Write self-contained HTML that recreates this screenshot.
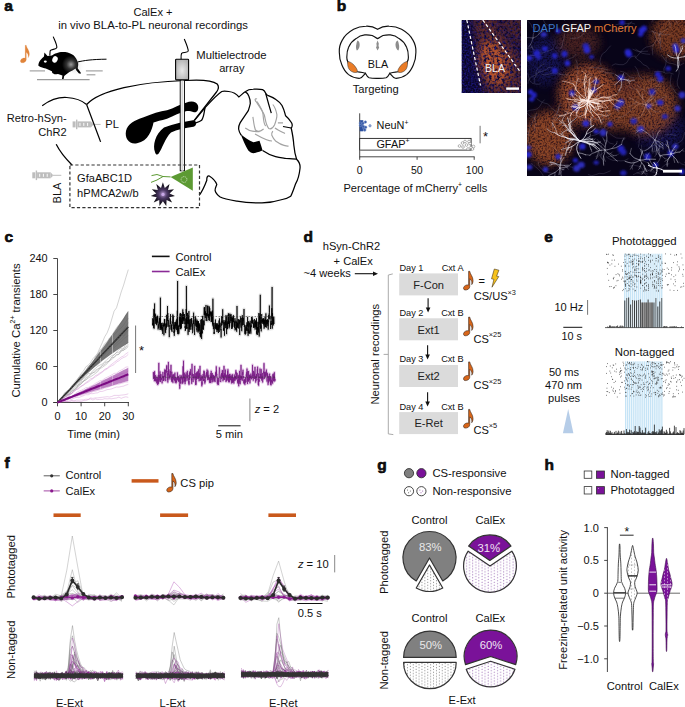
<!DOCTYPE html>
<html><head><meta charset="utf-8"><title>Figure</title><style>html,body{margin:0;padding:0;background:#fff;width:685px;height:707px;overflow:hidden}svg{display:block}text{font-family:"Liberation Sans",sans-serif}</style></head><body>
<svg width="685" height="707" viewBox="0 0 685 707" font-family="'Liberation Sans', sans-serif">
<rect width="685" height="707" fill="#fff"/>
<text x="4.3" y="10.8" font-size="15.5" font-weight="bold" fill="#111" stroke="#000" stroke-width="0.6">a</text>
<text x="153" y="16.3" font-size="11.1" text-anchor="middle" fill="#111">CalEx +</text>
<text x="153.1" y="28.9" font-size="11.3" text-anchor="middle" fill="#111">in vivo BLA-to-PL neuronal recordings</text>
<path transform="translate(25.2,45.3) scale(0.972)" d="M0,0 L1.1,0 C1.4,2.8 4.3,4.8 4.3,9 C4.3,10.8 3.5,12.2 3,12.8 C3.4,10.8 3.2,8.8 1.1,7.2 L1.1,14.8 C1.1,16.8 -1.2,18.1 -3.3,18 C-5,17.9 -5.4,16 -4.3,14.6 C-3.2,13.3 -1.4,12.8 0,13.2 Z" fill="#e0843a" stroke="#e0843a" stroke-width="0.21"/>
<line x1="29.7" y1="70.9" x2="45" y2="70.9" stroke="#9a9a9a" stroke-width="1.1"/>
<line x1="85.9" y1="70.9" x2="102.7" y2="70.9" stroke="#9a9a9a" stroke-width="1.1"/>
<line x1="86.6" y1="74.8" x2="95.4" y2="74.8" stroke="#9a9a9a" stroke-width="1.1"/>
<line x1="37" y1="79.6" x2="89.6" y2="79.6" stroke="#9a9a9a" stroke-width="1.1"/>
<defs><radialGradient id="mg" cx="71" cy="64.5" r="9" gradientUnits="userSpaceOnUse"><stop offset="0" stop-color="#9a9a9a"/><stop offset="0.5" stop-color="#333"/><stop offset="1" stop-color="#000"/></radialGradient><radialGradient id="mh" cx="74" cy="66" r="11" gradientUnits="userSpaceOnUse"><stop offset="0" stop-color="#ccc" stop-opacity="0.9"/><stop offset="1" stop-color="#fff" stop-opacity="0"/></radialGradient></defs>
<ellipse cx="79" cy="66" rx="9" ry="10" fill="url(#mh)"/>
<path d="M77.5,62 C84,60.5 92,59.3 106.5,59.2" fill="none" stroke="#000" stroke-width="1.0"/>
<path d="M38.3,65.6 C38.5,63 39.5,61 40.5,59.9 C41.8,58.3 43,57.2 44,56.4 L44.4,52.4 L47.5,55.9 C49,55.8 50.5,55.7 51.9,55.5 C53.5,54.5 55,53.6 56.3,53.3 C58.5,52.5 60.5,52 62.4,52 C64.5,52 66.2,52.1 67.7,52.4 C70.5,53.2 72.5,54.3 73.8,55.5 C75.5,57.2 77,59.5 77.7,62.1 C78.2,63.2 78.4,64.2 78.2,65.1 C78,66.3 77.8,67.4 77.7,68.2 L80.3,72.1 L81.2,73.5 L79,73.5 L76.4,70.4 C76,69.8 75.8,69.2 75.5,68.6 C73.5,70 71.5,71.2 69.4,72.1 C67.5,73.5 65.8,74.8 64.2,76.1 L63.6,78.9 L62,78.9 L62.4,75.6 C61,74.8 59.5,74.2 58,73.9 C56.8,74.1 55.6,74.3 54.5,74.3 L52.3,73 L51.9,71.3 C49.5,70.3 47.5,69.5 45.8,68.6 C44.2,68.2 42.8,67.8 41.4,67.3 C40.2,66.9 38.9,66.4 38.3,65.6 Z" fill="url(#mg)" stroke="none" stroke-width="1"/>
<ellipse cx="45.3" cy="61.6" rx="1.5" ry="1.1" fill="#fff"/>
<ellipse cx="55" cy="59.4" rx="2.6" ry="3.3" fill="#fff" transform="rotate(25 55 59.4)"/>
<path d="M53.2,36.6 C55,41 57.2,45 56.8,47.6 C56.2,50 50.3,48.8 50.1,51.2 L49.8,55.6" fill="none" stroke="#000" stroke-width="1.1"/>
<rect x="72.6" y="121.4" width="3" height="6" fill="#bdbdbd"/><rect x="76.0" y="119.60000000000001" width="1.4" height="9.6" fill="#bdbdbd"/><rect x="77.39999999999999" y="121.4" width="13.5" height="6" fill="#bdbdbd"/><rect x="79.39999999999999" y="122.9" width="1.1" height="3" fill="#f4f4f4"/><rect x="83.19999999999999" y="122.9" width="1.1" height="3" fill="#f4f4f4"/><rect x="87.0" y="122.9" width="1.1" height="3" fill="#f4f4f4"/><path d="M90.89999999999999,121.4 L93.1,123.80000000000001 L93.1,125.0 L90.89999999999999,127.4 Z" fill="#bdbdbd"/><rect x="93.1" y="123.9" width="7.5" height="1" fill="#bdbdbd"/>
<rect x="32.3" y="172.3" width="3" height="6" fill="#bdbdbd"/><rect x="35.699999999999996" y="170.5" width="1.4" height="9.6" fill="#bdbdbd"/><rect x="37.099999999999994" y="172.3" width="13.5" height="6" fill="#bdbdbd"/><rect x="39.099999999999994" y="173.8" width="1.1" height="3" fill="#f4f4f4"/><rect x="42.9" y="173.8" width="1.1" height="3" fill="#f4f4f4"/><rect x="46.699999999999996" y="173.8" width="1.1" height="3" fill="#f4f4f4"/><path d="M50.599999999999994,172.3 L52.8,174.70000000000002 L52.8,175.9 L50.599999999999994,178.3 Z" fill="#bdbdbd"/><rect x="52.8" y="174.8" width="8.5" height="1" fill="#bdbdbd"/>
<text x="66.6" y="121.9" font-size="11.1" text-anchor="end" fill="#111">Retro-hSyn-</text>
<text x="66.6" y="135.6" font-size="11.1" text-anchor="end" fill="#111">ChR2</text>
<text x="105.3" y="128.4" font-size="11.1" fill="#111">PL</text>
<text transform="translate(61.2,193) rotate(-90)" font-size="11.1" text-anchor="middle" fill="#111">BLA</text>
<text x="196.3" y="59.4" font-size="11.3" fill="#111">Multielectrode</text>
<text x="231.8" y="72.4" font-size="11.1" text-anchor="middle" fill="#111">array</text>
<text x="77.1" y="182.4" font-size="11.1" fill="#111">GfaABC1D</text>
<text x="77.1" y="197" font-size="11.1" fill="#111">hPMCA2w/b</text>
<path d="M42.2,105.7 C50,100 58,97 66.7,97.5 C75,98 82,100.5 86.6,104.5" fill="none" stroke="#000" stroke-width="1.25"/>
<path d="M86.6,104.5 L100.6,141.9" fill="none" stroke="#000" stroke-width="1.25"/>
<path d="M56.2,144.3 C60,152 66,159 72,165" fill="none" stroke="#000" stroke-width="1.25"/>
<path d="M86.6,104.5 C100,90 140,82 185,80.5 C200,79.5 212,80 217.2,84 C219.6,87 218,90 216.5,92 L193.8,120.8" fill="none" stroke="#000" stroke-width="1.25"/>
<path d="M245.2,91.8 C243,93 241.5,95 238.8,96.9 C237,94.5 233,92 228.8,91.5 C225,91 223,91 221.8,91.5 C218,94 212,100 205.1,107.7 L194.6,120.3" fill="none" stroke="#000" stroke-width="1.25"/>
<path d="M205.1,107.7 C204,112 204,117 201.6,120.3 C199.5,122 197,122.5 195.5,123" fill="none" stroke="#000" stroke-width="1.25"/>
<path d="M245.2,91.8 C248,89.5 251,89.2 253.4,89.2 C257,89 261,89.2 262.6,89.7 C264.5,90.5 265.2,92 265.7,93.3 C266.5,94.5 267,95 267.7,95.3 C271,96.5 274,98 275.9,99.4 C279,101.5 281,103.5 282,105.5 C283.5,108.5 284.5,111.5 285,113.7 C285.3,115 285.6,115.8 285.6,115.8 C287.5,117.5 289,119 290.2,120.9 C291.6,122.5 292.4,124.5 292.2,125.5 C292,127 291.5,127.8 291.2,128 C292.5,134 293.5,140 293.8,145 C294.3,150 295.5,156 296.6,159.2" fill="none" stroke="#000" stroke-width="1.25"/>
<path d="M265.7,93.3 C267.5,100 269.5,107 271.3,113.2" fill="none" stroke="#000" stroke-width="1.25"/>
<path d="M283,126.5 L291.2,128" fill="none" stroke="#000" stroke-width="1.25"/>
<path d="M245.2,91.8 C247,92.5 248.2,94 248.8,96 C250,99 250.5,102 250.3,103.5 C249.8,106 249,108.5 248.3,110.7 C245.5,115 242.5,119 240.1,122.9 C239,125 238.4,127 238.6,129 C239,131.5 240,133.5 241.1,135.2" fill="none" stroke="#000" stroke-width="1.25"/>
<path d="M240.6,134 C242.5,139 245.5,146 248.3,150.5 C250,152.5 252.5,153.5 255,153 C258,152.2 261,151.2 262.6,150.5 C261.5,147 260.5,143.5 259.5,140.8 C257,141.5 255,142 253.4,142.3 C249,140.5 244.5,137.5 240.6,134 Z" fill="#000" stroke="none" stroke-width="1"/>
<path d="M262.6,150.5 C267,153.5 272,155.8 275.6,156.7 C279,157.5 283,158 285.6,158.4 C290,158.6 294,158.8 296.6,159.2 C299.5,162 300.3,166 300,168.5 C299.3,175 297.8,180 295.7,183.6 C294,188 292.5,193 290.7,196.2 C288,198 285,199 282.3,199.5 C276,201.5 269,202.8 262,202.9 C253,203 245,202.5 237,201.2 C230,200 224,199 220.2,197 C217.5,195 215.5,193 215.1,190.3 C215,188 216.5,186 216.8,184.4 C215.5,181 212.5,178 209.3,176 C207.5,175.5 206.6,177.5 206.8,180.2 C205,185 202.5,191 199.2,195.3" fill="none" stroke="#000" stroke-width="1.25"/>
<path d="M257,99 C255,98 254.5,100 256,101.5 C259,106 262,110 264.3,115 C265.5,119 265.5,124 268.7,128.5 C271,129.5 273,128 274.5,125 C276,121 277,117 276.9,114.7 C276,110 274.5,106.5 272.8,104.5" fill="none" stroke="#a2a2a2" stroke-width="1.15"/>
<path d="M257,101.5 C260,106 262.5,110 263,114 C263.5,119 263.5,124 265.7,126" fill="none" stroke="#a2a2a2" stroke-width="1.15"/>
<path d="M252.9,116.8 C253.5,121 254,126 255.4,130 C257,131.8 260,131.8 263.6,129" fill="none" stroke="#a2a2a2" stroke-width="1.15"/>
<path d="M245.2,128 C248,130 250,131 252.4,131.1 C255,131.5 257,131.6 259.5,131.6" fill="none" stroke="#a2a2a2" stroke-width="1.15"/>
<path d="M272.8,131.1 C271.5,133 271.5,134.5 271.8,135.2 C273,138 274.5,140 275.9,141.3 C279,143.5 282,145 284,145.4 C286,146 287.5,146.3 288.6,146" fill="none" stroke="#a2a2a2" stroke-width="1.15"/>
<path d="M277.9,122.9 L283,122.9 M274.9,128 C278,130 282,132 285,133.6 M255,134 C262,138 268,141 272,141" fill="none" stroke="#a2a2a2" stroke-width="1.15"/>
<path d="M126,131 C127.5,124 135,120 143,117.5 C152,114 160,111 167,110.3 C174,108 180,104.5 186,102.7 C191,100.8 196.5,101 198,105.5 C199,110 196.8,112.8 194,112.2 C191,111.5 189,110.8 186,111.2 C180,112.5 174,115.5 167,118.8 C161,120.5 156.5,121.5 153.5,122.5 C152,130 148.5,141 137,143.3 C129.5,145 124.5,138.5 126,131 Z" fill="#000" stroke="none" stroke-width="1"/>
<path d="M155,152 C152.5,146 155,134 164,127.5 C174,124 184,121.5 193,120.3 C197,120 197.2,126.2 193.5,126.8 C185,128 177,129.8 171,132.4 C165,138 162.5,148 158.5,153.8 C157,155.5 155.3,154.2 155,152 Z" fill="#000" stroke="none" stroke-width="1"/>
<rect x="180.2" y="80" width="4.3" height="90.8" fill="#fff" stroke="#000" stroke-width="0.9"/>
<rect x="181.4" y="80" width="1.9" height="90.8" fill="#d8d8d8"/>
<defs><radialGradient id="eg" cx="0.5" cy="0.55" r="0.6"><stop offset="0" stop-color="#e8e8e8"/><stop offset="1" stop-color="#b0b0b0"/></radialGradient></defs>
<rect x="175.6" y="59.3" width="13" height="20.6" rx="0.8" fill="url(#eg)" stroke="#000" stroke-width="1.1"/>
<path d="M184.3,39 C186,43 188.6,49 188.2,51.2 C187.6,53 183,52 181.6,53.3 C181,54.5 181,57 181.1,59.3" fill="none" stroke="#000" stroke-width="1.1"/>
<rect x="69.9" y="165" width="129.6" height="42.6" fill="none" stroke="#333" stroke-width="1.2" stroke-dasharray="3.2,2.2"/>
<path d="M170.6,176.9 L192.8,167.4 L192.8,190.8 Z" fill="#5c9a33" stroke="none" stroke-width="1"/>
<path d="M170.6,176.9 L163,176.5 L157,174.5 L151.5,175.6 M163,176.5 L157,180 L151,182.4" fill="none" stroke="#5c9a33" stroke-width="1.0"/>
<circle cx="184" cy="179.5" r="2.9" fill="none" stroke="#e8f0e0" stroke-width="0.7" stroke-dasharray="1.2,0.8"/>
<defs><radialGradient id="sg" cx="0.5" cy="0.5" r="0.5"><stop offset="0" stop-color="#b89ad0"/><stop offset="0.35" stop-color="#4d3a66"/><stop offset="0.75" stop-color="#1a1422"/><stop offset="1" stop-color="#0a0a0a"/></radialGradient></defs>
<polygon points="162.9,182.2 164.8,187.9 169.5,184.1 168.0,189.9 174.0,189.3 169.6,193.4 175.0,196.1 169.1,197.2 172.1,202.4 166.6,200.1 166.3,206.1 162.9,201.2 159.5,206.1 159.2,200.1 153.7,202.4 156.7,197.2 150.8,196.1 156.2,193.4 151.8,189.3 157.8,189.9 156.3,184.1 161.0,187.9" fill="url(#sg)"/>
<circle cx="163" cy="194.4" r="1.6" fill="#c8a8e8"/>
<text x="336.8" y="11.2" font-size="15.5" font-weight="bold" fill="#111" stroke="#000" stroke-width="0.6">b</text>
<path d="M377.6,29.3 C374,27 370,26 366,26.2 C361,26.3 357,27.5 353.6,29.3 C348,32.5 344.5,36 342.4,39.9 C340,44 339,48 339.3,52.3 C339.3,57 340,61 341.8,64.7 C343.5,69 346,72.5 348.6,74.6 C352,77 356,78.5 359.8,78.3 C362,78 363.5,75.5 365.4,73.3 C366.5,75.5 367.5,77 369.1,77.7 C372,78.4 375,78.3 377.6,78.3 C380.2,78.3 383.2,78.4 386.1,77.7 C387.7,77 388.7,75.5 389.8,73.3 C391.7,75.5 393.2,78 395.4,78.3 C399.2,78.5 403.2,77 406.6,74.6 C409.2,72.5 411.7,69 413.4,64.7 C415.2,61 415.9,57 415.9,52.3 C416.2,48 415.2,44 412.8,39.9 C410.7,36 407.2,32.5 401.6,29.3 C398.2,27.5 394.2,26.3 389.2,26.2 C385.2,26 381.2,27 377.6,29.3 Z" fill="#fff" stroke="#111" stroke-width="1.15"/>
<path d="M365.4,73.3 C363,72.5 361.5,72.2 359.8,72.1 C356,71.8 353,71 351.1,69.6 C349.5,67 348.5,64.5 348,62.2 C347,60 346.7,58.5 346.8,57.2 C346.8,53 347.3,50 348.6,47.3 C350.5,43 353,40.5 356.1,38.6 C358.5,36.5 361.5,35.2 364.8,34.9 C367.5,34.7 370,35 372.2,35.5 C374.5,36.5 376,38 377.6,38.6 C379.2,38 380.7,36.5 383,35.5 C385.2,35 387.7,34.7 390.4,34.9 C393.7,35.2 396.7,36.5 399.1,38.6 C402.2,40.5 404.7,43 406.6,47.3 C407.9,50 408.4,53 408.4,57.2 C408.5,58.5 408.2,60 407.2,62.2 C406.7,64.5 405.7,67 404.1,69.6 C402.2,71 399.2,71.8 395.4,72.1 C393.7,72.2 392.2,72.5 389.8,73.3" fill="none" stroke="#111" stroke-width="1.15"/>
<path d="M347.9,61.4 C350.5,62 352.5,63.2 354.2,65.3 C356,67.5 357.3,69.5 357.4,71 C357.3,72.6 355.5,72.9 353.2,72.2 C350.5,71.3 348.8,69.4 348.2,67.3 C347.6,65.3 347.5,63 347.9,61.4 Z" fill="#ea7c27" stroke="#333" stroke-width="0.5"/>
<path d="M347.9,61.4 C350.5,62 352.5,63.2 354.2,65.3 C356,67.5 357.3,69.5 357.4,71 C357.3,72.6 355.5,72.9 353.2,72.2 C350.5,71.3 348.8,69.4 348.2,67.3 C347.6,65.3 347.5,63 347.9,61.4 Z" fill="#ea7c27" stroke="#333" stroke-width="0.5" transform="translate(755.2,0) scale(-1,1)"/>
<path d="M357.6,40.6 C359.2,41.5 360,43.5 359.6,46 C359.3,48 358.2,50 356.8,50.6 C356,49 355.7,46.5 356.4,44 C356.7,42.5 357,41.3 357.6,40.6 Z" fill="#8d8d8d" stroke="none" stroke-width="1"/>
<path d="M357.6,40.6 C359.2,41.5 360,43.5 359.6,46 C359.3,48 358.2,50 356.8,50.6 C356,49 355.7,46.5 356.4,44 C356.7,42.5 357,41.3 357.6,40.6 Z" fill="#8d8d8d" stroke="none" stroke-width="1" transform="translate(755.2,0) scale(-1,1)"/>
<path d="M377.6,40.6 L378.8,43.5 L378.5,46 L379.2,47.5 L377.6,50.6 L376,47.5 L376.7,46 L376.4,43.5 Z" fill="#8d8d8d" stroke="none" stroke-width="1"/>
<text x="377.9" y="67.9" font-size="10.8" text-anchor="middle" fill="#111">BLA</text>
<text x="375.7" y="93.4" font-size="11.2" text-anchor="middle" fill="#111">Targeting</text>
<line x1="359.7" y1="113.3" x2="359.7" y2="157.3" stroke="#333" stroke-width="0.9"/>
<line x1="359.7" y1="156.8" x2="474.6" y2="156.8" stroke="#333" stroke-width="0.9"/>
<line x1="359.7" y1="156.8" x2="359.7" y2="159.8" stroke="#333" stroke-width="0.9"/>
<line x1="417.1" y1="156.8" x2="417.1" y2="159.8" stroke="#333" stroke-width="0.9"/>
<line x1="474.2" y1="156.8" x2="474.2" y2="159.8" stroke="#333" stroke-width="0.9"/>
<rect x="359.7" y="120.2" width="3.6" height="11.1" fill="#2c4f9e"/>
<circle cx="363.8" cy="128.0" r="1.25" fill="#3558a8" stroke="#7d96c8" stroke-width="0.5"/>
<circle cx="364.8" cy="130.0" r="1.25" fill="#3558a8" stroke="#7d96c8" stroke-width="0.5"/>
<circle cx="364.5" cy="129.8" r="1.25" fill="#3558a8" stroke="#7d96c8" stroke-width="0.5"/>
<circle cx="360.4" cy="125.4" r="1.25" fill="#3558a8" stroke="#7d96c8" stroke-width="0.5"/>
<circle cx="365.7" cy="127.2" r="1.25" fill="#3558a8" stroke="#7d96c8" stroke-width="0.5"/>
<circle cx="365.4" cy="122.1" r="1.25" fill="#3558a8" stroke="#7d96c8" stroke-width="0.5"/>
<circle cx="362.9" cy="123.3" r="1.25" fill="#3558a8" stroke="#7d96c8" stroke-width="0.5"/>
<circle cx="363.4" cy="126.5" r="1.25" fill="#3558a8" stroke="#7d96c8" stroke-width="0.5"/>
<circle cx="360.3" cy="123.1" r="1.25" fill="#3558a8" stroke="#7d96c8" stroke-width="0.5"/>
<circle cx="370" cy="125.8" r="1.2" fill="#9db0d8" stroke="#4a6ab0" stroke-width="0.5"/>
<rect x="359.7" y="138.4" width="111.4" height="11.8" fill="#fff" stroke="#222" stroke-width="0.9"/>
<line x1="359.7" y1="150.3" x2="471" y2="150.3" stroke="#888" stroke-width="1.2"/>
<circle cx="459.5" cy="146" r="1.35" fill="#fff" stroke="#777" stroke-width="0.55"/>
<circle cx="462.5" cy="143" r="1.35" fill="#fff" stroke="#777" stroke-width="0.55"/>
<circle cx="463" cy="147" r="1.35" fill="#fff" stroke="#777" stroke-width="0.55"/>
<circle cx="465" cy="141.5" r="1.35" fill="#fff" stroke="#777" stroke-width="0.55"/>
<circle cx="466.5" cy="145" r="1.35" fill="#fff" stroke="#777" stroke-width="0.55"/>
<circle cx="468" cy="149" r="1.35" fill="#fff" stroke="#777" stroke-width="0.55"/>
<circle cx="470" cy="143.5" r="1.35" fill="#fff" stroke="#777" stroke-width="0.55"/>
<circle cx="471" cy="147.5" r="1.35" fill="#fff" stroke="#777" stroke-width="0.55"/>
<circle cx="472.5" cy="149" r="1.35" fill="#fff" stroke="#777" stroke-width="0.55"/>
<circle cx="473.5" cy="146.5" r="1.35" fill="#fff" stroke="#777" stroke-width="0.55"/>
<circle cx="469" cy="141.5" r="1.35" fill="#fff" stroke="#777" stroke-width="0.55"/>
<line x1="480.1" y1="125.8" x2="480.1" y2="143.3" stroke="#666" stroke-width="0.9"/>
<text x="485.6" y="140.5" font-size="13" text-anchor="middle" fill="#111">*</text>
<text x="376.6" y="129.4" font-size="10.9" fill="#111">NeuN<tspan font-size="6.8" dy="-4.6">+</tspan></text>
<text x="376.4" y="148" font-size="10.9" fill="#111">GFAP<tspan font-size="6.8" dy="-4.6">+</tspan></text>
<text x="359.7" y="173.5" font-size="10.5" text-anchor="middle" fill="#111">0</text>
<text x="416.8" y="173.5" font-size="10.5" text-anchor="middle" fill="#111">50</text>
<text x="474.6" y="173.5" font-size="10.5" text-anchor="middle" fill="#111">100</text>
<text x="343.4" y="192.3" font-size="11.1" fill="#111">Percentage of mCherry<tspan font-size="6.8" dy="-5">+</tspan><tspan dy="5"> cells</tspan></text>
<defs><clipPath id="cpS"><rect x="461.5" y="20" width="59.5" height="73"/></clipPath><filter id="sF" filterUnits="userSpaceOnUse" x="461.5" y="20" width="59.5" height="73"><feGaussianBlur in="SourceGraphic" stdDeviation="4" result="b"/><feTurbulence type="fractalNoise" baseFrequency="0.38" numOctaves="2" seed="12" result="t"/><feColorMatrix in="t" type="matrix" values="0 0 0 0 0  0 0 0 0 0  0 0 0 0 0  3.0 0 0 0 -0.8" result="ta"/><feComposite in="b" in2="ta" operator="in"/></filter><filter id="sF2" filterUnits="userSpaceOnUse" x="461.5" y="20" width="59.5" height="73"><feGaussianBlur in="SourceGraphic" stdDeviation="3" result="b"/><feTurbulence type="fractalNoise" baseFrequency="0.6" numOctaves="1" seed="3" result="t"/><feColorMatrix in="t" type="matrix" values="0 0 0 0 0  0 0 0 0 0  0 0 0 0 0  3 0 0 0 -1.1" result="ta"/><feComposite in="b" in2="ta" operator="in"/></filter></defs>
<g clip-path="url(#cpS)">
<rect x="461.5" y="20" width="59.5" height="73" fill="#0a0626"/>
<g filter="url(#sF2)" opacity="0.5"><rect x="455" y="15" width="75" height="85" fill="#2a22c0"/></g>
<g filter="url(#sF)"><path d="M472,15 L490,15 L522,58 L522,95 L486,95 Z" fill="#7a3420" opacity="0.75"/><ellipse cx="493" cy="63" rx="14" ry="22" fill="#b8542a" transform="rotate(-18 493 63)"/><path d="M492,15 L525,15 L525,52 Z" fill="#6a3020" opacity="0.7"/></g>
</g>
<line x1="466.8" y1="20" x2="480.5" y2="85.5" stroke="#fff" stroke-width="1.2" stroke-dasharray="3.2,2.2"/>
<line x1="482.8" y1="20" x2="520" y2="71.5" stroke="#fff" stroke-width="1.2" stroke-dasharray="3.2,2.2"/>
<text x="495" y="71.8" font-size="10.6" text-anchor="middle" fill="#f0f0f0">BLA</text>
<rect x="506.2" y="87.4" width="12.8" height="2.4" fill="#fff"/>
<defs><clipPath id="cpB"><rect x="527" y="20" width="158" height="156"/></clipPath><filter id="blobF" filterUnits="userSpaceOnUse" x="527" y="20" width="158" height="156"><feGaussianBlur in="SourceGraphic" stdDeviation="5" result="b"/><feTurbulence type="fractalNoise" baseFrequency="0.55" numOctaves="2" seed="4" result="t"/><feColorMatrix in="t" type="matrix" values="0 0 0 0 0  0 0 0 0 0  0 0 0 0 0  2.6 0 0 0 -0.55" result="ta"/><feComposite in="b" in2="ta" operator="in"/></filter><filter id="nucF" filterUnits="userSpaceOnUse" x="527" y="20" width="158" height="156"><feGaussianBlur stdDeviation="0.9"/></filter><filter id="glowF" filterUnits="userSpaceOnUse" x="527" y="20" width="158" height="156"><feGaussianBlur stdDeviation="6"/></filter><filter id="fibF" filterUnits="userSpaceOnUse" x="527" y="20" width="158" height="156"><feGaussianBlur stdDeviation="0.25"/></filter></defs>
<g clip-path="url(#cpB)">
<rect x="527" y="20" width="158" height="156" fill="#080418"/>
<g filter="url(#blobF)" opacity="0.6"><ellipse cx="545" cy="60" rx="20" ry="25" fill="#1a1a70"/><ellipse cx="660" cy="130" rx="25" ry="20" fill="#1a1a70"/></g>
<g filter="url(#glowF)" opacity="0.55">
<ellipse cx="588" cy="95" rx="27.0" ry="27.900000000000002" fill="#5a2412" opacity="1"/>
<ellipse cx="645" cy="105" rx="28.8" ry="27.0" fill="#5a2412" opacity="1"/>
<ellipse cx="549" cy="138" rx="21.6" ry="24.3" fill="#5a2412" opacity="1"/>
<ellipse cx="615" cy="118" rx="14.4" ry="10.8" fill="#5a2412" opacity="0.9"/>
<ellipse cx="676" cy="36" rx="22.5" ry="19.8" fill="#5a2412" opacity="0.95"/>
<ellipse cx="578" cy="42" rx="19.8" ry="14.4" fill="#5a2412" opacity="0.55"/>
<ellipse cx="626" cy="86" rx="10.8" ry="9.0" fill="#5a2412" opacity="0.6"/>
</g>
<g filter="url(#blobF)">
<ellipse cx="588" cy="95" rx="30" ry="31" fill="#94492c" opacity="1"/>
<ellipse cx="645" cy="105" rx="32" ry="30" fill="#7e3f26" opacity="1"/>
<ellipse cx="549" cy="138" rx="24" ry="27" fill="#8a4428" opacity="1"/>
<ellipse cx="615" cy="118" rx="16" ry="12" fill="#804028" opacity="0.9"/>
<ellipse cx="676" cy="36" rx="25" ry="22" fill="#7a3c24" opacity="0.95"/>
<ellipse cx="578" cy="42" rx="22" ry="16" fill="#643024" opacity="0.55"/>
<ellipse cx="626" cy="86" rx="12" ry="10" fill="#643024" opacity="0.6"/>
</g>
<g><path d="M553.1 127.6l-1.3-3.8 1.1-3.9 1-3.8 2.9-2.8 1.6-3.7 1.8-3.6" fill="none" stroke="#b0b0cc" stroke-width="0.4" stroke-opacity="0.45"/><path d="M651.6 22.2l2.3-3.2 3.4-2.2 2.4-3.2 1.4-3.8-.9-3.9 1.6-3.7" fill="none" stroke="#b0b0cc" stroke-width="0.4" stroke-opacity="0.45"/><path d="M643.7 156.5l-1.1-3.8-1-3.9-.1-4" fill="none" stroke="#b0b0cc" stroke-width="0.4" stroke-opacity="0.45"/><path d="M629.5 166.3l3.8-1.2 3.9 .8 4 .7" fill="none" stroke="#b0b0cc" stroke-width="0.4" stroke-opacity="0.45"/><path d="M614.2 73.5l-4-.4-4-.3-3.6-1.7-3.9 .2" fill="none" stroke="#b0b0cc" stroke-width="0.4" stroke-opacity="0.45"/><path d="M558.2 125.1l3.2-2.4 1.5-3.7 1.9-3.5 2.1-3.5 1.6-3.6 .8-3.9-.8-3.9" fill="none" stroke="#b0b0cc" stroke-width="0.4" stroke-opacity="0.45"/><path d="M611.7 65.6l3.6-1.7 3.9 .7 4 .1 3.5-2 2.1-3.4 2.9-2.8 3.9-.6" fill="none" stroke="#b0b0cc" stroke-width="0.4" stroke-opacity="0.45"/><path d="M605.4 96.7l-4 0-4-.4-3.9-.7-3.8-1.3-4 .2-3.6 1.7-3.2 2.4" fill="none" stroke="#b0b0cc" stroke-width="0.4" stroke-opacity="0.45"/><path d="M673.5 74.1l-3.8-1.2-4 .3-3.7-1.6-4-.1-4 .3" fill="none" stroke="#b0b0cc" stroke-width="0.4" stroke-opacity="0.45"/><path d="M552.3 25.7l-4 0-3.3-2.3-1.7-3.6-1.2-3.8" fill="none" stroke="#b0b0cc" stroke-width="0.4" stroke-opacity="0.45"/><path d="M666.5 96.6l-3.8 1-3.4 2.1-3.5 1.9-3.4 2.2" fill="none" stroke="#b0b0cc" stroke-width="0.4" stroke-opacity="0.45"/><path d="M591.4 135.7l3.9-.7 3.6-1.8 3-2.7 2.7-2.9 1.4-3.7" fill="none" stroke="#b0b0cc" stroke-width="0.4" stroke-opacity="0.45"/><path d="M538 72.7l3.7-1.3 3.8-1.4 3.1-2.5 4-.4" fill="none" stroke="#b0b0cc" stroke-width="0.4" stroke-opacity="0.45"/><path d="M610 133.7l3.2 2.4 3.5 1.9 4 .3 4-.3" fill="none" stroke="#b0b0cc" stroke-width="0.4" stroke-opacity="0.45"/><path d="M649.1 95.6l2.7-3 2.7-2.9 2-3.5 2.9-2.7 .9-3.9 1.8-3.6" fill="none" stroke="#b0b0cc" stroke-width="0.4" stroke-opacity="0.45"/><path d="M677.7 23.7l-2.1-3.4-1.8-3.6-2.7-2.9-3-2.6" fill="none" stroke="#b0b0cc" stroke-width="0.4" stroke-opacity="0.45"/><path d="M678.5 161.3l3 2.6 3.8 1.3 3.5 2" fill="none" stroke="#b0b0cc" stroke-width="0.4" stroke-opacity="0.45"/><path d="M651.2 31.2l3.8 1.2 3.8 1.4 4 .5 3.9 .5 3.9-.8" fill="none" stroke="#b0b0cc" stroke-width="0.4" stroke-opacity="0.45"/><path d="M553.2 48.7l-3.5 1.8-3.8 1.3-3.8 1.3-4 .1-3.4 2.2-4 .2-3.9 .7" fill="none" stroke="#b0b0cc" stroke-width="0.4" stroke-opacity="0.45"/><path d="M663.6 82.1l-4-.5-3.7-1.4-4-.6-3.7 1.6" fill="none" stroke="#b0b0cc" stroke-width="0.4" stroke-opacity="0.45"/><path d="M588.4 68.3l3.9-1 4 .5 4 .4 3.9 .8 3.9 1" fill="none" stroke="#b0b0cc" stroke-width="0.4" stroke-opacity="0.45"/><path d="M536.5 112.8l-.9 3.9-1.9 3.5-1.9 3.5-2.2 3.4-.2 4-1.7 3.6-3.4 2.1" fill="none" stroke="#b0b0cc" stroke-width="0.4" stroke-opacity="0.45"/><path d="M583.1 69.6l3.7 1.6 3.4 2.2 2.9 2.6" fill="none" stroke="#b0b0cc" stroke-width="0.4" stroke-opacity="0.45"/><path d="M654.6 172.5l-3.9-1-3.5-1.9-3.6-1.8" fill="none" stroke="#b0b0cc" stroke-width="0.4" stroke-opacity="0.45"/><path d="M608.1 156.6l3.9-.4 4-.7 3.5-1.9" fill="none" stroke="#b0b0cc" stroke-width="0.4" stroke-opacity="0.45"/><path d="M638.3 147.5l.7-3.9 .3-4-.5-4-1.8-3.6 .1-4 .9-3.9" fill="none" stroke="#b0b0cc" stroke-width="0.4" stroke-opacity="0.45"/><path d="M532.9 47l-3.8 1.3-4-.1-3.9-.6-3.6-1.8-3.1-2.5-1.8-3.6-1-3.8" fill="none" stroke="#b0b0cc" stroke-width="0.4" stroke-opacity="0.45"/><path d="M634.9 58.3l2.9-2.8 2.5-3.1 2.6-3.1 3.3-2.3 3.9-.5 3.5-2" fill="none" stroke="#b0b0cc" stroke-width="0.4" stroke-opacity="0.45"/><path d="M558.9 156.6l-.6-4-2.4-3.1-3.1-2.6" fill="none" stroke="#b0b0cc" stroke-width="0.4" stroke-opacity="0.45"/><path d="M676.1 135.8l-3.8-1.4-4 .2-3.9 .5" fill="none" stroke="#b0b0cc" stroke-width="0.4" stroke-opacity="0.45"/><path d="M634.2 78l-3.9-.9-2.8-2.7-3.4-2.2-3.9-1" fill="none" stroke="#b0b0cc" stroke-width="0.4" stroke-opacity="0.45"/><path d="M660.6 43.9l-2.7-2.9-2-3.5-1.1-3.8-2.5-3.2" fill="none" stroke="#b0b0cc" stroke-width="0.4" stroke-opacity="0.45"/><path d="M589 82.7l-4 .1-3.9-.6-3.8-1.2-4 .7-3.7-1.5" fill="none" stroke="#b0b0cc" stroke-width="0.4" stroke-opacity="0.45"/><path d="M561 74.7l-3.9-.9-3.9-1-3.8 1.3-3.9 .7-4-.2" fill="none" stroke="#b0b0cc" stroke-width="0.4" stroke-opacity="0.45"/><path d="M565 21.2l-2.7-3-3.6-1.8-3.7-1.3" fill="none" stroke="#b0b0cc" stroke-width="0.4" stroke-opacity="0.45"/><path d="M527.5 45.9l-3.6-1.8-4 .2-3.6 1.7-3.4 2.1-3.5 1.9-2.8 2.9" fill="none" stroke="#b0b0cc" stroke-width="0.4" stroke-opacity="0.45"/><path d="M653.8 151.6l3.8-1.1 2.8-2.9 2.6-3" fill="none" stroke="#b0b0cc" stroke-width="0.4" stroke-opacity="0.45"/><path d="M658.6 174.3l-3.6-1.8-2.7-3-2.2-3.3-1.8-3.6" fill="none" stroke="#b0b0cc" stroke-width="0.4" stroke-opacity="0.45"/><path d="M601.4 144.8l-.5 4 .5 4-.2 3.9 2 3.5 .7 3.9" fill="none" stroke="#b0b0cc" stroke-width="0.4" stroke-opacity="0.45"/><path d="M632.6 49.1l3.6 1.7 3.8 1.1 4-.6 4-.1" fill="none" stroke="#b0b0cc" stroke-width="0.4" stroke-opacity="0.45"/><path d="M570.5 143.1l-1.8 3.6-3.3 2.2-3.4 2.1" fill="none" stroke="#b0b0cc" stroke-width="0.4" stroke-opacity="0.45"/><path d="M591.5 127.8l-.9-3.9-1.7-3.6-2.8-2.9-2.8-2.8-1.9-3.5-1.5-3.8-.8-3.9" fill="none" stroke="#b0b0cc" stroke-width="0.4" stroke-opacity="0.45"/><path d="M628.5 23.3l-1.3 3.8-2.8 2.9-3.6 1.7-4-.2-3.8-1-4 .3" fill="none" stroke="#b0b0cc" stroke-width="0.4" stroke-opacity="0.45"/><path d="M649.9 160.8l-2.9-2.8-3.2-2.4-1.5-3.6" fill="none" stroke="#b0b0cc" stroke-width="0.4" stroke-opacity="0.45"/><path d="M675 143.8l3.8-1.2 3.3-2.3 1.5-3.7 1-3.9 2.1-3.4" fill="none" stroke="#b0b0cc" stroke-width="0.4" stroke-opacity="0.45"/><path d="M555.8 172l-3.8 1.4-3.8-1-3.8-1.2-3.2-2.4-2.4-3.3-.7-3.9" fill="none" stroke="#b0b0cc" stroke-width="0.4" stroke-opacity="0.45"/><path d="M584.3 32.9l-2.9 2.8-3.4 2.1-4 .5-4 .2" fill="none" stroke="#b0b0cc" stroke-width="0.4" stroke-opacity="0.45"/><path d="M684.1 162.2l3.8 1.2 3.3 2.2 2.6 3.1" fill="none" stroke="#b0b0cc" stroke-width="0.4" stroke-opacity="0.45"/><path d="M560.6 103.1l-2 3.5-.4 3.9-1.2 3.9-1.6 3.6-1.6 3.7-1.5 3.7-.1 4" fill="none" stroke="#b0b0cc" stroke-width="0.4" stroke-opacity="0.45"/><path d="M560.5 48.8l1.8-3.6 .8-3.9 .9-3.9 .8-3.9" fill="none" stroke="#b0b0cc" stroke-width="0.4" stroke-opacity="0.45"/><path d="M532.6 148.4l-2.7-3-1.8-3.5 .5-4-.1-4-.6-4" fill="none" stroke="#b0b0cc" stroke-width="0.4" stroke-opacity="0.45"/><path d="M527.6 123.6l-2.5-3.1-2.6-3.1-2.6-2.9-1.1-3.9-.9-3.9 .4-4 1.2-3.8" fill="none" stroke="#b0b0cc" stroke-width="0.4" stroke-opacity="0.45"/><path d="M531.3 163l2.8 2.8 3.2 2.4 2.8 2.9 2.4 3.2 1.6 3.7" fill="none" stroke="#b0b0cc" stroke-width="0.4" stroke-opacity="0.45"/><path d="M663.7 137.2l-3.5 1.9-3.4 2.1-2.1 3.4-3.5 2-3.6 1.7" fill="none" stroke="#b0b0cc" stroke-width="0.4" stroke-opacity="0.45"/><path d="M579.6 152.4l.6-4-1.2-3.8 .5-4-.7-3.9" fill="none" stroke="#b0b0cc" stroke-width="0.4" stroke-opacity="0.45"/><path d="M634.8 66.1l2.4 3.3 1.2 3.8 1.3 3.8 3.1 2.5" fill="none" stroke="#b0b0cc" stroke-width="0.4" stroke-opacity="0.45"/><path d="M669.3 163.7l-3.9 .9-3.2 2.5-1.5 3.7" fill="none" stroke="#b0b0cc" stroke-width="0.4" stroke-opacity="0.45"/><path d="M637 84.5l2.3 3.3 3.7 1.5 3.2 2.5 2.9 2.7 3 2.6 3.1 2.6 1.2 3.8" fill="none" stroke="#b0b0cc" stroke-width="0.4" stroke-opacity="0.45"/><path d="M586.1 119.2l-3.7-1.6-3.8-1.2-3.9-.9-3.6-1.7-3.1-2.5" fill="none" stroke="#b0b0cc" stroke-width="0.4" stroke-opacity="0.45"/><path d="M619.6 88.5l-1.2 3.8-2.3 3.2-3.6 1.8-4 .6-3.7 1.4-2.9 2.7" fill="none" stroke="#b0b0cc" stroke-width="0.4" stroke-opacity="0.45"/><path d="M529.1 62.3l-2.6-3.1-3.8-1.2-3.9 .2-3.6 1.8-3.8 1.2" fill="none" stroke="#b0b0cc" stroke-width="0.4" stroke-opacity="0.45"/><path d="M660.9 54.5l2.5 3 2.1 3.5 3.4 2.1 3.9 .5 3.8 1.5 4 0 3.4-2.1" fill="none" stroke="#b0b0cc" stroke-width="0.4" stroke-opacity="0.45"/><path d="M650.2 54.3l-4-.3-3.9-.7-3.4-2.1-3.4-2.1" fill="none" stroke="#b0b0cc" stroke-width="0.4" stroke-opacity="0.45"/><path d="M631.8 21.4l-2.5 3.1-3.2 2.4-4 .7-3.8 1.2-3.9 .7" fill="none" stroke="#b0b0cc" stroke-width="0.4" stroke-opacity="0.45"/><path d="M534.3 83l-.1-4 1.9-3.5-.1-4 2.1-3.4 3-2.6 3.6-1.7" fill="none" stroke="#b0b0cc" stroke-width="0.4" stroke-opacity="0.45"/><path d="M610.8 45.6l-2.7 2.9-2.4 3.2-3.3 2.2-1.7 3.6-.8 4 1.2 3.8" fill="none" stroke="#b0b0cc" stroke-width="0.4" stroke-opacity="0.45"/><path d="M578.3 143.7l-.8-3.9-1.3-3.8-2.3-3.3-1.6-3.7" fill="none" stroke="#b0b0cc" stroke-width="0.4" stroke-opacity="0.45"/><path d="M670.2 27.7l0-4-1.9-3.6 .4-4-1.1-3.8 .9-4 1.8-3.5" fill="none" stroke="#b0b0cc" stroke-width="0.4" stroke-opacity="0.45"/><path d="M534.4 117.7l-3.8-1.2-2.8-2.9-3.1-2.6-3.7-1.4-3.9 .9-3.4 2.1" fill="none" stroke="#b0b0cc" stroke-width="0.4" stroke-opacity="0.45"/><path d="M664.2 72.6l-.4-4 1.8-3.6 .6-4-.1-4" fill="none" stroke="#b0b0cc" stroke-width="0.4" stroke-opacity="0.45"/><path d="M660.7 49.6l-.4-4-.4-4-1.2-3.8 .7-3.9" fill="none" stroke="#b0b0cc" stroke-width="0.4" stroke-opacity="0.45"/><path d="M660.7 42.7l0-4-1.1-3.8 1.2-3.8" fill="none" stroke="#b0b0cc" stroke-width="0.4" stroke-opacity="0.45"/><path d="M578.8 79.3l3.9 .4 3.6-1.7 3.8-1.4 4 .6" fill="none" stroke="#b0b0cc" stroke-width="0.4" stroke-opacity="0.45"/><path d="M560.5 173.6l1.7-3.6 3.2-2.5 3.9-.8 3.9 .7" fill="none" stroke="#b0b0cc" stroke-width="0.4" stroke-opacity="0.45"/><path d="M681.6 97.9l-2.4-3.2-3.5-2-2.1-3.4-2.7-3-.7-3.9 .5-4 .6-3.9" fill="none" stroke="#b0b0cc" stroke-width="0.4" stroke-opacity="0.45"/><path d="M534.6 131.2l-.1-4 1.2-3.8-1-3.9-.4-3.9" fill="none" stroke="#b0b0cc" stroke-width="0.4" stroke-opacity="0.45"/><path d="M544.6 99.6l-2.7 3-1.9 3.5-2.8 2.8-3.9 .9-4 .6-3.6 1.7" fill="none" stroke="#b0b0cc" stroke-width="0.4" stroke-opacity="0.45"/><path d="M527.9 83.8l.8-3.9 2.6-3 3.7-1.6 3.1-2.5 2.6-3.1" fill="none" stroke="#b0b0cc" stroke-width="0.4" stroke-opacity="0.45"/><path d="M610.7 121.6l-2.2-3.3-.9-3.9-1.8-3.6-.5-3.9" fill="none" stroke="#b0b0cc" stroke-width="0.4" stroke-opacity="0.45"/><path d="M527.6 73.1l1.1 3.8 1.1 3.9 3 2.7 3.9 .7 4-.2" fill="none" stroke="#b0b0cc" stroke-width="0.4" stroke-opacity="0.45"/><path d="M634.9 56.2l2.3 3.2 3.4 2.1 2.6 3.1 3.7 1.5 2.5 3.1" fill="none" stroke="#b0b0cc" stroke-width="0.4" stroke-opacity="0.45"/><path d="M575.7 59.4l1.4 3.8 0 4 .9 3.9-1.1 3.8 1.1 3.9 2 3.5" fill="none" stroke="#b0b0cc" stroke-width="0.4" stroke-opacity="0.45"/><path d="M563 148.1l2.6-3 .9-3.9 2.8-2.8 3.8-1.2" fill="none" stroke="#b0b0cc" stroke-width="0.4" stroke-opacity="0.45"/><path d="M599.8 128.1l1.9-3.6 1.6-3.6-.6-4-1.1-3.9" fill="none" stroke="#b0b0cc" stroke-width="0.4" stroke-opacity="0.45"/><path d="M603.9 160.6l-2.9-2.6-1.4-3.8-.9-3.9-2.8-2.8" fill="none" stroke="#b0b0cc" stroke-width="0.4" stroke-opacity="0.45"/><path d="M648.1 174.1l-3.8-1.1-3.9 .9-3.8-1.2" fill="none" stroke="#b0b0cc" stroke-width="0.4" stroke-opacity="0.45"/><path d="M679.5 88.7l-2-3.4-.3-4 1-3.9 .9-3.9-.1-3.9" fill="none" stroke="#b0b0cc" stroke-width="0.4" stroke-opacity="0.45"/><path d="M616.4 119.7l3.1-2.5 3.9-.8 3.3-2.3 3-2.6 2.4-3.2" fill="none" stroke="#b0b0cc" stroke-width="0.4" stroke-opacity="0.45"/><path d="M568.3 75l-3.9-.3-4-.4-3.4-2.2" fill="none" stroke="#b0b0cc" stroke-width="0.4" stroke-opacity="0.45"/><path d="M628.4 158.6l-3.6 1.9-3.9 .4-4-.4-4-.2-3.7-1.5-3.3-2.3" fill="none" stroke="#b0b0cc" stroke-width="0.4" stroke-opacity="0.45"/><path d="M576.8 116.1l-.5-4-1.7-3.6 .1-4 1.8-3.6 .5-3.9-1.1-3.9-.8-3.9" fill="none" stroke="#b0b0cc" stroke-width="0.4" stroke-opacity="0.45"/><path d="M678.6 45.8l3.2-2.4 3.8-1.3 3.7-1.6 3.7-1.5" fill="none" stroke="#b0b0cc" stroke-width="0.4" stroke-opacity="0.45"/><path d="M566.3 60.1l3.6-1.7 3.8-1.3 2.5-3.1" fill="none" stroke="#b0b0cc" stroke-width="0.4" stroke-opacity="0.45"/><path d="M684 46.6l4 .3 3.6 1.7 3.3 2.2 2.9 2.8 2.1 3.4-.1 4-1.8 3.6" fill="none" stroke="#b0b0cc" stroke-width="0.4" stroke-opacity="0.45"/><path d="M589.7 116.4l3.4 2.1 3.8 1.1 4 .6 3.9-.8" fill="none" stroke="#b0b0cc" stroke-width="0.4" stroke-opacity="0.45"/><path d="M633 174.8l3.6-1.7 3.8-1.3 3.9 .5 3.7-1.5 3.4-2.1 3.1-2.6" fill="none" stroke="#b0b0cc" stroke-width="0.4" stroke-opacity="0.45"/><path d="M580.9 86.7l2.4 3.2 3.4 2.2 3.9 .9 4 0" fill="none" stroke="#b0b0cc" stroke-width="0.4" stroke-opacity="0.45"/><path d="M652.8 55.3l-.3-3.9-.3-4 1.8-3.7 2.1-3.3" fill="none" stroke="#b0b0cc" stroke-width="0.4" stroke-opacity="0.45"/><path d="M532.3 28l-1.4-3.7-2.7-2.9-3.1-2.6-1.9-3.5-2.1-3.4-3.5-1.9-4-.3" fill="none" stroke="#b0b0cc" stroke-width="0.4" stroke-opacity="0.45"/><path d="M556.4 111.4l-3.5-1.9-2.6-3-3-2.7-3.8-1-3.6-1.8-3.2-2.4" fill="none" stroke="#b0b0cc" stroke-width="0.4" stroke-opacity="0.45"/><path d="M658 35.5l3.3-2.2 3-2.7 3.4-2.1" fill="none" stroke="#b0b0cc" stroke-width="0.4" stroke-opacity="0.45"/><path d="M613.8 144.1l-3.9-.9-3-2.7-3.9-.7" fill="none" stroke="#b0b0cc" stroke-width="0.4" stroke-opacity="0.45"/><path d="M648 162.6l-3.8-1.2-3.8-1.2-4-.4-3.7 1.5" fill="none" stroke="#b0b0cc" stroke-width="0.4" stroke-opacity="0.45"/><path d="M590 122.4l3-2.6 3.8-1.3 3.6-1.7 3.9-1.1 2.8-2.8" fill="none" stroke="#b0b0cc" stroke-width="0.4" stroke-opacity="0.45"/><path d="M652.5 130.4l.7 4 .4 4 .1 4 1.4 3.7-.7 4-1.8 3.5" fill="none" stroke="#b0b0cc" stroke-width="0.4" stroke-opacity="0.45"/><path d="M595.7 159.3l2.4-3.1 3.5-2 2.9-2.7 3.8-1.5" fill="none" stroke="#b0b0cc" stroke-width="0.4" stroke-opacity="0.45"/><path d="M635.1 24.1l-3.8-1.2-3.9 .6-4 .6-4-.1-3.9 .8" fill="none" stroke="#b0b0cc" stroke-width="0.4" stroke-opacity="0.45"/><path d="M660.3 86.1l-2.2 3.3-3.2 2.4-1.9 3.5-2.1 3.4-3.6 1.9-2.6 3-3 2.6" fill="none" stroke="#b0b0cc" stroke-width="0.4" stroke-opacity="0.45"/><path d="M610.7 170.7l-3.7 1.6-3.7 1.4-4-.4-3.7 1.4-3.9 1-3.8-1.2" fill="none" stroke="#b0b0cc" stroke-width="0.4" stroke-opacity="0.45"/><path d="M640.1 166.2l2.5 3.1 1.3 3.8 3.1 2.5 2.6 3" fill="none" stroke="#b0b0cc" stroke-width="0.4" stroke-opacity="0.45"/></g>
<g filter="url(#nucF)">
<ellipse cx="543.7" cy="34.4" rx="3.1" ry="2.7" fill="#3030c8" opacity="0.9"/>
<ellipse cx="558.1" cy="31" rx="2.8" ry="2.5" fill="#2626cc" opacity="0.9"/>
<ellipse cx="544.9" cy="48.8" rx="3.1" ry="2.8" fill="#2626cc" opacity="0.9"/>
<ellipse cx="536.8" cy="53.4" rx="3.5" ry="3.6" fill="#2626cc" opacity="0.9"/>
<ellipse cx="538.5" cy="56.9" rx="2.8" ry="3.0" fill="#2222b8" opacity="0.9"/>
<ellipse cx="529.3" cy="58" rx="3.0" ry="2.6" fill="#2a2ad8" opacity="0.9"/>
<ellipse cx="554.7" cy="55.8" rx="2.7" ry="2.8" fill="#2626cc" opacity="0.9"/>
<ellipse cx="564.5" cy="54" rx="3.0" ry="3.2" fill="#2626cc" opacity="0.9"/>
<ellipse cx="567.4" cy="63.2" rx="2.8" ry="2.9" fill="#2a2ad8" opacity="0.9"/>
<ellipse cx="554.7" cy="70.7" rx="3.0" ry="3.1" fill="#2626cc" opacity="0.9"/>
<ellipse cx="585.8" cy="46" rx="3.5" ry="3.1" fill="#2222b8" opacity="0.9"/>
<ellipse cx="587" cy="50" rx="3.4" ry="3.5" fill="#2a2ad8" opacity="0.9"/>
<ellipse cx="591.6" cy="56.9" rx="2.6" ry="2.1" fill="#2222b8" opacity="0.9"/>
<ellipse cx="596.2" cy="81.7" rx="3.0" ry="2.5" fill="#2222b8" opacity="0.9"/>
<ellipse cx="572" cy="93.2" rx="2.8" ry="3.1" fill="#2626cc" opacity="0.9"/>
<ellipse cx="530.5" cy="92" rx="2.6" ry="2.8" fill="#2a2ad8" opacity="0.9"/>
<ellipse cx="534" cy="95" rx="2.8" ry="3.0" fill="#2626cc" opacity="0.9"/>
<ellipse cx="622.1" cy="22.3" rx="2.7" ry="2.6" fill="#2626cc" opacity="0.9"/>
<ellipse cx="641.8" cy="30.4" rx="3.2" ry="2.9" fill="#2a2ad8" opacity="0.9"/>
<ellipse cx="644" cy="28.6" rx="3.0" ry="3.0" fill="#2626cc" opacity="0.9"/>
<ellipse cx="640.6" cy="34.4" rx="2.7" ry="2.2" fill="#2626cc" opacity="0.9"/>
<ellipse cx="627.9" cy="52.3" rx="3.2" ry="3.2" fill="#2a2ad8" opacity="0.9"/>
<ellipse cx="629" cy="54.6" rx="3.3" ry="2.8" fill="#2626cc" opacity="0.9"/>
<ellipse cx="621" cy="77.7" rx="3.3" ry="2.8" fill="#2a2ad8" opacity="0.9"/>
<ellipse cx="675.2" cy="46.5" rx="3.1" ry="3.3" fill="#3030c8" opacity="0.9"/>
<ellipse cx="676.4" cy="50" rx="3.1" ry="3.3" fill="#2626cc" opacity="0.9"/>
<ellipse cx="683.3" cy="40.8" rx="2.7" ry="2.5" fill="#3030c8" opacity="0.9"/>
<ellipse cx="657.9" cy="74.2" rx="3.0" ry="2.7" fill="#2626cc" opacity="0.9"/>
<ellipse cx="660.2" cy="78.8" rx="3.2" ry="3.0" fill="#2626cc" opacity="0.9"/>
<ellipse cx="668.3" cy="68.4" rx="2.8" ry="2.5" fill="#2222b8" opacity="0.9"/>
<ellipse cx="682.1" cy="95" rx="3.4" ry="3.4" fill="#3030c8" opacity="0.9"/>
<ellipse cx="531.6" cy="99.2" rx="2.7" ry="2.2" fill="#2626cc" opacity="0.9"/>
<ellipse cx="575.4" cy="107.2" rx="3.4" ry="3.2" fill="#2222b8" opacity="0.9"/>
<ellipse cx="585.8" cy="123.4" rx="3.3" ry="3.2" fill="#2a2ad8" opacity="0.9"/>
<ellipse cx="596.2" cy="131.4" rx="2.7" ry="2.2" fill="#2a2ad8" opacity="0.9"/>
<ellipse cx="603.1" cy="132.6" rx="3.4" ry="3.7" fill="#3030c8" opacity="0.9"/>
<ellipse cx="582.4" cy="146.4" rx="3.2" ry="3.2" fill="#2a2ad8" opacity="0.9"/>
<ellipse cx="528.2" cy="147.6" rx="2.8" ry="2.2" fill="#3030c8" opacity="0.9"/>
<ellipse cx="528.2" cy="154.5" rx="3.5" ry="3.1" fill="#2a2ad8" opacity="0.9"/>
<ellipse cx="558.1" cy="156.8" rx="2.8" ry="2.7" fill="#2626cc" opacity="0.9"/>
<ellipse cx="575.4" cy="160.3" rx="2.6" ry="2.4" fill="#2626cc" opacity="0.9"/>
<ellipse cx="576.6" cy="168.4" rx="3.4" ry="3.3" fill="#3030c8" opacity="0.9"/>
<ellipse cx="581.2" cy="164.9" rx="3.6" ry="3.2" fill="#3030c8" opacity="0.9"/>
<ellipse cx="529.3" cy="167.2" rx="3.1" ry="2.6" fill="#3030c8" opacity="0.9"/>
<ellipse cx="545.5" cy="169.5" rx="2.7" ry="2.7" fill="#3030c8" opacity="0.9"/>
<ellipse cx="596.2" cy="162.6" rx="2.7" ry="2.2" fill="#2222b8" opacity="0.9"/>
<ellipse cx="617.5" cy="106.1" rx="3.2" ry="3.1" fill="#2222b8" opacity="0.9"/>
<ellipse cx="621" cy="102.6" rx="3.4" ry="3.5" fill="#3030c8" opacity="0.9"/>
<ellipse cx="633.7" cy="121.1" rx="3.5" ry="3.1" fill="#2222b8" opacity="0.9"/>
<ellipse cx="640.6" cy="129.1" rx="3.5" ry="3.4" fill="#3030c8" opacity="0.9"/>
<ellipse cx="648.7" cy="106.1" rx="2.8" ry="2.4" fill="#2626cc" opacity="0.9"/>
<ellipse cx="660.2" cy="102.6" rx="3.4" ry="2.9" fill="#2626cc" opacity="0.9"/>
<ellipse cx="664.8" cy="116.5" rx="3.1" ry="2.5" fill="#2222b8" opacity="0.9"/>
<ellipse cx="677.5" cy="108.4" rx="3.1" ry="3.0" fill="#3030c8" opacity="0.9"/>
<ellipse cx="621" cy="148.7" rx="3.5" ry="3.5" fill="#2626cc" opacity="0.9"/>
<ellipse cx="623.3" cy="152.2" rx="3.2" ry="3.1" fill="#2222b8" opacity="0.9"/>
<ellipse cx="670.6" cy="153.4" rx="3.1" ry="3.3" fill="#2626cc" opacity="0.9"/>
<ellipse cx="675.2" cy="146.4" rx="3.2" ry="2.6" fill="#3030c8" opacity="0.9"/>
<ellipse cx="655.6" cy="164.9" rx="2.8" ry="2.3" fill="#2a2ad8" opacity="0.9"/>
<ellipse cx="623.3" cy="173" rx="3.3" ry="2.7" fill="#2222b8" opacity="0.9"/>
<ellipse cx="647.5" cy="156.8" rx="3.5" ry="3.5" fill="#2626cc" opacity="0.9"/>
<ellipse cx="682.1" cy="171.8" rx="2.6" ry="2.8" fill="#2a2ad8" opacity="0.9"/>
<ellipse cx="594" cy="90" rx="2.8" ry="3.0" fill="#2222b8" opacity="0.9"/>
<ellipse cx="610" cy="124" rx="2.6" ry="2.6" fill="#2626cc" opacity="0.9"/>
<ellipse cx="652" cy="92" rx="3.3" ry="3.2" fill="#2222b8" opacity="0.9"/>
</g>
<g filter="url(#fibF)">
<path d="M593.8 103l1.3 2.2 .9 2.5" fill="none" stroke="#f8dcd0" stroke-width="0.36" stroke-opacity="0.9" stroke-linecap="round" stroke-linejoin="round"/><path d="M600.1 105.6l1.2-1 1.2-1" fill="none" stroke="#f8dcd0" stroke-width="0.36" stroke-opacity="0.9" stroke-linecap="round" stroke-linejoin="round"/><path d="M591.1 100.9l2.7 2.1 3.2 1 3.1 1.6" fill="none" stroke="#f8dcd0" stroke-width="0.55" stroke-opacity="0.9" stroke-linecap="round" stroke-linejoin="round"/><path d="M600 101.2l3.2 1.7 2.7 2.3 2 3" fill="none" stroke="#f8dcd0" stroke-width="0.55" stroke-opacity="0.9" stroke-linecap="round" stroke-linejoin="round"/><path d="M616.8 106.6l.4 2.8 1.2 2.6" fill="none" stroke="#f8dcd0" stroke-width="0.36" stroke-opacity="0.9" stroke-linecap="round" stroke-linejoin="round"/><path d="M609.1 100.3l2.4 2.3 2.4 2.3 2.9 1.7 3.1 1.2" fill="none" stroke="#f8dcd0" stroke-width="0.55" stroke-opacity="0.9" stroke-linecap="round" stroke-linejoin="round"/><path d="M616 99.9l2.3 1.5 2.5 1.2" fill="none" stroke="#f8dcd0" stroke-width="0.36" stroke-opacity="0.9" stroke-linecap="round" stroke-linejoin="round"/><path d="M612.2 99.8l3.8 .1 3.6 1 3.7 1.2" fill="none" stroke="#f8dcd0" stroke-width="0.55" stroke-opacity="0.9" stroke-linecap="round" stroke-linejoin="round"/><path d="M588 101l3.1-.1 2.9 .8 3.1 .2 2.9-.7 3.1 .1 3-.8 3-.2 3.1-.5" fill="none" stroke="#f8dcd0" stroke-width="0.85" stroke-opacity="0.9" stroke-linecap="round" stroke-linejoin="round"/><path d="M591.3 100.6l2.9-1.5 3.1-.6" fill="none" stroke="#f8dcd0" stroke-width="0.55" stroke-opacity="0.9" stroke-linecap="round" stroke-linejoin="round"/><path d="M604.5 101.3l2.6-.4 2.4-.9" fill="none" stroke="#f8dcd0" stroke-width="0.55" stroke-opacity="0.9" stroke-linecap="round" stroke-linejoin="round"/><path d="M588 101l3.3-.4 3.3-.2 3.3-.4 3.3 .7 3.3 .6" fill="none" stroke="#f8dcd0" stroke-width="0.85" stroke-opacity="0.9" stroke-linecap="round" stroke-linejoin="round"/><path d="M598.5 106.7l2.2-.1 2.1 .5" fill="none" stroke="#f8dcd0" stroke-width="0.36" stroke-opacity="0.9" stroke-linecap="round" stroke-linejoin="round"/><path d="M594.6 107.4l3.9-.7 4-.8" fill="none" stroke="#f8dcd0" stroke-width="0.55" stroke-opacity="0.9" stroke-linecap="round" stroke-linejoin="round"/><path d="M602.6 107.4l1.1 .2 1-.1" fill="none" stroke="#f8dcd0" stroke-width="0.36" stroke-opacity="0.9" stroke-linecap="round" stroke-linejoin="round"/><path d="M597.1 109.1l2.8-.5 2.7-1.2" fill="none" stroke="#f8dcd0" stroke-width="0.55" stroke-opacity="0.9" stroke-linecap="round" stroke-linejoin="round"/><path d="M606.2 110.9l1.8 0 1.8 .3" fill="none" stroke="#f8dcd0" stroke-width="0.36" stroke-opacity="0.9" stroke-linecap="round" stroke-linejoin="round"/><path d="M602.6 111.7l3.6-.8 3.7-.4" fill="none" stroke="#f8dcd0" stroke-width="0.55" stroke-opacity="0.9" stroke-linecap="round" stroke-linejoin="round"/><path d="M588 101l2.3 2 2.1 2.2 2.2 2.2 2.5 1.7 2.6 1.6 2.9 1" fill="none" stroke="#f8dcd0" stroke-width="0.85" stroke-opacity="0.9" stroke-linecap="round" stroke-linejoin="round"/><path d="M606.3 116.2l2.4-.9 2.1-1.4" fill="none" stroke="#f8dcd0" stroke-width="0.36" stroke-opacity="0.9" stroke-linecap="round" stroke-linejoin="round"/><path d="M596.8 114.3l3.2 0 3.2 1 3.1 .9" fill="none" stroke="#f8dcd0" stroke-width="0.55" stroke-opacity="0.9" stroke-linecap="round" stroke-linejoin="round"/><path d="M588 101l.9 3.1 1.5 3 1.6 2.8 2.1 2.5 2.7 1.9 2 2.5 1.5 2.9 .9 3.2" fill="none" stroke="#f8dcd0" stroke-width="0.85" stroke-opacity="0.9" stroke-linecap="round" stroke-linejoin="round"/><path d="M588 101l1.4 2.9 .6 3.3 .6 3.2 .8 3.1 1.9 2.7" fill="none" stroke="#f8dcd0" stroke-width="0.85" stroke-opacity="0.9" stroke-linecap="round" stroke-linejoin="round"/><path d="M585 114.4l-3.1 1.3-3 1.4" fill="none" stroke="#f8dcd0" stroke-width="0.55" stroke-opacity="0.9" stroke-linecap="round" stroke-linejoin="round"/><path d="M588 101l-.8 3.4-1.5 3.1-.6 3.4-.1 3.5 .6 3.4" fill="none" stroke="#f8dcd0" stroke-width="0.85" stroke-opacity="0.9" stroke-linecap="round" stroke-linejoin="round"/><path d="M585.3 102.8l-4-.1-4.1 .5" fill="none" stroke="#f8dcd0" stroke-width="0.55" stroke-opacity="0.9" stroke-linecap="round" stroke-linejoin="round"/><path d="M576.1 110.5l.6 1.5 .5 1.5" fill="none" stroke="#f8dcd0" stroke-width="0.36" stroke-opacity="0.9" stroke-linecap="round" stroke-linejoin="round"/><path d="M579.5 105.1l-2 2.5-1.4 2.9" fill="none" stroke="#f8dcd0" stroke-width="0.55" stroke-opacity="0.9" stroke-linecap="round" stroke-linejoin="round"/><path d="M573.7 106l-.9-.4-.8-.5" fill="none" stroke="#f8dcd0" stroke-width="0.36" stroke-opacity="0.9" stroke-linecap="round" stroke-linejoin="round"/><path d="M576.6 106.5l-2.9-.5-3 .5" fill="none" stroke="#f8dcd0" stroke-width="0.55" stroke-opacity="0.9" stroke-linecap="round" stroke-linejoin="round"/><path d="M588 101l-2.7 1.8-2.7 1.6-3.1 .7-2.9 1.4-3.1 .7" fill="none" stroke="#f8dcd0" stroke-width="0.85" stroke-opacity="0.9" stroke-linecap="round" stroke-linejoin="round"/><path d="M580.7 100.8l-.4-1.8-.3-1.9" fill="none" stroke="#f8dcd0" stroke-width="0.36" stroke-opacity="0.9" stroke-linecap="round" stroke-linejoin="round"/><path d="M584.8 102.1l-4.1-1.3-3.8-1.9" fill="none" stroke="#f8dcd0" stroke-width="0.55" stroke-opacity="0.9" stroke-linecap="round" stroke-linejoin="round"/><path d="M568.7 113.3l-2-1.3-2.1-1" fill="none" stroke="#f8dcd0" stroke-width="0.36" stroke-opacity="0.9" stroke-linecap="round" stroke-linejoin="round"/><path d="M565.6 114.4l-3.1 .6-3.1 .4" fill="none" stroke="#f8dcd0" stroke-width="0.36" stroke-opacity="0.9" stroke-linecap="round" stroke-linejoin="round"/><path d="M562.7 115.8l-2.2-.4-2.2-.5" fill="none" stroke="#f8dcd0" stroke-width="0.36" stroke-opacity="0.9" stroke-linecap="round" stroke-linejoin="round"/><path d="M559.5 116.3l-2 2-1.7 2.3" fill="none" stroke="#f8dcd0" stroke-width="0.36" stroke-opacity="0.9" stroke-linecap="round" stroke-linejoin="round"/><path d="M571.8 112.8l-3.1 .5-3.1 1.1-2.9 1.4-3.2 .5" fill="none" stroke="#f8dcd0" stroke-width="0.55" stroke-opacity="0.9" stroke-linecap="round" stroke-linejoin="round"/><path d="M570 118.9l1.4 2.8 .6 3" fill="none" stroke="#f8dcd0" stroke-width="0.36" stroke-opacity="0.9" stroke-linecap="round" stroke-linejoin="round"/><path d="M570.3 125l1.3 1.6 .9 1.9" fill="none" stroke="#f8dcd0" stroke-width="0.36" stroke-opacity="0.9" stroke-linecap="round" stroke-linejoin="round"/><path d="M570.3 115.9l-.3 3 .5 3.1-.2 3 .3 3.1" fill="none" stroke="#f8dcd0" stroke-width="0.55" stroke-opacity="0.9" stroke-linecap="round" stroke-linejoin="round"/><path d="M588 101l-3.2 1.1-2.9 1.8-2.2 2.6-2.8 1.8-2.6 2.2-2.5 2.3-1.5 3.1" fill="none" stroke="#f8dcd0" stroke-width="0.85" stroke-opacity="0.9" stroke-linecap="round" stroke-linejoin="round"/><path d="M575.2 104.9l-1.5-1.1-1.4-1.1" fill="none" stroke="#f8dcd0" stroke-width="0.36" stroke-opacity="0.9" stroke-linecap="round" stroke-linejoin="round"/><path d="M585 100.5l-3.1 1.9-3.1 1.8-3.6 .7" fill="none" stroke="#f8dcd0" stroke-width="0.55" stroke-opacity="0.9" stroke-linecap="round" stroke-linejoin="round"/><path d="M575.1 94.3l-2.5-.5-2.4 .3" fill="none" stroke="#f8dcd0" stroke-width="0.36" stroke-opacity="0.9" stroke-linecap="round" stroke-linejoin="round"/><path d="M581.9 100.6l-2.1-2.2-2.3-2.2-2.4-1.9" fill="none" stroke="#f8dcd0" stroke-width="0.55" stroke-opacity="0.9" stroke-linecap="round" stroke-linejoin="round"/><path d="M573 96.5l-1.3-.9-.9-1.3" fill="none" stroke="#f8dcd0" stroke-width="0.36" stroke-opacity="0.9" stroke-linecap="round" stroke-linejoin="round"/><path d="M575.9 99.8l-2.9-3.3-1.7-3.9" fill="none" stroke="#f8dcd0" stroke-width="0.55" stroke-opacity="0.9" stroke-linecap="round" stroke-linejoin="round"/><path d="M588 101l-3-.5-3.1 .1-3-.3-3-.5-3.1 0-3-.3-3-.8" fill="none" stroke="#f8dcd0" stroke-width="0.85" stroke-opacity="0.9" stroke-linecap="round" stroke-linejoin="round"/><path d="M576.1 89.7l0-3.9 .6-3.9 1.6-3.6" fill="none" stroke="#f8dcd0" stroke-width="0.55" stroke-opacity="0.9" stroke-linecap="round" stroke-linejoin="round"/><path d="M573.3 83.9l-3.5-1.2-3.6-.9-3.6-.6" fill="none" stroke="#f8dcd0" stroke-width="0.55" stroke-opacity="0.9" stroke-linecap="round" stroke-linejoin="round"/><path d="M588 101l-2.3-2.4-2.7-1.8-2.3-2.4-2.5-2.1-2.1-2.6-1.1-3.1-1.7-2.7" fill="none" stroke="#f8dcd0" stroke-width="0.85" stroke-opacity="0.9" stroke-linecap="round" stroke-linejoin="round"/><path d="M586.5 98.1l1.6-2.8 .9-3.1 1.5-2.8" fill="none" stroke="#f8dcd0" stroke-width="0.55" stroke-opacity="0.9" stroke-linecap="round" stroke-linejoin="round"/><path d="M585.5 82.4l1.9-1.5 1.6-1.8" fill="none" stroke="#f8dcd0" stroke-width="0.36" stroke-opacity="0.9" stroke-linecap="round" stroke-linejoin="round"/><path d="M586.1 76.5l1.4-1.1 1.3-1.3" fill="none" stroke="#f8dcd0" stroke-width="0.36" stroke-opacity="0.9" stroke-linecap="round" stroke-linejoin="round"/><path d="M585.3 73.6l-1.7-1.4-1.9-1.1" fill="none" stroke="#f8dcd0" stroke-width="0.36" stroke-opacity="0.9" stroke-linecap="round" stroke-linejoin="round"/><path d="M584.3 85.2l1.2-2.8 .8-2.9-.2-3-.8-2.9" fill="none" stroke="#f8dcd0" stroke-width="0.55" stroke-opacity="0.9" stroke-linecap="round" stroke-linejoin="round"/><path d="M588 101l-1.5-2.9-1.1-3.1-.2-3.3-.4-3.3-.5-3.2-.2-3.3 .6-3.3 .7-3.2" fill="none" stroke="#f8dcd0" stroke-width="0.85" stroke-opacity="0.9" stroke-linecap="round" stroke-linejoin="round"/><path d="M588.6 94.3l-1.6-3.5-.9-3.7-1.8-3.3" fill="none" stroke="#f8dcd0" stroke-width="0.55" stroke-opacity="0.9" stroke-linecap="round" stroke-linejoin="round"/><path d="M589.2 84.3l2.3-2 2.6-1.6 2.1-2.2" fill="none" stroke="#f8dcd0" stroke-width="0.55" stroke-opacity="0.9" stroke-linecap="round" stroke-linejoin="round"/><path d="M588 101l.5-3.3 .1-3.4 .1-3.3 .2-3.4 .3-3.3 0-3.4 1.1-3.2" fill="none" stroke="#f8dcd0" stroke-width="0.85" stroke-opacity="0.9" stroke-linecap="round" stroke-linejoin="round"/><path d="M589.9 98.3l3.3 .1 3.1 1.3 3.1 1.1" fill="none" stroke="#f8dcd0" stroke-width="0.55" stroke-opacity="0.9" stroke-linecap="round" stroke-linejoin="round"/><path d="M588 101l1.9-2.7 1.3-3.1 1.6-2.8 2.5-2.2 2.6-2 3-1.6 2.3-2.3" fill="none" stroke="#f8dcd0" stroke-width="0.85" stroke-opacity="0.9" stroke-linecap="round" stroke-linejoin="round"/><path d="M589.4 98l-.3-3.4 .3-3.5 .7-3.4 0-3.5" fill="none" stroke="#f8dcd0" stroke-width="0.55" stroke-opacity="0.9" stroke-linecap="round" stroke-linejoin="round"/><path d="M588 101l1.4-3 2.1-2.4 1.4-3 1.4-2.9 .4-3.2 .9-3.2 .7-3.1-.5-3.3" fill="none" stroke="#f8dcd0" stroke-width="0.85" stroke-opacity="0.9" stroke-linecap="round" stroke-linejoin="round"/><path d="M594.3 99.8l2.5-3.5 3.3-2.7" fill="none" stroke="#f8dcd0" stroke-width="0.55" stroke-opacity="0.9" stroke-linecap="round" stroke-linejoin="round"/><path d="M607.6 97.9l1.4 1.5 1.5 1.2" fill="none" stroke="#f8dcd0" stroke-width="0.36" stroke-opacity="0.9" stroke-linecap="round" stroke-linejoin="round"/><path d="M600.3 97.8l3.7 .1 3.6 0 3.7 .4" fill="none" stroke="#f8dcd0" stroke-width="0.55" stroke-opacity="0.9" stroke-linecap="round" stroke-linejoin="round"/><path d="M609.9 97l3.4-1.8 3.8-.8" fill="none" stroke="#f8dcd0" stroke-width="0.55" stroke-opacity="0.9" stroke-linecap="round" stroke-linejoin="round"/><path d="M588 101l3.1-.7 3.2-.5 3.2-.5 2.8-1.5 3.2-.7 3.2 .2 3.2-.3" fill="none" stroke="#f8dcd0" stroke-width="0.85" stroke-opacity="0.9" stroke-linecap="round" stroke-linejoin="round"/>
<path d="M588 101l3.5 1 3.5 .9 3.6 .2" fill="none" stroke="#fff0ea" stroke-width="1.1" stroke-opacity="0.9" stroke-linecap="round" stroke-linejoin="round"/><path d="M597.9 106.2l.9 .1 .8 .4" fill="none" stroke="#fff0ea" stroke-width="0.46" stroke-opacity="0.9" stroke-linecap="round" stroke-linejoin="round"/><path d="M596.9 103.5l1 2.7 .7 2.8" fill="none" stroke="#fff0ea" stroke-width="0.72" stroke-opacity="0.9" stroke-linecap="round" stroke-linejoin="round"/><path d="M588 101l2.8 1.3 3.1 .4 3 .8 3.1 .5" fill="none" stroke="#fff0ea" stroke-width="1.1" stroke-opacity="0.9" stroke-linecap="round" stroke-linejoin="round"/><path d="M590.6 104.5l1.3 1 1 1.2" fill="none" stroke="#fff0ea" stroke-width="0.72" stroke-opacity="0.9" stroke-linecap="round" stroke-linejoin="round"/><path d="M594.8 109.2l-.2 1 .1 1" fill="none" stroke="#fff0ea" stroke-width="0.46" stroke-opacity="0.9" stroke-linecap="round" stroke-linejoin="round"/><path d="M593.7 107.6l1.1 1.6 1.4 1.3" fill="none" stroke="#fff0ea" stroke-width="0.72" stroke-opacity="0.9" stroke-linecap="round" stroke-linejoin="round"/><path d="M588 101l2.6 3.5 3.1 3.1" fill="none" stroke="#fff0ea" stroke-width="1.1" stroke-opacity="0.9" stroke-linecap="round" stroke-linejoin="round"/><path d="M587.2 104.3l1.9 1.7 1.3 2.2" fill="none" stroke="#fff0ea" stroke-width="0.72" stroke-opacity="0.9" stroke-linecap="round" stroke-linejoin="round"/><path d="M587.4 107.7l1.2 2.6 1.8 2.2" fill="none" stroke="#fff0ea" stroke-width="0.72" stroke-opacity="0.9" stroke-linecap="round" stroke-linejoin="round"/><path d="M588 101l-.8 3.3 .2 3.4-1 3.3-.8 3.3" fill="none" stroke="#fff0ea" stroke-width="1.1" stroke-opacity="0.9" stroke-linecap="round" stroke-linejoin="round"/><path d="M578.1 110.1l-.5 1.2-.3 1.2" fill="none" stroke="#fff0ea" stroke-width="0.46" stroke-opacity="0.9" stroke-linecap="round" stroke-linejoin="round"/><path d="M576.2 113l.5 1.6 .5 1.5" fill="none" stroke="#fff0ea" stroke-width="0.46" stroke-opacity="0.9" stroke-linecap="round" stroke-linejoin="round"/><path d="M580.4 107.4l-2.3 2.7-1.9 2.9" fill="none" stroke="#fff0ea" stroke-width="0.72" stroke-opacity="0.9" stroke-linecap="round" stroke-linejoin="round"/><path d="M572.9 106.6l-.7 .2-.8 .3" fill="none" stroke="#fff0ea" stroke-width="0.46" stroke-opacity="0.9" stroke-linecap="round" stroke-linejoin="round"/><path d="M577.1 108.3l-2-1-2.2-.7" fill="none" stroke="#fff0ea" stroke-width="0.72" stroke-opacity="0.9" stroke-linecap="round" stroke-linejoin="round"/><path d="M588 101l-1.7 3-2.6 2.2-3.3 1.2-3.3 .9" fill="none" stroke="#fff0ea" stroke-width="1.1" stroke-opacity="0.9" stroke-linecap="round" stroke-linejoin="round"/><path d="M583.3 100.7l-.7-.4-.7-.3" fill="none" stroke="#fff0ea" stroke-width="0.46" stroke-opacity="0.9" stroke-linecap="round" stroke-linejoin="round"/><path d="M584.8 100.7l-1.5 0-1.5 .4" fill="none" stroke="#fff0ea" stroke-width="0.72" stroke-opacity="0.9" stroke-linecap="round" stroke-linejoin="round"/><path d="M580.1 103.4l-.8 .6-.6 .7" fill="none" stroke="#fff0ea" stroke-width="0.46" stroke-opacity="0.9" stroke-linecap="round" stroke-linejoin="round"/><path d="M581.6 101.3l-1.5 2.1-1.6 2.1" fill="none" stroke="#fff0ea" stroke-width="0.72" stroke-opacity="0.9" stroke-linecap="round" stroke-linejoin="round"/><path d="M574.6 101.1l-.8 .4-.6 .6" fill="none" stroke="#fff0ea" stroke-width="0.46" stroke-opacity="0.9" stroke-linecap="round" stroke-linejoin="round"/><path d="M578.7 102.9l-1.9-1.2-2.2-.6" fill="none" stroke="#fff0ea" stroke-width="0.72" stroke-opacity="0.9" stroke-linecap="round" stroke-linejoin="round"/><path d="M588 101l-3.2-.3-3.2 .6-2.9 1.6" fill="none" stroke="#fff0ea" stroke-width="1.1" stroke-opacity="0.9" stroke-linecap="round" stroke-linejoin="round"/><path d="M580.6 99.1l-.9-1.7-.6-1.7" fill="none" stroke="#fff0ea" stroke-width="0.72" stroke-opacity="0.9" stroke-linecap="round" stroke-linejoin="round"/><path d="M588 101l-3.6-1.4-3.8-.5" fill="none" stroke="#fff0ea" stroke-width="1.1" stroke-opacity="0.9" stroke-linecap="round" stroke-linejoin="round"/><path d="M588 101l.2-3.2 1-3 1.6-2.7" fill="none" stroke="#fff0ea" stroke-width="1.1" stroke-opacity="0.9" stroke-linecap="round" stroke-linejoin="round"/><path d="M590.3 93.8l-1.1-2.7-.6-2.9" fill="none" stroke="#fff0ea" stroke-width="0.72" stroke-opacity="0.9" stroke-linecap="round" stroke-linejoin="round"/><path d="M588 101l1-3.6 1.3-3.6 1.2-3.6" fill="none" stroke="#fff0ea" stroke-width="1.1" stroke-opacity="0.9" stroke-linecap="round" stroke-linejoin="round"/><path d="M590.1 92.6l-.4-.9-.5-.8" fill="none" stroke="#fff0ea" stroke-width="0.46" stroke-opacity="0.9" stroke-linecap="round" stroke-linejoin="round"/><path d="M590.1 95.3l0-2.7 .5-2.8" fill="none" stroke="#fff0ea" stroke-width="0.72" stroke-opacity="0.9" stroke-linecap="round" stroke-linejoin="round"/><path d="M588 101l1.1-2.8 1-2.9 1.9-2.4 1.3-2.7" fill="none" stroke="#fff0ea" stroke-width="1.1" stroke-opacity="0.9" stroke-linecap="round" stroke-linejoin="round"/>
<path d="M577.4 138.9l-3.1 .7-3.1 .5-2.9 1.3-2.8 1.4" fill="none" stroke="#f0f0fa" stroke-width="0.52" stroke-opacity="0.95" stroke-linecap="round" stroke-linejoin="round"/><path d="M566.4 125.8l-2.1-.4-2.2 .1" fill="none" stroke="#f0f0fa" stroke-width="0.34" stroke-opacity="0.95" stroke-linecap="round" stroke-linejoin="round"/><path d="M562.1 120.1l1.7-3 2.2-2.7" fill="none" stroke="#f0f0fa" stroke-width="0.34" stroke-opacity="0.95" stroke-linecap="round" stroke-linejoin="round"/><path d="M571.8 130.5l-3-1.9-2.4-2.8-2.3-2.7-2-3" fill="none" stroke="#f0f0fa" stroke-width="0.52" stroke-opacity="0.95" stroke-linecap="round" stroke-linejoin="round"/><path d="M580 141l-2.6-2.1-1.8-2.8-1.7-3-2.1-2.6-1.6-2.9-.5-3.4-1.3-3.1-.7-3.3" fill="none" stroke="#f0f0fa" stroke-width="0.8" stroke-opacity="0.95" stroke-linecap="round" stroke-linejoin="round"/><path d="M568.6 124.5l2.4-2.6 2.9-2 2.6-2.4" fill="none" stroke="#f0f0fa" stroke-width="0.52" stroke-opacity="0.95" stroke-linecap="round" stroke-linejoin="round"/><path d="M580 141l-3-1.7-2.6-2.4-1.8-2.9-2-2.9-1-3.3-1-3.3" fill="none" stroke="#f0f0fa" stroke-width="0.8" stroke-opacity="0.95" stroke-linecap="round" stroke-linejoin="round"/><path d="M562.2 122.7l-1.3 .4-1.4 .1" fill="none" stroke="#f0f0fa" stroke-width="0.34" stroke-opacity="0.95" stroke-linecap="round" stroke-linejoin="round"/><path d="M565.1 125.4l-2.9-2.7-3-2.4" fill="none" stroke="#f0f0fa" stroke-width="0.52" stroke-opacity="0.95" stroke-linecap="round" stroke-linejoin="round"/><path d="M580 141l-2.3-2.1-2.4-2-2.4-2-2.1-2.3-1.7-2.6-2.4-2-1.6-2.6" fill="none" stroke="#f0f0fa" stroke-width="0.8" stroke-opacity="0.95" stroke-linecap="round" stroke-linejoin="round"/><path d="M585.7 154.8l2.2 .1 2.2 .5" fill="none" stroke="#f0f0fa" stroke-width="0.34" stroke-opacity="0.95" stroke-linecap="round" stroke-linejoin="round"/><path d="M577.8 152.8l4 .6 3.9 1.4" fill="none" stroke="#f0f0fa" stroke-width="0.52" stroke-opacity="0.95" stroke-linecap="round" stroke-linejoin="round"/><path d="M580 141l-2 2.5-1.1 3-.1 3.2 1 3.1 1.4 2.8 1.7 2.7" fill="none" stroke="#f0f0fa" stroke-width="0.8" stroke-opacity="0.95" stroke-linecap="round" stroke-linejoin="round"/><path d="M570.6 139.5l-1.4 1-1.3 1.1" fill="none" stroke="#f0f0fa" stroke-width="0.34" stroke-opacity="0.95" stroke-linecap="round" stroke-linejoin="round"/><path d="M574.2 139.7l-3.6-.2-3.3-1.2" fill="none" stroke="#f0f0fa" stroke-width="0.52" stroke-opacity="0.95" stroke-linecap="round" stroke-linejoin="round"/><path d="M580 141l-3-.5-2.8-.8-3-.3-3-.7-2.6-1.5" fill="none" stroke="#f0f0fa" stroke-width="0.8" stroke-opacity="0.95" stroke-linecap="round" stroke-linejoin="round"/><path d="M572 146.4l-1 3.1-1.4 3.1" fill="none" stroke="#f0f0fa" stroke-width="0.52" stroke-opacity="0.95" stroke-linecap="round" stroke-linejoin="round"/><path d="M569 147.7l-3.9 .5-3.7 1.3" fill="none" stroke="#f0f0fa" stroke-width="0.52" stroke-opacity="0.95" stroke-linecap="round" stroke-linejoin="round"/><path d="M566.6 149.8l-.5 2.8-.5 2.9" fill="none" stroke="#f0f0fa" stroke-width="0.52" stroke-opacity="0.95" stroke-linecap="round" stroke-linejoin="round"/><path d="M580 141l-2.8 1.6-2.5 2.1-2.7 1.7-3 1.3-2.4 2.1" fill="none" stroke="#f0f0fa" stroke-width="0.8" stroke-opacity="0.95" stroke-linecap="round" stroke-linejoin="round"/><path d="M567.1 129.9l-3.2 1.7-2.6 2.5" fill="none" stroke="#f0f0fa" stroke-width="0.52" stroke-opacity="0.95" stroke-linecap="round" stroke-linejoin="round"/><path d="M580 141l-2.6-2.2-2.3-2.6-2.2-2.6-2.9-1.8-2.9-1.9" fill="none" stroke="#f0f0fa" stroke-width="0.8" stroke-opacity="0.95" stroke-linecap="round" stroke-linejoin="round"/><path d="M567.9 149.5l-1.5 2.7-1.4 2.6" fill="none" stroke="#f0f0fa" stroke-width="0.34" stroke-opacity="0.95" stroke-linecap="round" stroke-linejoin="round"/><path d="M573.7 138.8l-2.1 2.4-1.9 2.4-1.3 2.8-.5 3.1" fill="none" stroke="#f0f0fa" stroke-width="0.52" stroke-opacity="0.95" stroke-linecap="round" stroke-linejoin="round"/><path d="M563.3 135.9l-.5-2.4-1.2-2" fill="none" stroke="#f0f0fa" stroke-width="0.34" stroke-opacity="0.95" stroke-linecap="round" stroke-linejoin="round"/><path d="M567.1 138.1l-3.8-2.2-3.6-2.6" fill="none" stroke="#f0f0fa" stroke-width="0.52" stroke-opacity="0.95" stroke-linecap="round" stroke-linejoin="round"/><path d="M557.7 134.7l-1.3-3-.9-3.1-1.6-2.8-1.6-2.8" fill="none" stroke="#f0f0fa" stroke-width="0.52" stroke-opacity="0.95" stroke-linecap="round" stroke-linejoin="round"/><path d="M554.9 132.8l-3-.6-2.7-1.4-2.2-2.1" fill="none" stroke="#f0f0fa" stroke-width="0.52" stroke-opacity="0.95" stroke-linecap="round" stroke-linejoin="round"/><path d="M580 141l-3.1-1.2-3.2-1-3.3-.1-3.3-.6-3.2-1.2-3.2-.8-3-1.4-2.8-1.9" fill="none" stroke="#f0f0fa" stroke-width="0.8" stroke-opacity="0.95" stroke-linecap="round" stroke-linejoin="round"/>
<path d="M589.8 136.7l.5-1.3 .1-1.3" fill="none" stroke="#f0f0fa" stroke-width="0.34" stroke-opacity="0.95" stroke-linecap="round" stroke-linejoin="round"/><path d="M583.2 141.2l3-2.7 3.6-1.8" fill="none" stroke="#f0f0fa" stroke-width="0.52" stroke-opacity="0.95" stroke-linecap="round" stroke-linejoin="round"/><path d="M592.2 141.9l1.2-1.7 1.7-1.3" fill="none" stroke="#f0f0fa" stroke-width="0.34" stroke-opacity="0.95" stroke-linecap="round" stroke-linejoin="round"/><path d="M586.2 142.3l3-.6 3 .2 3-.1" fill="none" stroke="#f0f0fa" stroke-width="0.52" stroke-opacity="0.95" stroke-linecap="round" stroke-linejoin="round"/><path d="M580 141l3.2 .2 3 1.1 2.9 1.5 2.8 1.5 2.7 1.6 2.3 2.4" fill="none" stroke="#f0f0fa" stroke-width="0.8" stroke-opacity="0.95" stroke-linecap="round" stroke-linejoin="round"/><path d="M597.5 143l.6 1 .7 .8" fill="none" stroke="#f0f0fa" stroke-width="0.34" stroke-opacity="0.95" stroke-linecap="round" stroke-linejoin="round"/><path d="M592.8 141.2l2.2 1.2 2.5 .6" fill="none" stroke="#f0f0fa" stroke-width="0.52" stroke-opacity="0.95" stroke-linecap="round" stroke-linejoin="round"/><path d="M580 141l3.2 .3 3.2 .2 3.3 .3 3.1-.6" fill="none" stroke="#f0f0fa" stroke-width="0.8" stroke-opacity="0.95" stroke-linecap="round" stroke-linejoin="round"/><path d="M590 138.4l1.4 .1 1.4 .2" fill="none" stroke="#f0f0fa" stroke-width="0.34" stroke-opacity="0.95" stroke-linecap="round" stroke-linejoin="round"/><path d="M582.6 139.4l3.8-.1 3.6-.9" fill="none" stroke="#f0f0fa" stroke-width="0.52" stroke-opacity="0.95" stroke-linecap="round" stroke-linejoin="round"/><path d="M586.1 134.4l3.3-1.7 3.2-1.8 2.7-2.5" fill="none" stroke="#f0f0fa" stroke-width="0.52" stroke-opacity="0.95" stroke-linecap="round" stroke-linejoin="round"/><path d="M590.7 119.3l1.1-1.5 .6-1.7" fill="none" stroke="#f0f0fa" stroke-width="0.34" stroke-opacity="0.95" stroke-linecap="round" stroke-linejoin="round"/><path d="M591.2 127l-.3-3.9-.2-3.8" fill="none" stroke="#f0f0fa" stroke-width="0.52" stroke-opacity="0.95" stroke-linecap="round" stroke-linejoin="round"/><path d="M580 141l2.6-1.6 2-2.3 1.5-2.7 1-2.9 1.8-2.5 2.3-2 2.6-1.6" fill="none" stroke="#f0f0fa" stroke-width="0.8" stroke-opacity="0.95" stroke-linecap="round" stroke-linejoin="round"/><path d="M591.2 149.8l.3 1 .3 1" fill="none" stroke="#f0f0fa" stroke-width="0.34" stroke-opacity="0.95" stroke-linecap="round" stroke-linejoin="round"/><path d="M589.2 143.3l.7 3.4 1.3 3.1" fill="none" stroke="#f0f0fa" stroke-width="0.52" stroke-opacity="0.95" stroke-linecap="round" stroke-linejoin="round"/><path d="M592.3 144l4-1.6 4.3-.4" fill="none" stroke="#f0f0fa" stroke-width="0.52" stroke-opacity="0.95" stroke-linecap="round" stroke-linejoin="round"/><path d="M580 141l3.2 .4 3 .8 3 1.1 3.1 .7 3 1.1" fill="none" stroke="#f0f0fa" stroke-width="0.8" stroke-opacity="0.95" stroke-linecap="round" stroke-linejoin="round"/><path d="M580 141l2.9 1.1 3.1 .8 2.8 1.3 3.1 .2 3 1.1 2.5 1.9 2.4 2" fill="none" stroke="#f0f0fa" stroke-width="0.8" stroke-opacity="0.95" stroke-linecap="round" stroke-linejoin="round"/><path d="M580 141l3.1-1 3.3-.1 3.2 .1 3.2-.8" fill="none" stroke="#f0f0fa" stroke-width="0.8" stroke-opacity="0.95" stroke-linecap="round" stroke-linejoin="round"/>
<path d="M647.2 155.8l-.8-.8-.6-.9" fill="none" stroke="#e8e8f6" stroke-width="0.25" stroke-opacity="0.85" stroke-linecap="round" stroke-linejoin="round"/><path d="M646.2 159.2l1-3.4 2.1-2.9" fill="none" stroke="#e8e8f6" stroke-width="0.39" stroke-opacity="0.85" stroke-linecap="round" stroke-linejoin="round"/><path d="M649.3 159.2l1.6 3.4 2.2 3.1" fill="none" stroke="#e8e8f6" stroke-width="0.39" stroke-opacity="0.85" stroke-linecap="round" stroke-linejoin="round"/><path d="M640 160l3.1 0 3.1-.8 3.1 0 3.1 0 3.1 .1" fill="none" stroke="#e8e8f6" stroke-width="0.6" stroke-opacity="0.85" stroke-linecap="round" stroke-linejoin="round"/><path d="M640.6 165.6l-.9 .7-.7 .8" fill="none" stroke="#e8e8f6" stroke-width="0.25" stroke-opacity="0.85" stroke-linecap="round" stroke-linejoin="round"/><path d="M639.7 168.4l-.8 .6-.6 .8" fill="none" stroke="#e8e8f6" stroke-width="0.25" stroke-opacity="0.85" stroke-linecap="round" stroke-linejoin="round"/><path d="M641.7 162.9l-1.1 2.7-.9 2.8" fill="none" stroke="#e8e8f6" stroke-width="0.39" stroke-opacity="0.85" stroke-linecap="round" stroke-linejoin="round"/><path d="M643.9 165.4l.4 2.7 1.3 2.4" fill="none" stroke="#e8e8f6" stroke-width="0.39" stroke-opacity="0.85" stroke-linecap="round" stroke-linejoin="round"/><path d="M643.9 171.5l-1.3 .2-1.2 .4" fill="none" stroke="#e8e8f6" stroke-width="0.25" stroke-opacity="0.85" stroke-linecap="round" stroke-linejoin="round"/><path d="M645.3 168.4l-1.4 3.1-1.9 2.8" fill="none" stroke="#e8e8f6" stroke-width="0.39" stroke-opacity="0.85" stroke-linecap="round" stroke-linejoin="round"/><path d="M640 160l1.7 2.9 2.2 2.5 1.4 3 1.5 3.1" fill="none" stroke="#e8e8f6" stroke-width="0.6" stroke-opacity="0.85" stroke-linecap="round" stroke-linejoin="round"/><path d="M632.3 165.9l-.1 1.7 .3 1.6" fill="none" stroke="#e8e8f6" stroke-width="0.25" stroke-opacity="0.85" stroke-linecap="round" stroke-linejoin="round"/><path d="M634.3 162.7l-2 3.2-1.9 3.3" fill="none" stroke="#e8e8f6" stroke-width="0.39" stroke-opacity="0.85" stroke-linecap="round" stroke-linejoin="round"/><path d="M640 160l-2.7 1.7-3 1-3.1 .3-3.1-.7-3-1" fill="none" stroke="#e8e8f6" stroke-width="0.6" stroke-opacity="0.85" stroke-linecap="round" stroke-linejoin="round"/><path d="M630 153.4l.7-2.6 .7-2.5" fill="none" stroke="#e8e8f6" stroke-width="0.39" stroke-opacity="0.85" stroke-linecap="round" stroke-linejoin="round"/><path d="M640 160l-2.9-1-2.9-1.2-2.3-2-1.9-2.4" fill="none" stroke="#e8e8f6" stroke-width="0.6" stroke-opacity="0.85" stroke-linecap="round" stroke-linejoin="round"/><path d="M641.2 151.6l.3-1 .2-1" fill="none" stroke="#e8e8f6" stroke-width="0.25" stroke-opacity="0.85" stroke-linecap="round" stroke-linejoin="round"/><path d="M640.6 149.4l-.5-.4-.6-.4" fill="none" stroke="#e8e8f6" stroke-width="0.25" stroke-opacity="0.85" stroke-linecap="round" stroke-linejoin="round"/><path d="M641.8 153.7l-.6-2.1-.6-2.2" fill="none" stroke="#e8e8f6" stroke-width="0.39" stroke-opacity="0.85" stroke-linecap="round" stroke-linejoin="round"/><path d="M640 160l.6-3.2 1.2-3.1 1.1-3.1" fill="none" stroke="#e8e8f6" stroke-width="0.6" stroke-opacity="0.85" stroke-linecap="round" stroke-linejoin="round"/>
<path d="M616.6 143.8l.3-1.2 .2-1.3" fill="none" stroke="#e4e4f2" stroke-width="0.23" stroke-opacity="0.8" stroke-linecap="round" stroke-linejoin="round"/><path d="M611.9 148.5l2.1-2.6 2.6-2.1" fill="none" stroke="#e4e4f2" stroke-width="0.36" stroke-opacity="0.8" stroke-linecap="round" stroke-linejoin="round"/><path d="M622.3 141l1.4-1.3 1.4-1.2" fill="none" stroke="#e4e4f2" stroke-width="0.23" stroke-opacity="0.8" stroke-linecap="round" stroke-linejoin="round"/><path d="M621.6 144.4l.7-3.4 1.6-3" fill="none" stroke="#e4e4f2" stroke-width="0.36" stroke-opacity="0.8" stroke-linecap="round" stroke-linejoin="round"/><path d="M605 150l3.5-.5 3.4-1 3.5-.7 3.2-1.5 3-1.9" fill="none" stroke="#e4e4f2" stroke-width="0.55" stroke-opacity="0.8" stroke-linecap="round" stroke-linejoin="round"/><path d="M610.4 153.5l1.1-.7 .9-.9" fill="none" stroke="#e4e4f2" stroke-width="0.23" stroke-opacity="0.8" stroke-linecap="round" stroke-linejoin="round"/><path d="M613.3 155.5l1.7-.1 1.7-.1" fill="none" stroke="#e4e4f2" stroke-width="0.23" stroke-opacity="0.8" stroke-linecap="round" stroke-linejoin="round"/><path d="M607 152.6l3.4 .9 2.9 2" fill="none" stroke="#e4e4f2" stroke-width="0.36" stroke-opacity="0.8" stroke-linecap="round" stroke-linejoin="round"/><path d="M605 150l2 2.6 2.7 2 2.5 2.2 2.5 2.2 2.6 2.1" fill="none" stroke="#e4e4f2" stroke-width="0.55" stroke-opacity="0.8" stroke-linecap="round" stroke-linejoin="round"/><path d="M603.5 155.9l.8 2.8 .9 2.6" fill="none" stroke="#e4e4f2" stroke-width="0.36" stroke-opacity="0.8" stroke-linecap="round" stroke-linejoin="round"/><path d="M605 150l-.3 3.1-1.2 2.8-.2 3.1 .1 3.1 .3 3.1" fill="none" stroke="#e4e4f2" stroke-width="0.55" stroke-opacity="0.8" stroke-linecap="round" stroke-linejoin="round"/><path d="M601.7 150.2l-3 .5-3 .9" fill="none" stroke="#e4e4f2" stroke-width="0.36" stroke-opacity="0.8" stroke-linecap="round" stroke-linejoin="round"/><path d="M597.8 154.7l-1 1-.9 1.1" fill="none" stroke="#e4e4f2" stroke-width="0.23" stroke-opacity="0.8" stroke-linecap="round" stroke-linejoin="round"/><path d="M598.5 150.8l-.7 3.9-1.3 3.8" fill="none" stroke="#e4e4f2" stroke-width="0.36" stroke-opacity="0.8" stroke-linecap="round" stroke-linejoin="round"/><path d="M605 150l-3.3 .2-3.2 .6-2.9 1.5-3.1 1-2.7 1.8" fill="none" stroke="#e4e4f2" stroke-width="0.55" stroke-opacity="0.8" stroke-linecap="round" stroke-linejoin="round"/><path d="M605 150l-2.4-2-2.4-2.1-2.3-2-2.9-1.2-3-1" fill="none" stroke="#e4e4f2" stroke-width="0.55" stroke-opacity="0.8" stroke-linecap="round" stroke-linejoin="round"/><path d="M598.9 142l-.7-1.4-1-1.2" fill="none" stroke="#e4e4f2" stroke-width="0.23" stroke-opacity="0.8" stroke-linecap="round" stroke-linejoin="round"/><path d="M605.1 146.9l-2.7-2.9-3.5-2" fill="none" stroke="#e4e4f2" stroke-width="0.36" stroke-opacity="0.8" stroke-linecap="round" stroke-linejoin="round"/><path d="M605.8 143.8l-1.3-3.1-1.6-2.9" fill="none" stroke="#e4e4f2" stroke-width="0.36" stroke-opacity="0.8" stroke-linecap="round" stroke-linejoin="round"/><path d="M605 150l.1-3.1 .7-3.1 1-2.9 .1-3.2-.4-3.1 .5-3" fill="none" stroke="#e4e4f2" stroke-width="0.55" stroke-opacity="0.8" stroke-linecap="round" stroke-linejoin="round"/>
<path d="M662.6 143l.5 .9 .5 .8" fill="none" stroke="#e4e4f2" stroke-width="0.23" stroke-opacity="0.75" stroke-linecap="round" stroke-linejoin="round"/><path d="M657.9 141.4l2.5 .4 2.2 1.2" fill="none" stroke="#e4e4f2" stroke-width="0.36" stroke-opacity="0.75" stroke-linecap="round" stroke-linejoin="round"/><path d="M660.3 143.6l-.5 1.7-.1 1.7" fill="none" stroke="#e4e4f2" stroke-width="0.36" stroke-opacity="0.75" stroke-linecap="round" stroke-linejoin="round"/><path d="M662.8 145.7l.2 1.8-.1 1.8" fill="none" stroke="#e4e4f2" stroke-width="0.36" stroke-opacity="0.75" stroke-linecap="round" stroke-linejoin="round"/><path d="M655 140l2.9 1.4 2.4 2.2 2.5 2.1" fill="none" stroke="#e4e4f2" stroke-width="0.55" stroke-opacity="0.75" stroke-linecap="round" stroke-linejoin="round"/><path d="M659.2 145.9l.1 2.3 .3 2.3" fill="none" stroke="#e4e4f2" stroke-width="0.23" stroke-opacity="0.75" stroke-linecap="round" stroke-linejoin="round"/><path d="M656 142.8l3.2 3.1 4 2.1" fill="none" stroke="#e4e4f2" stroke-width="0.36" stroke-opacity="0.75" stroke-linecap="round" stroke-linejoin="round"/><path d="M658 148.4l.5 2.2 .6 2.1" fill="none" stroke="#e4e4f2" stroke-width="0.23" stroke-opacity="0.75" stroke-linecap="round" stroke-linejoin="round"/><path d="M656.1 145.8l1.9 2.6 1.2 3 .6 3.2" fill="none" stroke="#e4e4f2" stroke-width="0.36" stroke-opacity="0.75" stroke-linecap="round" stroke-linejoin="round"/><path d="M656.3 154.2l-.8 1.2-.8 1.3" fill="none" stroke="#e4e4f2" stroke-width="0.23" stroke-opacity="0.75" stroke-linecap="round" stroke-linejoin="round"/><path d="M656.7 148.8l-.6 2.7 .2 2.7" fill="none" stroke="#e4e4f2" stroke-width="0.36" stroke-opacity="0.75" stroke-linecap="round" stroke-linejoin="round"/><path d="M665 158.6l1.2 .2 1.1 .4" fill="none" stroke="#e4e4f2" stroke-width="0.23" stroke-opacity="0.75" stroke-linecap="round" stroke-linejoin="round"/><path d="M658.9 154.3l3.2 2 2.9 2.3" fill="none" stroke="#e4e4f2" stroke-width="0.36" stroke-opacity="0.75" stroke-linecap="round" stroke-linejoin="round"/><path d="M660.6 156.8l-1.2 3.2-2 2.8" fill="none" stroke="#e4e4f2" stroke-width="0.36" stroke-opacity="0.75" stroke-linecap="round" stroke-linejoin="round"/><path d="M655 140l1 2.8 .1 3 .6 3 .7 2.9 1.5 2.6 1.7 2.5" fill="none" stroke="#e4e4f2" stroke-width="0.55" stroke-opacity="0.75" stroke-linecap="round" stroke-linejoin="round"/><path d="M652.5 148.5l-.4 1-.1 .9" fill="none" stroke="#e4e4f2" stroke-width="0.23" stroke-opacity="0.75" stroke-linecap="round" stroke-linejoin="round"/><path d="M651.8 145.3l.7 3.2-.3 3.3" fill="none" stroke="#e4e4f2" stroke-width="0.36" stroke-opacity="0.75" stroke-linecap="round" stroke-linejoin="round"/><path d="M655 140l-1.6 2.6-1.6 2.7-1.9 2.4-2.6 1.8-2.8 1.3" fill="none" stroke="#e4e4f2" stroke-width="0.55" stroke-opacity="0.75" stroke-linecap="round" stroke-linejoin="round"/><path d="M638.4 130.8l-1.3-.2-1.2-.3" fill="none" stroke="#e4e4f2" stroke-width="0.23" stroke-opacity="0.75" stroke-linecap="round" stroke-linejoin="round"/><path d="M641.6 129.4l-3.2 1.4-2.8 2.3" fill="none" stroke="#e4e4f2" stroke-width="0.36" stroke-opacity="0.75" stroke-linecap="round" stroke-linejoin="round"/><path d="M655 140l-2.5-2.3-2.6-2.2-2.5-2.5-2.9-1.7-2.9-1.9" fill="none" stroke="#e4e4f2" stroke-width="0.55" stroke-opacity="0.75" stroke-linecap="round" stroke-linejoin="round"/><path d="M655 140l1.6-3.3 1.1-3.5 2.3-2.8" fill="none" stroke="#e4e4f2" stroke-width="0.55" stroke-opacity="0.75" stroke-linecap="round" stroke-linejoin="round"/>
<path d="M560 168l3-.4 3-.6 2.8-1.1 2.3-2" fill="none" stroke="#e4e4f2" stroke-width="0.55" stroke-opacity="0.75" stroke-linecap="round" stroke-linejoin="round"/><path d="M560 168l.8 3.1 .1 3.1 .7 3.1" fill="none" stroke="#e4e4f2" stroke-width="0.55" stroke-opacity="0.75" stroke-linecap="round" stroke-linejoin="round"/><path d="M554.9 175.2l-1 .6-.9 .9" fill="none" stroke="#e4e4f2" stroke-width="0.23" stroke-opacity="0.75" stroke-linecap="round" stroke-linejoin="round"/><path d="M555 172.5l-.1 2.7 .7 2.5" fill="none" stroke="#e4e4f2" stroke-width="0.36" stroke-opacity="0.75" stroke-linecap="round" stroke-linejoin="round"/><path d="M547.5 177.6l-.8 0-.7 .1" fill="none" stroke="#e4e4f2" stroke-width="0.23" stroke-opacity="0.75" stroke-linecap="round" stroke-linejoin="round"/><path d="M548.9 175.4l-1.4 2.2-1.9 1.7" fill="none" stroke="#e4e4f2" stroke-width="0.36" stroke-opacity="0.75" stroke-linecap="round" stroke-linejoin="round"/><path d="M560 168l-2.4 2.4-2.6 2.1-3.1 1.5-3 1.4" fill="none" stroke="#e4e4f2" stroke-width="0.55" stroke-opacity="0.75" stroke-linecap="round" stroke-linejoin="round"/><path d="M551.6 164.7l-1.3-.2-1.2-.5" fill="none" stroke="#e4e4f2" stroke-width="0.23" stroke-opacity="0.75" stroke-linecap="round" stroke-linejoin="round"/><path d="M554.1 162.9l-2.5 1.8-2.7 1.5" fill="none" stroke="#e4e4f2" stroke-width="0.36" stroke-opacity="0.75" stroke-linecap="round" stroke-linejoin="round"/><path d="M560 168l-2.5-3.1-3.4-2-3.8-1" fill="none" stroke="#e4e4f2" stroke-width="0.55" stroke-opacity="0.75" stroke-linecap="round" stroke-linejoin="round"/><path d="M562.1 156.1l-.4-1-.2-1" fill="none" stroke="#e4e4f2" stroke-width="0.23" stroke-opacity="0.75" stroke-linecap="round" stroke-linejoin="round"/><path d="M561 158.7l1.1-2.6 .7-2.8" fill="none" stroke="#e4e4f2" stroke-width="0.36" stroke-opacity="0.75" stroke-linecap="round" stroke-linejoin="round"/><path d="M560 168l.8-3-.2-3.2 .4-3.1 .1-3.1" fill="none" stroke="#e4e4f2" stroke-width="0.55" stroke-opacity="0.75" stroke-linecap="round" stroke-linejoin="round"/>
<path d="M685.6 54.5l1.1-.4 1.1-.1" fill="none" stroke="#f0f0fa" stroke-width="0.3" stroke-opacity="0.9" stroke-linecap="round" stroke-linejoin="round"/><path d="M686.7 52.1l.9-.8 1.1-.6" fill="none" stroke="#f0f0fa" stroke-width="0.3" stroke-opacity="0.9" stroke-linecap="round" stroke-linejoin="round"/><path d="M684.2 56.7l1.4-2.2 1.1-2.4" fill="none" stroke="#f0f0fa" stroke-width="0.45" stroke-opacity="0.9" stroke-linecap="round" stroke-linejoin="round"/><path d="M678 58l3.1-.8 3.1-.5 3.1-.3 2.9-1.3" fill="none" stroke="#f0f0fa" stroke-width="0.7" stroke-opacity="0.9" stroke-linecap="round" stroke-linejoin="round"/><path d="M678 58l.9 3.4 0 3.4-.8 3.4-1.8 3" fill="none" stroke="#f0f0fa" stroke-width="0.7" stroke-opacity="0.9" stroke-linecap="round" stroke-linejoin="round"/><path d="M678 58l-.3 3.1-.1 3.2 .3 3.1" fill="none" stroke="#f0f0fa" stroke-width="0.7" stroke-opacity="0.9" stroke-linecap="round" stroke-linejoin="round"/><path d="M678 58l-3.7 0-3.6-1-3.1-2" fill="none" stroke="#f0f0fa" stroke-width="0.7" stroke-opacity="0.9" stroke-linecap="round" stroke-linejoin="round"/><path d="M678 58l-1.5-3-.5-3.4-.3-3.4-1-3.2" fill="none" stroke="#f0f0fa" stroke-width="0.7" stroke-opacity="0.9" stroke-linecap="round" stroke-linejoin="round"/><path d="M680.9 48.1l-.4-.7-.1-.8" fill="none" stroke="#f0f0fa" stroke-width="0.3" stroke-opacity="0.9" stroke-linecap="round" stroke-linejoin="round"/><path d="M680.9 51.7l-.2-1.8 .2-1.8" fill="none" stroke="#f0f0fa" stroke-width="0.45" stroke-opacity="0.9" stroke-linecap="round" stroke-linejoin="round"/><path d="M682.4 46.8l-.6-.3-.5-.3" fill="none" stroke="#f0f0fa" stroke-width="0.3" stroke-opacity="0.9" stroke-linecap="round" stroke-linejoin="round"/><path d="M682.5 48.5l-.1-1.7 .5-1.6" fill="none" stroke="#f0f0fa" stroke-width="0.45" stroke-opacity="0.9" stroke-linecap="round" stroke-linejoin="round"/><path d="M678 58l.9-3.4 2-2.9 1.6-3.2" fill="none" stroke="#f0f0fa" stroke-width="0.7" stroke-opacity="0.9" stroke-linecap="round" stroke-linejoin="round"/>
<path d="M674 153.3l1.4-1.4 .9-1.8" fill="none" stroke="#e8e8f4" stroke-width="0.39" stroke-opacity="0.85" stroke-linecap="round" stroke-linejoin="round"/><path d="M681.7 150.5l1.2 .2 1.1 .5" fill="none" stroke="#e8e8f4" stroke-width="0.25" stroke-opacity="0.85" stroke-linecap="round" stroke-linejoin="round"/><path d="M679.9 152l1.8-1.5 1.6-1.6" fill="none" stroke="#e8e8f4" stroke-width="0.39" stroke-opacity="0.85" stroke-linecap="round" stroke-linejoin="round"/><path d="M671 154l3-.7 2.9-1 3-.3" fill="none" stroke="#e8e8f4" stroke-width="0.6" stroke-opacity="0.85" stroke-linecap="round" stroke-linejoin="round"/><path d="M673.7 156.7l.3 3 .7 2.9" fill="none" stroke="#e8e8f4" stroke-width="0.39" stroke-opacity="0.85" stroke-linecap="round" stroke-linejoin="round"/><path d="M671 154l2.7 2.7 2.6 2.7 1.8 3.4" fill="none" stroke="#e8e8f4" stroke-width="0.6" stroke-opacity="0.85" stroke-linecap="round" stroke-linejoin="round"/><path d="M669.7 157l-2 2.5-2.8 1.8" fill="none" stroke="#e8e8f4" stroke-width="0.39" stroke-opacity="0.85" stroke-linecap="round" stroke-linejoin="round"/><path d="M671 154l-1.3 3-1.7 2.8-.9 3.1 .1 3.3" fill="none" stroke="#e8e8f4" stroke-width="0.6" stroke-opacity="0.85" stroke-linecap="round" stroke-linejoin="round"/><path d="M671 154l-3.9 .6-3.9 .3-3.8 1.1" fill="none" stroke="#e8e8f4" stroke-width="0.6" stroke-opacity="0.85" stroke-linecap="round" stroke-linejoin="round"/><path d="M667 146.2l-.5-1.1-.6-.9" fill="none" stroke="#e8e8f4" stroke-width="0.25" stroke-opacity="0.85" stroke-linecap="round" stroke-linejoin="round"/><path d="M668.7 147.5l-1.7-1.3-1.1-1.8" fill="none" stroke="#e8e8f4" stroke-width="0.39" stroke-opacity="0.85" stroke-linecap="round" stroke-linejoin="round"/><path d="M671 154l-1.6-3.1-.7-3.4-1-3.3-.7-3.4" fill="none" stroke="#e8e8f4" stroke-width="0.6" stroke-opacity="0.85" stroke-linecap="round" stroke-linejoin="round"/><path d="M672.2 150.9l1.5-.7 1.4-.8" fill="none" stroke="#e8e8f4" stroke-width="0.39" stroke-opacity="0.85" stroke-linecap="round" stroke-linejoin="round"/><path d="M671 154l1.2-3.1 1.7-2.7 2-2.7" fill="none" stroke="#e8e8f4" stroke-width="0.6" stroke-opacity="0.85" stroke-linecap="round" stroke-linejoin="round"/>
<path d="M657 168l3.9 1.1 3.6 1.8" fill="none" stroke="#f8f8ff" stroke-width="1.0" stroke-opacity="0.95" stroke-linecap="round" stroke-linejoin="round"/><path d="M654.8 175.6l-.2 .4-.2 .4" fill="none" stroke="#f8f8ff" stroke-width="0.42" stroke-opacity="0.95" stroke-linecap="round" stroke-linejoin="round"/><path d="M653.7 176.2l-.4 0-.4 0" fill="none" stroke="#f8f8ff" stroke-width="0.42" stroke-opacity="0.95" stroke-linecap="round" stroke-linejoin="round"/><path d="M655.9 174.7l-1.1 .9-1.1 .6" fill="none" stroke="#f8f8ff" stroke-width="0.65" stroke-opacity="0.95" stroke-linecap="round" stroke-linejoin="round"/><path d="M657 168l-.1 3.4-1 3.3" fill="none" stroke="#f8f8ff" stroke-width="1.0" stroke-opacity="0.95" stroke-linecap="round" stroke-linejoin="round"/><path d="M654 167.7l-1.5 1.5-1.7 1.3" fill="none" stroke="#f8f8ff" stroke-width="0.65" stroke-opacity="0.95" stroke-linecap="round" stroke-linejoin="round"/><path d="M651.1 166.6l-1.7-1.7-1.2-2.1" fill="none" stroke="#f8f8ff" stroke-width="0.65" stroke-opacity="0.95" stroke-linecap="round" stroke-linejoin="round"/><path d="M657 168l-3-.3-2.9-1.1-2.7-1.2" fill="none" stroke="#f8f8ff" stroke-width="1.0" stroke-opacity="0.95" stroke-linecap="round" stroke-linejoin="round"/><path d="M657 168l-1.2-2.9-1.9-2.6" fill="none" stroke="#f8f8ff" stroke-width="1.0" stroke-opacity="0.95" stroke-linecap="round" stroke-linejoin="round"/>
<path d="M628.3 79.3l.9 .6 .8 .7" fill="none" stroke="#e0e0f0" stroke-width="0.25" stroke-opacity="0.85" stroke-linecap="round" stroke-linejoin="round"/><path d="M624.1 79.5l2.1 .1 2.1-.3" fill="none" stroke="#e0e0f0" stroke-width="0.39" stroke-opacity="0.85" stroke-linecap="round" stroke-linejoin="round"/><path d="M627.1 80.4l1.6 1.5 1 1.9" fill="none" stroke="#e0e0f0" stroke-width="0.39" stroke-opacity="0.85" stroke-linecap="round" stroke-linejoin="round"/><path d="M632.3 80.4l.5-.6 .4-.7" fill="none" stroke="#e0e0f0" stroke-width="0.25" stroke-opacity="0.85" stroke-linecap="round" stroke-linejoin="round"/><path d="M630.2 81.2l2.1-.8 2.3-.1" fill="none" stroke="#e0e0f0" stroke-width="0.39" stroke-opacity="0.85" stroke-linecap="round" stroke-linejoin="round"/><path d="M621 79l3.1 .5 3 .9 3.1 .8" fill="none" stroke="#e0e0f0" stroke-width="0.6" stroke-opacity="0.85" stroke-linecap="round" stroke-linejoin="round"/><path d="M620 88.9l0 .8 .2 .8" fill="none" stroke="#e0e0f0" stroke-width="0.25" stroke-opacity="0.85" stroke-linecap="round" stroke-linejoin="round"/><path d="M619.1 90.4l.2 .9 .4 .8" fill="none" stroke="#e0e0f0" stroke-width="0.25" stroke-opacity="0.85" stroke-linecap="round" stroke-linejoin="round"/><path d="M621 87.5l-1 1.4-.9 1.5" fill="none" stroke="#e0e0f0" stroke-width="0.39" stroke-opacity="0.85" stroke-linecap="round" stroke-linejoin="round"/><path d="M621 79l.7 4.2-.7 4.3" fill="none" stroke="#e0e0f0" stroke-width="0.6" stroke-opacity="0.85" stroke-linecap="round" stroke-linejoin="round"/><path d="M621 79l-3 3-3.3 2.8" fill="none" stroke="#e0e0f0" stroke-width="0.6" stroke-opacity="0.85" stroke-linecap="round" stroke-linejoin="round"/><path d="M621 79l-2.5-2.4-2.9-1.8" fill="none" stroke="#e0e0f0" stroke-width="0.6" stroke-opacity="0.85" stroke-linecap="round" stroke-linejoin="round"/><path d="M621 79l1.6-2.5 .8-2.8" fill="none" stroke="#e0e0f0" stroke-width="0.6" stroke-opacity="0.85" stroke-linecap="round" stroke-linejoin="round"/>
<path d="M651.1 104.1l.6 0 .6-.1" fill="none" stroke="#e0b8a8" stroke-width="0.21" stroke-opacity="0.6" stroke-linecap="round" stroke-linejoin="round"/><path d="M649.6 105l1.5-.9 1.5-.9" fill="none" stroke="#e0b8a8" stroke-width="0.33" stroke-opacity="0.6" stroke-linecap="round" stroke-linejoin="round"/><path d="M646 105l3.6 0 3.7 .3 3.5-.7" fill="none" stroke="#e0b8a8" stroke-width="0.5" stroke-opacity="0.6" stroke-linecap="round" stroke-linejoin="round"/><path d="M649.3 107l1.2 1.5 1.5 1.2" fill="none" stroke="#e0b8a8" stroke-width="0.33" stroke-opacity="0.6" stroke-linecap="round" stroke-linejoin="round"/><path d="M655.3 111.8l2.5 0 2.4-.1" fill="none" stroke="#e0b8a8" stroke-width="0.33" stroke-opacity="0.6" stroke-linecap="round" stroke-linejoin="round"/><path d="M646 105l3.3 2 3 2.4 3 2.4" fill="none" stroke="#e0b8a8" stroke-width="0.5" stroke-opacity="0.6" stroke-linecap="round" stroke-linejoin="round"/><path d="M646 105l1.2 3.7 2.2 3.3 2.2 3.2" fill="none" stroke="#e0b8a8" stroke-width="0.5" stroke-opacity="0.6" stroke-linecap="round" stroke-linejoin="round"/><path d="M633.4 119.4l-1.4 .2-1.3 0" fill="none" stroke="#e0b8a8" stroke-width="0.21" stroke-opacity="0.6" stroke-linecap="round" stroke-linejoin="round"/><path d="M638.9 117.7l-2.9 .5-2.6 1.2" fill="none" stroke="#e0b8a8" stroke-width="0.33" stroke-opacity="0.6" stroke-linecap="round" stroke-linejoin="round"/><path d="M646 105l-1.6 3.4-.9 3.6-1.8 3.2-2.8 2.5" fill="none" stroke="#e0b8a8" stroke-width="0.5" stroke-opacity="0.6" stroke-linecap="round" stroke-linejoin="round"/><path d="M643.1 104.1l-.4-3.6-.1-3.5" fill="none" stroke="#e0b8a8" stroke-width="0.33" stroke-opacity="0.6" stroke-linecap="round" stroke-linejoin="round"/><path d="M637.2 105.2l-2.3-1-2-1.6" fill="none" stroke="#e0b8a8" stroke-width="0.21" stroke-opacity="0.6" stroke-linecap="round" stroke-linejoin="round"/><path d="M640.1 103.7l-2.9 1.5-2.6 1.9-2.4 2.2" fill="none" stroke="#e0b8a8" stroke-width="0.33" stroke-opacity="0.6" stroke-linecap="round" stroke-linejoin="round"/><path d="M629.8 106.4l-.6 1.5-1.1 1.3" fill="none" stroke="#e0b8a8" stroke-width="0.21" stroke-opacity="0.6" stroke-linecap="round" stroke-linejoin="round"/><path d="M637.3 102.4l-4 1.6-3.5 2.4" fill="none" stroke="#e0b8a8" stroke-width="0.33" stroke-opacity="0.6" stroke-linecap="round" stroke-linejoin="round"/><path d="M646 105l-2.9-.9-3-.4-2.8-1.3-2.6-1.6-2.4-1.9-2.9-1" fill="none" stroke="#e0b8a8" stroke-width="0.5" stroke-opacity="0.6" stroke-linecap="round" stroke-linejoin="round"/><path d="M642.3 96.1l.5-.8 .4-.8" fill="none" stroke="#e0b8a8" stroke-width="0.21" stroke-opacity="0.6" stroke-linecap="round" stroke-linejoin="round"/><path d="M643 98.8l-.7-2.7 .2-2.7" fill="none" stroke="#e0b8a8" stroke-width="0.33" stroke-opacity="0.6" stroke-linecap="round" stroke-linejoin="round"/><path d="M640.6 96.3l-1.3-2.9-1.9-2.4" fill="none" stroke="#e0b8a8" stroke-width="0.33" stroke-opacity="0.6" stroke-linecap="round" stroke-linejoin="round"/><path d="M629.7 87.2l-1.6-.8-1.6-.9" fill="none" stroke="#e0b8a8" stroke-width="0.21" stroke-opacity="0.6" stroke-linecap="round" stroke-linejoin="round"/><path d="M637.6 90l-3.9-1.3-4-1.5" fill="none" stroke="#e0b8a8" stroke-width="0.33" stroke-opacity="0.6" stroke-linecap="round" stroke-linejoin="round"/><path d="M646 105l-1.4-3.2-1.6-3-2.4-2.5-1.5-3.1-1.5-3.2" fill="none" stroke="#e0b8a8" stroke-width="0.5" stroke-opacity="0.6" stroke-linecap="round" stroke-linejoin="round"/><path d="M647.4 101.9l3-1.6 2.9-1.6" fill="none" stroke="#e0b8a8" stroke-width="0.33" stroke-opacity="0.6" stroke-linecap="round" stroke-linejoin="round"/><path d="M648.3 88.4l-1.8-.2-1.7-.4" fill="none" stroke="#e0b8a8" stroke-width="0.21" stroke-opacity="0.6" stroke-linecap="round" stroke-linejoin="round"/><path d="M651.3 96.2l-1.3-4-1.7-3.8" fill="none" stroke="#e0b8a8" stroke-width="0.33" stroke-opacity="0.6" stroke-linecap="round" stroke-linejoin="round"/><path d="M646 105l1.4-3.1 1.7-3 2.2-2.7 1.8-2.9 2.3-2.6" fill="none" stroke="#e0b8a8" stroke-width="0.5" stroke-opacity="0.6" stroke-linecap="round" stroke-linejoin="round"/><path d="M646 105l2.4-2.4 2.2-2.7 2.9-1.8" fill="none" stroke="#e0b8a8" stroke-width="0.5" stroke-opacity="0.6" stroke-linecap="round" stroke-linejoin="round"/>
<path d="M538.6 34.4l.5-2 .7-2" fill="none" stroke="#b8b8d0" stroke-width="0.33" stroke-opacity="0.6" stroke-linecap="round" stroke-linejoin="round"/><path d="M533 38l3.1-1.4 2.5-2.2 2.4-2.4 2.8-1.9" fill="none" stroke="#b8b8d0" stroke-width="0.5" stroke-opacity="0.6" stroke-linecap="round" stroke-linejoin="round"/><path d="M531.7 46.8l1 .5 .8 .8" fill="none" stroke="#b8b8d0" stroke-width="0.21" stroke-opacity="0.6" stroke-linecap="round" stroke-linejoin="round"/><path d="M532.8 49.2l.6 .5 .8 .3" fill="none" stroke="#b8b8d0" stroke-width="0.21" stroke-opacity="0.6" stroke-linecap="round" stroke-linejoin="round"/><path d="M530.6 44.4l1.1 2.4 1.1 2.4" fill="none" stroke="#b8b8d0" stroke-width="0.33" stroke-opacity="0.6" stroke-linecap="round" stroke-linejoin="round"/><path d="M533 38l-1 3.3-1.4 3.1-2.1 2.7" fill="none" stroke="#b8b8d0" stroke-width="0.5" stroke-opacity="0.6" stroke-linecap="round" stroke-linejoin="round"/><path d="M526.3 37.6l-1.5 1.2-1.4 1.3" fill="none" stroke="#b8b8d0" stroke-width="0.33" stroke-opacity="0.6" stroke-linecap="round" stroke-linejoin="round"/><path d="M533 38l-3.4-.3-3.3-.1-3.4 .3" fill="none" stroke="#b8b8d0" stroke-width="0.5" stroke-opacity="0.6" stroke-linecap="round" stroke-linejoin="round"/><path d="M533 38l.3-3.8 1.4-3.6 1.1-3.7" fill="none" stroke="#b8b8d0" stroke-width="0.5" stroke-opacity="0.6" stroke-linecap="round" stroke-linejoin="round"/>
<path d="M567.3 167.6l.5 .9 .6 .8" fill="none" stroke="#d8d8ea" stroke-width="0.25" stroke-opacity="0.8" stroke-linecap="round" stroke-linejoin="round"/><path d="M564.2 165.4l1.5 1.2 1.6 1" fill="none" stroke="#d8d8ea" stroke-width="0.39" stroke-opacity="0.8" stroke-linecap="round" stroke-linejoin="round"/><path d="M560 165l4.2 .4 4.1-.2" fill="none" stroke="#d8d8ea" stroke-width="0.6" stroke-opacity="0.8" stroke-linecap="round" stroke-linejoin="round"/><path d="M561.7 169.2l1.2 0 1.1 .2" fill="none" stroke="#d8d8ea" stroke-width="0.25" stroke-opacity="0.8" stroke-linecap="round" stroke-linejoin="round"/><path d="M559.7 168.2l2 1 2.1 .6" fill="none" stroke="#d8d8ea" stroke-width="0.39" stroke-opacity="0.8" stroke-linecap="round" stroke-linejoin="round"/><path d="M560 165l-.3 3.2-.2 3.3-.5 3.2" fill="none" stroke="#d8d8ea" stroke-width="0.6" stroke-opacity="0.8" stroke-linecap="round" stroke-linejoin="round"/><path d="M551.3 164.3l-.3-.9-.1-.8" fill="none" stroke="#d8d8ea" stroke-width="0.25" stroke-opacity="0.8" stroke-linecap="round" stroke-linejoin="round"/><path d="M556.6 163.9l-2.6 .5-2.7-.1" fill="none" stroke="#d8d8ea" stroke-width="0.39" stroke-opacity="0.8" stroke-linecap="round" stroke-linejoin="round"/><path d="M560 165l-3.4-1.1-3.3-1.1-3.6-.2" fill="none" stroke="#d8d8ea" stroke-width="0.6" stroke-opacity="0.8" stroke-linecap="round" stroke-linejoin="round"/><path d="M560.5 158.3l-.5-.3-.6-.2" fill="none" stroke="#d8d8ea" stroke-width="0.25" stroke-opacity="0.8" stroke-linecap="round" stroke-linejoin="round"/><path d="M561.7 161.1l-.8-1.3-.4-1.5" fill="none" stroke="#d8d8ea" stroke-width="0.39" stroke-opacity="0.8" stroke-linecap="round" stroke-linejoin="round"/><path d="M560 165l1.7-3.9 2.2-3.6" fill="none" stroke="#d8d8ea" stroke-width="0.6" stroke-opacity="0.8" stroke-linecap="round" stroke-linejoin="round"/>
</g>
</g>
<text x="532.6" y="32.3" font-size="11.1"><tspan fill="#3c78c8">DAPI</tspan> <tspan fill="#f4f4f4">GFAP</tspan> <tspan fill="#e07a34">mCherry</tspan></text>
<rect x="663" y="169.8" width="19" height="2.8" fill="#fff"/>
<text x="4.6" y="242" font-size="15.5" font-weight="bold" fill="#111" stroke="#000" stroke-width="0.6">c</text>
<line x1="57.5" y1="258.5" x2="57.5" y2="402.5" stroke="#333" stroke-width="0.9"/>
<line x1="53.3" y1="402.5" x2="129" y2="402.5" stroke="#333" stroke-width="0.9"/>
<line x1="53.3" y1="402.5" x2="57.5" y2="402.5" stroke="#333" stroke-width="0.9"/>
<text x="47.6" y="406.4" font-size="10.9" text-anchor="end" fill="#111">0</text>
<line x1="53.3" y1="366.5" x2="57.5" y2="366.5" stroke="#333" stroke-width="0.9"/>
<text x="47.6" y="370.4" font-size="10.9" text-anchor="end" fill="#111">60</text>
<line x1="53.3" y1="330.5" x2="57.5" y2="330.5" stroke="#333" stroke-width="0.9"/>
<text x="47.6" y="334.4" font-size="10.9" text-anchor="end" fill="#111">120</text>
<line x1="53.3" y1="294.5" x2="57.5" y2="294.5" stroke="#333" stroke-width="0.9"/>
<text x="47.6" y="298.4" font-size="10.9" text-anchor="end" fill="#111">180</text>
<line x1="53.3" y1="258.5" x2="57.5" y2="258.5" stroke="#333" stroke-width="0.9"/>
<text x="47.6" y="262.4" font-size="10.9" text-anchor="end" fill="#111">240</text>
<line x1="57.5" y1="402.5" x2="57.5" y2="406.3" stroke="#333" stroke-width="0.9"/>
<text x="57.5" y="420.2" font-size="10.9" text-anchor="middle" fill="#111">0</text>
<line x1="81.1" y1="402.5" x2="81.1" y2="406.3" stroke="#333" stroke-width="0.9"/>
<text x="81.1" y="420.2" font-size="10.9" text-anchor="middle" fill="#111">10</text>
<line x1="104.69999999999999" y1="402.5" x2="104.69999999999999" y2="406.3" stroke="#333" stroke-width="0.9"/>
<text x="104.7" y="420.2" font-size="10.9" text-anchor="middle" fill="#111">20</text>
<line x1="128.3" y1="402.5" x2="128.3" y2="406.3" stroke="#333" stroke-width="0.9"/>
<text x="128.3" y="420.2" font-size="10.9" text-anchor="middle" fill="#111">30</text>
<text x="93.6" y="438.4" font-size="11.1" text-anchor="middle" fill="#111">Time (min)</text>
<text transform="translate(19.6,397.6) rotate(-90)" font-size="11.3" fill="#111">Cumulative Ca<tspan font-size="7" dy="-4.5">2+</tspan><tspan dy="4.5"> transients</tspan></text>
<path d="M57.5 402.5l2.4-1.5 2.3-1.4 2.4-1 2.3-.4 2.4-3 2.4-1.5 2.3-3.5 2.4-1.5 2.3-4.5 2.4-2.8 2.4-4.6 2.3-2.5 2.4-4 2.3-3.2 2.4-4.1 2.4-6.2 2.3-3.7 2.4-5.4 2.3-5.1 2.4-5.8 2.4-3.9 2.3-5.9 2.4-8 2.3-7.8 2.4-3.4 2.4-7.9 2.3-7.9 2.4-6.8 2.3-7.8 2.4-7.8" fill="none" stroke="#8a8a8a" stroke-width="0.5" stroke-opacity="0.75"/>
<path d="M57.5 402.5l2.4-2.3 2.3-2.9 2.4-4.6 2.3-.8 2.4-2.1 2.4-4.1 2.3-2.7 2.4-3.2 2.3-2.1 2.4-4.3 2.4-2.3 2.3-4.3 2.4-1.5 2.3-2.8 2.4-3.8 2.4-2.6 2.3-1.8 2.4-4.2 2.3-2 2.4-4.5 2.4-1.8 2.3-3.8 2.4-2.3 2.3-4 2.4-4 2.4-3 2.3-1.9 2.4-2.8 2.3-4.7 2.4-2.3" fill="none" stroke="#8a8a8a" stroke-width="0.5" stroke-opacity="0.75"/>
<path d="M57.5 402.5l2.4-3.3 2.3-2.8 2.4-2.5 2.3-3.1 2.4-1.2 2.4-2.8 2.3-2.5 2.4-2.8 2.3-4.2 2.4-2.1 2.4-1.9 2.3-2.8 2.4-4.2 2.3-1.1 2.4-3.3 2.4-3.5 2.3-3.4 2.4-2.8 2.3-1.6 2.4-2.2 2.4-3 2.3-4 2.4-2.7 2.3-3.6 2.4-2.6 2.4-3.1 2.3-1.4 2.4-2.9 2.3-3.7 2.4-3.2" fill="none" stroke="#8a8a8a" stroke-width="0.5" stroke-opacity="0.75"/>
<path d="M57.5 402.5l2.4-3.2 2.3-1.5 2.4-2.3 2.3-1.5 2.4-3.7 2.4-2.7 2.3-1.9 2.4-2.6 2.3-1.6 2.4-4.7 2.4-1.8 2.3-2 2.4-3.3 2.3-2.4 2.4-2.5 2.4-2.4 2.3-2.9 2.4-3 2.3-2.9 2.4-2.8 2.4-2.4 2.3-3.1 2.4-2 2.3-1.7 2.4-2.9 2.4-4.6 2.3-1 2.4-3.4 2.3-3.5 2.4-3.6" fill="none" stroke="#8a8a8a" stroke-width="0.5" stroke-opacity="0.75"/>
<path d="M57.5 402.5l2.4-4 2.3-.8 2.4-2.8 2.3-2.1 2.4-2.5 2.4-4.2 2.3-1.6 2.4-2.4 2.3-3.4 2.4-3.1 2.4-2 2.3-2.5 2.4-1.4 2.3-3.9 2.4-2.3 2.4-1.2 2.3-2.8 2.4-3.5 2.3-1.4 2.4-2.6 2.4-2.6 2.3-3.7 2.4-1.5 2.3-3 2.4-3.1 2.4-3 2.3-2.5 2.4-2.4 2.3-2.4 2.4-.8" fill="none" stroke="#8a8a8a" stroke-width="0.5" stroke-opacity="0.75"/>
<path d="M57.5 402.5l2.4-2.8 2.3-1.4 2.4-3.2 2.3-.2 2.4-3.6 2.4-4 2.3-1 2.4-3 2.3-1.3 2.4-4.1 2.4-2 2.3-2.6 2.4-1.4 2.3-3 2.4-1.4 2.4-3.4 2.3-.7 2.4-4.3 2.3-2.6 2.4-1.7 2.4-3.8 2.3-1.4 2.4-3.8 2.3-.9 2.4-2.4 2.4-2.9 2.3-5.1 2.4 1.1 2.3-3.5 2.4-2.5" fill="none" stroke="#8a8a8a" stroke-width="0.5" stroke-opacity="0.75"/>
<path d="M57.5 402.5l2.4-2 2.3-1.2 2.4-5.6 2.3-.8 2.4-2.3 2.4-2 2.3-3.1 2.4-.7 2.3-4.3 2.4-3.4 2.4 0 2.3-3.5 2.4-1.2 2.3-2 2.4-3.3 2.4-1.8 2.3-2.5 2.4-2.8 2.3-2.2 2.4-3.3 2.4-2.2 2.3-2 2.4-2.3 2.3-1.7 2.4-2.6 2.4-2.6 2.3-2.3 2.4-2.1 2.3-3.1 2.4-3" fill="none" stroke="#8a8a8a" stroke-width="0.5" stroke-opacity="0.75"/>
<path d="M57.5 402.5l2.4-2.4 2.3-3.2 2.4-2.5 2.3-1.1 2.4-1.9 2.4-2.9 2.3-4 2.4-2.6 2.3-.3 2.4-1.7 2.4-1.9 2.3-2.6 2.4-3.3 2.3-1.5 2.4-2.4 2.4-2.8 2.3-.4 2.4-2.8 2.3-3 2.4-1.9 2.4-2.3 2.3-2.6 2.4-2.5 2.3-2.4 2.4-1.8 2.4-2.3 2.3-1.7 2.4-2.9 2.3-1.7 2.4-1.4" fill="none" stroke="#8a8a8a" stroke-width="0.5" stroke-opacity="0.75"/>
<path d="M57.5 402.5l2.4-3.1 2.3-2.2 2.4-1.8 2.3-1.1 2.4-2.6 2.4-2.6 2.3-2.1 2.4-1.9 2.3-2.3 2.4-3 2.4-.9 2.3-2.3 2.4-3 2.3 .1 2.4-3.2 2.4-1.9 2.3-2.3 2.4-1.2 2.3-1.2 2.4-1.9 2.4-2.6 2.3-1.9 2.4-1.9 2.3-.8 2.4-2.5 2.4-2.7 2.3-1.3 2.4 0 2.3-4.4 2.4-1.2" fill="none" stroke="#8a8a8a" stroke-width="0.5" stroke-opacity="0.75"/>
<path d="M57.5 402.5l2.4-1.8 2.3-2.9 2.4-.8 2.3-2.2 2.4-.2 2.4-3.7 2.3-1.2 2.4-2.4 2.3-2.5 2.4-.9 2.4-2.5 2.3-3.5 2.4-1.4 2.3-2.5 2.4-1.3 2.4-.6 2.3-2.3 2.4-2.2 2.3-2.5 2.4-2.5 2.4-.7 2.3-1.1 2.4-3.7 2.3-2 2.4-2.6 2.4-.3 2.3-1.7 2.4-1.6 2.3-2.3 2.4-2.5" fill="none" stroke="#8a8a8a" stroke-width="0.5" stroke-opacity="0.75"/>
<path d="M57.5 402.5l2.4-2.5 2.3-.8 2.4-2.4 2.3-1.1 2.4-1.7 2.4-2.5 2.3-1.5 2.4-2.1 2.3-1.4 2.4-2.7 2.4-2.8 2.3-.9 2.4-2 2.3-1.3 2.4-1.5 2.4-1.8 2.3-1.7 2.4-3.3 2.3-1.1 2.4-1.8 2.4-1.8 2.3-3.2 2.4-3 2.3-.2 2.4-2.1 2.4-1.1 2.3-4.4 2.4 .8 2.3-3.5 2.4-1.3" fill="none" stroke="#8a8a8a" stroke-width="0.5" stroke-opacity="0.75"/>
<path d="M57.5 402.5l2.4-2.3 2.3-1.3 2.4-3.3 2.3-.9 2.4-1.5 2.4-3.4 2.3-1.5 2.4-2.2 2.3-1.1 2.4-2.6 2.4-1.3 2.3-1.6 2.4-2.1 2.3-2.7 2.4-1.7 2.4-2.8 2.3-1.2 2.4-.9 2.3-2.4 2.4-1.1 2.4-2.4 2.3-1.2 2.4-1.6 2.3-2.1 2.4-2.9 2.4 0 2.3-2.9 2.4-1.6 2.3-1 2.4-2.3" fill="none" stroke="#8a8a8a" stroke-width="0.5" stroke-opacity="0.75"/>
<polygon points="57.5,402.5 59.9,400.0 62.2,397.4 64.6,394.8 66.9,392.2 69.3,389.5 71.7,386.8 74.0,384.1 76.4,381.3 78.7,378.5 81.1,375.7 83.5,372.8 85.8,369.9 88.2,366.9 90.5,364.0 92.9,360.9 95.3,357.9 97.6,354.7 100.0,351.6 102.3,348.4 104.7,345.2 107.1,341.9 109.4,338.6 111.8,335.3 114.1,331.9 116.5,328.5 118.9,325.0 121.2,321.5 123.6,317.9 125.9,314.3 128.3,310.7 128.3,343.1 125.9,344.5 123.6,346.0 121.2,347.4 118.9,349.0 116.5,350.5 114.1,352.2 111.8,353.8 109.4,355.5 107.1,357.2 104.7,359.0 102.3,360.8 100.0,362.7 97.6,364.6 95.3,366.5 92.9,368.5 90.5,370.5 88.2,372.5 85.8,374.6 83.5,376.8 81.1,378.9 78.7,381.1 76.4,383.3 74.0,385.6 71.7,387.9 69.3,390.3 66.9,392.7 64.6,395.1 62.2,397.5 59.9,400.0 57.5,402.5" fill="#5a5a5a" fill-opacity="0.82"/>
<line x1="100.452" y1="350.96433861344366" x2="100.452" y2="362.30766138655633" stroke="#fff" stroke-width="0.6" stroke-opacity="0.7"/>
<line x1="112.488" y1="334.25586693202047" x2="112.488" y2="353.3121330679795" stroke="#fff" stroke-width="0.6" stroke-opacity="0.7"/>
<path d="M57.5 402.5l2.4-2.5 2.3-2.5 2.4-2.6 2.3-2.5 2.4-2.5 2.4-2.5 2.3-2.5 2.4-2.6 2.3-2.5 2.4-2.5 2.4-2.5 2.3-2.5 2.4-2.6 2.3-2.5 2.4-2.5 2.4-2.5 2.3-2.5 2.4-2.6 2.3-2.5 2.4-2.5 2.4-2.5 2.3-2.5 2.4-2.6 2.3-2.5 2.4-2.5 2.4-2.5 2.3-2.5 2.4-2.6 2.3-2.5 2.4-2.5" fill="none" stroke="#2a2a2a" stroke-width="1.5"/>
<path d="M57.5 402.5l2.4-2.5 2.3-2.5 2.4-2.6 2.3-2.5 2.4-2.5 2.4-2.5 2.3-2.5 2.4-2.6 2.3-2.5 2.4-2.5 2.4-2.5 2.3-2.5 2.4-2.6 2.3-2.5 2.4-2.5 2.4-2.5 2.3-2.5 2.4-2.6 2.3-2.5 2.4-2.5 2.4-2.5 2.3-2.5 2.4-2.6 2.3-2.5 2.4-2.5 2.4-2.5 2.3-2.5 2.4-2.6 2.3-2.5 2.4-2.5" fill="none" stroke="#888" stroke-width="0.5" stroke-dasharray="1,1.5"/>
<path d="M57.5 402.5l2.4-1.8 2.3-1.5 2.4-1.5 2.3-1.4 2.4-2 2.4-1.3 2.3-2.2 2.4-1.3 2.3-1.6 2.4-1.7 2.4-1.5 2.3-2.1 2.4-1.6 2.3-2.1 2.4-.8 2.4-2.4 2.3-1 2.4-2 2.3-1 2.4-2.5 2.4-.9 2.3-2.3 2.4-1.8 2.3-1.8 2.4-1.8 2.4-1.8 2.3-1.7 2.4-1.2 2.3-2.1 2.4-1.5" fill="none" stroke="#b040b0" stroke-width="0.45" stroke-opacity="0.55"/>
<path d="M57.5 402.5l2.4-1.9 2.3-1.4 2.4-1.8 2.3-1.3 2.4-1.6 2.4-1 2.3-1.6 2.4-2.3 2.3-.8 2.4-2.5 2.4-1.2 2.3-1.7 2.4-1.3 2.3-1.8 2.4-1.6 2.4-1.7 2.3-1.6 2.4-1.5 2.3-1.7 2.4-2 2.4-1.3 2.3-1.8 2.4-1.4 2.3-1.1 2.4-2.6 2.4-1.2 2.3-2 2.4-1.3 2.3-1 2.4-2.2" fill="none" stroke="#b040b0" stroke-width="0.45" stroke-opacity="0.55"/>
<path d="M57.5 402.5l2.4-1.2 2.3-.7 2.4-1.5 2.3-1.5 2.4-.7 2.4-.7 2.3-1.5 2.4-2.1 2.3-1.3 2.4-.9 2.4-1.2 2.3-1.5 2.4-.3 2.3-1.2 2.4-1 2.4-1.8 2.3-1.2 2.4-1.5 2.3-.4 2.4-1.9 2.4-1.1 2.3-1.1 2.4-1.3 2.3-1.5 2.4-.2 2.4-2 2.3-1.1 2.4-1.3 2.3-1.7 2.4-.2" fill="none" stroke="#b040b0" stroke-width="0.45" stroke-opacity="0.55"/>
<path d="M57.5 402.5l2.4-1.6 2.3-.9 2.4-.4 2.3-1.1 2.4-1.3 2.4-.5 2.3-1.7 2.4-.4 2.3-1.4 2.4-.5 2.4-1.5 2.3-1.3 2.4-1.1 2.3-.8 2.4-.1 2.4-1.7 2.3-1.2 2.4-1.4 2.3-.7 2.4-1.4 2.4-.8 2.3-.8 2.4-1.8 2.3-.8 2.4-.8 2.4-1.3 2.3-1.5 2.4-.4 2.3-.6 2.4-1.7" fill="none" stroke="#b040b0" stroke-width="0.45" stroke-opacity="0.55"/>
<path d="M57.5 402.5l2.4-.8 2.3-1.1 2.4-.6 2.3-.9 2.4-.7 2.4-1.2 2.3-.8 2.4-.7 2.3-1.3 2.4-.7 2.4-1.4 2.3-.6 2.4-1.4 2.3 0 2.4-1.1 2.4-.6 2.3-1.2 2.4-1 2.3-.6 2.4-1.1 2.4-.6 2.3-1.3 2.4-.2 2.3-1.8 2.4-.4 2.4-.6 2.3-.5 2.4-1.4 2.3-1.8 2.4-.2" fill="none" stroke="#b040b0" stroke-width="0.45" stroke-opacity="0.55"/>
<path d="M57.5 402.5l2.4-.2 2.3-1.4 2.4-.1 2.3-1 2.4-.9 2.4-.3 2.3-1.4 2.4-.2 2.3-1.2 2.4-.6 2.4-.5 2.3-1.5 2.4 .3 2.3-.6 2.4-1.2 2.4-.4 2.3-.8 2.4-.7 2.3-.6 2.4-1.3 2.4-.2 2.3-1.1 2.4-.9 2.3-.6 2.4-.6 2.4-.3 2.3-.8 2.4-.6 2.3-.8 2.4 0" fill="none" stroke="#b040b0" stroke-width="0.45" stroke-opacity="0.55"/>
<path d="M57.5 402.5l2.4-.9 2.3-.3 2.4-.5 2.3 0 2.4-2.1 2.4 .8 2.3-1.3 2.4-.8 2.3 .2 2.4-1 2.4-.9 2.3-1 2.4 .1 2.3-1.2 2.4 .1 2.4-.6 2.3-.3 2.4-1.3 2.3-.1 2.4-.8 2.4-1 2.3-.2 2.4-.6 2.3-.9 2.4-.9 2.4 .1 2.3-.6 2.4-.4 2.3-1 2.4-.7" fill="none" stroke="#b040b0" stroke-width="0.45" stroke-opacity="0.55"/>
<path d="M57.5 402.5l2.4 0 2.3-.5 2.4-.4 2.3 .1 2.4-.8 2.4-.4 2.3 .5 2.4-1 2.3 .1 2.4-.1 2.4-.2 2.3-.6 2.4 .2 2.3-1.4 2.4 .4 2.4-.5 2.3 0 2.4-.4 2.3-.2 2.4-.3 2.4-.3 2.3 .3 2.4-.5 2.3-1.1 2.4 0 2.4 0 2.3-.3 2.4-.2 2.3-.4 2.4-.7" fill="none" stroke="#b040b0" stroke-width="0.45" stroke-opacity="0.55"/>
<path d="M57.5 402.5l2.4-.1 2.3-.9 2.4-.1 2.3 .2 2.4 0 2.4-.6 2.3 .1 2.4 .2 2.3 0 2.4 .3 2.4-.9 2.3-.1 2.4-1 2.3-.7 2.4 1.1 2.4-1.1 2.3 .7 2.4-.3 2.3 .1 2.4-.7 2.4 .2 2.3-.2 2.4 .1 2.3-.5 2.4-.3 2.4-.9 2.3 1.2 2.4-.9 2.3-.6 2.4 .6" fill="none" stroke="#b040b0" stroke-width="0.45" stroke-opacity="0.55"/>
<polygon points="57.5,402.5 59.9,401.4 62.2,400.4 64.6,399.3 66.9,398.2 69.3,397.0 71.7,395.9 74.0,394.8 76.4,393.6 78.7,392.5 81.1,391.3 83.5,390.2 85.8,389.0 88.2,387.9 90.5,386.7 92.9,385.5 95.3,384.4 97.6,383.2 100.0,382.0 102.3,380.8 104.7,379.6 107.1,378.5 109.4,377.3 111.8,376.1 114.1,374.9 116.5,373.7 118.9,372.5 121.2,371.3 123.6,370.1 125.9,368.9 128.3,367.7 128.3,380.9 125.9,381.6 123.6,382.3 121.2,382.9 118.9,383.6 116.5,384.3 114.1,385.0 111.8,385.7 109.4,386.4 107.1,387.1 104.7,387.8 102.3,388.5 100.0,389.2 97.6,389.9 95.3,390.6 92.9,391.3 90.5,392.0 88.2,392.7 85.8,393.4 83.5,394.1 81.1,394.9 78.7,395.6 76.4,396.3 74.0,397.1 71.7,397.8 69.3,398.6 66.9,399.3 64.6,400.1 62.2,400.9 59.9,401.7 57.5,402.5" fill="#a048a8" fill-opacity="0.7"/>
<line x1="100.452" y1="381.76886851161055" x2="100.452" y2="389.0151314883895" stroke="#fff" stroke-width="0.6" stroke-opacity="0.6"/>
<line x1="112.488" y1="375.72467320633325" x2="112.488" y2="385.4713267936668" stroke="#fff" stroke-width="0.6" stroke-opacity="0.6"/>
<path d="M57.5 402.5l2.4-.9 2.3-1 2.4-.9 2.3-1 2.4-.9 2.4-.9 2.3-1 2.4-.9 2.3-1 2.4-.9 2.4-.9 2.3-1 2.4-.9 2.3-1 2.4-.9 2.4-.9 2.3-1 2.4-.9 2.3-1 2.4-.9 2.4-.9 2.3-1 2.4-.9 2.3-1 2.4-.9 2.4-.9 2.3-1 2.4-.9 2.3-1 2.4-.9" fill="none" stroke="#7a0a82" stroke-width="2"/>
<line x1="135.6" y1="325.5" x2="135.6" y2="373" stroke="#777" stroke-width="1"/>
<text x="141.6" y="354.5" font-size="13" text-anchor="middle" fill="#111">*</text>
<line x1="151.9" y1="256.4" x2="169.6" y2="256.4" stroke="#111" stroke-width="1.6"/>
<text x="175.5" y="261.1" font-size="11.2" fill="#111">Control</text>
<line x1="151.9" y1="271.5" x2="169.6" y2="271.5" stroke="#8a2a96" stroke-width="1.6"/>
<text x="175.5" y="276" font-size="11.2" fill="#111">CalEx</text>
<path d="M152.5 323.6l.1 .9 .1-6.2 .2 6.7 .1-1.5 .1 2.3 .1-2.4 .2 2.5 .1-6.2 .1 8.2 .1-7.1 .1-11.9 .2 7.9 .1 11.9 .1-3.9 .1-11.3 .1 3.4 .2-13.4 .1 13.3 .1-3.2 .1-.3 .2 5.1 .1 1.3 .1 .3 .1 3.8 .1-9.4 .2 .4 .1 5 .1 1.4 .1-3 .1-1.1 .2 5.6 .1 2.5 .1-1.4 .1-4.6 .2 4.8 .1-4 .1-3.6 .1 6.5 .1-.9 .2-6.3 .1 6.1 .1 0 .1-5.1 .2 4.5 .1 4.3 .1 4 .1-1.5 .1-3.8 .2 3.3 .1 .6 .1-1.8 .1-.5 .1 .1 .2-4.3 .1 2.6 .1-1.1 .1-5.5 .2 4.7 .1-3.1 .1-.4 .1 6.6 .1 4.5 .2-11.3 .1 8.9 .1-29.8 .1 29.7 .1 .7 .2-2.4 .1 3.7 .1 .4 .1-5 .2 4.8 .1-3.6 .1 .1 .1-3.2 .1 5.5 .2-3.5 .1 .1 .1 4.6 .1 1.6 .2-1.7 .1-1.1 .1-1.2 .1 6.7 .1-11.1 .2 .2 .1 1.7 .1 1.6 .1-.7 .1-1.1 .2 1.9 .1-1.1 .1-.5 .1 10.5 .2-2.8 .1-9.6 .1 3.4 .1-7 .1 6.1 .2-6.4 .1 0 .1 2.8 .1 1.5 .1 2.1 .2 4.1 .1 2.1 .1-3.5 .1 5 .2-9.1 .1 5.8 .1-2.6 .1-4.2 .1 1.6 .2 .1 .1 3 .1-12.9 .1 7.2 .2 1.8 .1 3.1 .1-.4 .1-6.6 .1-.3 .2-13.6 .1 14.9 .1-4.5 .1-3.4 .1 2.6 .2 2.7 .1 7.3 .1-5.6 .1 .4 .2 1.4 .1 2.9 .1 .9 .1 1.6 .1-2.2 .2 8.3 .1 3.8 .1-7.8 .1-.5 .1 .2 .2-1.4 .1-3.6 .1 .1 .1-3.2 .2-2.7 .1 5.9 .1-9.9 .1 5.9 .1 .9 .2 .2 .1 .5 .1 8 .1-4.9 .2 5.6 .1-5.8 .1 2.9 .1 .1 .1 1.6 .2 2.7 .1-5.4 .1-.2 .1-.2 .1-3.7 .2 .7 .1-4.7 .1-4 .1 1.9 .2 7.2 .1 .6 .1-8.4 .1 12.2 .1 1.3 .2-4.1 .1-1 .1 5.1 .1 3.8 .1-2.2 .2 5 .1-9.3 .1-1.2 .1 6.6 .2-.8 .1-9.1 .1 6.2 .1-3.9 .1-1.4 .2 3 .1-.7 .1-.4 .1-2.8 .2 6.8 .1-1 .1-5.7 .1-1.6 .1 9.6 .2-3.9 .1-2.9 .1 1.9 .1 .7 .1-7.1 .2 4.7 .1-1.9 .1-11 .1 21.3 .2-50.9 .1 52 .1 .9 .1-7.2 .1 5.1 .2 2.5 .1-5.7 .1 1.8 .1-2.8 .1-1.6 .2-.1 .1 7.8 .1-8.8 .1 1.8 .2-5.8 .1-4 .1 3.9 .1-2 .1-.2 .2 7.7 .1-12.8 .1 5.4 .1 10.2 .2-3.3 .1-12.6 .1 13.6 .1-6 .1 8.4 .2-1.9 .1-3.7 .1-1.3 .1 5.8 .1-7.5 .2 1.6 .1-8.4 .1 8.4 .1-4 .2 3.1 .1 0 .1 2.6 .1-8.4 .1 2.4 .2 1.1 .1-9.6 .1 10.8 .1 3.6 .1-11.6 .2 6 .1 2.3 .1-2.6 .1 .8 .2-2.2 .1 2.4 .1-4.8 .1 7.3 .1-7.4 .2 3.2 .1 .8 .1 5.7 .1-1 .2 .9 .1 1.6 .1 2.8 .1-1.9 .1 4.9 .2-2.9 .1 1.7 .1-11.3 .1 5.6 .1-1.2 .2 .1 .1-14 .1 19.8 .1-42.8 .2 30 .1 12.4 .1-5.4 .1-2.7 .1 .4 .2-.8 .1 .7 .1 3.1 .1-10.8 .1 8.5 .2 7.2 .1-1.3 .1 6.4 .1 1.1 .2-7.3 .1-4.1 .1-7.9 .1 8.6 .1-2.9 .2-10.1 .1 11.1 .1 9.8 .1-7.6 .2-.1 .1-4.8 .1 4.4 .1 5.3 .1 0 .2-5.5 .1 6.2 .1-1.1 .1-1.6 .1-3.3 .2-2.8 .1-1.4 .1-.7 .1 7.7 .2-.9 .1-7.3 .1 1.8 .1 1 .1 1.6 .2-4.8 .1 5.8 .1-.8 .1 .8 .1 5.8 .2-5.8 .1 2 .1 7.3 .1-.5 .2-.7 .1-.4 .1-3.5 .1-1 .1-6.7 .2 3.5 .1 0 .1-11.2 .1 5.5 .2-1 .1 6.6 .1-.3 .1 2.6 .1 2.6 .2 3.6 .1 2.7 .1-5.1 .1-.8 .1-2.3 .2-7.5 .1 6.3 .1-5.3 .1-4 .2 1.5 .1 3.7 .1-3 .1 2.5 .1 1.7 .2 4 .1-5.8 .1 2.3 .1 3.3 .1-3.3 .2 6.5 .1-1.2 .1 3.2 .1-12 .2 6.5 .1-.4 .1 .9 .1-5.3 .1 6.7 .2-7.1 .1 9.8 .1 1.8 .1-5.5 .2 3.9 .1-9.8 .1 6.2 .1-3.9 .1 2.1 .2 3.5 .1 2.6 .1-4.5 .1-3.8 .1 4.5 .2-1.1 .1 3.6 .1-5.6 .1 9.3 .2-1.4 .1 3.6 .1-.3 .1-4.2 .1 2.2 .2 3.4 .1-4.5 .1-13 .1 12.1 .1-2.1 .2 4.4 .1-15.3 .1 12.9 .1 7.1 .2-7.3 .1 1.4 .1-.9 .1-2 .1 3.3 .2-3 .1-.9 .1-13.7 .1 13.6 .2 .2 .1-3 .1-.5 .1-5.6 .1 7.6 .2 1.4 .1-2.4 .1-1.6 .1-.8 .1-4.3 .2 4.8 .1-17.9 .1 7.4 .1-2.2 .2-5.4 .1 6.9 .1 .4 .1 .8 .1-1.9 .2-.9 .1 5.5 .1-.9 .1-5.8 .1 3.1 .2 .8 .1-1.9 .1-8.3 .1 15.9 .2-4.8 .1 .1 .1-2.8 .1 3.6 .1 .1 .2 4 .1-7.7 .1 2 .1 .6 .2-2.4 .1 .2 .1-8.1 .1 8.2 .1 2.6 .2-10.7 .1 4.9 .1 1.5 .1 5.6 .1-3.1 .2 1.8 .1-2.3 .1 5.8 .1-.4 .2 0 .1-3.9 .1 5.2 .1-14.4 .1 10 .2-6.7 .1-1.5 .1 6.8 .1 1.5 .1-5.2 .2 1.4 .1 1.8 .1-2.8 .1 .8 .2 3.4 .1-.2 .1 1 .1 5.1 .1 .2 .2-9.8 .1 5.4 .1 4 .1-8.9 .2 6.2 .1-5.5 .1-2.3 .1 6.3 .1-7 .2 9 .1 4.4 .1-7.6 .1 9.3 .1-26.9 .2 26.2 .1 1.7 .1-.5 .1 2.7 .2 .3 .1-6.1 .1 4.9 .1 2 .1 4 .2-1.8 .1 1.6 .1-1.1 .1-4.5 .1-1.5 .2-2.2 .1-.6 .1-1.1 .1 5.6 .2-2.3 .1-6.5 .1 6.8 .1-1.2 .1 1.1 .2 2.8 .1-3.2 .1 3.7 .1-6.3 .2 5.1 .1-3 .1 4.1 .1-5.7 .1 3.2 .2 5.1 .1-4.9 .1 1.3 .1-.3 .1 2.1 .2-6.8 .1 6.8 .1-1.9 .1-1.5 .2-1.9 .1 3.6 .1 1.1 .1 3.4 .1-7.4 .2 4.6 .1-5.4 .1 3.7 .1-8 .1 2.4 .2 9.1 .1-8.9 .1-4.7 .1 2.1 .2 1.9 .1 5.1 .1-4.7 .1 0 .1 3.5 .2-.5 .1 .6 .1 1 .1 2.8 .2-.5 .1-.4 .1 8.2 .1-8.7 .1-5 .2 1.7 .1-1.7 .1-7.6 .1 4.3 .1 4.7 .2-4.5 .1 2.6 .1-3.1 .1-4.3 .2 1.9 .1-8.5 .1 6.2 .1 3.7 .1 3.2 .2-2.1 .1 1.1 .1 9 .1-2.2 .1 2.4 .2-2.5 .1-5.8 .1 1.6 .1-1.7 .2 1.3 .1 6.3 .1 5.9 .1-4.7 .1-6.7 .2 1.1 .1-5.3 .1 3.6 .1 .7 .2-3.4 .1 7.1 .1-.3 .1-.2 .1-1.3 .2-11.2 .1 10.1 .1-.5 .1-8.2 .1 7.2 .2 10.4 .1-5.4 .1-2.5 .1-.2 .2-2.6 .1-.9 .1 6 .1-6.1 .1 6.8 .2-4.2 .1-4 .1 .7 .1-6.8 .1 9.1 .2-7 .1-3.7 .1 8.3 .1 2.2 .2-10 .1 8.1 .1 2 .1 4.5 .1-5.8 .2-1.4 .1 5.4 .1-.3 .1-4.7 .2-8 .1 6.5 .1 3 .1-2.8 .1-4.2 .2-1.3 .1 3 .1-.4 .1 3.6 .1 .2 .2-7 .1 3.6 .1 3.8 .1 5.9 .2 1.4 .1-4.6 .1-.7 .1-7.5 .1 5.3 .2-3.9 .1 7.7 .1 3.3 .1-10.5 .1 6.5 .2 1.8 .1 .5 .1-.7 .1-4.5 .2-6.1 .1 6.7 .1-6.7 .1 1.8 .1 0 .2 2.6 .1 2 .1-.6 .1 3.8 .2-.1 .1 2.9 .1-6.1 .1 4.5 .1-.9 .2-7.2 .1 12.2 .1-2.3 .1 .2 .1 .9 .2-2.4 .1-.5 .1-3.3 .1-2.4 .2 2.4 .1-1.3 .1 1.4 .1 6.8 .1-4 .2 5.8 .1-9.5 .1 5.4 .1-21.6 .1 9.4 .2 11.2 .1-1.1 .1 1.5 .1-4.1 .2 5 .1-3.8 .1 1.7 .1-1.8 .1-5 .2 9.5 .1-2.2 .1-.5 .1-1.1 .2-1.9 .1-3.3 .1 .3 .1 4.3 .1-4.2 .2 3.5 .1 9.4 .1 2.2 .1-6 .1-.9 .2-4.4 .1-2.1 .1 .6 .1 0 .2-4.5 .1-1.3 .1 5.7 .1 3.5 .1 .1 .2 2 .1-9.7 .1 8.9 .1 0 .1 3.9 .2 .4 .1-1.2 .1-4.2 .1-6.3 .2-4.4 .1 .4 .1 9.9 .1-7.6 .1-.5 .2 3 .1 1 .1-.8 .1-1 .2-1.4 .1 2 .1 1.1 .1 2.7 .1 1.1 .2-16 .1 15.9 .1 .8 .1 1.3 .1-.5 .2-1.8 .1 2.9 .1 1.2 .1 5 .2-7.3 .1 3.8 .1 4.3 .1-2.5 .1-2.3 .2 .8 .1 1.8 .1 1.2 .1-8.6 .1 5.7 .2-3.5 .1 2.2 .1 1.1 .1-2.5 .2-5.6 .1 .3 .1 .2 .1 4.4 .1-1.5 .2-1.5 .1 1.4 .1-8.8 .1 14.2 .2-3.5 .1 3.4 .1 4.8 .1-6.2 .1 3.4 .2-4.6 .1-7.2 .1 4.2 .1 1.8 .1-5 .2 11.2 .1-2.7 .1 2.6 .1 .4 .2-2.3 .1-7.1 .1-1.3 .1 2.4 .1-.1 .2-4.6 .1 9 .1 .2 .1 1.4 .1-5.7 .2 8.1 .1-.1 .1-8.9 .1 .8 .2 1.7 .1-1.2 .1-7.6 .1-1.4 .1 5.2 .2 1 .1-1.2 .1 1 .1-5.7 .2 2.8 .1 2.1 .1-1.8 .1 .6 .1 2.8 .2-4.1 .1 .3 .1 3.3 .1 2.7 .1 1.8 .2-4.4 .1 3.9 .1 .2 .1-4.6 .2-.6 .1-.9 .1-1.2 .1 0 .1-1.1 .2 8.5 .1-3.7 .1-1.7 .1 1 .1 6.4 .2-8.7 .1 2.4 .1 .9 .1-1.5 .2 4.4 .1-5.9 .1-1.1 .1 6.8 .1-1.9 .2 3.8 .1-10.5 .1 15.3 .1-2.5 .2 3.5 .1-12.8 .1 8.3 .1-1.9 .1 1.5 .2-.4 .1-2.1 .1 7.7 .1-7.7 .1 3.2 .2 .4 .1-9 .1 3.5 .1 4.9 .2 2.3 .1-6.2 .1-13.2 .1 4.8 .1 4.5 .2 14.1 .1-7.6 .1-1.3 .1-2.2 .1-9.4 .2 5.4 .1 2.4 .1-10.4 .1 6.2 .2-24.8 .1 26 .1 7.7 .1-1.8 .1-6.7 .2 8.6 .1-2.9 .1-.3 .1 6 .2-7.8 .1-7.1 .1-.5 .1-1.9 .1 9.2 .2-2.9 .1 .6 .1-1 .1 1.8 .1-2.4 .2 2.8 .1-1.7 .1 3.4 .1-5.2 .2 3.2 .1-3.8 .1 3.2 .1-2.6 .1 3.3 .2 1.8 .1-2.5 .1 4.1 .1-5.2 .1 8.5 .2-3.9 .1-5 .1 1.7 .1 2.2 .2-.7 .1-.4 .1-5.4 .1 10 .1-8 .2 .7 .1 7.2 .1-5.4 .1-3.6 .2-4.7 .1 5.1 .1 3.5 .1 .4 .1 2.1 .2-4.4 .1 7.5 .1-1.5 .1-5.8 .1 1.9 .2-.6 .1-1.3 .1-.7 .1 4.3 .2-2.2 .1-2.5 .1 5.5 .1 1.1 .1-3.9 .2 7.7 .1-9.1 .1 1.5 .1-2.4 .1-3.9 .2-.9 .1 3.8 .1-4 .1-1.5 .2-.5 .1-7 .1 6.9 .1 3.7 .1-.2 .2 3.3 .1-2.9 .1-.5 .1 5.5 .2 2.1 .1 4 .1 1.5 .1-5 .1 .2 .2-3.3 .1 3 .1-.8 .1 1.9 .1-.8 .2-1.7 .1-2.4 .1-11.9 .1 10.3 .2-31.5 .1 37.7 .1 3.9 .1-7.8 .1-7.6 .2 5.1 .1 .2 .1 5.7 .1-1.7 .1-3.3 .2 6.2 .1-1.7 .1-6.5 .1 2 .2 3.7 .1 1.1 .1-7.4" fill="none" stroke="#a0a0a0" stroke-width="3.2" stroke-opacity="0.3" stroke-linejoin="round"/>
<path d="M152.5 323.6l.1 .9 .1-6.2 .2 6.7 .1-1.5 .1 2.3 .1-2.4 .2 2.5 .1-6.2 .1 8.2 .1-7.1 .1-11.9 .2 7.9 .1 11.9 .1-3.9 .1-11.3 .1 3.4 .2-13.4 .1 13.3 .1-3.2 .1-.3 .2 5.1 .1 1.3 .1 .3 .1 3.8 .1-9.4 .2 .4 .1 5 .1 1.4 .1-3 .1-1.1 .2 5.6 .1 2.5 .1-1.4 .1-4.6 .2 4.8 .1-4 .1-3.6 .1 6.5 .1-.9 .2-6.3 .1 6.1 .1 0 .1-5.1 .2 4.5 .1 4.3 .1 4 .1-1.5 .1-3.8 .2 3.3 .1 .6 .1-1.8 .1-.5 .1 .1 .2-4.3 .1 2.6 .1-1.1 .1-5.5 .2 4.7 .1-3.1 .1-.4 .1 6.6 .1 4.5 .2-11.3 .1 8.9 .1-29.8 .1 29.7 .1 .7 .2-2.4 .1 3.7 .1 .4 .1-5 .2 4.8 .1-3.6 .1 .1 .1-3.2 .1 5.5 .2-3.5 .1 .1 .1 4.6 .1 1.6 .2-1.7 .1-1.1 .1-1.2 .1 6.7 .1-11.1 .2 .2 .1 1.7 .1 1.6 .1-.7 .1-1.1 .2 1.9 .1-1.1 .1-.5 .1 10.5 .2-2.8 .1-9.6 .1 3.4 .1-7 .1 6.1 .2-6.4 .1 0 .1 2.8 .1 1.5 .1 2.1 .2 4.1 .1 2.1 .1-3.5 .1 5 .2-9.1 .1 5.8 .1-2.6 .1-4.2 .1 1.6 .2 .1 .1 3 .1-12.9 .1 7.2 .2 1.8 .1 3.1 .1-.4 .1-6.6 .1-.3 .2-13.6 .1 14.9 .1-4.5 .1-3.4 .1 2.6 .2 2.7 .1 7.3 .1-5.6 .1 .4 .2 1.4 .1 2.9 .1 .9 .1 1.6 .1-2.2 .2 8.3 .1 3.8 .1-7.8 .1-.5 .1 .2 .2-1.4 .1-3.6 .1 .1 .1-3.2 .2-2.7 .1 5.9 .1-9.9 .1 5.9 .1 .9 .2 .2 .1 .5 .1 8 .1-4.9 .2 5.6 .1-5.8 .1 2.9 .1 .1 .1 1.6 .2 2.7 .1-5.4 .1-.2 .1-.2 .1-3.7 .2 .7 .1-4.7 .1-4 .1 1.9 .2 7.2 .1 .6 .1-8.4 .1 12.2 .1 1.3 .2-4.1 .1-1 .1 5.1 .1 3.8 .1-2.2 .2 5 .1-9.3 .1-1.2 .1 6.6 .2-.8 .1-9.1 .1 6.2 .1-3.9 .1-1.4 .2 3 .1-.7 .1-.4 .1-2.8 .2 6.8 .1-1 .1-5.7 .1-1.6 .1 9.6 .2-3.9 .1-2.9 .1 1.9 .1 .7 .1-7.1 .2 4.7 .1-1.9 .1-11 .1 21.3 .2-50.9 .1 52 .1 .9 .1-7.2 .1 5.1 .2 2.5 .1-5.7 .1 1.8 .1-2.8 .1-1.6 .2-.1 .1 7.8 .1-8.8 .1 1.8 .2-5.8 .1-4 .1 3.9 .1-2 .1-.2 .2 7.7 .1-12.8 .1 5.4 .1 10.2 .2-3.3 .1-12.6 .1 13.6 .1-6 .1 8.4 .2-1.9 .1-3.7 .1-1.3 .1 5.8 .1-7.5 .2 1.6 .1-8.4 .1 8.4 .1-4 .2 3.1 .1 0 .1 2.6 .1-8.4 .1 2.4 .2 1.1 .1-9.6 .1 10.8 .1 3.6 .1-11.6 .2 6 .1 2.3 .1-2.6 .1 .8 .2-2.2 .1 2.4 .1-4.8 .1 7.3 .1-7.4 .2 3.2 .1 .8 .1 5.7 .1-1 .2 .9 .1 1.6 .1 2.8 .1-1.9 .1 4.9 .2-2.9 .1 1.7 .1-11.3 .1 5.6 .1-1.2 .2 .1 .1-14 .1 19.8 .1-42.8 .2 30 .1 12.4 .1-5.4 .1-2.7 .1 .4 .2-.8 .1 .7 .1 3.1 .1-10.8 .1 8.5 .2 7.2 .1-1.3 .1 6.4 .1 1.1 .2-7.3 .1-4.1 .1-7.9 .1 8.6 .1-2.9 .2-10.1 .1 11.1 .1 9.8 .1-7.6 .2-.1 .1-4.8 .1 4.4 .1 5.3 .1 0 .2-5.5 .1 6.2 .1-1.1 .1-1.6 .1-3.3 .2-2.8 .1-1.4 .1-.7 .1 7.7 .2-.9 .1-7.3 .1 1.8 .1 1 .1 1.6 .2-4.8 .1 5.8 .1-.8 .1 .8 .1 5.8 .2-5.8 .1 2 .1 7.3 .1-.5 .2-.7 .1-.4 .1-3.5 .1-1 .1-6.7 .2 3.5 .1 0 .1-11.2 .1 5.5 .2-1 .1 6.6 .1-.3 .1 2.6 .1 2.6 .2 3.6 .1 2.7 .1-5.1 .1-.8 .1-2.3 .2-7.5 .1 6.3 .1-5.3 .1-4 .2 1.5 .1 3.7 .1-3 .1 2.5 .1 1.7 .2 4 .1-5.8 .1 2.3 .1 3.3 .1-3.3 .2 6.5 .1-1.2 .1 3.2 .1-12 .2 6.5 .1-.4 .1 .9 .1-5.3 .1 6.7 .2-7.1 .1 9.8 .1 1.8 .1-5.5 .2 3.9 .1-9.8 .1 6.2 .1-3.9 .1 2.1 .2 3.5 .1 2.6 .1-4.5 .1-3.8 .1 4.5 .2-1.1 .1 3.6 .1-5.6 .1 9.3 .2-1.4 .1 3.6 .1-.3 .1-4.2 .1 2.2 .2 3.4 .1-4.5 .1-13 .1 12.1 .1-2.1 .2 4.4 .1-15.3 .1 12.9 .1 7.1 .2-7.3 .1 1.4 .1-.9 .1-2 .1 3.3 .2-3 .1-.9 .1-13.7 .1 13.6 .2 .2 .1-3 .1-.5 .1-5.6 .1 7.6 .2 1.4 .1-2.4 .1-1.6 .1-.8 .1-4.3 .2 4.8 .1-17.9 .1 7.4 .1-2.2 .2-5.4 .1 6.9 .1 .4 .1 .8 .1-1.9 .2-.9 .1 5.5 .1-.9 .1-5.8 .1 3.1 .2 .8 .1-1.9 .1-8.3 .1 15.9 .2-4.8 .1 .1 .1-2.8 .1 3.6 .1 .1 .2 4 .1-7.7 .1 2 .1 .6 .2-2.4 .1 .2 .1-8.1 .1 8.2 .1 2.6 .2-10.7 .1 4.9 .1 1.5 .1 5.6 .1-3.1 .2 1.8 .1-2.3 .1 5.8 .1-.4 .2 0 .1-3.9 .1 5.2 .1-14.4 .1 10 .2-6.7 .1-1.5 .1 6.8 .1 1.5 .1-5.2 .2 1.4 .1 1.8 .1-2.8 .1 .8 .2 3.4 .1-.2 .1 1 .1 5.1 .1 .2 .2-9.8 .1 5.4 .1 4 .1-8.9 .2 6.2 .1-5.5 .1-2.3 .1 6.3 .1-7 .2 9 .1 4.4 .1-7.6 .1 9.3 .1-26.9 .2 26.2 .1 1.7 .1-.5 .1 2.7 .2 .3 .1-6.1 .1 4.9 .1 2 .1 4 .2-1.8 .1 1.6 .1-1.1 .1-4.5 .1-1.5 .2-2.2 .1-.6 .1-1.1 .1 5.6 .2-2.3 .1-6.5 .1 6.8 .1-1.2 .1 1.1 .2 2.8 .1-3.2 .1 3.7 .1-6.3 .2 5.1 .1-3 .1 4.1 .1-5.7 .1 3.2 .2 5.1 .1-4.9 .1 1.3 .1-.3 .1 2.1 .2-6.8 .1 6.8 .1-1.9 .1-1.5 .2-1.9 .1 3.6 .1 1.1 .1 3.4 .1-7.4 .2 4.6 .1-5.4 .1 3.7 .1-8 .1 2.4 .2 9.1 .1-8.9 .1-4.7 .1 2.1 .2 1.9 .1 5.1 .1-4.7 .1 0 .1 3.5 .2-.5 .1 .6 .1 1 .1 2.8 .2-.5 .1-.4 .1 8.2 .1-8.7 .1-5 .2 1.7 .1-1.7 .1-7.6 .1 4.3 .1 4.7 .2-4.5 .1 2.6 .1-3.1 .1-4.3 .2 1.9 .1-8.5 .1 6.2 .1 3.7 .1 3.2 .2-2.1 .1 1.1 .1 9 .1-2.2 .1 2.4 .2-2.5 .1-5.8 .1 1.6 .1-1.7 .2 1.3 .1 6.3 .1 5.9 .1-4.7 .1-6.7 .2 1.1 .1-5.3 .1 3.6 .1 .7 .2-3.4 .1 7.1 .1-.3 .1-.2 .1-1.3 .2-11.2 .1 10.1 .1-.5 .1-8.2 .1 7.2 .2 10.4 .1-5.4 .1-2.5 .1-.2 .2-2.6 .1-.9 .1 6 .1-6.1 .1 6.8 .2-4.2 .1-4 .1 .7 .1-6.8 .1 9.1 .2-7 .1-3.7 .1 8.3 .1 2.2 .2-10 .1 8.1 .1 2 .1 4.5 .1-5.8 .2-1.4 .1 5.4 .1-.3 .1-4.7 .2-8 .1 6.5 .1 3 .1-2.8 .1-4.2 .2-1.3 .1 3 .1-.4 .1 3.6 .1 .2 .2-7 .1 3.6 .1 3.8 .1 5.9 .2 1.4 .1-4.6 .1-.7 .1-7.5 .1 5.3 .2-3.9 .1 7.7 .1 3.3 .1-10.5 .1 6.5 .2 1.8 .1 .5 .1-.7 .1-4.5 .2-6.1 .1 6.7 .1-6.7 .1 1.8 .1 0 .2 2.6 .1 2 .1-.6 .1 3.8 .2-.1 .1 2.9 .1-6.1 .1 4.5 .1-.9 .2-7.2 .1 12.2 .1-2.3 .1 .2 .1 .9 .2-2.4 .1-.5 .1-3.3 .1-2.4 .2 2.4 .1-1.3 .1 1.4 .1 6.8 .1-4 .2 5.8 .1-9.5 .1 5.4 .1-21.6 .1 9.4 .2 11.2 .1-1.1 .1 1.5 .1-4.1 .2 5 .1-3.8 .1 1.7 .1-1.8 .1-5 .2 9.5 .1-2.2 .1-.5 .1-1.1 .2-1.9 .1-3.3 .1 .3 .1 4.3 .1-4.2 .2 3.5 .1 9.4 .1 2.2 .1-6 .1-.9 .2-4.4 .1-2.1 .1 .6 .1 0 .2-4.5 .1-1.3 .1 5.7 .1 3.5 .1 .1 .2 2 .1-9.7 .1 8.9 .1 0 .1 3.9 .2 .4 .1-1.2 .1-4.2 .1-6.3 .2-4.4 .1 .4 .1 9.9 .1-7.6 .1-.5 .2 3 .1 1 .1-.8 .1-1 .2-1.4 .1 2 .1 1.1 .1 2.7 .1 1.1 .2-16 .1 15.9 .1 .8 .1 1.3 .1-.5 .2-1.8 .1 2.9 .1 1.2 .1 5 .2-7.3 .1 3.8 .1 4.3 .1-2.5 .1-2.3 .2 .8 .1 1.8 .1 1.2 .1-8.6 .1 5.7 .2-3.5 .1 2.2 .1 1.1 .1-2.5 .2-5.6 .1 .3 .1 .2 .1 4.4 .1-1.5 .2-1.5 .1 1.4 .1-8.8 .1 14.2 .2-3.5 .1 3.4 .1 4.8 .1-6.2 .1 3.4 .2-4.6 .1-7.2 .1 4.2 .1 1.8 .1-5 .2 11.2 .1-2.7 .1 2.6 .1 .4 .2-2.3 .1-7.1 .1-1.3 .1 2.4 .1-.1 .2-4.6 .1 9 .1 .2 .1 1.4 .1-5.7 .2 8.1 .1-.1 .1-8.9 .1 .8 .2 1.7 .1-1.2 .1-7.6 .1-1.4 .1 5.2 .2 1 .1-1.2 .1 1 .1-5.7 .2 2.8 .1 2.1 .1-1.8 .1 .6 .1 2.8 .2-4.1 .1 .3 .1 3.3 .1 2.7 .1 1.8 .2-4.4 .1 3.9 .1 .2 .1-4.6 .2-.6 .1-.9 .1-1.2 .1 0 .1-1.1 .2 8.5 .1-3.7 .1-1.7 .1 1 .1 6.4 .2-8.7 .1 2.4 .1 .9 .1-1.5 .2 4.4 .1-5.9 .1-1.1 .1 6.8 .1-1.9 .2 3.8 .1-10.5 .1 15.3 .1-2.5 .2 3.5 .1-12.8 .1 8.3 .1-1.9 .1 1.5 .2-.4 .1-2.1 .1 7.7 .1-7.7 .1 3.2 .2 .4 .1-9 .1 3.5 .1 4.9 .2 2.3 .1-6.2 .1-13.2 .1 4.8 .1 4.5 .2 14.1 .1-7.6 .1-1.3 .1-2.2 .1-9.4 .2 5.4 .1 2.4 .1-10.4 .1 6.2 .2-24.8 .1 26 .1 7.7 .1-1.8 .1-6.7 .2 8.6 .1-2.9 .1-.3 .1 6 .2-7.8 .1-7.1 .1-.5 .1-1.9 .1 9.2 .2-2.9 .1 .6 .1-1 .1 1.8 .1-2.4 .2 2.8 .1-1.7 .1 3.4 .1-5.2 .2 3.2 .1-3.8 .1 3.2 .1-2.6 .1 3.3 .2 1.8 .1-2.5 .1 4.1 .1-5.2 .1 8.5 .2-3.9 .1-5 .1 1.7 .1 2.2 .2-.7 .1-.4 .1-5.4 .1 10 .1-8 .2 .7 .1 7.2 .1-5.4 .1-3.6 .2-4.7 .1 5.1 .1 3.5 .1 .4 .1 2.1 .2-4.4 .1 7.5 .1-1.5 .1-5.8 .1 1.9 .2-.6 .1-1.3 .1-.7 .1 4.3 .2-2.2 .1-2.5 .1 5.5 .1 1.1 .1-3.9 .2 7.7 .1-9.1 .1 1.5 .1-2.4 .1-3.9 .2-.9 .1 3.8 .1-4 .1-1.5 .2-.5 .1-7 .1 6.9 .1 3.7 .1-.2 .2 3.3 .1-2.9 .1-.5 .1 5.5 .2 2.1 .1 4 .1 1.5 .1-5 .1 .2 .2-3.3 .1 3 .1-.8 .1 1.9 .1-.8 .2-1.7 .1-2.4 .1-11.9 .1 10.3 .2-31.5 .1 37.7 .1 3.9 .1-7.8 .1-7.6 .2 5.1 .1 .2 .1 5.7 .1-1.7 .1-3.3 .2 6.2 .1-1.7 .1-6.5 .1 2 .2 3.7 .1 1.1 .1-7.4" fill="none" stroke="#000" stroke-width="0.75"/>
<line x1="152.5" y1="316.5" x2="274" y2="316.5" stroke="#444" stroke-width="0.6" stroke-dasharray="1.6,1.4"/>
<path d="M153.3 372.2l.1 4.4 .1 2.4 .2-6.9 .1 1.6 .1-.2 .1 .7 .2 2.6 .1-3.2 .1 7.5 .1-4 .1-5.9 .2 5.9 .1 3.1 .1-2.3 .1 1.4 .1 1.9 .2-2 .1 1.3 .1-5.4 .1 4.2 .2 2.1 .1-1.3 .1-3.4 .1 3.8 .1 .7 .2-.6 .1-1.3 .1 4 .1-1.7 .2-2.4 .1-2.2 .1 .8 .1 3.3 .1 .9 .2-3.5 .1 6.4 .1-6.6 .1 5.9 .2-2.7 .1-2.8 .1-3.5 .1 3.6 .1 4.8 .2-1.7 .1-18.9 .1 17.7 .1-3.9 .1-1.8 .2 1.2 .1-.5 .1 1.8 .1 .8 .2 1.9 .1-.7 .1-8.1 .1 10.6 .1-3.6 .2 3.3 .1-5.3 .1-2.2 .1 5.1 .2-2.3 .1-2.7 .1 5.3 .1-1.8 .1 2.1 .2-.2 .1 0 .1-1.8 .1 .9 .1 .8 .2 3.7 .1-1.6 .1-3.4 .1 .2 .2-2.7 .1 1.7 .1-2.1 .1-3.4 .1 5.1 .2 .9 .1-.1 .1 3 .1-4.8 .2 4.8 .1-4.2 .1 2.8 .1 .8 .1-4.5 .2 1.1 .1-.7 .1-3.5 .1 1.3 .2-4.6 .1 7.8 .1-5.8 .1-.5 .1 .3 .2-1.3 .1 4.3 .1-.4 .1 7.3 .1-7.2 .2-1.4 .1-2.7 .1 1.6 .1 1.2 .2-2.1 .1-4.2 .1 3.1 .1-4.2 .1 4.3 .2 2.9 .1-1.2 .1 4.6 .1-2.7 .2 6.9 .1-3.4 .1 5.9 .1-2.4 .1-2 .2-1 .1-.2 .1-14.9 .1 13.4 .1-5 .2 1.5 .1-2.6 .1 2.2 .1 7.9 .2-3.6 .1 .5 .1 .4 .1-2.1 .1 2.5 .2-.9 .1 1.2 .1-5.8 .1 5.9 .2-2.2 .1-4.1 .1 .8 .1 .2 .1 .6 .2-7.8 .1 14.5 .1-.9 .1-.5 .2 1.8 .1 1.5 .1 .3 .1-9.9 .1 3.9 .2 4.8 .1-1.3 .1 2.4 .1 .2 .1-.5 .2-6.7 .1 6.2 .1 2 .1-5.2 .2-.9 .1 .3 .1 2.1 .1 .4 .1-4.8 .2 3 .1-3.4 .1-.2 .1 2.3 .2 2 .1-.3 .1 1.6 .1-.8 .1 1.5 .2-7.7 .1 8.2 .1 .4 .1-2.9 .1 4.4 .2-3.3 .1-2.5 .1 4.3 .1-2.3 .2 .7 .1 3.6 .1-2.3 .1 1 .1-1.3 .2 1.4 .1-4.3 .1 2 .1-.6 .2-2.2 .1 2.7 .1 .5 .1-7.7 .1 .9 .2 5.2 .1-.1 .1-.8 .1 2.2 .2 .7 .1-4.7 .1 3.9 .1-.1 .1 1.6 .2-3 .1 3.6 .1-.4 .1-3.3 .1-.6 .2 5.7 .1 2.5 .1-.7 .1 3.6 .2-2.3 .1-11.2 .1 5.9 .1-2.6 .1-1.3 .2 5.7 .1 .2 .1-1.5 .1 2.2 .2-.8 .1-2.7 .1-.8 .1-4.1 .1 .6 .2 .1 .1-.2 .1 3 .1 .5 .1-2.6 .2 1.2 .1 3.2 .1 2.4 .1-3 .2-3.5 .1 6.3 .1-.5 .1-16.6 .1 12.4 .2-4.4 .1 1.4 .1-14.9 .1 17.1 .2-5.8 .1 5.9 .1 4.2 .1-2.7 .1-1.8 .2-4.5 .1 8 .1-3.6 .1-.2 .2 3 .1 .5 .1 3.2 .1-2.7 .1-2.1 .2-1.8 .1 4.1 .1-7.1 .1 4.6 .1-4.1 .2 0 .1-2.6 .1 3.3 .1 .3 .2 .1 .1 .5 .1-.6 .1-.5 .1 5.3 .2-3.1 .1-2.4 .1-4.4 .1 3.8 .2-1 .1 3.7 .1-2.4 .1 1.3 .1 2.6 .2 .7 .1-.1 .1-1.1 .1 4.3 .2 .9 .1-2.7 .1 3.9 .1-3 .1-6.8 .2 4.9 .1-6.8 .1 5.9 .1-3.7 .1-3.8 .2 2.5 .1 .9 .1-3 .1 2.6 .2 .5 .1-5.7 .1-.1 .1 6 .1 0 .2-.2 .1 3.1 .1 2.2 .1 .1 .2-2 .1 5.4 .1-6.9 .1-1.5 .1-11.4 .2 12.3 .1-2.8 .1 .6 .1 2.4 .1 1.7 .2 1.4 .1-.3 .1 1.5 .1 1.2 .2-3 .1-1.8 .1-3 .1 4 .1-.3 .2-.8 .1 1.4 .1-.1 .1-1 .2 0 .1 .7 .1-3.4 .1-8.7 .1 11.7 .2-1.5 .1 .9 .1 3.1 .1-6.9 .2 10.8 .1 .9 .1-4.8 .1 .5 .1 .4 .2 3.6 .1-2.2 .1-2.1 .1-7.3 .1 6.8 .2-2.3 .1-.9 .1-4.8 .1 3.5 .2-2.9 .1 1.9 .1 4 .1-.9 .1-2.3 .2-4 .1 7.6 .1-2.9 .1-.1 .2 3 .1-2.5 .1 .6 .1-7.5 .1 7.3 .2-2.1 .1 1 .1 5.6 .1-4 .1-3.7 .2 1.6 .1-1.8 .1 3.2 .1-2.1 .2-8.4 .1 8 .1 6.9 .1-1.1 .1-2.3 .2 .9 .1-.2 .1 2 .1-4.5 .2-.7 .1 5.1 .1-3.6 .1 1.2 .1 1.2 .2 2.8 .1 4.6 .1-4.7 .1 .8 .2 2.2 .1-6 .1-.6 .1 .4 .1-2.2 .2 3.1 .1-1.5 .1-3.6 .1 3.5 .1 2.7 .2 .6 .1-1.7 .1 1.6 .1 .2 .2-10.4 .1 4.7 .1 2.3 .1-6.4 .1 1.4 .2-.5 .1 8.3 .1-1 .1 4.1 .2-4.1 .1 2.8 .1-1.8 .1-1.1 .1-1.7 .2 .9 .1-.4 .1-1.9 .1-.2 .1-1.4 .2 2.7 .1-4.2 .1 1 .1-1.8 .2 .5 .1 2.8 .1-3.5 .1 2.7 .1-5.3 .2 7.4 .1-1.5 .1-.6 .1 5.2 .2-6.2 .1-3.3 .1 .9 .1 .9 .1 1.9 .2 1.2 .1 1.7 .1 2.2 .1-3.9 .2-.7 .1 4.6 .1 .7 .1-2.1 .1 2.4 .2 2.3 .1-4.1 .1-1 .1-.5 .1 2.1 .2-.8 .1 4.5 .1-4.7 .1 1.5 .2-4 .1 7.2 .1-4.6 .1-5.3 .1 5.1 .2-7.2 .1 6.9 .1 2 .1-2.9 .2-2.4 .1 .9 .1 .7 .1-1.2 .1 7.5 .2-9.4 .1 4.6 .1 .6 .1-2 .1 3.4 .2-.9 .1 3 .1-3.8 .1 .9 .2-2.5 .1-1.4 .1 4 .1 .1 .1 .4 .2-3.7 .1 2 .1 3.7 .1-2 .2 1.1 .1-2.5 .1 .6 .1-2.7 .1 2.7 .2 3.4 .1-2.6 .1-1.2 .1-2.4 .2-1.5 .1-1.9 .1 3.8 .1-2.9 .1-1.6 .2 4.8 .1-10.1 .1 8 .1-4.3 .1 5.2 .2-1.4 .1 .4 .1 3.9 .1 1.5 .2 3.8 .1-3 .1 0 .1 4.1 .1-6.6 .2 1.7 .1 2 .1-2.3 .1-1.6 .2 1.3 .1 5.8 .1-1.1 .1-3.1 .1 .4 .2-1.7 .1-5.5 .1-.7 .1-2.1 .1-3.6 .2 1.8 .1 5.1 .1 1.3 .1 1.6 .2 .9 .1 3.7 .1-.5 .1 .3 .1 0 .2-.3 .1 .3 .1-3.4 .1-.3 .2-3.5 .1 4.6 .1-3.5 .1-1.7 .1-.9 .2 3.3 .1 .3 .1-2.6 .1 .5 .2-4.1 .1 5.8 .1-2.5 .1 3.3 .1-6.8 .2 6.7 .1 4.3 .1-4.6 .1 1.3 .1-2.9 .2 3.2 .1 1.1 .1-3.7 .1 2.4 .2-12 .1 14 .1-1.3 .1-5.6 .1 3 .2 3.5 .1-2.4 .1-2.6 .1-.7 .2 3.3 .1-1.7 .1-1.6 .1-4.3 .1 7.1 .2-1 .1 1.2 .1-1.7 .1 6.8 .1-4.4 .2-2.9 .1 4.4 .1 2 .1-3.1 .2 2.1 .1-.4 .1-1.9 .1 1.8 .1-2.2 .2-1.4 .1 1.9 .1-6.8 .1 6.6 .2-8.4 .1 6.2 .1 5.5 .1-6.3 .1 4.3 .2 2.6 .1-2 .1-4.6 .1 7.3 .2-3 .1-2.3 .1 2 .1-2.8 .1-1.3 .2 7.3 .1-8.3 .1 4.4 .1-4.1 .1 4.2 .2 1.8 .1-3.2 .1-.7 .1 .3 .2 3.5 .1-1.6 .1-2.8 .1 4.1 .1-3.1 .2 3.1 .1 .6 .1 3 .1-1.4 .2-3.2 .1 2.3 .1-6.3 .1 5.3 .1 2.1 .2-7.9 .1 3.3 .1 0 .1 5.5 .1-3.3 .2 2.4 .1-4.4 .1 3.9 .1-3.1 .2 .7 .1-2 .1 3.9 .1 1.1 .1 1.2 .2-3.3 .1-2.1 .1-3.6 .1 3.4 .2 .4 .1 2.5 .1-4.7 .1 2.3 .1-.7 .2 2.8 .1-4.2 .1 2.4 .1-2 .2 1.4 .1-1.7 .1-6.2 .1 4 .1-2.3 .2 5.1 .1 2.4 .1-5.7 .1 1.5 .1 3.4 .2-2.9 .1-1.3 .1-1.4 .1 .5 .2 5.8 .1 2 .1 2.1 .1-3.4 .1 1.9 .2-4.3 .1-2.6 .1-.2 .1 .9 .2 2.9 .1 2.1 .1 5.5 .1-6.6 .1 4.3 .2-7.5 .1 5.8 .1-7.1 .1 4.6 .1-8.8 .2 9.6 .1 .9 .1 1 .1-.8 .2 2.6 .1-2.1 .1-3.1 .1 .8 .1-4.3 .2 3.5 .1 .5 .1-14.5 .1 7.7 .2 4.6 .1-1 .1 2.7 .1-2 .1-.7 .2 3.3 .1-3.4 .1 2.1 .1 2.6 .2-4.3 .1-.3 .1-3.3 .1-1.1 .1 2.9 .2-5 .1 3.1 .1 5 .1-1.2 .1-.6 .2 1.1 .1 .8 .1 5.3 .1-2.9 .2 .4 .1-.4 .1 3.6 .1-4.6 .1 .2 .2 2.2 .1-1.8 .1 4.8 .1-5.5 .2 3.7 .1-5.7 .1 .3 .1-.5 .1 2.5 .2-1.3 .1 2 .1 1.9 .1-2.4 .2-5.4 .1 2.4 .1-4.4 .1 .8 .1-.1 .2 3.1 .1-7.6 .1 7.7 .1 3.8 .1 1.6 .2 2.3 .1-6.4 .1 2.7 .1-9.2 .2 9.5 .1-2.2 .1-.6 .1 4 .1-.9 .2-9.8 .1 9.7 .1-.6 .1-.4 .2-1.3 .1-1.9 .1 2.8 .1-4.2 .1 4.5 .2-2.1 .1-3 .1 8.7 .1-.9 .1-3.9 .2-1.4 .1-1.1 .1 1.3 .1-.6 .2-1.7 .1-1.4 .1 5 .1-2.7 .1-.4 .2 2.8 .1-.9 .1 1.9 .1-2.2 .2-.8 .1 2 .1-1.7 .1 1 .1-.1 .2-12.6 .1 8.8 .1 2.3 .1-.9 .2 1 .1-3.2 .1 3.2 .1 4.5 .1-7.4 .2-2.3 .1 1.5 .1 .4 .1-1.1 .1 .4 .2 3.2 .1 .6 .1 2.6 .1-5 .2 4.7 .1 .7 .1-4.4 .1-7.5 .1 11.6 .2-2.6 .1-.1 .1 4 .1 2.6 .2-1.2 .1-1 .1-3.2 .1 3.6 .1-.6 .2-6.2 .1 1.3 .1 2.8 .1-3.6 .1 1.7 .2 .4 .1-1.3 .1-3.4 .1-2.6 .2 4.8 .1-7.3 .1 6.2 .1 4 .1 3.1 .2-.6 .1 1.7 .1 3.7 .1-11.4 .2 12.2 .1-3.3 .1-1.5 .1 .5 .1-.6 .2-1.1 .1 2 .1-5 .1 1.4 .2-.1 .1-3.3 .1 .4 .1-6.4 .1 6.8 .2 .5 .1 2.6 .1-4.6 .1 1 .1 3.4 .2-4.3 .1 4.1 .1-4.8 .1-4.1 .2 4.6 .1 5.2 .1 1.5 .1 0 .1-2.8 .2 .5 .1 .8 .1-5.4 .1-.2 .2-.5 .1 9.5 .1-.7 .1-2.4 .1-3.1 .2 3.2 .1-3.3 .1-1.5 .1-.1 .1-2.9 .2 1 .1-2.2 .1-1 .1-6.2 .2 13 .1-4 .1 1.9 .1 4.5 .1 .4 .2-2.2 .1-4.9 .1 1 .1 2.1 .2 1.6 .1-2.9 .1 .5 .1 2.4 .1-2.4 .2-2.5 .1 2.8 .1 .7 .1-1.9 .2-3.7 .1 5.4 .1 1.4 .1 .4 .1 .4 .2 4.4 .1-4.2 .1-.4 .1-1 .1-3.2 .2 4.6 .1-3.3 .1 6.6 .1 .9 .2 3.2 .1-2.9 .1-1.2 .1-2.3 .1 4.3 .2-6.8 .1 .6 .1 5.4 .1-3.6 .2 1.1 .1-3.4 .1 4.6 .1-5.4 .1-1.5 .2 3 .1 1.2 .1 .1 .1 2.6 .1-2.6 .2 5.4 .1-3.3 .1-4 .1 8.6 .2-3.3 .1 3.9 .1-5.4 .1 2 .1-1.8 .2 .7 .1 1.3 .1-.7 .1-2.9 .2-.7 .1 4 .1 .9 .1-1.6 .1 2 .2 .5 .1-4.3 .1-5 .1 4.2 .2 2.1 .1-1.7 .1-4.4 .1-.9 .1 7.2 .2-2.3 .1-2.1 .1 1.3 .1-1.9 .1 5.8 .2-1.4 .1-7.9 .1 7.5 .1-2.5 .2 3.3 .1-1.6 .1 2.3" fill="none" stroke="#c080c8" stroke-width="2.6" stroke-opacity="0.45" stroke-linejoin="round"/>
<path d="M153.3 372.2l.1 4.4 .1 2.4 .2-6.9 .1 1.6 .1-.2 .1 .7 .2 2.6 .1-3.2 .1 7.5 .1-4 .1-5.9 .2 5.9 .1 3.1 .1-2.3 .1 1.4 .1 1.9 .2-2 .1 1.3 .1-5.4 .1 4.2 .2 2.1 .1-1.3 .1-3.4 .1 3.8 .1 .7 .2-.6 .1-1.3 .1 4 .1-1.7 .2-2.4 .1-2.2 .1 .8 .1 3.3 .1 .9 .2-3.5 .1 6.4 .1-6.6 .1 5.9 .2-2.7 .1-2.8 .1-3.5 .1 3.6 .1 4.8 .2-1.7 .1-18.9 .1 17.7 .1-3.9 .1-1.8 .2 1.2 .1-.5 .1 1.8 .1 .8 .2 1.9 .1-.7 .1-8.1 .1 10.6 .1-3.6 .2 3.3 .1-5.3 .1-2.2 .1 5.1 .2-2.3 .1-2.7 .1 5.3 .1-1.8 .1 2.1 .2-.2 .1 0 .1-1.8 .1 .9 .1 .8 .2 3.7 .1-1.6 .1-3.4 .1 .2 .2-2.7 .1 1.7 .1-2.1 .1-3.4 .1 5.1 .2 .9 .1-.1 .1 3 .1-4.8 .2 4.8 .1-4.2 .1 2.8 .1 .8 .1-4.5 .2 1.1 .1-.7 .1-3.5 .1 1.3 .2-4.6 .1 7.8 .1-5.8 .1-.5 .1 .3 .2-1.3 .1 4.3 .1-.4 .1 7.3 .1-7.2 .2-1.4 .1-2.7 .1 1.6 .1 1.2 .2-2.1 .1-4.2 .1 3.1 .1-4.2 .1 4.3 .2 2.9 .1-1.2 .1 4.6 .1-2.7 .2 6.9 .1-3.4 .1 5.9 .1-2.4 .1-2 .2-1 .1-.2 .1-14.9 .1 13.4 .1-5 .2 1.5 .1-2.6 .1 2.2 .1 7.9 .2-3.6 .1 .5 .1 .4 .1-2.1 .1 2.5 .2-.9 .1 1.2 .1-5.8 .1 5.9 .2-2.2 .1-4.1 .1 .8 .1 .2 .1 .6 .2-7.8 .1 14.5 .1-.9 .1-.5 .2 1.8 .1 1.5 .1 .3 .1-9.9 .1 3.9 .2 4.8 .1-1.3 .1 2.4 .1 .2 .1-.5 .2-6.7 .1 6.2 .1 2 .1-5.2 .2-.9 .1 .3 .1 2.1 .1 .4 .1-4.8 .2 3 .1-3.4 .1-.2 .1 2.3 .2 2 .1-.3 .1 1.6 .1-.8 .1 1.5 .2-7.7 .1 8.2 .1 .4 .1-2.9 .1 4.4 .2-3.3 .1-2.5 .1 4.3 .1-2.3 .2 .7 .1 3.6 .1-2.3 .1 1 .1-1.3 .2 1.4 .1-4.3 .1 2 .1-.6 .2-2.2 .1 2.7 .1 .5 .1-7.7 .1 .9 .2 5.2 .1-.1 .1-.8 .1 2.2 .2 .7 .1-4.7 .1 3.9 .1-.1 .1 1.6 .2-3 .1 3.6 .1-.4 .1-3.3 .1-.6 .2 5.7 .1 2.5 .1-.7 .1 3.6 .2-2.3 .1-11.2 .1 5.9 .1-2.6 .1-1.3 .2 5.7 .1 .2 .1-1.5 .1 2.2 .2-.8 .1-2.7 .1-.8 .1-4.1 .1 .6 .2 .1 .1-.2 .1 3 .1 .5 .1-2.6 .2 1.2 .1 3.2 .1 2.4 .1-3 .2-3.5 .1 6.3 .1-.5 .1-16.6 .1 12.4 .2-4.4 .1 1.4 .1-14.9 .1 17.1 .2-5.8 .1 5.9 .1 4.2 .1-2.7 .1-1.8 .2-4.5 .1 8 .1-3.6 .1-.2 .2 3 .1 .5 .1 3.2 .1-2.7 .1-2.1 .2-1.8 .1 4.1 .1-7.1 .1 4.6 .1-4.1 .2 0 .1-2.6 .1 3.3 .1 .3 .2 .1 .1 .5 .1-.6 .1-.5 .1 5.3 .2-3.1 .1-2.4 .1-4.4 .1 3.8 .2-1 .1 3.7 .1-2.4 .1 1.3 .1 2.6 .2 .7 .1-.1 .1-1.1 .1 4.3 .2 .9 .1-2.7 .1 3.9 .1-3 .1-6.8 .2 4.9 .1-6.8 .1 5.9 .1-3.7 .1-3.8 .2 2.5 .1 .9 .1-3 .1 2.6 .2 .5 .1-5.7 .1-.1 .1 6 .1 0 .2-.2 .1 3.1 .1 2.2 .1 .1 .2-2 .1 5.4 .1-6.9 .1-1.5 .1-11.4 .2 12.3 .1-2.8 .1 .6 .1 2.4 .1 1.7 .2 1.4 .1-.3 .1 1.5 .1 1.2 .2-3 .1-1.8 .1-3 .1 4 .1-.3 .2-.8 .1 1.4 .1-.1 .1-1 .2 0 .1 .7 .1-3.4 .1-8.7 .1 11.7 .2-1.5 .1 .9 .1 3.1 .1-6.9 .2 10.8 .1 .9 .1-4.8 .1 .5 .1 .4 .2 3.6 .1-2.2 .1-2.1 .1-7.3 .1 6.8 .2-2.3 .1-.9 .1-4.8 .1 3.5 .2-2.9 .1 1.9 .1 4 .1-.9 .1-2.3 .2-4 .1 7.6 .1-2.9 .1-.1 .2 3 .1-2.5 .1 .6 .1-7.5 .1 7.3 .2-2.1 .1 1 .1 5.6 .1-4 .1-3.7 .2 1.6 .1-1.8 .1 3.2 .1-2.1 .2-8.4 .1 8 .1 6.9 .1-1.1 .1-2.3 .2 .9 .1-.2 .1 2 .1-4.5 .2-.7 .1 5.1 .1-3.6 .1 1.2 .1 1.2 .2 2.8 .1 4.6 .1-4.7 .1 .8 .2 2.2 .1-6 .1-.6 .1 .4 .1-2.2 .2 3.1 .1-1.5 .1-3.6 .1 3.5 .1 2.7 .2 .6 .1-1.7 .1 1.6 .1 .2 .2-10.4 .1 4.7 .1 2.3 .1-6.4 .1 1.4 .2-.5 .1 8.3 .1-1 .1 4.1 .2-4.1 .1 2.8 .1-1.8 .1-1.1 .1-1.7 .2 .9 .1-.4 .1-1.9 .1-.2 .1-1.4 .2 2.7 .1-4.2 .1 1 .1-1.8 .2 .5 .1 2.8 .1-3.5 .1 2.7 .1-5.3 .2 7.4 .1-1.5 .1-.6 .1 5.2 .2-6.2 .1-3.3 .1 .9 .1 .9 .1 1.9 .2 1.2 .1 1.7 .1 2.2 .1-3.9 .2-.7 .1 4.6 .1 .7 .1-2.1 .1 2.4 .2 2.3 .1-4.1 .1-1 .1-.5 .1 2.1 .2-.8 .1 4.5 .1-4.7 .1 1.5 .2-4 .1 7.2 .1-4.6 .1-5.3 .1 5.1 .2-7.2 .1 6.9 .1 2 .1-2.9 .2-2.4 .1 .9 .1 .7 .1-1.2 .1 7.5 .2-9.4 .1 4.6 .1 .6 .1-2 .1 3.4 .2-.9 .1 3 .1-3.8 .1 .9 .2-2.5 .1-1.4 .1 4 .1 .1 .1 .4 .2-3.7 .1 2 .1 3.7 .1-2 .2 1.1 .1-2.5 .1 .6 .1-2.7 .1 2.7 .2 3.4 .1-2.6 .1-1.2 .1-2.4 .2-1.5 .1-1.9 .1 3.8 .1-2.9 .1-1.6 .2 4.8 .1-10.1 .1 8 .1-4.3 .1 5.2 .2-1.4 .1 .4 .1 3.9 .1 1.5 .2 3.8 .1-3 .1 0 .1 4.1 .1-6.6 .2 1.7 .1 2 .1-2.3 .1-1.6 .2 1.3 .1 5.8 .1-1.1 .1-3.1 .1 .4 .2-1.7 .1-5.5 .1-.7 .1-2.1 .1-3.6 .2 1.8 .1 5.1 .1 1.3 .1 1.6 .2 .9 .1 3.7 .1-.5 .1 .3 .1 0 .2-.3 .1 .3 .1-3.4 .1-.3 .2-3.5 .1 4.6 .1-3.5 .1-1.7 .1-.9 .2 3.3 .1 .3 .1-2.6 .1 .5 .2-4.1 .1 5.8 .1-2.5 .1 3.3 .1-6.8 .2 6.7 .1 4.3 .1-4.6 .1 1.3 .1-2.9 .2 3.2 .1 1.1 .1-3.7 .1 2.4 .2-12 .1 14 .1-1.3 .1-5.6 .1 3 .2 3.5 .1-2.4 .1-2.6 .1-.7 .2 3.3 .1-1.7 .1-1.6 .1-4.3 .1 7.1 .2-1 .1 1.2 .1-1.7 .1 6.8 .1-4.4 .2-2.9 .1 4.4 .1 2 .1-3.1 .2 2.1 .1-.4 .1-1.9 .1 1.8 .1-2.2 .2-1.4 .1 1.9 .1-6.8 .1 6.6 .2-8.4 .1 6.2 .1 5.5 .1-6.3 .1 4.3 .2 2.6 .1-2 .1-4.6 .1 7.3 .2-3 .1-2.3 .1 2 .1-2.8 .1-1.3 .2 7.3 .1-8.3 .1 4.4 .1-4.1 .1 4.2 .2 1.8 .1-3.2 .1-.7 .1 .3 .2 3.5 .1-1.6 .1-2.8 .1 4.1 .1-3.1 .2 3.1 .1 .6 .1 3 .1-1.4 .2-3.2 .1 2.3 .1-6.3 .1 5.3 .1 2.1 .2-7.9 .1 3.3 .1 0 .1 5.5 .1-3.3 .2 2.4 .1-4.4 .1 3.9 .1-3.1 .2 .7 .1-2 .1 3.9 .1 1.1 .1 1.2 .2-3.3 .1-2.1 .1-3.6 .1 3.4 .2 .4 .1 2.5 .1-4.7 .1 2.3 .1-.7 .2 2.8 .1-4.2 .1 2.4 .1-2 .2 1.4 .1-1.7 .1-6.2 .1 4 .1-2.3 .2 5.1 .1 2.4 .1-5.7 .1 1.5 .1 3.4 .2-2.9 .1-1.3 .1-1.4 .1 .5 .2 5.8 .1 2 .1 2.1 .1-3.4 .1 1.9 .2-4.3 .1-2.6 .1-.2 .1 .9 .2 2.9 .1 2.1 .1 5.5 .1-6.6 .1 4.3 .2-7.5 .1 5.8 .1-7.1 .1 4.6 .1-8.8 .2 9.6 .1 .9 .1 1 .1-.8 .2 2.6 .1-2.1 .1-3.1 .1 .8 .1-4.3 .2 3.5 .1 .5 .1-14.5 .1 7.7 .2 4.6 .1-1 .1 2.7 .1-2 .1-.7 .2 3.3 .1-3.4 .1 2.1 .1 2.6 .2-4.3 .1-.3 .1-3.3 .1-1.1 .1 2.9 .2-5 .1 3.1 .1 5 .1-1.2 .1-.6 .2 1.1 .1 .8 .1 5.3 .1-2.9 .2 .4 .1-.4 .1 3.6 .1-4.6 .1 .2 .2 2.2 .1-1.8 .1 4.8 .1-5.5 .2 3.7 .1-5.7 .1 .3 .1-.5 .1 2.5 .2-1.3 .1 2 .1 1.9 .1-2.4 .2-5.4 .1 2.4 .1-4.4 .1 .8 .1-.1 .2 3.1 .1-7.6 .1 7.7 .1 3.8 .1 1.6 .2 2.3 .1-6.4 .1 2.7 .1-9.2 .2 9.5 .1-2.2 .1-.6 .1 4 .1-.9 .2-9.8 .1 9.7 .1-.6 .1-.4 .2-1.3 .1-1.9 .1 2.8 .1-4.2 .1 4.5 .2-2.1 .1-3 .1 8.7 .1-.9 .1-3.9 .2-1.4 .1-1.1 .1 1.3 .1-.6 .2-1.7 .1-1.4 .1 5 .1-2.7 .1-.4 .2 2.8 .1-.9 .1 1.9 .1-2.2 .2-.8 .1 2 .1-1.7 .1 1 .1-.1 .2-12.6 .1 8.8 .1 2.3 .1-.9 .2 1 .1-3.2 .1 3.2 .1 4.5 .1-7.4 .2-2.3 .1 1.5 .1 .4 .1-1.1 .1 .4 .2 3.2 .1 .6 .1 2.6 .1-5 .2 4.7 .1 .7 .1-4.4 .1-7.5 .1 11.6 .2-2.6 .1-.1 .1 4 .1 2.6 .2-1.2 .1-1 .1-3.2 .1 3.6 .1-.6 .2-6.2 .1 1.3 .1 2.8 .1-3.6 .1 1.7 .2 .4 .1-1.3 .1-3.4 .1-2.6 .2 4.8 .1-7.3 .1 6.2 .1 4 .1 3.1 .2-.6 .1 1.7 .1 3.7 .1-11.4 .2 12.2 .1-3.3 .1-1.5 .1 .5 .1-.6 .2-1.1 .1 2 .1-5 .1 1.4 .2-.1 .1-3.3 .1 .4 .1-6.4 .1 6.8 .2 .5 .1 2.6 .1-4.6 .1 1 .1 3.4 .2-4.3 .1 4.1 .1-4.8 .1-4.1 .2 4.6 .1 5.2 .1 1.5 .1 0 .1-2.8 .2 .5 .1 .8 .1-5.4 .1-.2 .2-.5 .1 9.5 .1-.7 .1-2.4 .1-3.1 .2 3.2 .1-3.3 .1-1.5 .1-.1 .1-2.9 .2 1 .1-2.2 .1-1 .1-6.2 .2 13 .1-4 .1 1.9 .1 4.5 .1 .4 .2-2.2 .1-4.9 .1 1 .1 2.1 .2 1.6 .1-2.9 .1 .5 .1 2.4 .1-2.4 .2-2.5 .1 2.8 .1 .7 .1-1.9 .2-3.7 .1 5.4 .1 1.4 .1 .4 .1 .4 .2 4.4 .1-4.2 .1-.4 .1-1 .1-3.2 .2 4.6 .1-3.3 .1 6.6 .1 .9 .2 3.2 .1-2.9 .1-1.2 .1-2.3 .1 4.3 .2-6.8 .1 .6 .1 5.4 .1-3.6 .2 1.1 .1-3.4 .1 4.6 .1-5.4 .1-1.5 .2 3 .1 1.2 .1 .1 .1 2.6 .1-2.6 .2 5.4 .1-3.3 .1-4 .1 8.6 .2-3.3 .1 3.9 .1-5.4 .1 2 .1-1.8 .2 .7 .1 1.3 .1-.7 .1-2.9 .2-.7 .1 4 .1 .9 .1-1.6 .1 2 .2 .5 .1-4.3 .1-5 .1 4.2 .2 2.1 .1-1.7 .1-4.4 .1-.9 .1 7.2 .2-2.3 .1-2.1 .1 1.3 .1-1.9 .1 5.8 .2-1.4 .1-7.9 .1 7.5 .1-2.5 .2 3.3 .1-1.6 .1 2.3" fill="none" stroke="#7a1e86" stroke-width="0.75"/>
<line x1="153.3" y1="377.2" x2="275" y2="377.2" stroke="#333" stroke-width="0.6" stroke-dasharray="1.6,1.4"/>
<line x1="249.9" y1="398.5" x2="249.9" y2="421.1" stroke="#888" stroke-width="1"/>
<text x="254.7" y="413" font-size="11.1" fill="#111"><tspan font-style="italic">z</tspan> = 2</text>
<line x1="218.2" y1="425.8" x2="240.6" y2="425.8" stroke="#111" stroke-width="1"/>
<text x="229.4" y="438.2" font-size="11.1" text-anchor="middle" fill="#111">5 min</text>
<text x="303.6" y="242.1" font-size="15.5" font-weight="bold" fill="#111" stroke="#000" stroke-width="0.6">d</text>
<text x="351.4" y="250.2" font-size="11.1" text-anchor="middle" fill="#111">hSyn-ChR2</text>
<text x="353.2" y="264.8" font-size="11.1" text-anchor="middle" fill="#111">+ CalEx</text>
<text x="303.6" y="276.7" font-size="11.1" fill="#111">~4 weeks</text>
<line x1="354.8" y1="273.7" x2="374" y2="273.7" stroke="#111" stroke-width="1.1"/><path d="M378,273.7 L373,271.4 L373,276.0 Z" fill="#111"/>
<path d="M392.8,273.9 L388.3,275 L388.3,433.9 L393.3,434.6 M383.6,354.4 L388.3,354.4" fill="none" stroke="#a0a0a0" stroke-width="0.9"/>
<text transform="translate(378.8,354.2) rotate(-90)" font-size="11.2" text-anchor="middle" fill="#111">Neuronal recordings</text>
<rect x="399.2" y="273.4" width="58.8" height="22" fill="#dbdbdb"/>
<text x="428.6" y="288.6" font-size="11.1" text-anchor="middle" fill="#222">F-Con</text>
<text x="399.4" y="270.8" font-size="9.2" fill="#111">Day 1</text>
<text x="463.6" y="270.8" font-size="9.2" text-anchor="end" fill="#111">Cxt A</text>
<rect x="399.2" y="318.3" width="58.8" height="22" fill="#dbdbdb"/>
<text x="428.6" y="333.5" font-size="11.1" text-anchor="middle" fill="#222">Ext1</text>
<text x="399.4" y="315.7" font-size="9.2" fill="#111">Day 2</text>
<text x="463.6" y="315.7" font-size="9.2" text-anchor="end" fill="#111">Cxt B</text>
<rect x="399.2" y="365" width="58.8" height="22" fill="#dbdbdb"/>
<text x="428.6" y="380.2" font-size="11.1" text-anchor="middle" fill="#222">Ext2</text>
<text x="399.4" y="362.4" font-size="9.2" fill="#111">Day 3</text>
<text x="463.6" y="362.4" font-size="9.2" text-anchor="end" fill="#111">Cxt B</text>
<rect x="399.2" y="412.1" width="58.8" height="22" fill="#dbdbdb"/>
<text x="428.6" y="427.3" font-size="11.1" text-anchor="middle" fill="#222">E-Ret</text>
<text x="399.4" y="409.5" font-size="9.2" fill="#111">Day 4</text>
<text x="463.6" y="409.5" font-size="9.2" text-anchor="end" fill="#111">Cxt B</text>
<line x1="428.1" y1="298.3" x2="428.1" y2="308.6" stroke="#111" stroke-width="1.1"/><path d="M428.1,312.6 L425.8,307.6 L430.40000000000003,307.6 Z" fill="#111"/>
<line x1="427.6" y1="345.2" x2="427.6" y2="355.6" stroke="#111" stroke-width="1.1"/><path d="M427.6,359.6 L425.3,354.6 L429.90000000000003,354.6 Z" fill="#111"/>
<line x1="427.6" y1="392.2" x2="427.6" y2="402.6" stroke="#111" stroke-width="1.1"/><path d="M427.6,406.6 L425.3,401.6 L429.90000000000003,401.6 Z" fill="#111"/>
<path transform="translate(468.6,271.3) scale(1.039)" d="M0,0 L1.1,0 C1.4,2.8 4.3,4.8 4.3,9 C4.3,10.8 3.5,12.2 3,12.8 C3.4,10.8 3.2,8.8 1.1,7.2 L1.1,14.8 C1.1,16.8 -1.2,18.1 -3.3,18 C-5,17.9 -5.4,16 -4.3,14.6 C-3.2,13.3 -1.4,12.8 0,13.2 Z" fill="#d8661a" stroke="#2a1a10" stroke-width="0.53"/>
<path transform="translate(468.6,317.1) scale(1.039)" d="M0,0 L1.1,0 C1.4,2.8 4.3,4.8 4.3,9 C4.3,10.8 3.5,12.2 3,12.8 C3.4,10.8 3.2,8.8 1.1,7.2 L1.1,14.8 C1.1,16.8 -1.2,18.1 -3.3,18 C-5,17.9 -5.4,16 -4.3,14.6 C-3.2,13.3 -1.4,12.8 0,13.2 Z" fill="#d8661a" stroke="#2a1a10" stroke-width="0.53"/>
<path transform="translate(468.6,361.9) scale(1.039)" d="M0,0 L1.1,0 C1.4,2.8 4.3,4.8 4.3,9 C4.3,10.8 3.5,12.2 3,12.8 C3.4,10.8 3.2,8.8 1.1,7.2 L1.1,14.8 C1.1,16.8 -1.2,18.1 -3.3,18 C-5,17.9 -5.4,16 -4.3,14.6 C-3.2,13.3 -1.4,12.8 0,13.2 Z" fill="#d8661a" stroke="#2a1a10" stroke-width="0.53"/>
<path transform="translate(468.6,409.4) scale(1.039)" d="M0,0 L1.1,0 C1.4,2.8 4.3,4.8 4.3,9 C4.3,10.8 3.5,12.2 3,12.8 C3.4,10.8 3.2,8.8 1.1,7.2 L1.1,14.8 C1.1,16.8 -1.2,18.1 -3.3,18 C-5,17.9 -5.4,16 -4.3,14.6 C-3.2,13.3 -1.4,12.8 0,13.2 Z" fill="#d8661a" stroke="#2a1a10" stroke-width="0.53"/>
<text x="478.4" y="284.6" font-size="11.1" fill="#111">=</text>
<path d="M494.3,269 L498.9,270.2 L496.6,276.2 L498.8,276.6 L492,287.2 L493.9,279.3 L491.5,278.8 Z" fill="#f6c21c" stroke="#3a2a10" stroke-width="0.55" stroke-linejoin="round"/>
<text x="473.7" y="300.2" font-size="11.1" fill="#111">CS/US</text>
<text x="507.5" y="294.5" font-size="7.4" fill="#111">×3</text>
<text x="473.4" y="342.8" font-size="11.1" fill="#111">CS</text>
<text x="488.8" y="337.1" font-size="7.4" fill="#111">×25</text>
<text x="473.4" y="389.4" font-size="11.1" fill="#111">CS</text>
<text x="488.8" y="383.7" font-size="7.4" fill="#111">×25</text>
<text x="473.4" y="433.5" font-size="11.1" fill="#111">CS</text>
<text x="488.8" y="427.8" font-size="7.4" fill="#111">×5</text>
<text x="544.2" y="241.8" font-size="15.5" font-weight="bold" fill="#111" stroke="#000" stroke-width="0.6">e</text>
<text x="644.3" y="244.9" font-size="11.4" text-anchor="middle" fill="#111">Phototagged</text>
<rect x="624.12" y="253.7" width="1.3" height="73.8" fill="#c6e4f6"/><rect x="626.07" y="253.7" width="1.3" height="73.8" fill="#c6e4f6"/><rect x="628.01" y="253.7" width="1.3" height="73.8" fill="#c6e4f6"/><rect x="629.96" y="253.7" width="1.3" height="73.8" fill="#c6e4f6"/><rect x="631.90" y="253.7" width="1.3" height="73.8" fill="#c6e4f6"/><rect x="633.85" y="253.7" width="1.3" height="73.8" fill="#c6e4f6"/><rect x="635.79" y="253.7" width="1.3" height="73.8" fill="#c6e4f6"/><rect x="637.74" y="253.7" width="1.3" height="73.8" fill="#c6e4f6"/><rect x="639.68" y="253.7" width="1.3" height="73.8" fill="#c6e4f6"/><rect x="641.63" y="253.7" width="1.3" height="73.8" fill="#c6e4f6"/><rect x="643.57" y="253.7" width="1.3" height="73.8" fill="#c6e4f6"/><rect x="645.52" y="253.7" width="1.3" height="73.8" fill="#c6e4f6"/><rect x="647.46" y="253.7" width="1.3" height="73.8" fill="#c6e4f6"/><rect x="649.41" y="253.7" width="1.3" height="73.8" fill="#c6e4f6"/><rect x="651.35" y="253.7" width="1.3" height="73.8" fill="#c6e4f6"/><rect x="653.30" y="253.7" width="1.3" height="73.8" fill="#c6e4f6"/><rect x="655.24" y="253.7" width="1.3" height="73.8" fill="#c6e4f6"/><rect x="657.19" y="253.7" width="1.3" height="73.8" fill="#c6e4f6"/><rect x="659.13" y="253.7" width="1.3" height="73.8" fill="#c6e4f6"/><rect x="661.08" y="253.7" width="1.3" height="73.8" fill="#c6e4f6"/>
<path d="M615.6,285.7h0.7M665.3,263.4h0.7M644.1,270.7h0.7M656.5,283.5h0.7M612.4,254.9h0.7M671.0,270.1h0.7M665.2,253.9h0.7M640.2,281.0h0.7M623.1,289.4h0.7M676.2,255.0h0.7M607.0,274.2h0.7M679.2,268.2h0.7M622.1,269.7h0.7M607.3,262.2h0.7M639.6,272.5h0.7M623.4,262.5h0.7M622.3,271.1h0.7M627.9,254.6h0.7M671.2,274.8h0.7M655.7,260.8h0.7M683.4,286.2h0.7M614.6,266.3h0.7M662.0,280.6h0.7M679.0,269.7h0.7M670.6,279.1h0.7M629.0,276.0h0.7M674.7,285.7h0.7M644.9,276.0h0.7M607.7,263.0h0.7M668.0,269.4h0.7M618.7,274.5h0.7M660.5,279.2h0.7M634.6,270.3h0.7M645.2,283.1h0.7M646.2,268.6h0.7M643.7,254.9h0.7M608.4,280.3h0.7M682.7,276.2h0.7M636.1,260.2h0.7M644.7,290.8h0.7M665.9,274.1h0.7M673.0,262.6h0.7M645.6,289.7h0.7M650.6,271.1h0.7M626.3,274.5h0.7M680.6,254.0h0.7M666.9,284.7h0.7M675.0,281.7h0.7M668.9,273.4h0.7M649.3,269.9h0.7M609.4,286.6h0.7M650.0,261.3h0.7M644.9,272.1h0.7M633.2,266.8h0.7M647.5,277.3h0.7M653.4,271.1h0.7M607.2,262.5h0.7M619.0,275.8h0.7M673.0,283.9h0.7M668.0,284.6h0.7M625.2,285.5h0.7M658.2,256.9h0.7M606.3,254.3h0.7M664.7,263.2h0.7M613.6,277.4h0.7M632.2,256.4h0.7M617.6,273.7h0.7M618.3,264.1h0.7M661.2,270.9h0.7M630.4,271.7h0.7M606.9,268.4h0.7M638.3,260.9h0.7M613.6,287.7h0.7M645.3,261.7h0.7M652.8,284.6h0.7M606.6,254.5h0.7M616.6,280.9h0.7M617.7,280.4h0.7M658.6,274.3h0.7M622.4,290.6h0.7M668.0,273.3h0.7M622.6,278.2h0.7M636.2,275.5h0.7M630.4,277.6h0.7M609.6,265.1h0.7M681.5,286.8h0.7M629.2,286.2h0.7M629.5,289.2h0.7M663.8,269.5h0.7M624.9,254.1h0.7M674.4,255.2h0.7M669.7,290.1h0.7M650.1,260.3h0.7M673.6,290.5h0.7M660.6,273.0h0.7M634.9,266.9h0.7M621.3,279.2h0.7M639.2,261.1h0.7M613.2,278.9h0.7M628.4,272.6h0.7M630.7,286.7h0.7M676.1,254.5h0.7M620.9,266.2h0.7M683.0,283.3h0.7M631.8,261.8h0.7M658.3,285.4h0.7M678.6,266.8h0.7M674.7,279.7h0.7M643.3,291.0h0.7M623.5,281.2h0.7M611.7,260.2h0.7M677.0,261.8h0.7M665.0,276.4h0.7M671.4,267.7h0.7M631.9,264.8h0.7M673.5,276.6h0.7M680.4,287.2h0.7M615.7,274.6h0.7M613.2,255.3h0.7M610.8,286.5h0.7M667.3,285.0h0.7M631.9,277.0h0.7M666.8,268.1h0.7M650.1,262.2h0.7M611.5,263.9h0.7M675.4,275.1h0.7M678.1,271.1h0.7M626.9,283.5h0.7M670.4,254.3h0.7M658.0,257.3h0.7M614.1,287.2h0.7M608.2,262.8h0.7M683.1,269.7h0.7M614.1,260.1h0.7M624.1,281.8h0.7M613.1,288.1h0.7M634.9,290.4h0.7M676.8,264.9h0.7M625.0,271.8h0.7M612.9,278.4h0.7M608.1,254.2h0.7M682.6,264.9h0.7M652.1,270.8h0.7M629.7,256.2h0.7M677.2,290.4h0.7M681.6,258.0h0.7M622.0,277.1h0.7M682.4,274.3h0.7M659.4,278.8h0.7M625.5,274.2h0.7M642.2,267.4h0.7M640.2,282.2h0.7M628.8,278.1h0.7M638.4,265.4h0.7M644.2,283.7h0.7M660.0,265.2h0.7M644.1,276.8h0.7M661.6,262.1h0.7M638.4,263.9h0.7M628.8,254.6h0.7M624.8,283.7h0.7M654.0,286.2h0.7M630.7,283.8h0.7M628.7,278.9h0.7M634.7,290.9h0.7M644.2,280.5h0.7M661.7,287.5h0.7M632.6,281.0h0.7M644.4,277.3h0.7M658.1,281.9h0.7M636.4,270.1h0.7M634.4,286.3h0.7M638.4,256.2h0.7M652.2,274.5h0.7M657.9,274.1h0.7M624.8,266.6h0.7M640.4,283.7h0.7M650.3,254.5h0.7M646.3,276.2h0.7M632.5,285.1h0.7M648.2,260.3h0.7M628.6,254.1h0.7M655.9,287.5h0.7M652.3,277.9h0.7M638.3,272.5h0.7M654.2,280.7h0.7M644.3,288.0h0.7M640.6,262.1h0.7M628.9,278.1h0.7M646.1,282.7h0.7M636.4,279.9h0.7M657.9,280.2h0.7M652.1,286.1h0.7M662.0,275.3h0.7M634.4,269.9h0.7M660.0,283.3h0.7M654.1,280.8h0.7M646.2,285.7h0.7M658.0,255.3h0.7M628.9,277.5h0.7M640.5,257.0h0.7M632.8,277.1h0.7M628.7,288.6h0.7M648.4,287.9h0.7M648.0,266.1h0.7M632.7,272.2h0.7M636.3,276.4h0.7M650.3,278.7h0.7M640.3,282.1h0.7M625.1,273.7h0.7M659.6,277.5h0.7M661.7,263.6h0.7M634.5,274.2h0.7M640.3,282.4h0.7M652.2,284.3h0.7M634.6,272.3h0.7M630.8,275.3h0.7M648.1,284.4h0.7M624.7,282.0h0.7M657.8,279.2h0.7M632.4,267.9h0.7M642.3,279.3h0.7M655.9,258.5h0.7M652.0,274.1h0.7M644.4,279.6h0.7M653.8,288.4h0.7M648.1,253.9h0.7M640.5,281.0h0.7M655.8,288.6h0.7M662.0,269.2h0.7M642.4,270.7h0.7M655.8,273.6h0.7M648.2,290.4h0.7M644.5,275.8h0.7M628.7,281.9h0.7M642.4,269.1h0.7M632.7,289.1h0.7M640.6,282.7h0.7M661.6,288.2h0.7M650.3,274.3h0.7M632.6,263.6h0.7M634.6,255.5h0.7M655.8,276.1h0.7M628.7,278.6h0.7M624.7,280.6h0.7M634.7,269.0h0.7M640.5,261.7h0.7M636.4,266.4h0.7M628.5,285.1h0.7M656.0,271.4h0.7M658.0,260.2h0.7M657.8,276.8h0.7M638.4,268.9h0.7M654.2,286.5h0.7M644.4,263.6h0.7M661.9,285.6h0.7M625.0,286.5h0.7M648.1,270.1h0.7M638.6,261.0h0.7M634.7,275.6h0.7M660.0,281.3h0.7M662.0,271.1h0.7M634.4,259.0h0.7M652.0,282.1h0.7M638.3,261.6h0.7M642.2,262.4h0.7M644.3,257.6h0.7M634.4,284.3h0.7M625.0,262.0h0.7M626.8,273.7h0.7M661.8,278.8h0.7M640.2,279.9h0.7M630.6,262.6h0.7M652.0,260.2h0.7M638.3,264.5h0.7M657.9,261.8h0.7M640.3,276.2h0.7M636.7,255.5h0.7M625.0,265.8h0.7M648.3,264.6h0.7M636.5,287.0h0.7M632.8,254.9h0.7M648.0,278.9h0.7M626.8,263.4h0.7M628.7,285.5h0.7M624.6,256.1h0.7M632.4,264.1h0.7M630.7,261.0h0.7M654.1,281.9h0.7M636.6,268.5h0.7M640.6,278.0h0.7M638.3,276.0h0.7M659.7,270.0h0.7M658.0,290.3h0.7M646.3,274.1h0.7M657.9,278.8h0.7M640.5,281.0h0.7M628.6,290.6h0.7M632.4,261.5h0.7M650.3,255.8h0.7M628.9,273.1h0.7M655.9,290.9h0.7M626.6,255.1h0.7M632.8,282.6h0.7M651.9,273.6h0.7M628.6,266.1h0.7M642.1,268.3h0.7M640.3,258.7h0.7M648.3,286.1h0.7M642.2,285.5h0.7M656.0,266.2h0.7M644.3,268.5h0.7M659.8,258.7h0.7M652.1,274.9h0.7M659.9,274.0h0.7M642.5,261.3h0.7M648.2,257.5h0.7M646.1,256.2h0.7M642.5,278.3h0.7M644.3,265.8h0.7M640.3,282.0h0.7M655.7,258.4h0.7M644.5,266.1h0.7M644.3,270.8h0.7M640.4,288.2h0.7M648.3,288.7h0.7M660.0,258.9h0.7M656.0,286.0h0.7M640.5,280.3h0.7M644.2,289.3h0.7M646.2,271.3h0.7M644.3,260.1h0.7M632.5,262.1h0.7M632.8,260.8h0.7M650.3,277.2h0.7M630.9,279.5h0.7M630.5,256.3h0.7M659.9,256.8h0.7M628.9,262.0h0.7M634.6,270.1h0.7M659.8,285.8h0.7M642.2,261.4h0.7M654.2,287.5h0.7M650.1,267.6h0.7M636.7,281.2h0.7M640.4,254.1h0.7M658.0,273.2h0.7M653.8,277.0h0.7M656.1,275.8h0.7M626.7,291.0h0.7M624.7,265.1h0.7M624.9,284.8h0.7M656.1,282.0h0.7M658.0,291.3h0.7M642.4,274.2h0.7M655.9,277.5h0.7M642.3,258.7h0.7M652.1,274.5h0.7M634.5,254.2h0.7M650.2,275.1h0.7M646.2,264.4h0.7M625.0,288.7h0.7M624.8,271.3h0.7M646.3,285.9h0.7M644.2,284.1h0.7M654.0,269.5h0.7M625.1,284.5h0.7M646.4,276.0h0.7M642.6,269.4h0.7M655.9,269.7h0.7M640.4,283.1h0.7M653.9,285.1h0.7M648.3,257.2h0.7M632.5,259.4h0.7M624.7,259.7h0.7M630.6,281.1h0.7M624.7,276.9h0.7M626.8,274.0h0.7M646.0,278.4h0.7M630.8,279.4h0.7M630.9,279.6h0.7M634.6,283.7h0.7M626.9,279.3h0.7M628.9,258.5h0.7M652.0,272.9h0.7M648.0,286.0h0.7M630.5,276.9h0.7M636.4,263.5h0.7M657.8,272.4h0.7M658.1,283.5h0.7M661.7,272.1h0.7M625.0,281.3h0.7M646.4,290.3h0.7M640.2,277.4h0.7M642.5,285.6h0.7M638.5,264.0h0.7M638.4,258.7h0.7M636.5,277.6h0.7M626.8,276.8h0.7M632.8,264.0h0.7M654.1,263.9h0.7M636.5,276.4h0.7M638.4,276.6h0.7M634.7,275.7h0.7M652.1,256.0h0.7M644.3,258.9h0.7M636.4,272.4h0.7M644.1,287.2h0.7M640.3,277.7h0.7M626.8,279.6h0.7" stroke="#222" stroke-width="0.8" fill="none"/>
<path d="M605.0,327.5v0.0M605.9,327.5v0.0M606.8,327.5v0.0M607.7,327.5v-1.0M608.6,327.5v-0.5M609.5,327.5v-2.0M610.4,327.5v-2.0M611.3,327.5v-1.0M612.2,327.5v-1.0M613.1,327.5v-1.5M614.0,327.5v-0.5M614.9,327.5v-1.5M615.8,327.5v0.0M616.7,327.5v-1.5M617.6,327.5v-2.0M618.5,327.5v-0.5M619.4,327.5v-1.0M620.3,327.5v-2.0M621.2,327.5v-1.0M622.1,327.5v-2.0M623.0,327.5v-1.5M663.5,327.5v-1.0M664.4,327.5v-1.5M665.3,327.5v-1.0M666.2,327.5v-1.5M667.1,327.5v-1.0M668.0,327.5v0.0M668.9,327.5v0.0M669.8,327.5v-1.0M670.7,327.5v-1.0M671.6,327.5v-1.0M672.5,327.5v-1.0M673.4,327.5v-1.0M674.3,327.5v-1.5M675.2,327.5v-0.5M676.1,327.5v-1.5M677.0,327.5v-0.5M677.9,327.5v-0.5M678.8,327.5v-0.5M679.7,327.5v0.0M680.6,327.5v-0.5M681.5,327.5v-1.0M682.4,327.5v-0.5M683.3,327.5v-0.5" stroke="#222" stroke-width="0.8"/>
<rect x="640.5" y="302.5" width="12.5" height="25" fill="#b0b0b0"/>
<line x1="624.77" y1="300.5" x2="624.77" y2="327.5" stroke="#2a2a2a" stroke-width="0.9"/>
<line x1="626.72" y1="298.0" x2="626.72" y2="327.5" stroke="#555" stroke-width="0.9"/>
<line x1="628.66" y1="297.5" x2="628.66" y2="327.5" stroke="#2a2a2a" stroke-width="0.9"/>
<line x1="630.61" y1="304.5" x2="630.61" y2="327.5" stroke="#2a2a2a" stroke-width="0.9"/>
<line x1="632.55" y1="300.0" x2="632.55" y2="327.5" stroke="#555" stroke-width="0.9"/>
<line x1="634.5" y1="300.5" x2="634.5" y2="327.5" stroke="#2a2a2a" stroke-width="0.9"/>
<line x1="636.44" y1="300.5" x2="636.44" y2="327.5" stroke="#2a2a2a" stroke-width="0.9"/>
<line x1="638.39" y1="300.0" x2="638.39" y2="327.5" stroke="#555" stroke-width="0.9"/>
<line x1="640.33" y1="299.5" x2="640.33" y2="327.5" stroke="#2a2a2a" stroke-width="0.9"/>
<line x1="642.28" y1="302.5" x2="642.28" y2="327.5" stroke="#2a2a2a" stroke-width="0.9"/>
<line x1="644.22" y1="302.5" x2="644.22" y2="327.5" stroke="#555" stroke-width="0.9"/>
<line x1="646.17" y1="302.5" x2="646.17" y2="327.5" stroke="#2a2a2a" stroke-width="0.9"/>
<line x1="648.11" y1="299.5" x2="648.11" y2="327.5" stroke="#2a2a2a" stroke-width="0.9"/>
<line x1="650.06" y1="302.5" x2="650.06" y2="327.5" stroke="#555" stroke-width="0.9"/>
<line x1="652.0" y1="302.5" x2="652.0" y2="327.5" stroke="#2a2a2a" stroke-width="0.9"/>
<line x1="653.95" y1="302.5" x2="653.95" y2="327.5" stroke="#2a2a2a" stroke-width="0.9"/>
<line x1="655.89" y1="298.0" x2="655.89" y2="327.5" stroke="#555" stroke-width="0.9"/>
<line x1="657.84" y1="306.5" x2="657.84" y2="327.5" stroke="#2a2a2a" stroke-width="0.9"/>
<line x1="659.78" y1="301.5" x2="659.78" y2="327.5" stroke="#2a2a2a" stroke-width="0.9"/>
<line x1="661.73" y1="298.0" x2="661.73" y2="327.5" stroke="#555" stroke-width="0.9"/>
<line x1="605" y1="327.6" x2="684" y2="327.6" stroke="#222" stroke-width="0.7"/>
<text x="583.4" y="310.6" font-size="11.1" text-anchor="end" fill="#111">10 Hz</text>
<line x1="587.6" y1="300" x2="587.6" y2="314.8" stroke="#777" stroke-width="1"/>
<line x1="563.3" y1="327.3" x2="582.3" y2="327.3" stroke="#111" stroke-width="1"/>
<text x="571.8" y="339.5" font-size="10.8" text-anchor="middle" fill="#111">10 s</text>
<text x="644.5" y="355.6" font-size="11.4" text-anchor="middle" fill="#111">Non-tagged</text>
<rect x="625.00" y="361.3" width="1.3" height="73.0" fill="#c6e4f6"/><rect x="626.91" y="361.3" width="1.3" height="73.0" fill="#c6e4f6"/><rect x="628.81" y="361.3" width="1.3" height="73.0" fill="#c6e4f6"/><rect x="630.72" y="361.3" width="1.3" height="73.0" fill="#c6e4f6"/><rect x="632.62" y="361.3" width="1.3" height="73.0" fill="#c6e4f6"/><rect x="634.53" y="361.3" width="1.3" height="73.0" fill="#c6e4f6"/><rect x="636.43" y="361.3" width="1.3" height="73.0" fill="#c6e4f6"/><rect x="638.34" y="361.3" width="1.3" height="73.0" fill="#c6e4f6"/><rect x="640.24" y="361.3" width="1.3" height="73.0" fill="#c6e4f6"/><rect x="642.15" y="361.3" width="1.3" height="73.0" fill="#c6e4f6"/><rect x="644.05" y="361.3" width="1.3" height="73.0" fill="#c6e4f6"/><rect x="645.96" y="361.3" width="1.3" height="73.0" fill="#c6e4f6"/><rect x="647.86" y="361.3" width="1.3" height="73.0" fill="#c6e4f6"/><rect x="649.77" y="361.3" width="1.3" height="73.0" fill="#c6e4f6"/><rect x="651.67" y="361.3" width="1.3" height="73.0" fill="#c6e4f6"/><rect x="653.58" y="361.3" width="1.3" height="73.0" fill="#c6e4f6"/><rect x="655.48" y="361.3" width="1.3" height="73.0" fill="#c6e4f6"/><rect x="657.39" y="361.3" width="1.3" height="73.0" fill="#c6e4f6"/><rect x="659.29" y="361.3" width="1.3" height="73.0" fill="#c6e4f6"/><rect x="661.20" y="361.3" width="1.3" height="73.0" fill="#c6e4f6"/>
<path d="M624.3,380.9h0.7M634.6,383.1h0.7M654.7,363.8h0.7M606.6,391.5h0.7M625.9,369.8h0.7M683.7,378.3h0.7M671.2,378.5h0.7M655.7,366.8h0.7M655.4,392.6h0.7M646.6,388.0h0.7M658.2,363.7h0.7M665.0,382.6h0.7M629.2,362.5h0.7M673.5,378.4h0.7M662.0,392.9h0.7M661.6,394.5h0.7M636.6,390.2h0.7M640.5,395.0h0.7M674.5,364.9h0.7M616.3,369.2h0.7M681.3,377.1h0.7M654.7,372.2h0.7M645.4,375.3h0.7M633.1,382.4h0.7M651.4,393.9h0.7M659.1,394.7h0.7M672.7,397.0h0.7M658.2,367.3h0.7M673.1,396.0h0.7M676.5,381.8h0.7M661.6,369.0h0.7M670.8,382.0h0.7M627.9,363.7h0.7M672.5,396.9h0.7M612.5,390.1h0.7M637.8,366.8h0.7M628.6,389.0h0.7M674.0,363.0h0.7M653.8,363.0h0.7M661.9,373.3h0.7M674.7,396.6h0.7M645.2,397.2h0.7M629.9,364.2h0.7M652.6,362.5h0.7M621.1,376.0h0.7M653.5,367.0h0.7M608.9,392.6h0.7M630.2,395.8h0.7M675.9,375.0h0.7M641.7,380.1h0.7M656.1,382.8h0.7M649.4,383.7h0.7M679.3,379.6h0.7M639.4,387.3h0.7M624.2,372.2h0.7M682.3,380.1h0.7M648.6,361.8h0.7M638.2,382.2h0.7M607.2,383.5h0.7M655.2,363.6h0.7M654.8,378.1h0.7M658.9,374.1h0.7M661.0,387.9h0.7M607.3,363.6h0.7M658.6,396.0h0.7M625.3,377.8h0.7M652.1,372.9h0.7M634.1,372.6h0.7M634.5,382.8h0.7M629.2,374.9h0.7M666.1,362.4h0.7M650.2,387.8h0.7M629.9,369.4h0.7M668.6,370.0h0.7M620.3,377.0h0.7M660.3,365.1h0.7M630.8,373.4h0.7M670.9,377.1h0.7M672.7,367.5h0.7M632.0,384.7h0.7M675.0,377.6h0.7M623.2,365.7h0.7M647.1,368.2h0.7M668.9,391.5h0.7M620.0,371.4h0.7M668.9,384.4h0.7M668.8,373.8h0.7M615.8,371.9h0.7M667.8,371.1h0.7M632.8,376.4h0.7M638.5,376.1h0.7M677.8,367.0h0.7M606.0,395.3h0.7M674.6,396.8h0.7M639.7,395.5h0.7M678.3,369.4h0.7M664.0,391.4h0.7M657.6,380.0h0.7M628.3,373.6h0.7M623.4,363.8h0.7M651.8,371.7h0.7M669.1,363.0h0.7M676.4,386.3h0.7M678.0,393.6h0.7M676.1,382.1h0.7M606.6,388.2h0.7M619.1,372.2h0.7M657.6,380.2h0.7M638.0,395.1h0.7M653.6,373.7h0.7M625.4,392.3h0.7M643.0,389.5h0.7M633.2,368.5h0.7M647.5,390.7h0.7M619.0,389.8h0.7M677.9,390.3h0.7M670.2,361.7h0.7M654.9,392.4h0.7M609.5,371.1h0.7M626.7,380.3h0.7M638.8,378.4h0.7M666.5,361.5h0.7M609.9,366.0h0.7M615.4,363.9h0.7M682.0,392.1h0.7M612.4,379.4h0.7M630.4,372.7h0.7M633.1,384.6h0.7M651.6,374.4h0.7M620.6,373.2h0.7M615.3,381.3h0.7M661.7,375.1h0.7M611.9,367.8h0.7M634.9,383.1h0.7M667.0,375.1h0.7M668.4,383.8h0.7M639.4,374.8h0.7M644.5,386.6h0.7M638.6,386.3h0.7M641.7,370.2h0.7M647.6,386.4h0.7M611.2,376.7h0.7M639.0,393.0h0.7M679.0,374.8h0.7M676.0,389.8h0.7M626.2,378.1h0.7M615.3,390.6h0.7M657.5,393.3h0.7M667.7,385.4h0.7M663.1,381.6h0.7M613.7,382.5h0.7M606.0,366.6h0.7M666.3,363.0h0.7M612.8,365.0h0.7M674.6,367.8h0.7M607.4,391.6h0.7M615.1,391.7h0.7M658.4,391.4h0.7M680.3,382.2h0.7M668.2,362.7h0.7M665.8,379.8h0.7M661.7,365.2h0.7M664.3,395.0h0.7M610.4,373.0h0.7M649.8,391.1h0.7M624.6,367.9h0.7M625.2,383.5h0.7M664.7,375.5h0.7M634.4,375.6h0.7M633.1,376.4h0.7M612.1,379.4h0.7M681.9,376.2h0.7M664.2,367.2h0.7M659.8,388.5h0.7M658.4,380.0h0.7M643.5,384.5h0.7M676.0,366.8h0.7M613.1,388.3h0.7M677.5,380.0h0.7M640.3,387.2h0.7M620.2,371.0h0.7M621.2,382.4h0.7M630.3,369.7h0.7M659.8,395.6h0.7M628.8,386.7h0.7M638.0,392.0h0.7M651.4,371.0h0.7M622.7,362.2h0.7M643.2,375.1h0.7M619.1,374.3h0.7M630.8,389.2h0.7M616.9,397.0h0.7M643.2,382.9h0.7M642.3,391.4h0.7M670.0,381.4h0.7M643.3,387.3h0.7M672.8,375.8h0.7M663.1,395.9h0.7M642.2,369.6h0.7M624.0,387.2h0.7M658.5,395.8h0.7M672.5,370.1h0.7M620.5,370.7h0.7M620.3,386.7h0.7M672.9,393.7h0.7M625.6,392.5h0.7M630.2,376.6h0.7M662.8,364.5h0.7M612.9,391.3h0.7M628.5,374.2h0.7M651.1,385.7h0.7M606.1,373.4h0.7M639.8,378.8h0.7M622.1,382.4h0.7M680.5,375.4h0.7M648.3,365.7h0.7M627.1,385.3h0.7M614.4,393.3h0.7M676.8,364.9h0.7M679.4,374.8h0.7M666.2,388.6h0.7M628.8,385.7h0.7M656.9,390.3h0.7M626.4,388.5h0.7M681.0,385.6h0.7M647.6,365.5h0.7M644.3,374.0h0.7M661.9,385.8h0.7M650.0,367.9h0.7M656.2,384.0h0.7M619.6,393.3h0.7M657.0,365.8h0.7M678.7,366.5h0.7M631.6,387.3h0.7M652.4,381.3h0.7M656.4,377.8h0.7M630.1,367.7h0.7M611.0,387.1h0.7M664.8,380.9h0.7M663.6,374.3h0.7M626.4,375.2h0.7M674.0,362.9h0.7M645.2,370.3h0.7M665.9,374.1h0.7M631.7,375.9h0.7M648.1,389.1h0.7M633.3,391.8h0.7M614.4,371.1h0.7M613.4,365.4h0.7M666.7,387.5h0.7M620.1,368.2h0.7M638.3,388.1h0.7M669.6,388.3h0.7M652.0,366.7h0.7M636.8,368.4h0.7M647.0,381.8h0.7M621.4,370.4h0.7M666.9,362.5h0.7M668.6,393.4h0.7M680.0,375.2h0.7M645.8,382.3h0.7M648.8,396.5h0.7M650.9,372.1h0.7M657.5,378.8h0.7M647.6,387.5h0.7M624.8,389.1h0.7M649.9,379.1h0.7M644.7,377.9h0.7M632.1,380.4h0.7M626.1,379.4h0.7M649.3,377.3h0.7M646.3,395.8h0.7M658.7,366.3h0.7M654.9,383.8h0.7M626.6,374.3h0.7M633.6,364.2h0.7M645.2,394.8h0.7M637.0,392.7h0.7M651.2,366.2h0.7M657.4,383.0h0.7M660.0,387.1h0.7M652.9,373.7h0.7M655.4,394.8h0.7M657.5,377.1h0.7M653.5,378.8h0.7M628.9,362.9h0.7M627.7,368.6h0.7M630.8,379.2h0.7M651.3,380.7h0.7M640.8,384.7h0.7M636.3,378.1h0.7M653.5,375.8h0.7M631.6,393.7h0.7M652.1,374.6h0.7M638.8,380.4h0.7M647.4,369.4h0.7M624.8,368.9h0.7M654.5,366.6h0.7M642.2,368.4h0.7M632.7,367.5h0.7M640.1,367.4h0.7M625.7,365.4h0.7M631.1,379.0h0.7M627.0,362.2h0.7M641.8,376.0h0.7M651.5,363.2h0.7M640.1,375.6h0.7M625.7,396.1h0.7M633.0,364.8h0.7M642.8,367.3h0.7M648.4,373.8h0.7M629.4,363.3h0.7M652.4,371.3h0.7M654.7,378.1h0.7M660.2,372.2h0.7M634.2,370.9h0.7M655.7,384.0h0.7M637.8,364.8h0.7M650.7,396.2h0.7M647.3,361.5h0.7M625.9,364.7h0.7M631.2,362.7h0.7M626.8,384.9h0.7M659.0,368.6h0.7M661.8,378.5h0.7M655.3,394.3h0.7M660.5,362.6h0.7M636.3,383.2h0.7M660.8,364.6h0.7M635.9,391.9h0.7M629.1,375.4h0.7M637.4,385.8h0.7M660.1,367.7h0.7M652.9,387.7h0.7M656.5,381.3h0.7M659.9,374.4h0.7M640.5,369.6h0.7M654.4,378.7h0.7M635.0,367.5h0.7M652.2,383.1h0.7M651.8,375.3h0.7M643.3,366.9h0.7M651.8,362.2h0.7M642.5,388.6h0.7M650.5,364.9h0.7M633.7,391.7h0.7M649.2,392.9h0.7M657.9,377.6h0.7M658.9,387.7h0.7M637.4,374.7h0.7M627.4,375.7h0.7M661.1,365.2h0.7M646.4,365.4h0.7M627.8,384.7h0.7M633.9,363.2h0.7M630.5,384.5h0.7M647.0,361.8h0.7M633.5,396.1h0.7M633.1,381.6h0.7M640.7,389.4h0.7M647.7,389.7h0.7M645.1,368.2h0.7M631.5,364.2h0.7M656.2,365.4h0.7M625.6,396.1h0.7M632.3,393.5h0.7M628.0,378.1h0.7M633.2,391.2h0.7M648.1,384.4h0.7M653.7,392.7h0.7M637.9,383.1h0.7M641.7,365.4h0.7M656.5,382.7h0.7M655.7,368.8h0.7M645.2,378.1h0.7M652.4,364.2h0.7M637.9,378.8h0.7M627.4,381.2h0.7M652.7,376.6h0.7M649.4,383.2h0.7M632.9,374.0h0.7M662.6,373.4h0.7M641.1,364.4h0.7M633.0,367.3h0.7M660.2,387.5h0.7M658.0,396.8h0.7M648.0,394.8h0.7M645.1,376.4h0.7M660.8,393.8h0.7M660.9,378.8h0.7M654.2,376.0h0.7M662.7,394.4h0.7M635.8,394.9h0.7M631.7,364.8h0.7M652.2,372.0h0.7M644.5,384.3h0.7M626.2,388.2h0.7M635.2,376.9h0.7M637.8,388.0h0.7M653.2,371.7h0.7" stroke="#222" stroke-width="0.8" fill="none"/>
<path d="M605.6,434.3v-0.9M606.4,434.3v-2.3M607.2,434.3v-4.1M608.0,434.3v-2.3M608.8,434.3v-3.7M609.6,434.3v-1.6M610.4,434.3v-3.5M611.2,434.3v-1.1M612.0,434.3v-2.2M612.8,434.3v-0.1M613.6,434.3v-0.5M614.4,434.3v-2.4M615.2,434.3v0.0M616.0,434.3v-3.4M616.8,434.3v-0.7M617.6,434.3v-1.8M618.4,434.3v-3.6M619.2,434.3v0.0M620.0,434.3v-2.7M620.8,434.3v-0.6M621.6,434.3v-3.4M622.4,434.3v-0.6M623.2,434.3v-0.2M624.0,434.3v-3.8M624.8,434.3v-1.1M625.6,434.3v0.0M626.4,434.3v-5.3M627.2,434.3v-2.6M628.0,434.3v-1.9M628.8,434.3v-2.2M629.6,434.3v-4.7M630.4,434.3v-1.0M631.2,434.3v-4.1M632.0,434.3v0.0M632.8,434.3v-2.4M633.6,434.3v-1.9M634.4,434.3v-3.2M635.2,434.3v-8.3M636.0,434.3v-1.8M636.8,434.3v-3.0M637.6,434.3v-2.3M638.4,434.3v-2.4M639.2,434.3v-8.3M640.0,434.3v-6.7M640.8,434.3v-2.4M641.6,434.3v-1.1M642.4,434.3v-4.1M643.2,434.3v-1.7M644.0,434.3v-1.7M644.8,434.3v-1.8M645.6,434.3v-6.6M646.4,434.3v0.0M647.2,434.3v0.0M648.0,434.3v-2.1M648.8,434.3v-3.4M649.6,434.3v-1.4M650.4,434.3v-1.0M651.2,434.3v-0.4M652.0,434.3v-2.4M652.8,434.3v-3.3M653.6,434.3v-2.8M654.4,434.3v-9.7M655.2,434.3v-2.3M656.0,434.3v-1.8M656.8,434.3v-3.0M657.6,434.3v-0.2M658.4,434.3v-1.9M659.2,434.3v-5.0M660.0,434.3v-3.4M660.8,434.3v-4.0M661.6,434.3v-5.0M662.4,434.3v-7.7M663.2,434.3v-0.5M664.0,434.3v-3.0M664.8,434.3v-2.5M665.6,434.3v-1.3M666.4,434.3v-4.5M667.2,434.3v-2.7M668.0,434.3v0.0M668.8,434.3v-0.6M669.6,434.3v-6.4M670.4,434.3v-2.9M671.2,434.3v-1.0M672.0,434.3v0.0M672.8,434.3v-1.8M673.6,434.3v-2.8M674.4,434.3v-8.6M675.2,434.3v0.0M676.0,434.3v-7.2M676.8,434.3v-1.0M677.6,434.3v-2.2M678.4,434.3v-1.3M679.2,434.3v-0.6M680.0,434.3v-4.2M680.8,434.3v-3.3M681.6,434.3v-1.6M682.4,434.3v-1.6M683.2,434.3v-3.8M684.0,434.3v-6.2" stroke="#111" stroke-width="0.75"/>
<line x1="605.6" y1="434.3" x2="684" y2="434.3" stroke="#111" stroke-width="1"/>
<text x="564" y="375.5" font-size="11.1" text-anchor="middle" fill="#111">50 ms</text>
<text x="563.6" y="388.8" font-size="11.1" text-anchor="middle" fill="#111">470 nm</text>
<text x="564.1" y="401.5" font-size="11.1" text-anchor="middle" fill="#111">pulses</text>
<polygon points="568.2,408.9 573.4,433.3 562.9,433.3" fill="#b6cde8"/>
<text x="4.6" y="468.4" font-size="15.5" font-weight="bold" fill="#111" stroke="#000" stroke-width="0.6">f</text>
<line x1="43.7" y1="475.8" x2="59.8" y2="475.8" stroke="#333" stroke-width="0.8"/>
<circle cx="51.7" cy="475.8" r="1.6" fill="#333"/>
<text x="65.5" y="479.2" font-size="11.1" fill="#111">Control</text>
<line x1="43.7" y1="490.9" x2="59.8" y2="490.9" stroke="#8a1a8e" stroke-width="0.8"/>
<circle cx="51.7" cy="490.9" r="1.6" fill="#8a1a8e"/>
<text x="65.5" y="494.6" font-size="11.1" fill="#111">CalEx</text>
<line x1="131.6" y1="480.9" x2="158.5" y2="480.9" stroke="#c9591c" stroke-width="3.5"/>
<path transform="translate(171.8,473.5) scale(1.028)" d="M0,0 L1.1,0 C1.4,2.8 4.3,4.8 4.3,9 C4.3,10.8 3.5,12.2 3,12.8 C3.4,10.8 3.2,8.8 1.1,7.2 L1.1,14.8 C1.1,16.8 -1.2,18.1 -3.3,18 C-5,17.9 -5.4,16 -4.3,14.6 C-3.2,13.3 -1.4,12.8 0,13.2 Z" fill="#d8661a" stroke="#2a1a10" stroke-width="0.54"/>
<text x="180.3" y="486.9" font-size="11.2" fill="#111">CS pip</text>
<line x1="53.5" y1="515.2" x2="80.7" y2="515.2" stroke="#c9591c" stroke-width="3.6"/>
<line x1="160.1" y1="515.2" x2="188.1" y2="515.2" stroke="#c9591c" stroke-width="3.6"/>
<line x1="268.4" y1="515.2" x2="296" y2="515.2" stroke="#c9591c" stroke-width="3.6"/>
<path d="M33.6 596.4l5.5 2.3 5.6 1.2 5.5-1.9 5.5-.8 5.5-.9 5.6-26.1 5.5-34.2 5.5 31 5.5 30.2 5.5-1.6 5.6 .8 5.5 1.7 5.5 .2 5.6-4.3 5.5 4.3 5.5 .8" fill="none" stroke="#808080" stroke-width="0.5" stroke-opacity="0.7" stroke-linejoin="round"/><path d="M33.6 599.6l5.5-1.2 5.6-.4 5.5-.5 5.5-.6 5.5-.6 5.6-4 5.5-22.6 5.5 21.6 5.5 8.7 5.5-1.8 5.6 1.9 5.5-2.2 5.5 1.2 5.6-1.5 5.5-4.7 5.5 5.1" fill="none" stroke="#808080" stroke-width="0.5" stroke-opacity="0.7" stroke-linejoin="round"/><path d="M33.6 598.3l5.5-1.4 5.6 1.1 5.5-.7 5.5 .4 5.5 1.7 5.6-8.5 5.5-7.7 5.5-2.4 5.5 13.4 5.5 2.7 5.6 1 5.5-1.4 5.5 2.3 5.6-2.4 5.5 1.7 5.5-2.1" fill="none" stroke="#808080" stroke-width="0.5" stroke-opacity="0.7" stroke-linejoin="round"/><path d="M33.6 597l5.5-.3 5.6 .5 5.5-1.8 5.5 3.1 5.5-1.4 5.6-1.5 5.5-10.3 5.5 3 5.5 9.3 5.5 1.2 5.6 .6 5.5-.9 5.5-1.5 5.6-1.4 5.5 .8 5.5-.1" fill="none" stroke="#808080" stroke-width="0.5" stroke-opacity="0.7" stroke-linejoin="round"/><path d="M33.6 597.6l5.5-.9 5.6-1.5 5.5 3.2 5.5 .5 5.5-3.9 5.6-3.6 5.5-5.7 5.5 7.2 5.5 6.7 5.5-5.4 5.6 1 5.5 2.4 5.5-.8 5.6 .9 5.5 1.5 5.5-1.1" fill="none" stroke="#808080" stroke-width="0.5" stroke-opacity="0.7" stroke-linejoin="round"/><path d="M33.6 597.3l5.5 .5 5.6-1.9 5.5 3.1 5.5-2.3 5.5-.8 5.6-2.1 5.5-.4 5.5 2.9 5.5 1.2 5.5-.4 5.6-1.5 5.5 3.8 5.5-1.5 5.6-1 5.5 1.2 5.5 3.4" fill="none" stroke="#808080" stroke-width="0.5" stroke-opacity="0.7" stroke-linejoin="round"/><path d="M33.6 596.4l5.5 2.9 5.6-.8 5.5-.9 5.5-3.4 5.5 1.6 5.6-1.8 5.5-4.2 5.5 5.1 5.5-.4 5.5 4.4 5.6-.3 5.5-1.8 5.5-1 5.6 1.1 5.5 .5 5.5 3.2" fill="none" stroke="#808080" stroke-width="0.5" stroke-opacity="0.7" stroke-linejoin="round"/><path d="M33.6 599l5.5-2 5.6 1.4 5.5-1.7 5.5 1.1 5.5 .6 5.6-1.5 5.5-3 5.5 .7 5.5 4 5.5-.4 5.6 1.7 5.5-4.4 5.5 .2 5.6 2.5 5.5 .4 5.5 1.2" fill="none" stroke="#808080" stroke-width="0.5" stroke-opacity="0.7" stroke-linejoin="round"/><path d="M33.6 595.9l5.5 3.2 5.6-1.5 5.5 .4 5.5 1 5.5 .2 5.6-.9 5.5 1.5 5.5-2.5 5.5 .6 5.5 2.3 5.6-1.6 5.5-2.7 5.5 3.4 5.6-.6 5.5 1.8 5.5-3.8" fill="none" stroke="#808080" stroke-width="0.5" stroke-opacity="0.7" stroke-linejoin="round"/><path d="M33.6 598.6l5.5 1.6 5.6-3.6 5.5 0 5.5 2.8 5.5-.5 5.6-.7 5.5-.3 5.5-.7 5.5-1.9 5.5 1.6 5.6-2.1 5.5 3.2 5.5 .1 5.6 1.3 5.5-1.3 5.5 1.8" fill="none" stroke="#808080" stroke-width="0.5" stroke-opacity="0.7" stroke-linejoin="round"/><path d="M33.6 597.9l5.5 .4 5.6 1 5.5-.4 5.5-1.3 5.5-2 5.6 4.4 5.5-2.8 5.5-.8 5.5 2.1 5.5-1.9 5.6 1.2 5.5 .5 5.5 .5 5.6-2.5 5.5-1.3 5.5 3.8" fill="none" stroke="#808080" stroke-width="0.5" stroke-opacity="0.7" stroke-linejoin="round"/><path d="M33.6 599.3l5.5-1.9 5.6-1 5.5 .4 5.5 4.2 5.5-4.2 5.6 .4 5.5-1.6 5.5 1.3 5.5-.2 5.5-.1 5.6-.2 5.5 4 5.5-1.6 5.6 2.7 5.5-3.4 5.5-1.1" fill="none" stroke="#808080" stroke-width="0.5" stroke-opacity="0.7" stroke-linejoin="round"/><path d="M33.6 599.7l5.5-2.9 5.6 2.4 5.5-1.4 5.5-2.2 5.5 5.9 5.6-3.4 5.5-1.3 5.5-2.2 5.5 2.7 5.5-1.7 5.6 1.7 5.5 1.8 5.5-.6 5.6-.7 5.5 .4 5.5-1.4" fill="none" stroke="#808080" stroke-width="0.5" stroke-opacity="0.7" stroke-linejoin="round"/><path d="M33.6 596.7l5.5 .9 5.6-.1 5.5 1.5 5.5 .1 5.5 .3 5.6 .2 5.5-2 5.5 4.7 5.5-4 5.5 .5 5.6 0 5.5-1 5.5-1.6 5.6 1.6 5.5 .3 5.5 .7" fill="none" stroke="#808080" stroke-width="0.5" stroke-opacity="0.7" stroke-linejoin="round"/><path d="M33.6 598.5l5.5 1.1 5.6 .2 5.5-.2 5.5 .4 5.5-3.7 5.6-.2 5.5-.8 5.5-.6 5.5 4.2 5.5-2.1 5.6-.1 5.5 3.5 5.5 0 5.6-.9 5.5-2.8 5.5-.5" fill="none" stroke="#a030a8" stroke-width="0.5" stroke-opacity="0.7" stroke-linejoin="round"/><path d="M33.6 599.7l5.5-1.2 5.6 .2 5.5-.3 5.5 2.2 5.5-1.2 5.6 .1 5.5-3.8 5.5-2.4 5.5 .2 5.5 4.9 5.6 2.1 5.5-2 5.5 .8 5.6-4.4 5.5 2.1 5.5 2" fill="none" stroke="#a030a8" stroke-width="0.5" stroke-opacity="0.7" stroke-linejoin="round"/><path d="M33.6 600.3l5.5-1.6 5.6-.4 5.5-.4 5.5-.2 5.5 .7 5.6 3.5 5.5 4 5.5-4.2 5.5-6.1 5.5 1.8 5.6-.2 5.5 3.1 5.5-2.2 5.6-1.4 5.5 3.1 5.5-3.5" fill="none" stroke="#a030a8" stroke-width="0.5" stroke-opacity="0.7" stroke-linejoin="round"/><path d="M33.6 598.5l5.5 .6 5.6-1 5.5 .1 5.5 1.8 5.5 .8 5.6-4.1 5.5-.8 5.5 1.8 5.5 2.3 5.5-4.1 5.6 1.2 5.5 1.4 5.5-2.9 5.6 5.5 5.5-1.3 5.5-1.6" fill="none" stroke="#a030a8" stroke-width="0.5" stroke-opacity="0.7" stroke-linejoin="round"/><path d="M33.6 598.2l5.5-.1 5.6-2 5.5 2.1 5.5 1.9 5.5-3.8 5.6 3.5 5.5-.5 5.5-.8 5.5-.1 5.5 1 5.6-1.1 5.5-3.7 5.5 4.2 5.6-.7 5.5-1.9 5.5 .6" fill="none" stroke="#a030a8" stroke-width="0.5" stroke-opacity="0.7" stroke-linejoin="round"/><path d="M33.6 596.8l5.5 1.5 5.6-1.3 5.5 3.4 5.5-.2 5.5-4.1 5.6-.6 5.5-.7 5.5 .9 5.5 1.5 5.5-1.6 5.6 2.9 5.5-1.9 5.5 1.8 5.6 0 5.5-.4 5.5 .7" fill="none" stroke="#a030a8" stroke-width="0.5" stroke-opacity="0.7" stroke-linejoin="round"/><path d="M33.6 599.5l5.5-1.3 5.6 .8 5.5-2.2 5.5 2 5.5-.7 5.6-1.2 5.5-2 5.5 3.9 5.5 .5 5.5-2.6 5.6 2.9 5.5-2.4 5.5 1.6 5.6-.7 5.5 2.5 5.5-3.8" fill="none" stroke="#a030a8" stroke-width="0.5" stroke-opacity="0.7" stroke-linejoin="round"/><path d="M33.6 598.7l5.5-3.9 5.6 3.1 5.5-.7 5.5-.1 5.5 1 5.6 1 5.5-3.5 5.5 .7 5.5 3.9 5.5-3.6 5.6 .2 5.5 0 5.5 1.2 5.6 .2 5.5-1 5.5-1.5" fill="none" stroke="#a030a8" stroke-width="0.5" stroke-opacity="0.7" stroke-linejoin="round"/>
<path d="M33.6 598.2l5.5-.5 5.6 .7 5.5-1.3 5.5 1.1 5.5-.6 5.6-.8 5.5 1.1 5.5-1.1 5.5 .4 5.5 .4 5.6-.2 5.5 .1 5.5 .5 5.6-1.3 5.5 1.2 5.5-1.2" fill="none" stroke="#8a1a8e" stroke-width="1.2"/><circle cx="33.6" cy="598.2" r="1.7" fill="#8a1a8e"/><circle cx="39.1" cy="597.7" r="1.7" fill="#8a1a8e"/><circle cx="44.7" cy="598.4" r="1.7" fill="#8a1a8e"/><circle cx="50.2" cy="597.1" r="1.7" fill="#8a1a8e"/><circle cx="55.7" cy="598.2" r="1.7" fill="#8a1a8e"/><circle cx="61.2" cy="597.6" r="1.7" fill="#8a1a8e"/><circle cx="66.8" cy="596.8" r="1.7" fill="#8a1a8e"/><circle cx="72.3" cy="597.9" r="1.7" fill="#8a1a8e"/><circle cx="77.8" cy="596.8" r="1.7" fill="#8a1a8e"/><circle cx="83.3" cy="597.2" r="1.7" fill="#8a1a8e"/><circle cx="88.8" cy="597.6" r="1.7" fill="#8a1a8e"/><circle cx="94.4" cy="597.4" r="1.7" fill="#8a1a8e"/><circle cx="99.9" cy="597.5" r="1.7" fill="#8a1a8e"/><circle cx="105.4" cy="598.0" r="1.7" fill="#8a1a8e"/><circle cx="111.0" cy="596.7" r="1.7" fill="#8a1a8e"/><circle cx="116.5" cy="597.9" r="1.7" fill="#8a1a8e"/><circle cx="122.0" cy="596.7" r="1.7" fill="#8a1a8e"/>
<path d="M33.6 597.3l5.5 1.4 5.6-.4 5.5-.4 5.5-.5 5.5 1 5.6-4 5.5-14 5.5 6.5 5.5 7.2 5.5 3.4 5.6 .9 5.5-.9 5.5 .5 5.6-.6 5.5 .5 5.5-.7" fill="none" stroke="#2c2c2c" stroke-width="1.6"/><line x1="72.3" y1="577.4" x2="72.3" y2="583.4" stroke="#2c2c2c" stroke-width="1"/><line x1="71.1" y1="577.4" x2="73.5" y2="577.4" stroke="#2c2c2c" stroke-width="0.8"/><line x1="77.8" y1="583.9" x2="77.8" y2="589.9" stroke="#2c2c2c" stroke-width="1"/><line x1="76.6" y1="583.9" x2="79.0" y2="583.9" stroke="#2c2c2c" stroke-width="0.8"/><circle cx="33.6" cy="597.3" r="2.0" fill="#2c2c2c"/><circle cx="39.1" cy="598.7" r="2.0" fill="#2c2c2c"/><circle cx="44.7" cy="598.3" r="2.0" fill="#2c2c2c"/><circle cx="50.2" cy="597.9" r="2.0" fill="#2c2c2c"/><circle cx="55.7" cy="597.4" r="2.0" fill="#2c2c2c"/><circle cx="61.2" cy="598.4" r="2.0" fill="#2c2c2c"/><circle cx="66.8" cy="594.4" r="2.0" fill="#2c2c2c"/><circle cx="72.3" cy="580.4" r="2.0" fill="#2c2c2c"/><circle cx="77.8" cy="586.9" r="2.0" fill="#2c2c2c"/><circle cx="83.3" cy="594.1" r="2.0" fill="#2c2c2c"/><circle cx="88.8" cy="597.5" r="2.0" fill="#2c2c2c"/><circle cx="94.4" cy="598.4" r="2.0" fill="#2c2c2c"/><circle cx="99.9" cy="597.5" r="2.0" fill="#2c2c2c"/><circle cx="105.4" cy="598.0" r="2.0" fill="#2c2c2c"/><circle cx="111.0" cy="597.4" r="2.0" fill="#2c2c2c"/><circle cx="116.5" cy="597.9" r="2.0" fill="#2c2c2c"/><circle cx="122.0" cy="597.2" r="2.0" fill="#2c2c2c"/>
<path d="M135.4 597.6l5.5 .3 5.5-2.2 5.5 1.4 5.5 .5 5.5-3.1 5.5 1.5 5.5-.9 5.5 2.1 5.5 .8 5.5-1.8 5.5-.3 5.5-.4 5.5-1.1 5.5 .2 5.5 1.6 5.5-1" fill="none" stroke="#808080" stroke-width="0.5" stroke-opacity="0.7" stroke-linejoin="round"/><path d="M135.4 596.2l5.5 .8 5.5 .4 5.5-3.3 5.5 1.9 5.5 1.9 5.5-1.9 5.5-5.4 5.5 5.6 5.5-.2 5.5 .2 5.5 .1 5.5-.1 5.5 1.6 5.5 0 5.5-.4 5.5 .3" fill="none" stroke="#808080" stroke-width="0.5" stroke-opacity="0.7" stroke-linejoin="round"/><path d="M135.4 598.5l5.5-2.2 5.5 2.3 5.5-.4 5.5-.7 5.5 0 5.5 2.7 5.5 4.7 5.5-7.9 5.5 .6 5.5 .5 5.5-2 5.5 1.9 5.5 1.3 5.5-2.9 5.5 .1 5.5 1.9" fill="none" stroke="#808080" stroke-width="0.5" stroke-opacity="0.7" stroke-linejoin="round"/><path d="M135.4 595.8l5.5-1.3 5.5 2.2 5.5 2.1 5.5-2.4 5.5 .5 5.5-.6 5.5 5.2 5.5-4 5.5-1.5 5.5 .1 5.5 .1 5.5-1.1 5.5 .9 5.5 .9 5.5 1.5 5.5-3" fill="none" stroke="#808080" stroke-width="0.5" stroke-opacity="0.7" stroke-linejoin="round"/><path d="M135.4 596.9l5.5-.9 5.5 4.9 5.5-4.3 5.5 4.3 5.5-4.1 5.5-2.4 5.5-1.9 5.5 4.7 5.5-.7 5.5 .7 5.5 3.3 5.5-4.5 5.5 1.2 5.5-.2 5.5 1.6 5.5-1.4" fill="none" stroke="#808080" stroke-width="0.5" stroke-opacity="0.7" stroke-linejoin="round"/><path d="M135.4 597l5.5-1.6 5.5 1.8 5.5-1.3 5.5 1.1 5.5-.4 5.5 4 5.5-1.6 5.5-.1 5.5 .3 5.5-1.7 5.5 .5 5.5 0 5.5-3.8 5.5 4 5.5-1.7 5.5-.4" fill="none" stroke="#808080" stroke-width="0.5" stroke-opacity="0.7" stroke-linejoin="round"/><path d="M135.4 599.5l5.5-2.1 5.5 .1 5.5 .7 5.5-.7 5.5-1.9 5.5 .6 5.5-.2 5.5-2.8 5.5 1.3 5.5 3.7 5.5-1.5 5.5 4.3 5.5-5.5 5.5 3.7 5.5-1.2 5.5-4.2" fill="none" stroke="#808080" stroke-width="0.5" stroke-opacity="0.7" stroke-linejoin="round"/><path d="M135.4 599l5.5-4 5.5 3.7 5.5-.3 5.5-.5 5.5 1 5.5-4.7 5.5 .7 5.5 1 5.5 2.1 5.5 2.3 5.5-4 5.5 4 5.5-4.7 5.5 2.6 5.5-1.4 5.5 1.8" fill="none" stroke="#808080" stroke-width="0.5" stroke-opacity="0.7" stroke-linejoin="round"/><path d="M135.4 595.1l5.5 3 5.5 1.1 5.5-1.5 5.5-1.8 5.5 0 5.5 2.1 5.5 1.6 5.5-2.1 5.5-1.8 5.5 2.5 5.5-3 5.5 1.6 5.5-.1 5.5 1.4 5.5-3 5.5 2" fill="none" stroke="#808080" stroke-width="0.5" stroke-opacity="0.7" stroke-linejoin="round"/><path d="M135.4 599.4l5.5-.6 5.5-1.7 5.5-.9 5.5-1 5.5 2.6 5.5-2.1 5.5-.3 5.5-2.2 5.5 2.6 5.5 1.3 5.5 .3 5.5-1.2 5.5 2 5.5-1.4 5.5-1.1 5.5 2.4" fill="none" stroke="#808080" stroke-width="0.5" stroke-opacity="0.7" stroke-linejoin="round"/><path d="M135.4 599.5l5.5-.5 5.5-1.8 5.5-1.7 5.5 0 5.5 3.9 5.5-3.6 5.5-2.6 5.5 3 5.5 2.5 5.5-.5 5.5 1 5.5-3.9 5.5 2.2 5.5 .3 5.5 .7 5.5-1.2" fill="none" stroke="#808080" stroke-width="0.5" stroke-opacity="0.7" stroke-linejoin="round"/><path d="M135.4 598.5l5.5-2 5.5-.1 5.5 1.9 5.5-.8 5.5-2.9 5.5 1.4 5.5 .8 5.5-3.5 5.5 5.1 5.5-.3 5.5-3.1 5.5 4.5 5.5-2 5.5-1 5.5 2.5 5.5 .4" fill="none" stroke="#808080" stroke-width="0.5" stroke-opacity="0.7" stroke-linejoin="round"/><path d="M135.4 598.1l5.5-.1 5.5 .4 5.5-2 5.5 1.9 5.5-2.1 5.5 .3 5.5 .1 5.5-.9 5.5 .3 5.5-.6 5.5 2.1 5.5-3 5.5 1.8 5.5-1 5.5 3.9 5.5-.5" fill="none" stroke="#808080" stroke-width="0.5" stroke-opacity="0.7" stroke-linejoin="round"/><path d="M135.4 595.3l5.5 1.4 5.5 1.4 5.5-1.1 5.5 .4 5.5-.1 5.5-.4 5.5-.3 5.5-.3 5.5 1.2 5.5 .9 5.5-1.6 5.5-.5 5.5 2 5.5-3.9 5.5 3.3 5.5-.1" fill="none" stroke="#808080" stroke-width="0.5" stroke-opacity="0.7" stroke-linejoin="round"/><path d="M135.4 598.9l5.5-2.3 5.5 2.2 5.5 .6 5.5-.1 5.5-2 5.5-3.3 5.5-12.2 5.5 5.4 5.5 7.5 5.5 4.9 5.5-2.2 5.5 .4 5.5-4 5.5 6.3 5.5-3.1 5.5 1.6" fill="none" stroke="#a030a8" stroke-width="0.5" stroke-opacity="0.7" stroke-linejoin="round"/><path d="M135.4 600.7l5.5-1.8 5.5-2.8 5.5 1 5.5 3 5.5-3.3 5.5-1.9 5.5-4.8 5.5 2 5.5 4.8 5.5 .2 5.5 .1 5.5-.7 5.5 1.5 5.5 1.1 5.5-5.6 5.5 4.5" fill="none" stroke="#a030a8" stroke-width="0.5" stroke-opacity="0.7" stroke-linejoin="round"/><path d="M135.4 596.1l5.5 .9 5.5-1.3 5.5 2.3 5.5-1.5 5.5-1.7 5.5 2 5.5-4.7 5.5 1.9 5.5 .7 5.5 .8 5.5 .6 5.5-3.1 5.5 5.5 5.5-1.6 5.5 3.8 5.5-2.7" fill="none" stroke="#a030a8" stroke-width="0.5" stroke-opacity="0.7" stroke-linejoin="round"/><path d="M135.4 596.2l5.5 1.1 5.5 .1 5.5-.4 5.5-1.5 5.5 2 5.5 1.8 5.5-4.4 5.5 1.4 5.5 2.4 5.5-3.5 5.5 .3 5.5 1.8 5.5-.8 5.5-1.3 5.5 3.4 5.5-1.1" fill="none" stroke="#a030a8" stroke-width="0.5" stroke-opacity="0.7" stroke-linejoin="round"/><path d="M135.4 595.9l5.5 0 5.5-1.1 5.5 3.1 5.5-.7 5.5-1.6 5.5-.1 5.5 .8 5.5 1.8 5.5-.2 5.5 1.2 5.5-1.3 5.5 .7 5.5-.6 5.5-.2 5.5-1.8 5.5 0" fill="none" stroke="#a030a8" stroke-width="0.5" stroke-opacity="0.7" stroke-linejoin="round"/><path d="M135.4 597.2l5.5 .8 5.5-1.4 5.5 1.2 5.5-1.9 5.5 3.4 5.5-5.2 5.5 2.6 5.5-1.2 5.5 2.5 5.5 .5 5.5 .9 5.5-2 5.5-2.2 5.5 1 5.5 .1 5.5 .2" fill="none" stroke="#a030a8" stroke-width="0.5" stroke-opacity="0.7" stroke-linejoin="round"/><path d="M135.4 596.4l5.5-.6 5.5 2 5.5-3.4 5.5 2.7 5.5-.9 5.5 1.7 5.5-1.1 5.5-.4 5.5 .9 5.5-1.7 5.5 2 5.5-1.8 5.5 2 5.5 .8 5.5-1.7 5.5 .8" fill="none" stroke="#a030a8" stroke-width="0.5" stroke-opacity="0.7" stroke-linejoin="round"/><path d="M135.4 599.6l5.5-.2 5.5-2.2 5.5 1.8 5.5-.2 5.5-.8 5.5-1.6 5.5-1.8 5.5 2.5 5.5-.2 5.5 1.7 5.5-4.6 5.5 3.9 5.5-2.4 5.5-.6 5.5 3.4 5.5-1.7" fill="none" stroke="#a030a8" stroke-width="0.5" stroke-opacity="0.7" stroke-linejoin="round"/>
<path d="M135.4 596l5.5 1.9 5.5-1.4 5.5 .5 5.5-.9 5.5 1.1 5.5-1 5.5 1.5 5.5-1.7 5.5 1.2 5.5 .4 5.5-.3 5.5-.6 5.5 1.2 5.5-.7 5.5 .8 5.5-.1" fill="none" stroke="#8a1a8e" stroke-width="1.2"/><circle cx="135.4" cy="596.0" r="1.7" fill="#8a1a8e"/><circle cx="140.9" cy="597.9" r="1.7" fill="#8a1a8e"/><circle cx="146.4" cy="596.5" r="1.7" fill="#8a1a8e"/><circle cx="151.9" cy="597.0" r="1.7" fill="#8a1a8e"/><circle cx="157.4" cy="596.1" r="1.7" fill="#8a1a8e"/><circle cx="162.9" cy="597.2" r="1.7" fill="#8a1a8e"/><circle cx="168.4" cy="596.2" r="1.7" fill="#8a1a8e"/><circle cx="173.9" cy="597.7" r="1.7" fill="#8a1a8e"/><circle cx="179.4" cy="596.0" r="1.7" fill="#8a1a8e"/><circle cx="184.9" cy="597.2" r="1.7" fill="#8a1a8e"/><circle cx="190.4" cy="597.6" r="1.7" fill="#8a1a8e"/><circle cx="195.9" cy="597.3" r="1.7" fill="#8a1a8e"/><circle cx="201.4" cy="596.7" r="1.7" fill="#8a1a8e"/><circle cx="206.9" cy="597.9" r="1.7" fill="#8a1a8e"/><circle cx="212.4" cy="597.2" r="1.7" fill="#8a1a8e"/><circle cx="217.9" cy="598.0" r="1.7" fill="#8a1a8e"/><circle cx="223.4" cy="597.9" r="1.7" fill="#8a1a8e"/>
<path d="M135.4 597.7l5.5-.1 5.5 0 5.5-.8 5.5 .5 5.5-.7 5.5 0 5.5 0 5.5-.1 5.5 .6 5.5-.2 5.5-.3 5.5 .5 5.5 .7 5.5-.6 5.5 0 5.5 .5" fill="none" stroke="#2c2c2c" stroke-width="1.6"/><circle cx="135.4" cy="597.7" r="2.0" fill="#2c2c2c"/><circle cx="140.9" cy="597.6" r="2.0" fill="#2c2c2c"/><circle cx="146.4" cy="597.6" r="2.0" fill="#2c2c2c"/><circle cx="151.9" cy="596.8" r="2.0" fill="#2c2c2c"/><circle cx="157.4" cy="597.3" r="2.0" fill="#2c2c2c"/><circle cx="162.9" cy="596.6" r="2.0" fill="#2c2c2c"/><circle cx="168.4" cy="596.6" r="2.0" fill="#2c2c2c"/><circle cx="173.9" cy="596.6" r="2.0" fill="#2c2c2c"/><circle cx="179.4" cy="596.5" r="2.0" fill="#2c2c2c"/><circle cx="184.9" cy="597.1" r="2.0" fill="#2c2c2c"/><circle cx="190.4" cy="596.9" r="2.0" fill="#2c2c2c"/><circle cx="195.9" cy="596.6" r="2.0" fill="#2c2c2c"/><circle cx="201.4" cy="597.1" r="2.0" fill="#2c2c2c"/><circle cx="206.9" cy="597.8" r="2.0" fill="#2c2c2c"/><circle cx="212.4" cy="597.2" r="2.0" fill="#2c2c2c"/><circle cx="217.9" cy="597.2" r="2.0" fill="#2c2c2c"/><circle cx="223.4" cy="597.7" r="2.0" fill="#2c2c2c"/>
<path d="M240.4 599.2l5.5 1.5 5.4-3.1 5.5-.6 5.4 .4 5.5-3.3 5.5-18.7 5.4-14.3 5.5 19.9 5.5 17.2 5.4 .2 5.5-1.9 5.5 .4 5.4 2.9 5.5-3 5.4 1.1 5.5-1.7" fill="none" stroke="#808080" stroke-width="0.5" stroke-opacity="0.7" stroke-linejoin="round"/><path d="M240.4 595.6l5.5 1.3 5.4 3.3 5.5-4.7 5.4 3.3 5.5-3.7 5.5-13.1 5.4-2.3 5.5 7.3 5.5 11.8 5.4-.2 5.5 .4 5.5-2.2 5.4 1.5 5.5-1 5.4-.4 5.5 3.5" fill="none" stroke="#808080" stroke-width="0.5" stroke-opacity="0.7" stroke-linejoin="round"/><path d="M240.4 600.3l5.5-1.5 5.4-2.3 5.5-.2 5.4 2.6 5.5-1.2 5.5-5.1 5.4-9 5.5 3 5.5 6.1 5.4 6.5 5.5-.3 5.5-2.1 5.4-.1 5.5 1.2 5.4-1 5.5 .6" fill="none" stroke="#808080" stroke-width="0.5" stroke-opacity="0.7" stroke-linejoin="round"/><path d="M240.4 596.7l5.5-.1 5.4 1.8 5.5 .3 5.4 2.7 5.5-6.2 5.5-5.4 5.4-2.8 5.5 9.7 5.5 1.9 5.4 .1 5.5 1.9 5.5-4.2 5.4-.4 5.5 3.8 5.4-2.7 5.5-1.9" fill="none" stroke="#808080" stroke-width="0.5" stroke-opacity="0.7" stroke-linejoin="round"/><path d="M240.4 595.4l5.5-.4 5.4 4.9 5.5-.4 5.4-2 5.5-2.1 5.5-.1 5.4-4 5.5 4.4 5.5 .4 5.4 2.6 5.5-1.8 5.5-.1 5.4-.8 5.5 1.2 5.4 .1 5.5-1.3" fill="none" stroke="#808080" stroke-width="0.5" stroke-opacity="0.7" stroke-linejoin="round"/><path d="M240.4 597.1l5.5-.7 5.4 1.2 5.5 .8 5.4-1 5.5-4.7 5.5 2.6 5.4-4 5.5 2.8 5.5 4.1 5.4-2.2 5.5 .5 5.5 .7 5.4 2.7 5.5-4 5.4 .7 5.5 1.4" fill="none" stroke="#808080" stroke-width="0.5" stroke-opacity="0.7" stroke-linejoin="round"/><path d="M240.4 599.7l5.5-1.5 5.4 .4 5.5 .5 5.4-2.8 5.5 .7 5.5-3.4 5.4 1.7 5.5 .5 5.5-.7 5.4 2.2 5.5 1.6 5.5 .3 5.4-.5 5.5-.7 5.4-1.2 5.5 .8" fill="none" stroke="#808080" stroke-width="0.5" stroke-opacity="0.7" stroke-linejoin="round"/><path d="M240.4 596.7l5.5-.9 5.4 .9 5.5 1.4 5.4 0 5.5-.3 5.5-.7 5.4 .4 5.5-.3 5.5 1.4 5.4-1.7 5.5 1.8 5.5-1 5.4-.2 5.5 1.1 5.4-1.1 5.5 1.4" fill="none" stroke="#808080" stroke-width="0.5" stroke-opacity="0.7" stroke-linejoin="round"/><path d="M240.4 597l5.5 0 5.4 3.9 5.5-4 5.4 .7 5.5 .4 5.5 .7 5.4-.7 5.5-.5 5.5 1.7 5.4-2.7 5.5 2.7 5.5-1.3 5.4 0 5.5 .1 5.4-3 5.5 2" fill="none" stroke="#808080" stroke-width="0.5" stroke-opacity="0.7" stroke-linejoin="round"/><path d="M240.4 596.6l5.5 .9 5.4-1.8 5.5 4.1 5.4 1.2 5.5 .3 5.5-3.2 5.4 1.2 5.5-2.3 5.5 3.1 5.4-.1 5.5-2.6 5.5 1 5.4-1.6 5.5-.2 5.4 .7 5.5 2.4" fill="none" stroke="#808080" stroke-width="0.5" stroke-opacity="0.7" stroke-linejoin="round"/><path d="M240.4 597.6l5.5 .1 5.4-2.1 5.5 1.9 5.4-1.4 5.5 .4 5.5-2.5 5.4 8.3 5.5-5 5.5 2.2 5.4 .5 5.5 0 5.5-1.7 5.4 .9 5.5-1.3 5.4 .8 5.5 1.1" fill="none" stroke="#808080" stroke-width="0.5" stroke-opacity="0.7" stroke-linejoin="round"/><path d="M240.4 593.3l5.5 4.8 5.4-.1 5.5-1.1 5.4 .9 5.5 1.8 5.5-5.3 5.4 2.6 5.5-2.3 5.5 2.5 5.4 2.1 5.5-3.7 5.5 2.6 5.4 1.1 5.5-1.3 5.4 3.2 5.5-3.9" fill="none" stroke="#808080" stroke-width="0.5" stroke-opacity="0.7" stroke-linejoin="round"/><path d="M240.4 599l5.5-1.1 5.4 .5 5.5-.2 5.4-.6 5.5 1.2 5.5-3.2 5.4-.1 5.5 3.2 5.5-3.6 5.4 4.7 5.5-1.8 5.5-.5 5.4 1.4 5.5-.8 5.4 2.1 5.5 1.2" fill="none" stroke="#808080" stroke-width="0.5" stroke-opacity="0.7" stroke-linejoin="round"/><path d="M240.4 596.4l5.5 1.1 5.4 1.2 5.5-2.4 5.4 1.1 5.5-.4 5.5 1.6 5.4 2.5 5.5-2.6 5.5-.6 5.4-1.7 5.5 .2 5.5 1.5 5.4 0 5.5 1.5 5.4-1.5 5.5-.4" fill="none" stroke="#808080" stroke-width="0.5" stroke-opacity="0.7" stroke-linejoin="round"/><path d="M240.4 595.9l5.5 3.4 5.4-4 5.5 .7 5.4-.5 5.5 3.6 5.5-9.7 5.4-10.8 5.5 7.1 5.5 14.5 5.4-1.2 5.5-.4 5.5-2.2 5.4-.2 5.5 2.2 5.4-.1 5.5 1" fill="none" stroke="#a030a8" stroke-width="0.5" stroke-opacity="0.7" stroke-linejoin="round"/><path d="M240.4 599.6l5.5-2.6 5.4 2 5.5-1.7 5.4 2.3 5.5-1.3 5.5-10 5.4-11.5 5.5 10.9 5.5 7.4 5.4 3.3 5.5 1.2 5.5 1.3 5.4-2.3 5.5 .7 5.4-2.8 5.5 .7" fill="none" stroke="#a030a8" stroke-width="0.5" stroke-opacity="0.7" stroke-linejoin="round"/><path d="M240.4 597.1l5.5 5.2 5.4-2.8 5.5-2 5.4 2.8 5.5-3.1 5.5-9.2 5.4-6.1 5.5 7 5.5 7 5.4 3.3 5.5-4.9 5.5 2.8 5.4-2.5 5.5 3.7 5.4-1.3 5.5 .4" fill="none" stroke="#a030a8" stroke-width="0.5" stroke-opacity="0.7" stroke-linejoin="round"/><path d="M240.4 598.1l5.5-1.5 5.4 .8 5.5 .4 5.4-.7 5.5-1.4 5.5-4.7 5.4-5 5.5 11 5.5 3.9 5.4-1.7 5.5 .1 5.5 .7 5.4-1.2 5.5 1.8 5.4-3.1 5.5 1.2" fill="none" stroke="#a030a8" stroke-width="0.5" stroke-opacity="0.7" stroke-linejoin="round"/><path d="M240.4 599.8l5.5-1.6 5.4-.4 5.5 1.1 5.4-.5 5.5-.4 5.5-5.7 5.4-3.1 5.5 6.1 5.5 .8 5.4 5 5.5-2 5.5-.7 5.4-2.7 5.5 .5 5.4 .6 5.5-.4" fill="none" stroke="#a030a8" stroke-width="0.5" stroke-opacity="0.7" stroke-linejoin="round"/><path d="M240.4 595.5l5.5 2.3 5.4-1.1 5.5 0 5.4 .3 5.5-1.5 5.5-1.3 5.4 1.7 5.5 1.1 5.5 1.3 5.4 .8 5.5-.4 5.5-1.9 5.4-1.9 5.5 3.1 5.4-.6 5.5 .2" fill="none" stroke="#a030a8" stroke-width="0.5" stroke-opacity="0.7" stroke-linejoin="round"/><path d="M240.4 598.7l5.5-1.1 5.4-1.4 5.5 1.8 5.4 0 5.5-.9 5.5-.1 5.4-1.2 5.5 2.2 5.5-2 5.4 2 5.5 .7 5.5-.6 5.4 1.8 5.5 .6 5.4 .1 5.5-3.2" fill="none" stroke="#a030a8" stroke-width="0.5" stroke-opacity="0.7" stroke-linejoin="round"/><path d="M240.4 599.9l5.5-2.8 5.4 2.8 5.5-1.7 5.4-.4 5.5-.1 5.5 .4 5.4-1.6 5.5-.3 5.5 3.2 5.4-.9 5.5-1.5 5.5 2.7 5.4 .7 5.5-1.5 5.4 .8 5.5-2.4" fill="none" stroke="#a030a8" stroke-width="0.5" stroke-opacity="0.7" stroke-linejoin="round"/>
<path d="M240.4 597.6l5.5-.6 5.4 .9 5.5-.5 5.4-.5 5.5 .9 5.5-.5 5.4 0 5.5-.2 5.5 1.6 5.4-.2 5.5-1.7 5.5 .5 5.4 1 5.5-1 5.4 1.2 5.5-.4" fill="none" stroke="#8a1a8e" stroke-width="1.2"/><circle cx="240.4" cy="597.6" r="1.7" fill="#8a1a8e"/><circle cx="245.9" cy="597.0" r="1.7" fill="#8a1a8e"/><circle cx="251.3" cy="597.9" r="1.7" fill="#8a1a8e"/><circle cx="256.8" cy="597.4" r="1.7" fill="#8a1a8e"/><circle cx="262.2" cy="596.9" r="1.7" fill="#8a1a8e"/><circle cx="267.7" cy="597.8" r="1.7" fill="#8a1a8e"/><circle cx="273.2" cy="597.3" r="1.7" fill="#8a1a8e"/><circle cx="278.6" cy="597.3" r="1.7" fill="#8a1a8e"/><circle cx="284.1" cy="597.1" r="1.7" fill="#8a1a8e"/><circle cx="289.6" cy="598.7" r="1.7" fill="#8a1a8e"/><circle cx="295.0" cy="598.5" r="1.7" fill="#8a1a8e"/><circle cx="300.5" cy="596.8" r="1.7" fill="#8a1a8e"/><circle cx="306.0" cy="597.3" r="1.7" fill="#8a1a8e"/><circle cx="311.4" cy="598.3" r="1.7" fill="#8a1a8e"/><circle cx="316.9" cy="597.3" r="1.7" fill="#8a1a8e"/><circle cx="322.3" cy="598.5" r="1.7" fill="#8a1a8e"/><circle cx="327.8" cy="598.1" r="1.7" fill="#8a1a8e"/>
<path d="M240.4 598.1l5.5 .3 5.4 .2 5.5-.6 5.4-.2 5.5 .5 5.5-3.3 5.4-14.5 5.5 8.5 5.5 6 5.4 3.7 5.5-1 5.5 .4 5.4 0 5.5 .3 5.4-.8 5.5 0" fill="none" stroke="#2c2c2c" stroke-width="1.6"/><line x1="278.6" y1="577.5" x2="278.6" y2="583.5" stroke="#2c2c2c" stroke-width="1"/><line x1="277.4" y1="577.5" x2="279.8" y2="577.5" stroke="#2c2c2c" stroke-width="0.8"/><line x1="284.1" y1="586.0" x2="284.1" y2="592.0" stroke="#2c2c2c" stroke-width="1"/><line x1="282.9" y1="586.0" x2="285.3" y2="586.0" stroke="#2c2c2c" stroke-width="0.8"/><circle cx="240.4" cy="598.1" r="2.0" fill="#2c2c2c"/><circle cx="245.9" cy="598.4" r="2.0" fill="#2c2c2c"/><circle cx="251.3" cy="598.6" r="2.0" fill="#2c2c2c"/><circle cx="256.8" cy="598.0" r="2.0" fill="#2c2c2c"/><circle cx="262.2" cy="597.8" r="2.0" fill="#2c2c2c"/><circle cx="267.7" cy="598.3" r="2.0" fill="#2c2c2c"/><circle cx="273.2" cy="595.0" r="2.0" fill="#2c2c2c"/><circle cx="278.6" cy="580.5" r="2.0" fill="#2c2c2c"/><circle cx="284.1" cy="589.0" r="2.0" fill="#2c2c2c"/><circle cx="289.6" cy="595.0" r="2.0" fill="#2c2c2c"/><circle cx="295.0" cy="598.7" r="2.0" fill="#2c2c2c"/><circle cx="300.5" cy="597.7" r="2.0" fill="#2c2c2c"/><circle cx="306.0" cy="598.1" r="2.0" fill="#2c2c2c"/><circle cx="311.4" cy="598.1" r="2.0" fill="#2c2c2c"/><circle cx="316.9" cy="598.4" r="2.0" fill="#2c2c2c"/><circle cx="322.3" cy="597.6" r="2.0" fill="#2c2c2c"/><circle cx="327.8" cy="597.6" r="2.0" fill="#2c2c2c"/>
<path d="M34.2 673.4l2-2.9 2 4.4 2-1.4 2.1-.1 2 .8 2 0 2-.5 2 2.4 2 2.3 2 .3 2.1-4.2 2 .4 2 .9 2 3.9 2-3.7 2-1.8 2-9 2-26.4 2.1-13.2 2 14.3 2 10.2 2 7.6 2 6.2 2 3.3 2 .7 2.1 4.5 2 .3 2-2.3 2 5.8 2-.4 2-4.1 2 2.7 2 .5 2.1 1.9 2 1.1 2-4.5 2 6.7 2-5.3 2 1.8 2-.8 2.1 3.5 2-5.2 2 .5 2 .6" fill="none" stroke="#505050" stroke-width="0.5" stroke-opacity="0.6" stroke-linejoin="round"/><path d="M34.2 675l2-.1 2 .9 2 5.4 2.1-5.3 2-.4 2 2.2 2-2.1 2-2.2 2 2.5 2-2.5 2.1 3.2 2 .4 2-1.8 2 2.1 2 1.3 2-4.2 2-6.8 2-25.5 2.1-6.3 2 11.7 2 7.1 2 7.8 2 3.8 2 2.2 2 3.8 2.1-.3 2 4 2-2.7 2-3.3 2 3.9 2 2 2 2.3 2-.6 2.1-1.5 2 .9 2-2.2 2 .7 2-1.1 2 1.8 2-1.8 2.1-1 2 4 2-1.4 2 0" fill="none" stroke="#505050" stroke-width="0.5" stroke-opacity="0.6" stroke-linejoin="round"/><path d="M34.2 676.3l2 1 2 .7 2 .3 2.1-2.4 2-1.8 2 1.5 2 1.5 2-1.1 2 1.3 2-3.4 2.1 1.6 2-2.4 2 1.4 2 .1 2 2.7 2-2.9 2-4.5 2-20 2.1-3.8 2 6.9 2 8.3 2 1.7 2 5.3 2 5.5 2-.1 2.1-3.3 2 2.9 2 1.3 2 1.2 2-.9 2-.3 2 1.6 2-.6 2.1-.5 2 2.3 2-1.4 2 .8 2-.1 2 .4 2-.4 2.1 .3 2-4.4 2 3.3 2-.9" fill="none" stroke="#505050" stroke-width="0.5" stroke-opacity="0.6" stroke-linejoin="round"/><path d="M34.2 677l2-4.1 2-.3 2 3.7 2.1-3.8 2 3 2-2 2 2.2 2-1.4 2 1.4 2 2.2 2.1-3.3 2 1.5 2-.3 2-.7 2-.4 2-3.4 2 3.6 2-20.6 2.1 1.8 2 4.8 2 7.7 2 3.5 2 0 2 1.7 2-.1 2.1 3.8 2-2.3 2-.9 2 2.1 2-3 2 2.3 2 1.2 2-.7 2.1-1.5 2-.9 2 2.6 2-1.8 2 1.5 2 1 2 .1 2.1-2.9 2 2 2-1 2-2.5" fill="none" stroke="#505050" stroke-width="0.5" stroke-opacity="0.6" stroke-linejoin="round"/><path d="M34.2 676l2-.9 2 4 2-4.6 2.1 2.3 2-2.5 2 2.5 2-.6 2-2 2 .3 2-2 2.1 3.9 2 .2 2-3.6 2 1.7 2 2.8 2-1.1 2-1.5 2 .4 2.1-7.1 2-16.3 2 5.8 2 4.2 2 4.1 2 3 2 4.5 2.1 1.8 2 .4 2-2.1 2-.2 2 4.9 2-4 2-.4 2-1 2.1 1.3 2-.3 2 1.3 2 .9 2-.3 2-.1 2 1.8 2.1-1.7 2-1.9 2 2.3 2-2.7" fill="none" stroke="#505050" stroke-width="0.5" stroke-opacity="0.6" stroke-linejoin="round"/><path d="M34.2 677.1l2-3.3 2 .6 2-.4 2.1 .2 2 .6 2-1.1 2 1.6 2 4.5 2-4.4 2-.6 2.1 4.7 2-5.9 2 2.2 2-1.9 2 2.2 2-.8 2 1.7 2-2 2.1-7.8 2-13.1 2 8.6 2 5.3 2 3.3 2 2.4 2-.3 2.1 1 2 .8 2-2.5 2 4.4 2-1 2 1.6 2-1.7 2-.1 2.1 2.8 2-3.6 2 4 2-2.5 2-.5 2 1.8 2-4.5 2.1 2 2 2.5 2-2.9 2 0" fill="none" stroke="#505050" stroke-width="0.5" stroke-opacity="0.6" stroke-linejoin="round"/><path d="M34.2 674.1l2-2.3 2 3.5 2-3.2 2.1 6.5 2-.1 2-3 2 1.3 2-1.5 2-2.8 2 4.9 2.1-2.5 2 .8 2 2.2 2-1.8 2 1.5 2-1.5 2-3.1 2-2.8 2.1-13 2 2.1 2 6.7 2-.8 2 5.9 2 .8 2 0 2.1 2.7 2-.6 2 1.2 2-.5 2-.8 2 3.9 2-2.4 2 1.1 2.1-.5 2-1 2-1.9 2 6.1 2-6.4 2 3.9 2 .4 2.1-.2 2-1.5 2 0 2 3.3" fill="none" stroke="#505050" stroke-width="0.5" stroke-opacity="0.6" stroke-linejoin="round"/><path d="M34.2 678.5l2 .5 2-2.9 2 .1 2.1-3 2 3.9 2-.4 2-.3 2-1.3 2-.2 2-.3 2.1-1.9 2 3.2 2-2.9 2 2.6 2-1.2 2-.3 2-1.5 2 4.3 2.1-10.9 2-4.4 2 1.4 2 4.5 2 2.7 2-.5 2 6.5 2.1-.1 2-3 2-1 2 5.1 2-.8 2-2 2 .1 2 3.8 2.1-2.4 2 .7 2 1.2 2-1.7 2 1 2 .9 2-6.1 2.1 4.8 2 .8 2-4.9 2 3.8" fill="none" stroke="#505050" stroke-width="0.5" stroke-opacity="0.6" stroke-linejoin="round"/><path d="M34.2 678.4l2-5.1 2 3.9 2-.7 2.1-.4 2-.7 2-3 2 6.1 2 0 2-5.5 2 1.5 2.1-.1 2-1 2 2.4 2-1.4 2-.6 2-.7 2 1.2 2-1.9 2.1-8.3 2-1.5 2 3.8 2 0 2 5.7 2-1.3 2 2.7 2.1-.3 2-1.7 2 1.2 2 3.1 2-.8 2-1.5 2 1.7 2-1.6 2.1-.4 2 3 2-1.6 2-2.4 2 2.3 2 2.3 2-3.5 2.1 2.4 2 .4 2-1.2 2-.6" fill="none" stroke="#505050" stroke-width="0.5" stroke-opacity="0.6" stroke-linejoin="round"/><path d="M34.2 676.6l2-2.4 2 1.5 2 1.2 2.1-1.4 2-.5 2 .3 2-1.2 2 1 2 2.9 2-3.3 2.1-.6 2 4.4 2-4.1 2-.3 2 .8 2-.3 2 .3 2-10.6 2.1 1.4 2 5.7 2-.4 2 .6 2 2.9 2-3.1 2 3 2.1 .4 2-.5 2 .7 2 .5 2 .8 2 2 2-.5 2-2.4 2.1-2.3 2 3.3 2 3.3 2-5.3 2 3.1 2-.4 2-2.1 2.1 .3 2 0 2 1.2 2 .2" fill="none" stroke="#505050" stroke-width="0.5" stroke-opacity="0.6" stroke-linejoin="round"/><path d="M34.2 674.3l2-.4 2 .3 2 2 2.1-1.4 2 .7 2 1.5 2-4.4 2 1 2 2.8 2-.1 2.1-1 2 .2 2 .5 2-.1 2-2.8 2 2.8 2-1.9 2-9.7 2.1 3.8 2 2.9 2 2.3 2 0 2 1.2 2 .4 2 .3 2.1-.4 2 2.7 2-.6 2-.7 2-.7 2 .6 2-.6 2 0 2.1 .6 2 0 2-3.5 2 3 2 .7 2-2 2 .7 2.1 2 2-3.9 2 6.7 2-5" fill="none" stroke="#505050" stroke-width="0.5" stroke-opacity="0.6" stroke-linejoin="round"/><path d="M34.2 675l2 4.5 2-1.3 2-3.2 2.1 3.2 2-4.7 2-.7 2 5.4 2-3.6 2-.4 2-2.6 2.1 5.1 2-1.9 2-.6 2 3.3 2-.4 2-2.6 2-1.5 2-3.7 2.1 3.1 2 .5 2 2 2-1.3 2 1.5 2-2.7 2 3.5 2.1 .4 2-1.5 2-.6 2 3 2-.5 2 .5 2 .5 2-1.8 2.1-.8 2 1.7 2 .6 2 0 2-4.6 2 2.4 2-.1 2.1 1.7 2 0 2-.7 2 .2" fill="none" stroke="#505050" stroke-width="0.5" stroke-opacity="0.6" stroke-linejoin="round"/><path d="M34.2 676.5l2-1.2 2-.8 2 .5 2.1 1.6 2-4.1 2 .8 2 1.3 2-.8 2 2.4 2-1.6 2.1-.8 2 .4 2 2.2 2-.5 2 .9 2-1 2-2 2 1.9 2.1-3.6 2-1 2 1.2 2 1.4 2-1.7 2 3.5 2 1.3 2.1-1.2 2 1.6 2-4 2-1 2 3.5 2-.2 2-.4 2-.5 2.1 1.4 2 1 2-2.4 2-1.1 2 3.5 2 .7 2-1.6 2.1-3.9 2 4.6 2 .3 2-2.4" fill="none" stroke="#505050" stroke-width="0.5" stroke-opacity="0.6" stroke-linejoin="round"/><path d="M34.2 676.3l2 1.2 2-.8 2-3.2 2.1 .7 2 0 2 1.7 2-.6 2 1.1 2-2.4 2 .3 2.1-.5 2 2.7 2-.9 2-.8 2-1.3 2 3.4 2-3.3 2-1.5 2.1-.9 2 2.4 2-1.1 2 .6 2 3.2 2-3.5 2 3.7 2.1-1.7 2-1.7 2 4.6 2 .5 2-3.5 2-.3 2 .6 2-.7 2.1 2.7 2-2.2 2 .2 2-.5 2 2.2 2-5.4 2 4.6 2.1 2.5 2-1.1 2 .1 2-3.9" fill="none" stroke="#505050" stroke-width="0.5" stroke-opacity="0.6" stroke-linejoin="round"/><path d="M34.2 674.4l2 1.2 2-2 2 3 2.1-3.8 2 2 2-1.9 2 5.6 2-2 2-1.1 2 0 2.1 2.4 2-3.9 2 1.2 2 2.7 2-.3 2-.6 2 2.2 2 2.1 2.1-1.5 2-2.4 2-.8 2 3.2 2-5.4 2 5 2-3.2 2.1 .9 2 1.1 2-4 2 4.3 2-2 2 1.1 2-2.5 2 1.7 2.1-.9 2-.9 2 .5 2-.4 2 .1 2-.7 2 2.6 2.1 3.2 2-2.9 2 .3 2-1" fill="none" stroke="#505050" stroke-width="0.5" stroke-opacity="0.6" stroke-linejoin="round"/><path d="M34.2 675.9l2 2.8 2-3.8 2-.1 2.1 1.2 2-1.8 2 1.3 2 1.9 2-.8 2-.6 2-1.5 2.1 1.9 2-.9 2 3.6 2-3.6 2-1.8 2 3.9 2-2.4 2 .6 2.1 5.3 2 .9 2-2.1 2-1 2-.7 2 .3 2-.9 2.1 .5 2-1.8 2-2.6 2 3.3 2-1.2 2 .3 2-2.2 2 1.7 2.1-1.7 2 4.4 2-5.4 2 1.2 2-.7 2 2.1 2-.2 2.1-1 2 3.7 2 .5 2-4.8" fill="none" stroke="#505050" stroke-width="0.5" stroke-opacity="0.6" stroke-linejoin="round"/><path d="M34.2 674.4l2 5 2-2.3 2-3.6 2.1 0 2 3.4 2 .8 2-5.1 2 2.9 2 .7 2 3.7 2.1-4.6 2-.4 2 3.2 2-5.2 2 1.4 2 1.5 2-1.2 2 1.2 2.1 1.6 2-4.8 2 3.1 2-.5 2 .2 2 0 2-.3 2.1 .8 2-1.7 2-1.1 2 2.3 2-.3 2 2 2 .7 2-2.2 2.1-2.6 2 2.9 2-.9 2-1.2 2 3 2-4.4 2 2.1 2.1 2.5 2-4 2 3.6 2-1.6" fill="none" stroke="#505050" stroke-width="0.5" stroke-opacity="0.6" stroke-linejoin="round"/><path d="M34.2 677.1l2 1.2 2-5 2 3.7 2.1-1.6 2 .5 2-1.7 2 .2 2 2.6 2 .7 2-5.6 2.1 3.5 2 .6 2 3.3 2-3.7 2 0 2-.4 2 1.4 2-2.9 2.1-.8 2 3.1 2-.3 2-2 2-1.7 2 .6 2 1.7 2.1 1 2-.2 2 0 2 2.1 2-3.8 2 2.9 2-1.7 2 3 2.1-2.7 2 2.3 2-.9 2 .7 2-2.4 2 1.7 2 .3 2.1-3.4 2 2.5 2-1.5 2 3.2" fill="none" stroke="#505050" stroke-width="0.5" stroke-opacity="0.6" stroke-linejoin="round"/><path d="M34.2 679.2l2-2.3 2-.2 2-1.4 2.1 4.2 2-.9 2-3.5 2 .6 2 .7 2 0 2-1 2.1 .5 2 .1 2 1 2 .6 2-.5 2 0 2-2.8 2-4.3 2.1 3.6 2 .4 2 .5 2 1.4 2 .2 2 .5 2-.8 2.1-1.6 2 .3 2 2.2 2 .3 2-4.5 2 3.9 2 .6 2 .8 2.1-3.4 2 2.4 2-2.2 2 1.6 2-3.5 2 4.2 2-1.3 2.1 0 2 1.3 2-.2 2-.5" fill="none" stroke="#505050" stroke-width="0.5" stroke-opacity="0.6" stroke-linejoin="round"/><path d="M34.2 675.5l2 2.4 2-1 2 2.3 2.1-5 2 1.3 2-1.7 2 3.9 2-4.4 2 3 2-1.1 2.1 .8 2 2.1 2-1.5 2-4.4 2 2.2 2 1.3 2-2.4 2 4.1 2.1-1.2 2-.9 2-2.6 2 1.8 2-2.1 2 .2 2 2.5 2.1-.5 2-.5 2 1.1 2 3.2 2-3.3 2 .3 2-.3 2 2 2.1-4.8 2 3.8 2-1.9 2-1.4 2 3.7 2 1.6 2-3.5 2.1 2.8 2-3.1 2 1.7 2 1" fill="none" stroke="#505050" stroke-width="0.5" stroke-opacity="0.6" stroke-linejoin="round"/><path d="M34.2 675.2l2 1 2 1.4 2-1.7 2.1-.3 2-1.6 2 4.7 2-1 2-2.8 2 .2 2-1.3 2.1 2.3 2 2.4 2-4 2-.3 2 1.9 2-2.5 2 2.4 2 2.3 2.1-2.6 2 3.4 2-2.1 2-3.2 2 .7 2 1.3 2-1.2 2.1 2.9 2-.3 2-.5 2-.6 2 .3 2-2.8 2 2.7 2-.9 2.1 .7 2-2.2 2 5.8 2-2 2 .8 2-1 2-2.4 2.1 1.2 2-3.9 2 2.7 2 2.6" fill="none" stroke="#505050" stroke-width="0.5" stroke-opacity="0.6" stroke-linejoin="round"/><path d="M34.2 674.6l2 1.2 2 1.4 2-1.3 2.1 1 2-2.6 2 3.2 2-3.6 2 .6 2 1.6 2-1.4 2.1 .2 2 1.2 2 1 2-.8 2 1 2-1.1 2-.3 2-5.6 2.1 1.9 2-.2 2 3.7 2 0 2-2.8 2 1.1 2 4.4 2.1-.9 2-2.5 2 1.3 2-2.1 2 1.7 2 1.2 2-1.4 2 2.1 2.1-.7 2-1.2 2-1.4 2 2.7 2-.3 2-.5 2-.4 2.1-3.4 2 4.4 2-2.2 2 0" fill="none" stroke="#505050" stroke-width="0.5" stroke-opacity="0.6" stroke-linejoin="round"/><path d="M34.2 674.9l2-1.2 2 .2 2 2.6 2.1-2.7 2-.6 2 1 2-.2 2 3.2 2-2.3 2 .2 2.1 0 2 2 2 .6 2-.6 2-1.8 2 .4 2 1.9 2-2.1 2.1 2.7 2-2.9 2 .4 2 .2 2-.3 2 1.7 2 1.3 2.1-3.9 2 2.8 2 1.3 2-1.5 2 .5 2-5.1 2 2.6 2 .1 2.1 .6 2 2.6 2-3.7 2-.4 2-.9 2 5.2 2-4.8 2.1 2.7 2 2 2-.9 2-3.1" fill="none" stroke="#505050" stroke-width="0.5" stroke-opacity="0.6" stroke-linejoin="round"/><path d="M34.2 676l2-.3 2-1.7 2 1.7 2.1 2.9 2-2.4 2-.7 2-.6 2 0 2 1.3 2-1.9 2.1 2.9 2-2.2 2 1.4 2-2.4 2 .3 2 1.3 2-.3 2 3.2 2.1-6.2 2-.6 2 2 2 .9 2 1.8 2-2.5 2 1.1 2.1-.9 2-.5 2 1.6 2 1.5 2-.8 2 1.2 2-.7 2-2.6 2.1 .8 2-.6 2 3.3 2-3.7 2 3.2 2-3.5 2-.4 2.1 2.8 2-1.2 2 .6 2-1.4" fill="none" stroke="#505050" stroke-width="0.5" stroke-opacity="0.6" stroke-linejoin="round"/><path d="M34.2 674.7l2-.1 2 .9 2-.2 2.1 2.3 2-2.8 2 3.8 2-1.1 2-2.9 2-1.1 2 3.6 2.1-1.9 2 0 2 .1 2-.6 2 .6 2-1.1 2 3.1 2-3.5 2.1-.6 2 2.4 2 2 2-.7 2-4.4 2 4.6 2-.8 2.1-3.3 2 3.4 2-.6 2 1.8 2-3.5 2 1.7 2 0 2-.7 2.1-.3 2 3.8 2-.1 2-5.2 2 2.7 2-.4 2-.4 2.1 .9 2-2.3 2 2.5 2 1.1" fill="none" stroke="#505050" stroke-width="0.5" stroke-opacity="0.6" stroke-linejoin="round"/><path d="M34.2 676.4l2-.2 2 .6 2-.9 2.1-3.6 2 4 2-.8 2 3.8 2-5 2-2.1 2 3 2.1 .6 2-1.9 2 3.5 2-.8 2 1.1 2-1.7 2-.6 2-.7 2.1-.3 2 .1 2-.7 2 2 2 0 2-2.9 2 5.6 2.1-1.6 2-.2 2-3.1 2 .2 2 1.3 2 2.6 2-3.3 2-.3 2.1 4 2-3.8 2 1 2 .7 2 1 2-1.4 2-3.3 2.1 2.2 2 2.8 2 1.4 2-2.8" fill="none" stroke="#505050" stroke-width="0.5" stroke-opacity="0.6" stroke-linejoin="round"/><path d="M34.2 674.7l2-1.9 2 5 2-.8 2.1-1.1 2 .8 2-.8 2-.1 2-.4 2-1.8 2 .1 2.1 4.1 2-2.4 2 .9 2 1.5 2-2.4 2 3 2-4.9 2 3.7 2.1-5 2 2.6 2 2.5 2-.1 2-1.9 2-1.1 2 1.8 2.1-1.7 2 .8 2 1.5 2-2.1 2 1.2 2-2.2 2 1.4 2-1.4 2.1 2.1 2-.8 2-.5 2 4.6 2-4.8 2 3.6 2 0 2.1-2.2 2-.4 2 1.5 2 1.2" fill="none" stroke="#505050" stroke-width="0.5" stroke-opacity="0.6" stroke-linejoin="round"/><path d="M34.2 670.6l2 6.8 2-2.3 2 2 2.1-1.9 2-2.3 2 5.9 2-2.7 2 .5 2-3.4 2 3.1 2.1-.1 2 1 2-1.5 2-3.8 2 4.6 2-2.1 2-.7 2-1 2.1 2.4 2 1 2-.7 2-1.2 2 1 2-.3 2-.9 2.1 1.1 2 1.9 2 .1 2-.3 2-2.5 2 3.2 2-1 2-.7 2.1 2 2-2.4 2 1.9 2 .5 2-1.9 2-5.7 2 6.4 2.1-2.4 2 .3 2 3.6 2-3.9" fill="none" stroke="#505050" stroke-width="0.5" stroke-opacity="0.6" stroke-linejoin="round"/><path d="M34.2 674l2 2.1 2-1.5 2 0 2.1 1 2 4 2-1.6 2-.6 2-3.1 2 1.3 2 .2 2.1 .9 2-2.7 2 1.1 2 .2 2 .3 2-1.7 2 .9 2 2.4 2.1-1.7 2-1.7 2-1.7 2-1.6 2 5.3 2 1.3 2 0 2.1-1.4 2-1.2 2 .6 2 2.3 2-4.5 2 4.9 2-3.3 2 1.6 2.1-.2 2 3.1 2-5.5 2 2.5 2-.5 2-1.3 2 3.4 2.1-2.9 2 1.2 2 1.4 2-2.5" fill="none" stroke="#505050" stroke-width="0.5" stroke-opacity="0.6" stroke-linejoin="round"/><path d="M34.2 674.2l2 2.1 2-3 2 1.5 2.1 2 2 .2 2-5.8 2 2.5 2 .5 2 3.8 2-.9 2.1 .9 2-1.2 2-1.3 2 .1 2 .6 2 1.5 2-4.2 2 2 2.1-3.9 2 .7 2 1.2 2 2.8 2 .3 2-3.6 2 .9 2.1 .9 2-1.6 2 5.6 2-2.9 2 .1 2 .3 2-.9 2 2.8 2.1-3.7 2 2 2-.6 2 1.5 2-1.7 2 .3 2-2 2.1 4 2-2 2 .6 2-1.2" fill="none" stroke="#505050" stroke-width="0.5" stroke-opacity="0.6" stroke-linejoin="round"/><path d="M34.2 672.7l2 2 2 .2 2 .9 2.1 1.2 2-2.2 2 2 2-2.3 2 2.6 2-1.7 2 .9 2.1 1.3 2 .2 2-4.1 2 1.6 2-2.1 2 1.3 2-1.6 2-.4 2.1 1.7 2-1 2 .9 2-3 2 3.8 2-.4 2-2.2 2.1 3.7 2 1 2-4.2 2 4.7 2-1.4 2-3.3 2 2 2 3.2 2.1-3.3 2 2 2-3 2 1.6 2 2 2-2 2 3.9 2.1-3.6 2-1.1 2 3 2-.6" fill="none" stroke="#505050" stroke-width="0.5" stroke-opacity="0.6" stroke-linejoin="round"/><path d="M34.2 676.9l2-.9 2-.1 2 1 2.1-1.3 2 .5 2 1.7 2-1.4 2-1.6 2 1.5 2-1.2 2.1 2.7 2-.9 2-.2 2 .7 2-.7 2 3.6 2-5.1 2-2.5 2.1 .9 2 1.4 2-3.1 2 1.4 2 1.2 2 2.4 2-2.5 2.1 1 2 1.3 2 .5 2 2.1 2-2.8 2-2.3 2 2 2 2 2.1-1.1 2-1.7 2 .5 2 .8 2 .8 2 1.6 2-3.7 2.1 1.9 2-2.8 2-.5 2 2.2" fill="none" stroke="#505050" stroke-width="0.5" stroke-opacity="0.6" stroke-linejoin="round"/><path d="M34.2 675.1l2 2 2-1.3 2-.3 2.1 1.7 2-2.6 2 1 2 1.3 2 .6 2-1 2-.2 2.1-.1 2-.8 2-.2 2-2.4 2 1.5 2 1.6 2-1.8 2-1.6 2.1 1.5 2-2 2 4 2 1.9 2-2.7 2-.2 2 .2 2.1 .3 2 2 2 1.4 2-5.3 2 2.1 2-.7 2 1.1 2-.2 2.1-.2 2 1.2 2-1.2 2-.9 2 2.6 2-.7 2 1.6 2.1-.8 2-2.5 2 1.1 2-1.2" fill="none" stroke="#505050" stroke-width="0.5" stroke-opacity="0.6" stroke-linejoin="round"/><path d="M34.2 675.7l2-1.3 2 .6 2 .1 2.1 3.5 2-3.5 2 3.1 2-2.5 2-.5 2-.9 2 1.8 2.1 .8 2-3.1 2 1.5 2-.5 2 1.8 2-2.1 2 1.1 2-3.6 2.1 6.3 2-1 2-.4 2-1.2 2 1 2 2.4 2-6.6 2.1 2.5 2 .4 2 2.4 2-2.3 2-1 2 1.5 2 1.7 2-1.6 2.1-1.5 2 .8 2 4 2-1.6 2 2.3 2-2.5 2-1.2 2.1-.4 2 1.5 2 1.1 2-4.1" fill="none" stroke="#505050" stroke-width="0.5" stroke-opacity="0.6" stroke-linejoin="round"/><path d="M34.2 677l2-.5 2 1.5 2-1.9 2.1 .1 2 1.4 2-1.6 2-.6 2-2 2 3.4 2-1.4 2.1 .9 2-2.5 2 3.8 2 .4 2-3.5 2 3.2 2-2.6 2-10.8 2.1-26.3 2 6.2 2 12 2 5.1 2 4.8 2 1.3 2 2 2.1 2.7 2 1 2 .7 2 3.7 2-.7 2 .6 2 1.4 2-2.3 2.1 0 2-1.2 2 2 2-1.3 2 1 2-3.9 2 5.8 2.1-3.5 2-.2 2-.8 2 1.9" fill="none" stroke="#8e2496" stroke-width="0.5" stroke-opacity="0.55" stroke-linejoin="round"/><path d="M34.2 680.1l2-4.3 2 2 2-2 2.1-1.9 2-.5 2 1.6 2 .1 2 .3 2-1.3 2 4 2.1-.6 2 2.2 2-3.7 2-2.7 2 6.2 2-6.4 2-.7 2-13.5 2.1-12.5 2 4.6 2 9.8 2 .4 2 7.4 2-1.4 2 4.5 2.1-1.7 2 5.5 2-1.9 2 4.4 2-3.6 2-.6 2 1 2 1.6 2.1 .5 2-2.7 2-.2 2 2.1 2-.6 2 2.8 2-4 2.1-.1 2-1.2 2 1.1 2 .7" fill="none" stroke="#8e2496" stroke-width="0.5" stroke-opacity="0.55" stroke-linejoin="round"/><path d="M34.2 677.7l2-.7 2-1.3 2-.6 2.1-.7 2 2.6 2-5.5 2 3.5 2-.7 2 1.2 2-.3 2.1-.3 2-.6 2 2.5 2-3.9 2 2.3 2 1.3 2-.6 2-8.1 2.1-13.3 2 4.3 2 4.3 2 6.1 2 4.5 2 .9 2-.9 2.1 .2 2 1.7 2-1.5 2 1.9 2 2.8 2-6.2 2 3.9 2-3 2.1 4.1 2-3.2 2 1.3 2 .7 2-.8 2-1.3 2 4.2 2.1-5.6 2 3.4 2-1.8 2 2.5" fill="none" stroke="#8e2496" stroke-width="0.5" stroke-opacity="0.55" stroke-linejoin="round"/><path d="M34.2 677.6l2-3.7 2 2.2 2-.2 2.1 .8 2-3.6 2 2.5 2 .5 2-.1 2-3.2 2 5.7 2.1 .2 2-3 2 2 2-.5 2-3.5 2-3 2 6.7 2-5.1 2.1-17.2 2 9.1 2 3.6 2 1.7 2 3.9 2 1.6 2-4.4 2.1 3.8 2-2.6 2 6.1 2-.4 2-5.7 2 4.5 2-1.2 2 3.8 2.1-4.8 2 .5 2-1 2 5 2-4 2-.4 2 1.4 2.1 .5 2-.5 2-1.1 2 4.4" fill="none" stroke="#8e2496" stroke-width="0.5" stroke-opacity="0.55" stroke-linejoin="round"/><path d="M34.2 678.2l2-2.8 2 2 2-.6 2.1 1.1 2-1.9 2-2.7 2-.7 2 4.2 2-.1 2 .2 2.1-2 2 1.9 2-.3 2 .8 2-.4 2-1.1 2 3 2-5.7 2.1-11.4 2 1.7 2 7.2 2 .3 2 .1 2 2.8 2 .1 2.1 1.6 2-.6 2-.9 2 1.7 2 .4 2-2.4 2 3.8 2-2.7 2.1 .2 2 .7 2 1.1 2 .1 2 0 2-.9 2-3.2 2.1 4.4 2-3.9 2 3.3 2-2.5" fill="none" stroke="#8e2496" stroke-width="0.5" stroke-opacity="0.55" stroke-linejoin="round"/><path d="M34.2 675.3l2 1.1 2-2.5 2 1.3 2.1 .3 2 2.1 2-.6 2-1.2 2-2.1 2 2.8 2-.1 2.1 1.6 2-1.5 2 1.6 2-2.4 2-1.6 2 1.3 2-2.6 2-8.9 2.1-2.9 2 2.3 2 3.5 2 3.1 2-.5 2 1.4 2 6.3 2.1-1.8 2-2.7 2 3.1 2-1.5 2-.2 2 1.2 2-.3 2 1.6 2.1-3.4 2 2.5 2-.6 2 0 2-.9 2 1.5 2-.4 2.1-1.2 2 2.9 2-.7 2-3.5" fill="none" stroke="#8e2496" stroke-width="0.5" stroke-opacity="0.55" stroke-linejoin="round"/><path d="M34.2 681.1l2-5.8 2 1.2 2-.6 2.1 1.7 2-1 2-.1 2-.6 2-2.7 2 3.8 2-1.1 2.1-1.5 2-.2 2 .8 2 1.8 2-.7 2-2 2 .6 2 .4 2.1-4.8 2-7.3 2 6 2 1.5 2 1.3 2-1 2 3.1 2.1 2 2-1.2 2 2.8 2-3 2 .7 2 1.9 2-.2 2-3 2.1 3 2 .8 2-.1 2-3.7 2 0 2 1.2 2-.1 2.1 .3 2 .6 2-2.6 2 1.8" fill="none" stroke="#8e2496" stroke-width="0.5" stroke-opacity="0.55" stroke-linejoin="round"/><path d="M34.2 675.8l2-.7 2 .8 2 2.5 2.1-4 2 3.5 2-2.2 2-3.3 2 3.8 2-.4 2-2.4 2.1 1.5 2 3.4 2-2.1 2 .3 2-1.2 2-.8 2-.1 2 2.9 2.1-3.5 2-4.5 2-3 2 4 2 2.2 2 4.2 2-2.5 2.1 2.2 2-1.3 2-2.6 2 1.5 2-.4 2 .5 2 1.3 2-1.2 2.1 2.4 2 1.2 2-2.2 2-2 2 2.4 2-1.3 2 1.3 2.1 2.1 2 .2 2-.2 2-1.7" fill="none" stroke="#8e2496" stroke-width="0.5" stroke-opacity="0.55" stroke-linejoin="round"/><path d="M34.2 674.7l2 1.3 2-.2 2 1.9 2.1-3.2 2-.5 2 3.8 2-1 2-2.5 2 4.5 2-3.6 2.1 1.1 2 1.3 2-3.3 2 .4 2 1.8 2 .6 2-1.9 2-2 2.1-.2 2-4.8 2 3.4 2-2.6 2 1.7 2 6.4 2-2.4 2.1-2.8 2 2.6 2-.1 2 .4 2 2.4 2-3.2 2-1.8 2 4.6 2.1-1 2-1.5 2-2.5 2 5.2 2-2.7 2 2.2 2 .5 2.1-1.5 2 .5 2 .9 2-.2" fill="none" stroke="#8e2496" stroke-width="0.5" stroke-opacity="0.55" stroke-linejoin="round"/><path d="M34.2 674.1l2 3.5 2-1.4 2-.5 2.1-.7 2 .9 2-1.8 2 2.9 2-2.9 2-.4 2 .8 2.1-1.5 2 2.5 2 .2 2 .7 2 0 2 1.4 2-1.1 2-1.2 2.1-3.8 2 3 2-1.4 2-1.8 2 2.7 2 2.3 2-1.5 2.1 3 2-.7 2-3.9 2 3.6 2-1.4 2 0 2-.1 2-.7 2.1-.2 2 6.6 2-4.1 2-1.5 2 1 2-4 2 3 2.1-.6 2-.1 2 .2 2 2.1" fill="none" stroke="#8e2496" stroke-width="0.5" stroke-opacity="0.55" stroke-linejoin="round"/><path d="M34.2 675.3l2 .9 2-2.2 2 2.1 2.1-2.6 2 1.7 2 1.3 2 .7 2-.7 2 .8 2 .8 2.1-7.3 2 4.9 2-.7 2 1.6 2 1.1 2-3.4 2 1.7 2 1.7 2.1 2 2-2.7 2 .3 2 .2 2-.8 2-.8 2-2.5 2.1 2.2 2 2 2-1.3 2-.4 2 1 2-.7 2 .8 2-.2 2.1 1.3 2-2.5 2-.2 2-.9 2 1.7 2 .4 2 .6 2.1-5.4 2 3.3 2 .9 2-.9" fill="none" stroke="#8e2496" stroke-width="0.5" stroke-opacity="0.55" stroke-linejoin="round"/><path d="M34.2 676.3l2 .6 2-4.1 2 1.1 2.1 1.8 2 1 2-.5 2-1 2-.6 2 1.8 2 .9 2.1-.2 2-.6 2 .2 2-2.7 2 2.1 2-.9 2-2.5 2 2.8 2.1 2.4 2-2 2 1 2-.3 2 1.4 2-.8 2 1 2.1-1.5 2-5.5 2 4.8 2-1.3 2 2.3 2 0 2-1.3 2-2.5 2.1 4 2 .5 2-4.2 2 1.4 2-.8 2 4.1 2 1.4 2.1-.8 2-2.5 2 .5 2-1.8" fill="none" stroke="#8e2496" stroke-width="0.5" stroke-opacity="0.55" stroke-linejoin="round"/><path d="M34.2 674.7l2-.3 2 .2 2 3.8 2.1-3.4 2 1.3 2 1.5 2-3.8 2 4.2 2-3.6 2 1.2 2.1 5.1 2-6 2 2.6 2-.9 2-2.1 2 3.8 2-2.3 2 3.6 2.1-2.6 2-1.8 2 1.6 2-2 2 2.6 2-3.7 2 1.2 2.1-.4 2-2.6 2 3.9 2 3 2-4.2 2 3.1 2-4.1 2 4.8 2.1 .2 2-3.1 2 .1 2 3 2-.5 2-2.2 2 1 2.1 .5 2-5 2 3 2 2.4" fill="none" stroke="#8e2496" stroke-width="0.5" stroke-opacity="0.55" stroke-linejoin="round"/><path d="M34.2 675l2-.1 2 2.4 2-1.1 2.1-.1 2-.6 2 .3 2 1.2 2-1.5 2 1.5 2-1.3 2.1 2.2 2-4.4 2 4.5 2-3.1 2 .2 2 .1 2 .5 2-1.7 2.1 2.6 2-1.1 2 .1 2-.6 2-.3 2-2.8 2 .2 2.1 4 2 .3 2 .2 2-.2 2-3.8 2 3.1 2 1.4 2-.6 2.1-4.6 2 6.6 2-1.9 2-.2 2-.4 2-.5 2-1.8 2.1 4.4 2-5.4 2 2.2 2-.3" fill="none" stroke="#8e2496" stroke-width="0.5" stroke-opacity="0.55" stroke-linejoin="round"/><path d="M34.2 677.6l2 .4 2-3.6 2 .1 2.1 .6 2 3 2-.6 2-2.9 2-2.5 2 2.2 2 2.6 2.1 1.9 2 1.1 2-6.4 2 6.1 2-2.9 2 .8 2-4.8 2-1.6 2.1 1 2-.6 2 3.7 2-1.3 2 1.9 2-1.3 2-2.1 2.1-1.6 2 6.7 2-3.7 2-.7 2 3.9 2-2.2 2 .8 2 .3 2.1 .3 2-2 2 1.9 2-.2 2 2.1 2-1.8 2 .3 2.1 .7 2-.7 2 1.4 2 .9" fill="none" stroke="#8e2496" stroke-width="0.5" stroke-opacity="0.55" stroke-linejoin="round"/><path d="M34.2 677.6l2-1.8 2-1.1 2 1.7 2.1-3.2 2-.6 2 .9 2 4 2-2.2 2 2.4 2-1.2 2.1-1.1 2 2 2-.8 2-3.8 2 4 2 .3 2-4.4 2 2.3 2.1-1.6 2 1.3 2 2.4 2-.5 2-2 2 .4 2 0 2.1-.4 2-.1 2 .5 2 3 2-1.2 2-2.6 2 4.7 2-5 2.1 3 2-1.1 2-.4 2-.9 2-.4 2-2 2 4.8 2.1 .1 2-3.1 2 4 2-3.4" fill="none" stroke="#8e2496" stroke-width="0.5" stroke-opacity="0.55" stroke-linejoin="round"/><path d="M34.2 677.3l2-1.9 2-2 2 1.4 2.1 1.2 2 1.2 2-1.1 2-.6 2 1.2 2-2.9 2 2.9 2.1-1.5 2 1.8 2-2.6 2 .9 2 1.9 2-3.2 2 .3 2 3.2 2.1-3.4 2 3.5 2-1.9 2 2.3 2-4.1 2 .8 2-.4 2.1 2.1 2-.6 2 2.3 2-3.8 2 3.4 2-.8 2 .1 2-5.1 2.1 1.7 2 3.2 2 .7 2-1.7 2 1.8 2-1.3 2-3.1 2.1 2.8 2 2 2-2.1 2-2.3" fill="none" stroke="#8e2496" stroke-width="0.5" stroke-opacity="0.55" stroke-linejoin="round"/><path d="M34.2 674.2l2-.3 2 .6 2 2.4 2.1-1.8 2 1.9 2-.1 2-3.3 2 1.3 2 .5 2-1 2.1 3.1 2-3.9 2 1.3 2 2.7 2 0 2-2.6 2 1.8 2 .1 2.1 .9 2-3.9 2 3.6 2 2.6 2-5.3 2-1.2 2 4.8 2.1-3 2-2.7 2 2.9 2 2.1 2-2.2 2 3.1 2-3.8 2-.9 2.1 1.9 2 .7 2-4.7 2 4.5 2-3.2 2 1.3 2 1.6 2.1-1.6 2 3.7 2-3.3 2 1.3" fill="none" stroke="#8e2496" stroke-width="0.5" stroke-opacity="0.55" stroke-linejoin="round"/><path d="M34.2 675l2 1.1 2 .9 2-2.9 2.1 1.3 2-1 2 1.8 2-.6 2 0 2-1.1 2 2.3 2.1-.7 2-.9 2 1.1 2 1.9 2-4.1 2-2.4 2 6.9 2-2.9 2.1-1.3 2-3.3 2-.1 2 2.5 2 .4 2 2.7 2-2.1 2.1 1.8 2 1 2 1.5 2-2.8 2-5.2 2 4.9 2-.2 2-.1 2.1-1.9 2 3.2 2-.4 2-2.7 2 1.7 2-.9 2 1.6 2.1-2.8 2 2.5 2 1.8 2-2.1" fill="none" stroke="#8e2496" stroke-width="0.5" stroke-opacity="0.55" stroke-linejoin="round"/><path d="M34.2 675.8l2 2.6 2-1.8 2-1 2.1 .1 2-.5 2 1 2-1.3 2 .7 2 1.3 2 1.4 2.1-2.5 2 1.8 2-1.2 2 1.6 2-2.2 2 1 2 1.7 2-2.9 2.1-1.7 2 1 2-1.8 2 4.7 2-1.8 2-2.6 2 2 2.1-.9 2 0 2 2.1 2 2.5 2-5.1 2 2 2 .3 2-2.4 2.1 1.1 2 4.5 2-3.7 2 .1 2-2.3 2 4.2 2-1 2.1 .1 2 .7 2-2.4 2-1.3" fill="none" stroke="#8e2496" stroke-width="0.5" stroke-opacity="0.55" stroke-linejoin="round"/>
<path d="M34.2 675.2l2.3-3.7 2.2 4.4 2.3-.2 2.3 1.7 2.3-1.8 2.2 .8 2.3 1.4 2.3-5.1 2.2 2 2.3-.9 2.3 .4 2.3 1.6 2.2-1.6 2.3-2.4 2.3 4.7 2.2-1.2 2.3-2.2 2.3 5.8 2.3 0 2.2 .1 2.3-2.4 2.3 .4 2.3 .5 2.2-2.7 2.3-1.3 2.3 3.5 2.2-1.2 2.3-1.5 2.3 2.1 2.3 0 2.2-.1 2.3-.9 2.3-2.1 2.2 1.9 2.3 .6 2.3 .3 2.3-6.1 2.2 5.4 2.3-1.9" fill="none" stroke="#8a1a8e" stroke-width="0.5" stroke-opacity="0.6"/><path d="M34.2 675.1l2.3-2 2.2 4.2 2.3 .2 2.3-2.7 2.3 .1 2.2 .7 2.3 1.8 2.3-2.8 2.2 2.3 2.3 2.6 2.3-4.8 2.3-.2 2.2 1.3 2.3 3.1 2.3-4.9 2.2 5.2 2.3-3.1 2.3 3.3 2.3-3.4 2.2-3.9 2.3 1.2 2.3 1.7 2.3-.1 2.2-3.1 2.3 3.2 2.3-1.3 2.2 3.7 2.3-3.4 2.3 3.9 2.3-3.1 2.2 2.1 2.3 3.1 2.3-4.2 2.2-3.2 2.3 .6 2.3 1.9 2.3-.9 2.2 6.1 2.3-2.4" fill="none" stroke="#8a1a8e" stroke-width="0.5" stroke-opacity="0.6"/><path d="M34.2 679.2l2.3-5.6 2.2 .3 2.3 3.6 2.3-1.8 2.3-1.7 2.2 1.6 2.3 1.6 2.3-3.4 2.2 1.9 2.3 2.4 2.3-5 2.3 3.6 2.2 .2 2.3-5.7 2.3 5.8 2.2-.2 2.3-2.8 2.3 2.1 2.3-1.3 2.2 4.6 2.3-1.8 2.3-.3 2.3 1.6 2.2-1.5 2.3-2.8 2.3 .8 2.2 .8 2.3 4 2.3-3.6 2.3-.3 2.2-1.3 2.3-1.2 2.3 4 2.2-2.3 2.3 .5 2.3 1.9 2.3-3.1 2.2 .1 2.3 4.8" fill="none" stroke="#8a1a8e" stroke-width="0.5" stroke-opacity="0.6"/><path d="M34.2 672.4l2.3 8.4 2.2-7 2.3-2 2.3 2.1 2.3 3.7 2.2-1.5 2.3-2.8 2.3 .2 2.2 .7 2.3 5.6 2.3-5.1 2.3-.6 2.2 2.1 2.3 .1 2.3-2.9 2.2 1.7 2.3 2.2 2.3-1.5 2.3 1.4 2.2-3.4 2.3 2.1 2.3 2.7 2.3-.2 2.2-4.4 2.3 5.8 2.3-5.7 2.2-3 2.3 3.1 2.3-2.8 2.3 1.3 2.2 3.5 2.3-.9 2.3 0 2.2 3.4 2.3-4.1 2.3 3.6 2.3-1 2.2-4.5 2.3-.9" fill="none" stroke="#8a1a8e" stroke-width="0.5" stroke-opacity="0.6"/><path d="M34.2 674.9l2.3 .8 2.2-2.3 2.3 2.5 2.3-2.2 2.3 1.4 2.2 2.6 2.3-1.6 2.3-.1 2.2 4.3 2.3-6.9 2.3 6.7 2.3-5.5 2.2 2.6 2.3 2 2.3-3.4 2.2 2.6 2.3-1.1 2.3-2.6 2.3-1.2 2.2 .6 2.3 5.4 2.3-3.7 2.3-2 2.2 2 2.3-.3 2.3 .3 2.2-1 2.3-1.6 2.3 .7 2.3 2.6 2.2-1.1 2.3-.1 2.3-2.7 2.2 2.1 2.3 .6 2.3 .9 2.3-.7 2.2-.6 2.3-.1" fill="none" stroke="#8a1a8e" stroke-width="0.5" stroke-opacity="0.6"/><path d="M34.2 676.7l2.3-1.4 2.2-1 2.3 .8 2.3-1.7 2.3 3 2.2-.2 2.3 1 2.3-1.9 2.2 2.3 2.3-2.5 2.3 .6 2.3-2.2 2.2 3.6 2.3-2.8 2.3 1.7 2.2 .8 2.3-2 2.3 1 2.3-.9 2.2-1.6 2.3 .1 2.3 2.2 2.3-2.5 2.2-1 2.3 5.8 2.3 .4 2.2-3 2.3-2.7 2.3 1.2 2.3-2.6 2.2 3.6 2.3-.7 2.3 .1 2.2 2 2.3 1.6 2.3-3.4 2.3 .3 2.2-.5 2.3 2" fill="none" stroke="#8a1a8e" stroke-width="0.5" stroke-opacity="0.6"/><path d="M34.2 673.9l2.3 .5 2.2 4 2.3-4.9 2.3 1.7 2.3-3.2 2.2 6.1 2.3 .1 2.3-.6 2.2-3.4 2.3 2.7 2.3-.5 2.3 .8 2.2 2.1 2.3-4.5 2.3 3 2.2 .3 2.3-2.2 2.3-1.2 2.3 .6 2.2 .7 2.3 .8 2.3 1.4 2.3-.9 2.2-4.9 2.3 2.7 2.3-3.4 2.2 2.8 2.3-.7 2.3 3.2 2.3-3.5 2.2 1.2 2.3-.3 2.3 1.6 2.2-1.2 2.3-1.3 2.3 5.4 2.3-3.2 2.2 1.5 2.3-.8" fill="none" stroke="#8a1a8e" stroke-width="0.5" stroke-opacity="0.6"/><path d="M34.2 676.2l2.3 1.3 2.2-2 2.3 1.1 2.3 0 2.3 1.7 2.2-1 2.3-.3 2.3 .5 2.2-3.6 2.3 3 2.3-2.2 2.3-2.2 2.2 2 2.3-.1 2.3 2.1 2.2-.5 2.3 .8 2.3 1.6 2.3-4.6 2.2 5 2.3-3.3 2.3 2.2 2.3-2.5 2.2 2.8 2.3-6 2.3 .9 2.2 5.2 2.3-4.7 2.3 1.8 2.3 0 2.2 6.6 2.3-10.6 2.3 8.4 2.2-3.7 2.3 2.8 2.3-2.9 2.3-2.1 2.2 .7 2.3-.9" fill="none" stroke="#8a1a8e" stroke-width="0.5" stroke-opacity="0.6"/>
<line x1="34.2" y1="675.7" x2="122.8" y2="675.7" stroke="#3a3a3a" stroke-width="4.4"/>
<path d="M34.2 676.8l2.3-2.4 2.2 1.8 2.3 0 2.3-1.5 2.3 3.7 2.2-1.5 2.3-1.7 2.3-.9 2.2 2 2.3 .8 2.3-2.1 2.3 .1 2.2 2.1 2.3 .2 2.3-1.7 2.2 1.8 2.3 .1 2.3-5.1 2.3 4.5 2.2-2.3 2.3 1.5 2.3 2.3 2.3-2.9 2.2 4.1 2.3-4 2.3 2 2.2-4.5 2.3 .4 2.3 1.2 2.3 .6 2.2-.9 2.3 3.3 2.3-1.8 2.2 .3 2.3-.8 2.3-.4 2.3-.9 2.2-.2 2.3 3" fill="none" stroke="#333" stroke-width="0.8" stroke-opacity="0.7"/><path d="M34.2 673.7l2.3 .6 2.2 0 2.3 2.1 2.3-1.4 2.3 0 2.2 1.1 2.3-.6 2.3 .6 2.2-1 2.3 3.7 2.3 1.6 2.3-5.3 2.2-.4 2.3 .6 2.3-.7 2.2 .9 2.3-1 2.3 .7 2.3 1 2.2-1.3 2.3 .4 2.3-1 2.3 1.1 2.2 .1 2.3-.8 2.3 .9 2.2-.5 2.3 1.1 2.3-1 2.3-.2 2.2 .8 2.3 .5 2.3-1.6 2.2 2.4 2.3 .3 2.3-.9 2.3-2.6 2.2 .3 2.3 0" fill="none" stroke="#333" stroke-width="0.8" stroke-opacity="0.7"/><path d="M34.2 676.7l2.3-1.6 2.2 3.6 2.3-1.2 2.3-2.7 2.3-1.1 2.2 2.6 2.3-1.3 2.3-.2 2.2-.5 2.3 3.4 2.3-2.3 2.3-2.3 2.2 1.4 2.3 1 2.3-1.5 2.2 1.7 2.3-1.1 2.3-.3 2.3 .9 2.2-1.8 2.3 1.1 2.3 3.5 2.3-3.4 2.2-.2 2.3-1.3 2.3 2.5 2.2-1.3 2.3 .8 2.3 .2 2.3 1.5 2.2 .5 2.3-1.3 2.3 .3 2.2-.5 2.3 2.4 2.3-1.7 2.3-.9 2.2 1 2.3-.7" fill="none" stroke="#333" stroke-width="0.8" stroke-opacity="0.7"/><path d="M34.2 675.3l2.3 0 2.2 1.1 2.3 2.1 2.3-2.8 2.3-.2 2.2 .5 2.3-.9 2.3-.9 2.2 2.9 2.3 1.6 2.3-4.4 2.3 1.1 2.2 1.5 2.3-1.3 2.3-1 2.2 .5 2.3 1.3 2.3 .4 2.3 1.3 2.2-1.6 2.3-2.4 2.3 2.5 2.3-2.1 2.2 1 2.3-1.3 2.3 3.5 2.2-2.8 2.3 .9 2.3-2 2.3 1.5 2.2 .5 2.3-.7 2.3-.9 2.2-1.2 2.3 4.5 2.3-.6 2.3 1.8 2.2-3.5 2.3-.8" fill="none" stroke="#333" stroke-width="0.8" stroke-opacity="0.7"/><path d="M34.2 678.3l2.3-4.3 2.2 1 2.3-.4 2.3 .9 2.3-.2 2.2-1.4 2.3 2.7 2.3 .3 2.2-2.3 2.3-.9 2.3 .2 2.3 1.4 2.2 .1 2.3-.3 2.3 1.3 2.2-.5 2.3 .7 2.3-1 2.3 .2 2.2 2 2.3-2.5 2.3 1.3 2.3-2.8 2.2 2.6 2.3-1.5 2.3 2.2 2.2-.9 2.3 .9 2.3-1.6 2.3-1.3 2.2 .6 2.3-.2 2.3 .5 2.2-2.1 2.3 .7 2.3 4.3 2.3-2.2 2.2-.8 2.3 .4" fill="none" stroke="#333" stroke-width="0.8" stroke-opacity="0.7"/><path d="M34.2 675.8l2.3 2 2.2 .5 2.3-.2 2.3-3.2 2.3 2.3 2.2-1.3 2.3-1.3 2.3 .3 2.2 1.4 2.3-2 2.3 .9 2.3 1.2 2.2-1.7 2.3-.5 2.3 2.2 2.2 .6 2.3-3.3 2.3 2.6 2.3 .8 2.2-.6 2.3-.9 2.3 .8 2.3-1.2 2.2-.2 2.3 2 2.3-2.9 2.2 3.3 2.3-3.5 2.3 .9 2.3-1.2 2.2 1.6 2.3 .1 2.3-2.8 2.2 3.8 2.3-.4 2.3 .8 2.3 .4 2.2-.5 2.3-1.2" fill="none" stroke="#333" stroke-width="0.8" stroke-opacity="0.7"/><path d="M34.2 674.9l2.3 3 2.2-1.9 2.3-2.4 2.3 2.1 2.3 4.4 2.2-6.7 2.3 .6 2.3 1.1 2.2 .2 2.3 1.3 2.3-.9 2.3-2.3 2.2 1.7 2.3 .7 2.3-1.5 2.2 2.8 2.3-1.2 2.3 .9 2.3-1.8 2.2-.7 2.3-.8 2.3 .5 2.3 1.9 2.2 .5 2.3-2.8 2.3 1 2.2 .8 2.3 2.2 2.3-2.5 2.3 .5 2.2-.8 2.3 .3 2.3 .6 2.2-.8 2.3 1.8 2.3-1.8 2.3 .6 2.2 1.1 2.3-.7" fill="none" stroke="#333" stroke-width="0.8" stroke-opacity="0.7"/><path d="M34.2 677.6l2.3-3.1 2.2 2.2 2.3 1.4 2.3-3.2 2.3 .4 2.2 2.5 2.3-2.3 2.3 1.1 2.2-.6 2.3 1.8 2.3-1.2 2.3-1.6 2.2 .4 2.3-.8 2.3-1.4 2.2 2 2.3 2.7 2.3 .7 2.3-3.6 2.2-1.6 2.3 2 2.3-.7 2.3 1.2 2.2 .1 2.3 .1 2.3-.6 2.2 .9 2.3-.6 2.3 .2 2.3-.8 2.2-1.4 2.3 1.7 2.3-.1 2.2 .4 2.3 2 2.3-1.3 2.3-3.9 2.2 2.4 2.3 .8" fill="none" stroke="#333" stroke-width="0.8" stroke-opacity="0.7"/><path d="M34.2 677l2.3 1.3 2.2-1.9 2.3-.2 2.3-.2 2.3 2.3 2.2-3.1 2.3-1.2 2.3 2.6 2.2-1.1 2.3 .6 2.3 1.3 2.3-.2 2.2-2.5 2.3 1.9 2.3-1.2 2.2 1.4 2.3-.2 2.3-1.3 2.3-1.7 2.2 3.2 2.3-1.5 2.3 .8 2.3-.1 2.2 2.4 2.3-2.9 2.3 .1 2.2 .4 2.3 4.8 2.3-6.2 2.3 .9 2.2-1.4 2.3 2.6 2.3-1.4 2.2-2.2 2.3 4.3 2.3-1.8 2.3-1.3 2.2 .6 2.3 .7" fill="none" stroke="#333" stroke-width="0.8" stroke-opacity="0.7"/><path d="M34.2 674.4l2.3 .6 2.2 2.8 2.3-.5 2.3-1.6 2.3-.7 2.2-.8 2.3 4.5 2.3-1.4 2.2-4.7 2.3 4.7 2.3 .5 2.3-.4 2.2-.1 2.3-5.7 2.3 3.8 2.2-1.6 2.3 5 2.3-3.9 2.3 1 2.2 .8 2.3-.5 2.3-1.2 2.3 2.9 2.2-.4 2.3-1.5 2.3-.4 2.2-.5 2.3 3.1 2.3-1.5 2.3 .3 2.2-.9 2.3-.1 2.3-3 2.2 .6 2.3 1.7 2.3 1.1 2.3-2.5 2.2-.8 2.3 3.5" fill="none" stroke="#333" stroke-width="0.8" stroke-opacity="0.7"/><path d="M34.2 677l2.3-2.5 2.2-.6 2.3 2 2.3-1 2.3 1.2 2.2-1.6 2.3 1 2.3 .7 2.2-2.4 2.3 3.1 2.3-1.7 2.3-1.9 2.2 1.6 2.3 1.4 2.3-2.4 2.2 4.4 2.3-4.6 2.3 3.5 2.3-2.9 2.2-1.1 2.3 1.7 2.3 .1 2.3 .8 2.2 .3 2.3-2.1 2.3 1.5 2.2-.7 2.3-.2 2.3 3.2 2.3-1.2 2.2-2 2.3 3 2.3 0 2.2 0 2.3-1.7 2.3-1.7 2.3 1 2.2 .9 2.3-.6" fill="none" stroke="#333" stroke-width="0.8" stroke-opacity="0.7"/><path d="M34.2 676.5l2.3-4.4 2.2 3.3 2.3 2.1 2.3 1 2.3-1.2 2.2-.6 2.3-.9 2.3 2 2.2-4.4 2.3 2.7 2.3 1.6 2.3-2 2.2 .2 2.3-.6 2.3-1.7 2.2 1.6 2.3-1 2.3 1.1 2.3-.6 2.2 1.9 2.3-1.1 2.3 1.8 2.3-3.9 2.2 .9 2.3 1.8 2.3 2.8 2.2-1.7 2.3-2.3 2.3 1.2 2.3 .8 2.2-2.5 2.3 1.1 2.3-2 2.2 4.7 2.3-2.3 2.3-2.2 2.3 2.1 2.2-.9 2.3-.7" fill="none" stroke="#333" stroke-width="0.8" stroke-opacity="0.7"/><path d="M34.2 675.9l2.3 .2 2.2 .2 2.3 1.4 2.3-.8 2.3-2 2.2-.8 2.3-2.2 2.3 2.4 2.2 1.9 2.3-2.1 2.3 1.9 2.3 .4 2.2 .6 2.3-.3 2.3-1.9 2.2 1.8 2.3-2 2.3 1.1 2.3-.1 2.2-.3 2.3 0 2.3-.8 2.3 .1 2.2 .2 2.3 1.8 2.3-3.2 2.2 2.6 2.3 2.9 2.3-2 2.3-3.1 2.2 2.4 2.3-2.4 2.3 .5 2.2 .8 2.3 1.2 2.3-.2 2.3-1.4 2.2-.5 2.3 1.5" fill="none" stroke="#333" stroke-width="0.8" stroke-opacity="0.7"/><path d="M34.2 676l2.3-1.6 2.2 2.1 2.3 2.1 2.3-3 2.3 .1 2.2 .6 2.3-1.2 2.3 1.3 2.2-.7 2.3-2.8 2.3 4.1 2.3-1.2 2.2-.8 2.3 4.1 2.3-3.1 2.2-2.1 2.3 1.9 2.3-2.5 2.3 1.6 2.2 .1 2.3 .5 2.3 .7 2.3-3.1 2.2 2.7 2.3 .3 2.3 .3 2.2-.7 2.3-.7 2.3 2.9 2.3-1.1 2.2-3.8 2.3 2.8 2.3 1.2 2.2-.6 2.3-.8 2.3 2.7 2.3-1.9 2.2-.5 2.3 1" fill="none" stroke="#333" stroke-width="0.8" stroke-opacity="0.7"/>
<path d="M136 675.2l2 1.5 2-2.5 2 3.2 2-5.4 2 2.8 2.1 1 2-1.4 2 3.3 2-2.9 2-.7 2 0 2 .8 2 2.6 2-2.3 2 2.7 2-3.9 2.1-7 2-20.7 2-13.8 2 9.2 2 9 2 9.1 2 4.4 2 4.2 2 1.7 2 .6 2 .7 2.1 2.4 2 0 2 2.4 2-.7 2-2.7 2 .1 2 1.6 2 .8 2-.2 2 1.6 2 .8 2.1-2.7 2 2.7 2-2.5 2 2.6 2-1.8 2-2.8" fill="none" stroke="#505050" stroke-width="0.5" stroke-opacity="0.6" stroke-linejoin="round"/><path d="M136 674.8l2 3.5 2-4.1 2 2.8 2 .1 2-.2 2.1-1.3 2 1.3 2-.1 2-1.8 2 .5 2-1.7 2 .7 2-.7 2 3.8 2-2 2-.7 2.1-.8 2-7.3 2-20.6 2 11.7 2 10.2 2 3.9 2 2.2 2-.5 2 2.9 2-1.4 2 1 2.1 1 2 1.4 2-6.6 2 1.7 2 .4 2 4.2 2-3.9 2 1.9 2 1.5 2-1.1 2-.2 2.1-3.3 2 2.3 2 .3 2-.8 2 0 2 2.8" fill="none" stroke="#505050" stroke-width="0.5" stroke-opacity="0.6" stroke-linejoin="round"/><path d="M136 674.1l2-1 2 3.2 2-4.3 2 4.3 2-.1 2.1 3.1 2-5.8 2 2.6 2 .6 2 0 2-1.8 2-.9 2 .6 2 1.6 2 .6 2 1.1 2.1-9.8 2-16.2 2 6.7 2 2 2 5.5 2 4.7 2 .5 2 1.6 2 2.4 2-.1 2 2.2 2.1-1.6 2-2.1 2 2.6 2-3.5 2 3.2 2-1.5 2 .4 2 1.9 2 .8 2-2.6 2-.5 2.1 1.3 2 .2 2 4.3 2-3.5 2-2.5 2-.2" fill="none" stroke="#505050" stroke-width="0.5" stroke-opacity="0.6" stroke-linejoin="round"/><path d="M136 675.2l2 1 2-1.7 2-1.1 2 3.8 2-1 2.1-.9 2-.2 2 .5 2-1.2 2-.1 2 2.3 2-.7 2-1.8 2 3.4 2-.8 2 2.3 2.1-3.2 2-12.7 2-8.6 2 9.9 2 .4 2 4.7 2 1.9 2 2 2-1.2 2 4.7 2-4.3 2.1 2.2 2 .5 2 2.9 2-6.5 2 2.5 2 .9 2 .4 2-1.5 2 2.4 2-1.3 2-.8 2.1 2.4 2 0 2-3 2 3.3 2 0 2-2.2" fill="none" stroke="#505050" stroke-width="0.5" stroke-opacity="0.6" stroke-linejoin="round"/><path d="M136 677.1l2-4.8 2 5.4 2-1.4 2-1.4 2-.8 2.1 .3 2 .4 2 3.8 2-.4 2-2.6 2-.8 2 .8 2 1 2-1.4 2-1.3 2 5 2.1-11.7 2-7.4 2 2.9 2 5.2 2 1.2 2 1.7 2-2 2 3.6 2 0 2 .2 2 1.7 2.1 1.5 2 1.9 2-1.4 2-2.2 2 0 2 4.4 2-2.3 2-.7 2-1.1 2 1.9 2 0 2.1-.6 2-.7 2 .7 2 1.3 2-.9 2-.5" fill="none" stroke="#505050" stroke-width="0.5" stroke-opacity="0.6" stroke-linejoin="round"/><path d="M136 676.7l2 1.5 2-5.4 2 3.1 2-1.5 2-1.8 2.1 2.6 2 1.8 2-1.3 2 1.3 2-.7 2-1.8 2 2.4 2-2.1 2 .5 2-2.1 2 1.7 2.1-.6 2 .1 2-4.7 2-3.2 2 5.3 2 2.7 2-3.8 2 5.7 2-3.1 2 2.5 2 1.5 2.1-1.7 2-1.3 2-.1 2-.3 2 1.9 2-.8 2 1.8 2 .2 2-2.4 2-.3 2 1.8 2.1-.4 2 1 2-1 2 1.9 2-2.1 2 .3" fill="none" stroke="#505050" stroke-width="0.5" stroke-opacity="0.6" stroke-linejoin="round"/><path d="M136 677l2-1.7 2-.7 2 2.4 2-2.7 2 2.9 2.1-2.1 2 .4 2-2.1 2 5 2-5.1 2-2 2 3.5 2 2.7 2-2 2 2.2 2-3.6 2.1-1.3 2-3 2-6.1 2 5.7 2-.9 2 4.3 2 1 2 2.1 2-2 2 1.1 2 1.5 2.1-4.1 2 3.2 2-3.3 2 2.8 2 3.5 2-.5 2-2.7 2-2.4 2 3.1 2 1.2 2-.2 2.1-3 2-.7 2 2.7 2 1.2 2 .4 2-3.1" fill="none" stroke="#505050" stroke-width="0.5" stroke-opacity="0.6" stroke-linejoin="round"/><path d="M136 677.6l2-4.5 2 5.8 2-1.3 2-.8 2-2.9 2.1 2.7 2-2.4 2 2.9 2 1.9 2-1.7 2-3.4 2 2.9 2 1 2-1.5 2 1 2-1.8 2.1 .1 2-1.2 2-2.8 2-6.5 2 9.5 2-2.8 2 8 2-5.7 2 2.5 2-.2 2 .4 2.1-1.6 2 1.2 2-1.8 2 1.5 2-1.9 2-2.2 2 3.2 2 .1 2 1.9 2-1.7 2 .7 2.1 1.2 2-.2 2-4.7 2 6.3 2-.7 2-.4" fill="none" stroke="#505050" stroke-width="0.5" stroke-opacity="0.6" stroke-linejoin="round"/><path d="M136 675.2l2 .1 2 .4 2 1.9 2-.7 2-2.6 2.1-.2 2 2.4 2-1.5 2 2.1 2 .3 2 .7 2-3.7 2-1.8 2 2.9 2-.6 2-.2 2.1 1.3 2 3.1 2-8 2-1.1 2 .5 2 3.7 2 1.2 2-3.6 2 .7 2 2 2 3.3 2.1-.8 2 .1 2-1.6 2 .5 2 .1 2-1.6 2 3.7 2 .5 2-2.9 2-.8 2 .7 2.1-3 2 3.8 2-.1 2-.2 2 1.2 2-2.9" fill="none" stroke="#505050" stroke-width="0.5" stroke-opacity="0.6" stroke-linejoin="round"/><path d="M136 675.3l2 2.6 2-3.9 2 1.1 2 1 2-.8 2.1-.8 2 2.4 2-3.1 2 .9 2 1.2 2 .2 2-2.2 2 2 2 .8 2 1.2 2-1.2 2.1-1 2 2.5 2 1.6 2-.9 2 1.9 2-3.5 2-.2 2 4.5 2-5.7 2 .8 2 1.6 2.1-1.5 2 .3 2-.7 2 .3 2-2.2 2 .8 2-1.2 2-.2 2 3.2 2-1.9 2-.4 2.1 3 2-4.2 2 1.5 2 .6 2-.7 2 2.1" fill="none" stroke="#505050" stroke-width="0.5" stroke-opacity="0.6" stroke-linejoin="round"/><path d="M136 676.6l2 2.5 2-5.1 2 1.1 2-.6 2 1.9 2.1 .4 2-4.2 2 2.7 2 .5 2 2.4 2-.7 2 .5 2-1.1 2 2.4 2-5.6 2 2.9 2.1-2.7 2 1.3 2-.2 2 1.6 2-.2 2-.5 2 1.1 2-1.4 2 1.1 2 .4 2 .1 2.1-1.5 2-2.7 2 3.4 2 .9 2 .1 2-1.1 2-.5 2 .4 2-2.4 2 1.3 2-2.3 2.1 1.7 2 .4 2 1.6 2-2 2-1.7 2 1.3" fill="none" stroke="#505050" stroke-width="0.5" stroke-opacity="0.6" stroke-linejoin="round"/><path d="M136 675l2 1.4 2 .6 2-3 2 3.6 2-2.5 2.1 .7 2 .5 2-1.8 2-.9 2 1.8 2-1.6 2 1.7 2 .3 2 1.3 2-.3 2-4 2.1 2.7 2 3 2-3.5 2 .9 2 1.8 2-2.8 2 1 2 3.5 2-2.9 2-.3 2-1.9 2.1 1.2 2-.3 2 .8 2-.5 2 .3 2-1.8 2 1.5 2-1 2 .7 2-3.7 2 4.8 2.1-1.1 2 2.9 2-1.3 2-2.3 2 2.7 2-1.2" fill="none" stroke="#505050" stroke-width="0.5" stroke-opacity="0.6" stroke-linejoin="round"/><path d="M136 676.5l2-1.2 2-.4 2-.6 2 2.5 2-2.2 2.1 0 2 1.8 2 .5 2-2.2 2-3.4 2 6 2-1.5 2 .1 2 3.8 2-3.3 2-.7 2.1-3 2 2.4 2 .8 2-2.4 2 2 2-1.5 2 1.8 2-1.7 2 3.5 2-.3 2-.8 2.1-1.6 2-.4 2-.2 2 2.9 2-2.8 2-.2 2 4.9 2-2.9 2-3 2 4.6 2-3.1 2.1-.5 2 3.3 2-1.7 2-2.6 2 5.5 2-4.9" fill="none" stroke="#505050" stroke-width="0.5" stroke-opacity="0.6" stroke-linejoin="round"/><path d="M136 673.7l2 4.3 2-2 2 0 2 .6 2-.3 2.1-2.4 2 2.3 2-3.6 2 3.6 2-.5 2 1 2-.6 2-.1 2 1.4 2-2.4 2 1.3 2.1 .3 2 1.4 2-.9 2-4 2 .5 2 5.5 2-2.5 2-.2 2-1.1 2 1.4 2-.6 2.1 1 2-.2 2-2 2 3.3 2-.2 2-2.3 2 .3 2-1.7 2 3.5 2 .4 2-4.7 2.1 2.8 2-3.6 2 .7 2 3.1 2 .2 2-2.2" fill="none" stroke="#505050" stroke-width="0.5" stroke-opacity="0.6" stroke-linejoin="round"/><path d="M136 674.8l2 2.1 2-1.3 2-.9 2 1.6 2-.2 2.1-1.2 2 3.9 2-2.6 2-1.3 2-.7 2 1.9 2-2.7 2 2.7 2 .9 2 .5 2-2.5 2.1 .4 2 .4 2 1.4 2-.2 2-4.8 2 3.6 2-1.9 2 4.9 2-3.8 2 .3 2-.8 2.1 1.8 2-1.3 2 3.4 2-3.1 2 .5 2 1.4 2-.4 2 .6 2 .3 2-3.8 2 2.5 2.1-.1 2 1 2-3.3 2 2.3 2-2.6 2 1.7" fill="none" stroke="#505050" stroke-width="0.5" stroke-opacity="0.6" stroke-linejoin="round"/><path d="M136 674.6l2-.4 2 .2 2 1.3 2-.3 2-.2 2.1 .8 2-1.7 2 2 2-2.8 2 .1 2 3.5 2 .5 2-4.2 2-.7 2 2.1 2 2.7 2.1 2.5 2-6.7 2 1.4 2 2 2 1.1 2-2.8 2 3.4 2 2.1 2-4.8 2 1.2 2-1.4 2.1 0 2-.3 2 .1 2 1.9 2-2.9 2 3.6 2-1.9 2-.2 2 .2 2 0 2 .7 2.1-.9 2 3.2 2-5 2 .5 2 .2 2-.5" fill="none" stroke="#505050" stroke-width="0.5" stroke-opacity="0.6" stroke-linejoin="round"/><path d="M136 673.9l2 2.4 2-1.2 2 1.9 2-1.6 2 1 2.1-.8 2 3.3 2-4.9 2 .9 2 .4 2-.5 2 .6 2 1.1 2-1.2 2 2.3 2-2.6 2.1-.2 2 1.9 2 0 2 1.3 2 1.8 2-4.6 2 .7 2-1.5 2 1 2-1.1 2 4.8 2.1-1.8 2-1.7 2 1 2-3.5 2 3.6 2 .4 2 .4 2-.9 2-2 2 4.2 2-5.7 2.1 3.4 2 1.8 2-1.1 2-2 2-2.3 2 1" fill="none" stroke="#505050" stroke-width="0.5" stroke-opacity="0.6" stroke-linejoin="round"/><path d="M136 673.3l2 4.1 2-2.7 2 .1 2-.4 2 3.3 2.1-2.2 2 .5 2-.3 2 .4 2 3.4 2-1.8 2-3.3 2 1.3 2 1.1 2 .8 2-.7 2.1-3.5 2 2.2 2-1 2-.1 2-.6 2 .9 2-1.8 2 5.2 2-2.9 2-2.3 2 2.2 2.1-1.3 2 .8 2-.4 2-.5 2 0 2 3.2 2-1.3 2-.8 2 1.6 2-.2 2-2.5 2.1 .5 2-2.3 2 4.4 2-1.2 2 .2 2-.9" fill="none" stroke="#505050" stroke-width="0.5" stroke-opacity="0.6" stroke-linejoin="round"/><path d="M136 672.1l2 2.5 2 1.3 2 .2 2-.6 2 1.6 2.1-.6 2-.8 2-2.5 2 1.7 2 1.7 2 1.3 2-.8 2 .7 2-3 2-.5 2 3.1 2.1-2.3 2-2.5 2 1.6 2-.2 2 .7 2-1.4 2 1.2 2 .5 2 3.7 2-4.5 2 1.8 2.1-1.5 2 4.2 2-3 2 1.7 2 .8 2-2.1 2-.5 2-1 2-2 2 2.6 2 1 2.1-1.1 2 2.2 2-1.7 2-2.2 2 1.4 2 2.9" fill="none" stroke="#505050" stroke-width="0.5" stroke-opacity="0.6" stroke-linejoin="round"/><path d="M136 676.8l2-1.9 2 5.4 2-3.5 2 .4 2-.8 2.1-.9 2-.3 2 3.1 2-3 2-.6 2 3.5 2-3.6 2 .4 2-2 2 2 2 1.3 2.1-.6 2-.8 2 1.3 2-4.3 2 .8 2 .8 2 2.5 2-1.9 2 1.8 2-.5 2-1 2.1 3.9 2-3.2 2 .4 2-1.5 2-.4 2-.4 2 2 2 2.3 2-4.5 2 4.3 2-3.9 2.1 .9 2 1.1 2-.2 2-1.2 2-.7 2 3.9" fill="none" stroke="#505050" stroke-width="0.5" stroke-opacity="0.6" stroke-linejoin="round"/><path d="M136 677.7l2 .3 2 .9 2-4.7 2 1 2-.1 2.1-.8 2 .4 2-.9 2 .4 2 1.3 2 1.6 2-1.4 2 .1 2 .5 2 1.4 2-.4 2.1-1.8 2-.4 2 .6 2-.2 2 2 2-1.1 2-.3 2-.2 2 1.6 2-2.2 2-1.2 2.1 2.3 2 1.6 2-4.5 2 2.4 2-.5 2 .4 2 2 2 .6 2-2 2-1.4 2-.5 2.1 .9 2 .4 2 1 2-.2 2-2.4 2 .7" fill="none" stroke="#505050" stroke-width="0.5" stroke-opacity="0.6" stroke-linejoin="round"/><path d="M136 675.5l2 1.1 2-1.9 2 1.1 2-1.8 2 3.3 2.1 1.2 2-4.2 2 1.9 2 .4 2-1.6 2 1.4 2-.7 2 .4 2-.8 2 2 2-4.3 2.1 7.7 2-8.4 2 2.1 2 3.1 2-3.5 2 2.9 2-2.1 2 1.7 2-.2 2-3.8 2 4.4 2.1 .7 2-1.6 2-2.2 2 2.1 2-.6 2 1.1 2 1.8 2 1.4 2-4.2 2-1.8 2 1.1 2.1-.9 2 .4 2 1.4 2 .4 2-2.2 2 3.4" fill="none" stroke="#505050" stroke-width="0.5" stroke-opacity="0.6" stroke-linejoin="round"/><path d="M136 673.6l2 1.9 2-.2 2-.3 2 2.2 2-2.8 2.1 1.4 2 2.4 2-2.2 2-.1 2-.3 2 .4 2-2 2 2 2 .2 2 1.7 2-.7 2.1-3.3 2 1.9 2 .3 2-1.8 2 2.5 2-1.1 2-1.4 2 1.9 2 .6 2-.9 2-.3 2.1-3.6 2 3.3 2 3.3 2-4.5 2 2.2 2 2.7 2-3.6 2-1.4 2 .6 2 2.2 2-.6 2.1-3.7 2 5.8 2-2 2-.7 2-2.6 2 5.6" fill="none" stroke="#505050" stroke-width="0.5" stroke-opacity="0.6" stroke-linejoin="round"/><path d="M136 674.3l2 .8 2 1.9 2-.1 2 .6 2 .1 2.1-2.2 2 .4 2-.6 2 .8 2-1.4 2 .8 2-3.2 2 2 2 2.3 2-.9 2 .2 2.1-1.7 2 .6 2-.2 2-1.7 2 3.6 2-1.2 2-3.1 2 2 2 2.4 2-3.3 2 3 2.1-.4 2-.6 2 1.6 2-.9 2-.6 2 3.6 2-4.4 2 .4 2 .5 2 2.3 2-3.3 2.1 2 2-2.4 2 2.3 2-4.8 2 6.2 2-4.8" fill="none" stroke="#505050" stroke-width="0.5" stroke-opacity="0.6" stroke-linejoin="round"/><path d="M136 675.2l2 .7 2-5 2 3 2 .8 2 .6 2.1-.3 2 1 2 .3 2 .5 2-.2 2-1.3 2 .4 2 1.1 2-.3 2-1 2 .1 2.1 3.5 2-.5 2-3.2 2 .7 2 2.1 2-6.8 2 8.1 2-2.4 2-2.6 2-.2 2 2.5 2.1-2.4 2-1 2-1.7 2 3.7 2 .4 2 4 2-4.2 2 1.7 2-2.7 2 2.8 2-2.4 2.1 0 2 2.5 2-3 2 3 2-3.6 2 .5" fill="none" stroke="#505050" stroke-width="0.5" stroke-opacity="0.6" stroke-linejoin="round"/><path d="M136 675.2l2 3.9 2-1.7 2-.4 2 .9 2-2.7 2.1-.9 2 1.2 2 3.1 2-1.7 2-.6 2 .4 2 .3 2-.9 2-2.3 2 1.8 2 1.5 2.1-5.1 2 2.5 2-2.7 2 1 2 1.5 2-.6 2 .8 2 .9 2 .2 2-2 2 1.8 2.1-.9 2 1.4 2-3.7 2 3.9 2-1.2 2 1.4 2-.8 2 2.4 2-1.3 2-.7 2 .8 2.1-3.9 2 3.1 2-1.2 2 2.8 2-4.3 2 4.6" fill="none" stroke="#505050" stroke-width="0.5" stroke-opacity="0.6" stroke-linejoin="round"/><path d="M136 676.9l2-1 2 .7 2 .2 2-.1 2-3.3 2.1 3.9 2-4.6 2 .8 2 6.1 2-3.6 2-1.8 2 0 2 5.9 2-3.7 2 .4 2-2.2 2.1 .8 2 3.1 2-4.5 2-1.4 2 2.4 2 .1 2 1.6 2 .8 2-4.5 2 3.3 2-3.1 2.1 3.1 2 .3 2 1.2 2-3.3 2 1.1 2 2.3 2-3 2 1.6 2-.8 2-3.3 2 2.1 2.1 3.2 2-4.6 2 2.4 2 1.4 2-1.8 2-2" fill="none" stroke="#505050" stroke-width="0.5" stroke-opacity="0.6" stroke-linejoin="round"/><path d="M136 676l2-2.4 2 4.1 2-2.8 2 0 2 1.3 2.1-3.6 2 4.7 2-.2 2-3.7 2 2.7 2 .4 2-1.4 2-.6 2 .9 2 2.2 2-2.1 2.1-.9 2 1 2 3 2-4.2 2 0 2 3 2 .1 2-1.4 2 2.3 2-.2 2-5.5 2.1 5.3 2-4 2 2.6 2 2.6 2-2.8 2-1.2 2 1.2 2-2.2 2 1.9 2 1.1 2-3.1 2.1 1.8 2-.7 2-1 2 1.3 2 2.5 2-3.6" fill="none" stroke="#505050" stroke-width="0.5" stroke-opacity="0.6" stroke-linejoin="round"/><path d="M136 677.7l2-2.5 2-1.3 2 2.6 2-2.9 2 4.8 2.1-1 2 2.1 2-1.4 2-1.9 2-.6 2-2.5 2 2.5 2-1 2 3.5 2-3.6 2 1.2 2.1 1.6 2-2.4 2 1.9 2 .3 2-1.7 2 1.4 2-2.4 2-1.2 2 3.6 2-4.3 2 2.4 2.1-3.5 2 7.2 2 .6 2-5.7 2 2.8 2-3.3 2 3.4 2-.7 2-.7 2-.8 2 1 2.1 1.1 2 .4 2-1.1 2 2.1 2 1.1 2-4.8" fill="none" stroke="#505050" stroke-width="0.5" stroke-opacity="0.6" stroke-linejoin="round"/><path d="M136 675.6l2 2.2 2 1.2 2-2.8 2-1.8 2 2.5 2.1-2 2 .9 2-1.3 2 1.2 2-.8 2 1.3 2 0 2-.9 2-.1 2 .9 2-.8 2.1-3 2 1.2 2 .2 2-.7 2 2.1 2-.1 2-2.6 2 1.4 2 .7 2 1.2 2 0 2.1-.2 2-.2 2-.8 2-2.7 2 2.2 2 1.3 2-.6 2 .8 2 .2 2 .3 2-.6 2.1 2.3 2-3.6 2 .6 2 0 2 1.2 2 0" fill="none" stroke="#505050" stroke-width="0.5" stroke-opacity="0.6" stroke-linejoin="round"/><path d="M136 677.2l2-2.6 2 2 2-1.6 2 .6 2 2.8 2.1-3.6 2-.3 2 2.8 2-3.2 2 3.6 2-3.4 2 3.9 2-.7 2-1.4 2-1.2 2 .3 2.1 1.5 2-4.6 2 2.7 2-.6 2 .2 2-.4 2-1.1 2 2.6 2-.3 2 .6 2 0 2.1-2.9 2 5.9 2-5.6 2 2.1 2 3.1 2-2.6 2 .6 2 .9 2-.9 2-6.7 2 7.4 2.1-2.3 2 .5 2-2.1 2 3.3 2-2.4 2 1.1" fill="none" stroke="#505050" stroke-width="0.5" stroke-opacity="0.6" stroke-linejoin="round"/><path d="M136 679l2-4.7 2 1.1 2-.5 2 2.2 2 .6 2.1-2.4 2 .2 2 .4 2 .2 2 1.4 2 .3 2-5.9 2 3 2 2.4 2 .1 2-1.9 2.1 .3 2 1.3 2-6 2-.1 2 .6 2 .3 2-1.1 2 7.1 2-6.5 2 2.1 2-.1 2.1 4.2 2-.8 2 1 2-.5 2-1 2-.7 2 0 2-.8 2 4 2-2.8 2-.7 2.1 0 2 .5 2 .5 2 .3 2-.8 2 2.9" fill="none" stroke="#505050" stroke-width="0.5" stroke-opacity="0.6" stroke-linejoin="round"/><path d="M136 678.2l2-3.5 2 1.6 2-.7 2 1.1 2 .6 2.1-.2 2 .7 2-2.3 2 2 2-.7 2-.6 2 0 2 1.5 2-1.9 2 1.1 2-2.2 2.1 .6 2-1.2 2 2.5 2-5.9 2 5.3 2 1.6 2-3.9 2 .3 2 2.3 2-1.4 2 0 2.1-1.2 2 2.9 2 .8 2-.6 2-2.7 2 1.6 2-.4 2 1.3 2-1.6 2-1 2 .8 2.1-1 2 .5 2 1.4 2-.2 2 .8 2-.7" fill="none" stroke="#505050" stroke-width="0.5" stroke-opacity="0.6" stroke-linejoin="round"/><path d="M136 673.7l2 4.4 2-.7 2-.7 2-3 2 3.6 2.1-2.6 2 1.3 2 1.6 2-4.6 2 3.8 2-3 2 2.9 2 1.1 2-4.4 2 1.2 2 4.1 2.1-5.6 2-.3 2-.3 2 2.7 2-2 2 2.5 2-1.4 2 1.5 2 .1 2-1.6 2 2.8 2.1-.7 2-2.3 2 2.3 2-.7 2-.5 2 1.4 2 2.6 2-5.5 2 2.5 2 .7 2-1.5 2.1-1.7 2 1.8 2 .2 2 1.4 2-1 2-1.5" fill="none" stroke="#505050" stroke-width="0.5" stroke-opacity="0.6" stroke-linejoin="round"/><path d="M136 673l2 6 2-5.2 2 .5 2 .8 2-2.7 2.1 4.3 2-1 2 .9 2-2.1 2 1.8 2-.4 2 1 2-.9 2-1.1 2 2 2 .7 2.1-4.6 2-11.5 2-3.7 2 5.4 2 1.5 2 3.3 2 .7 2 3.7 2 1.3 2 2.1 2-.7 2.1 1.3 2-1.8 2 2.5 2-2.4 2-1.4 2 2.2 2-.3 2 1.1 2 2.5 2-4.4 2 2.4 2.1-.3 2 1.1 2-4.8 2 6.5 2-4.3 2-.5" fill="none" stroke="#8e2496" stroke-width="0.5" stroke-opacity="0.55" stroke-linejoin="round"/><path d="M136 674.4l2-.1 2-1.7 2 3.6 2-1.1 2 1 2.1-.4 2 2.3 2-.5 2-3.7 2 3.2 2 1.3 2 .8 2-4.6 2 2.7 2-5.1 2 5.5 2.1-2.9 2 1.7 2-8.2 2-7.5 2 1.4 2 8 2 1.8 2 1.7 2 1.3 2 .1 2-2.5 2.1 3.1 2-1.5 2 3.2 2-2.5 2-.6 2 3.8 2-1.6 2-2.9 2 1 2 .5 2-2.1 2.1 2.2 2-1.3 2 .2 2 1.2 2-.4 2-3.4" fill="none" stroke="#8e2496" stroke-width="0.5" stroke-opacity="0.55" stroke-linejoin="round"/><path d="M136 675.7l2 3.9 2-3.5 2-1.9 2 1.2 2 1 2.1 3.5 2-5.1 2 .3 2 .8 2 3.5 2-3.3 2 1.7 2-1.7 2 1.9 2-3.3 2 2.3 2.1-1.2 2 2.5 2-1.9 2-11.2 2 4.4 2 .3 2 5.6 2-2.4 2-1.9 2 3.5 2 3.5 2.1-3 2-.6 2 .1 2 3.6 2-1.3 2-3 2 1.7 2 .4 2 .1 2 0 2 1.4 2.1 0 2-1.6 2-.1 2 1.6 2-1.3 2-1" fill="none" stroke="#8e2496" stroke-width="0.5" stroke-opacity="0.55" stroke-linejoin="round"/><path d="M136 675.5l2 3.1 2-2.9 2 .8 2-1.5 2 1.2 2.1-.7 2-1.4 2 1.2 2-1 2 2.6 2-1.4 2-2.4 2 2.8 2 2 2-3.3 2 .3 2.1 .8 2-1.4 2-10.4 2 4.6 2 3.2 2 4.3 2-1.4 2-.5 2 2.6 2-.2 2 1.7 2.1-4.4 2 .9 2 1.6 2-1.7 2 .7 2-1.7 2 3.2 2-1.6 2 3.6 2-4.4 2 4.2 2.1-3.5 2 2.9 2 .7 2-3.3 2-2.7 2 4.8" fill="none" stroke="#8e2496" stroke-width="0.5" stroke-opacity="0.55" stroke-linejoin="round"/><path d="M136 676.5l2 .5 2-1.7 2 2.6 2-1.1 2-2.6 2.1 .2 2-2 2 7.1 2-5.1 2 1 2 1.3 2-.8 2 1.1 2-.9 2-.4 2 3.5 2.1-4.7 2-2.8 2-7.1 2 1 2 7.2 2 .7 2 2.2 2-1.2 2-.5 2 .2 2 1.8 2.1 2 2-2.6 2 1.5 2-.7 2-.6 2 .5 2-2.4 2 2.9 2 .4 2-2.9 2 2.3 2.1-.2 2-1.5 2 2.5 2-.1 2-2 2 1" fill="none" stroke="#8e2496" stroke-width="0.5" stroke-opacity="0.55" stroke-linejoin="round"/><path d="M136 676.3l2-.2 2-1.2 2 .1 2 .1 2 2.1 2.1-2 2 2.8 2-3.3 2-.5 2-1.3 2 3.7 2 .7 2 .9 2-3 2-1.3 2-2.3 2.1 .8 2-.9 2 2 2-1.4 2 .4 2 .8 2 1.8 2-1.2 2-.9 2 1.5 2-1.7 2.1 3.6 2 2.9 2-4.6 2 4.2 2-3.1 2 2.8 2-4.6 2 1.6 2 1.1 2-.4 2 1 2.1-1.3 2-1.2 2 .6 2 .7 2-1.8 2 0" fill="none" stroke="#8e2496" stroke-width="0.5" stroke-opacity="0.55" stroke-linejoin="round"/><path d="M136 675.9l2 1.3 2-.2 2-1.6 2 1.6 2 1.8 2.1-.9 2-.4 2-3.3 2 4.1 2-1.7 2-.4 2-1.8 2-3 2 4 2 1.5 2-.9 2.1-2.2 2 6 2 3 2-5.6 2 4.4 2-5.6 2 1.2 2 .9 2-1.4 2-4.8 2 3.4 2.1 1.9 2-1.1 2 .8 2 1.8 2-2.2 2-2.1 2 1.8 2-2.5 2 2.1 2 3.5 2-2.2 2.1-3 2 .4 2 3.4 2-.7 2-.4 2-3.2" fill="none" stroke="#8e2496" stroke-width="0.5" stroke-opacity="0.55" stroke-linejoin="round"/><path d="M136 675.9l2 1.3 2-1.5 2-2.2 2-.1 2 3.2 2.1 1.2 2-1.9 2-1.1 2 3.3 2-4.9 2 5.6 2-2.6 2-1.2 2 .8 2-2.2 2 3.2 2.1 .3 2-1.2 2 1.3 2 2.1 2-3.7 2 1.8 2-3.7 2 5.1 2-3.4 2 2.9 2-4.1 2.1 5.8 2-4.1 2 .2 2-1.3 2 1.4 2-1.1 2 2.8 2-1.4 2 1.4 2-1.8 2-1.1 2.1 1.3 2-.6 2 1.6 2-2.1 2-1.8 2 2.3" fill="none" stroke="#8e2496" stroke-width="0.5" stroke-opacity="0.55" stroke-linejoin="round"/><path d="M136 678l2 .5 2 .8 2-4.7 2-.3 2-1.6 2.1 4 2-3.6 2 3 2 3.5 2-3.3 2-1.4 2 .3 2-1.7 2 2.6 2-1.1 2-.4 2.1 .2 2 0 2-1.7 2-.3 2-.9 2 2 2 1.3 2-.3 2-.6 2 1.6 2-1 2.1 3.1 2-2.2 2 1 2 1.6 2-1.7 2-1.4 2 3 2-2.2 2-.4 2 .8 2-2.5 2.1 1.1 2 .6 2 .3 2-.5 2 2.5 2-1.8" fill="none" stroke="#8e2496" stroke-width="0.5" stroke-opacity="0.55" stroke-linejoin="round"/><path d="M136 673.6l2 2.6 2 1.2 2-2 2 1.2 2 1.2 2.1-2.2 2 .2 2 .3 2 0 2-2.7 2 3.9 2 .7 2-3.2 2 1 2 1.2 2-2 2.1 2 2 .2 2-2.6 2 2.3 2 .7 2-2.4 2 2.3 2-2.3 2 2 2-.2 2-1.4 2.1 1.3 2-2.3 2 .4 2 0 2 1.3 2-.3 2 .3 2-.2 2 .2 2 .4 2-.9 2.1 3.9 2-3 2 0 2-.9 2-.7 2-.6" fill="none" stroke="#8e2496" stroke-width="0.5" stroke-opacity="0.55" stroke-linejoin="round"/><path d="M136 674.1l2-.6 2 .9 2 2.6 2-1.7 2-2 2.1 .1 2 1 2 3 2-2.9 2 1.1 2 1.3 2 1.7 2-5.9 2 3 2 1.5 2-.1 2.1-1.7 2 .8 2-3 2-.5 2 2.7 2-1.4 2 1.4 2-2.8 2 3.6 2 .8 2-1.2 2.1 1.4 2 1.6 2-2.8 2 .2 2-2 2 4.1 2-2.2 2-1 2-.1 2 3.9 2-3.6 2.1 1.3 2-1.6 2 .8 2 1.4 2-1.3 2 1" fill="none" stroke="#8e2496" stroke-width="0.5" stroke-opacity="0.55" stroke-linejoin="round"/><path d="M136 674.6l2-.3 2 1.5 2-2.2 2 3.9 2-3.6 2.1 .2 2 3.3 2-.9 2-2.9 2 1.3 2 1.1 2 .2 2 1.9 2-3.1 2 2.6 2-3.7 2.1 3.1 2-1.8 2 4.5 2-4 2 2.4 2-2 2-.1 2-.8 2-.8 2 2.4 2-2 2.1 .6 2 1.5 2-1.8 2-1 2 3.8 2-.9 2-1.5 2-.6 2-1.7 2 6.2 2-4.2 2.1-1.1 2 1.4 2 2.5 2-2.8 2 .6 2 .9" fill="none" stroke="#8e2496" stroke-width="0.5" stroke-opacity="0.55" stroke-linejoin="round"/><path d="M136 676.4l2-.2 2-.8 2-2.1 2-.3 2 1.3 2.1 1.8 2-1.9 2 2.2 2-.4 2 .1 2-1 2-2 2 5.5 2-2.7 2 1.8 2-2.2 2.1 1 2-1.1 2 3.7 2-1.1 2-.7 2-4.1 2 1.9 2 .1 2 2 2 .2 2-3.3 2.1 4.6 2-4.1 2 .8 2 1.1 2-1.6 2 1.9 2-2.2 2 1.8 2 1.3 2-1.5 2-.7 2.1-1 2 2.4 2-2.3 2 1 2-.9 2-.8" fill="none" stroke="#8e2496" stroke-width="0.5" stroke-opacity="0.55" stroke-linejoin="round"/><path d="M136 674.9l2 2 2-1.5 2 .8 2 .1 2 3.4 2.1-5.2 2 4.4 2-.9 2-4.6 2 .7 2 3.5 2-2.3 2-.8 2-2.1 2 5.7 2 1.1 2.1-4.1 2 2 2-2.8 2-2.4 2 .8 2 .6 2-.4 2 3.8 2-.7 2-.1 2-1.6 2.1 2.3 2 .4 2 1 2-2.6 2-1.7 2 3.3 2-1 2-.2 2 1.5 2 1.1 2-3 2.1-2.1 2 2.2 2 .4 2-2.1 2 2.4 2 .2" fill="none" stroke="#8e2496" stroke-width="0.5" stroke-opacity="0.55" stroke-linejoin="round"/><path d="M136 674.9l2 1.5 2-3.1 2 2 2 1.3 2-1.9 2.1 2.1 2-3.3 2 1.6 2 .2 2-1.6 2 1.3 2 1.1 2-1.9 2 4.3 2-4.8 2 5.5 2.1-3.7 2 1.8 2-4.1 2-.2 2 3.3 2 1.8 2-1.5 2-3.4 2 3.9 2 .5 2-.5 2.1-.5 2 2.1 2-3.2 2-3.3 2 1.2 2 4.1 2-1.1 2-.4 2 .6 2-.8 2-.7 2.1 2.1 2-1.2 2-2.8 2 3.5 2-.9 2-1.7" fill="none" stroke="#8e2496" stroke-width="0.5" stroke-opacity="0.55" stroke-linejoin="round"/><path d="M136 674.7l2-.2 2 3.2 2-2.1 2 2.7 2-2.9 2.1 1.8 2 .2 2-1.3 2 2.5 2-1.1 2-2.3 2 2.5 2-1.7 2 1.4 2-.4 2-1 2.1 1.3 2-1.8 2 3.3 2-1.1 2-2.6 2 .8 2 1 2 .2 2-.5 2-.9 2 .5 2.1-.4 2-1 2 .1 2-.7 2 1.4 2 .4 2-.9 2 .5 2-1.3 2 4.2 2-.6 2.1-1.9 2-.5 2 .2 2 2.5 2-2.6 2 1.1" fill="none" stroke="#8e2496" stroke-width="0.5" stroke-opacity="0.55" stroke-linejoin="round"/><path d="M136 676.8l2-.3 2 .7 2-2.6 2-.5 2 2.6 2.1 3.3 2-4.3 2-.3 2 .2 2-1.2 2 1.6 2-.4 2-1.1 2 2 2 1.8 2-1.1 2.1 .9 2-1.8 2-.7 2 1.9 2-2.2 2 .3 2 .1 2 4.7 2-4.5 2-4.6 2 5.6 2.1-2.5 2 2.6 2-.3 2-4.1 2 5.7 2-2.6 2-1.6 2 1.7 2-.9 2-1.5 2 2.2 2.1 .3 2 .2 2-.1 2 .8 2-.8 2 .8" fill="none" stroke="#8e2496" stroke-width="0.5" stroke-opacity="0.55" stroke-linejoin="round"/><path d="M136 674.3l2 .2 2 1.3 2 1.5 2-1.4 2-2.4 2.1 1.9 2-.8 2 .6 2 1.2 2-.7 2 .1 2 .8 2-1.1 2 2.3 2-1.6 2 1.1 2.1-2.4 2 2.8 2-3.9 2 1.5 2 1.1 2-3.5 2 3.5 2 0 2 .2 2 1.2 2-1.7 2.1-1.8 2 2.8 2-3.5 2 2.1 2 .8 2-1.2 2 .1 2 0 2 2.2 2-4.2 2 4.6 2.1-2.1 2 .4 2-.7 2 1 2-1.9 2 .2" fill="none" stroke="#8e2496" stroke-width="0.5" stroke-opacity="0.55" stroke-linejoin="round"/><path d="M136 675.8l2 .7 2 3 2-4.9 2 1.3 2 .8 2.1-2.4 2 3.4 2-3.8 2 1.3 2-1.2 2 5 2-3.9 2 3.1 2-4.1 2 2.6 2-2.3 2.1 .4 2 .5 2-1.4 2-.8 2 3.3 2 1 2-1.5 2-.7 2 3.1 2-1.5 2-3.7 2.1 1.4 2-.2 2 .5 2 1.6 2-.4 2-2.3 2 2.6 2-.6 2-.1 2 .9 2 .7 2.1 0 2-2.9 2 1.4 2 .1 2-2.1 2 .2" fill="none" stroke="#8e2496" stroke-width="0.5" stroke-opacity="0.55" stroke-linejoin="round"/><path d="M136 673l2 3.8 2-1.6 2 2.1 2-1 2 1.8 2.1-3.9 2 .3 2 .7 2-1.4 2 3.2 2-2.8 2 1.5 2-1.3 2-1.3 2 3 2 3.1 2.1-3.1 2 1.4 2-2.3 2-.3 2-.3 2 3 2-.7 2-1.6 2 .1 2-.9 2 2.7 2.1-5.6 2 2.6 2 .6 2-.1 2 .2 2 1.1 2-1.2 2-.4 2 1.3 2 1.4 2-2.4 2.1 4.2 2-5.3 2 .3 2 4.2 2-3.2 2 1.3" fill="none" stroke="#8e2496" stroke-width="0.5" stroke-opacity="0.55" stroke-linejoin="round"/>
<path d="M136 676.6l2.3 1.7 2.2 .7 2.3-.6 2.3-1.8 2.2 1.2 2.3-1.4 2.3-4.7 2.2 1.6 2.3 1.1 2.3-2.2 2.2 2.8 2.3 1.3 2.3 2.3 2.2-4.5 2.3 .4 2.3 1.1 2.2 .3 2.3-2 2.3 1.1 2.2-.7 2.3 .1 2.3 4 2.2-3.9 2.3 .5 2.3-.3 2.2-2.9 2.3 6.3 2.3-3 2.2 1.6 2.3-1.7 2.3 1.5 2.2 .6 2.3-3.8 2.3 3.1 2.2 3.9 2.3-6.2 2.3 2.2 2.2 .3 2.3-1.5" fill="none" stroke="#8a1a8e" stroke-width="0.5" stroke-opacity="0.6"/><path d="M136 675.7l2.3 2.1 2.2-.8 2.3-2.6 2.3 .3 2.2 .7 2.3 .4 2.3 1.8 2.2-2.5 2.3-2.7 2.3 3.6 2.2-1.3 2.3 0 2.3 1.4 2.2-.4 2.3-1.5 2.3 5.1 2.2-4.2 2.3 2 2.3-2.5 2.2 4.3 2.3-4 2.3 4.1 2.2 .6 2.3 .2 2.3 .3 2.2-4.7 2.3 1.8 2.3-1.9 2.2 .4 2.3-.1 2.3-2.9 2.2 6 2.3-1.5 2.3-3.6 2.2 2.1 2.3-2.9 2.3 2.3 2.2 3.3 2.3-2.8" fill="none" stroke="#8a1a8e" stroke-width="0.5" stroke-opacity="0.6"/><path d="M136 676.3l2.3 2.5 2.2-4.9 2.3 2.7 2.3-2.3 2.2 3.7 2.3-2.2 2.3 3.5 2.2-6 2.3 3.9 2.3-1.8 2.2 2 2.3-2.3 2.3-.9 2.2 .5 2.3 1 2.3-.9 2.2-.9 2.3 3.1 2.3 .7 2.2-1.7 2.3 .5 2.3-.6 2.2 1.1 2.3-1.4 2.3 .7 2.2 2.7 2.3-4.7 2.3 0 2.2-1.5 2.3 2.3 2.3 1.1 2.2 1.5 2.3-1.6 2.3 1.7 2.2-2.9 2.3 .3 2.3-2.7 2.2 6 2.3 1.6" fill="none" stroke="#8a1a8e" stroke-width="0.5" stroke-opacity="0.6"/><path d="M136 676.9l2.3-2.1 2.2 5.1 2.3-2.6 2.3-.5 2.2-1.6 2.3 .2 2.3 1.3 2.2 1.4 2.3-.5 2.3 1.1 2.2-1.3 2.3-.1 2.3 6.2 2.2-5.1 2.3-5.3 2.3 3.8 2.2 .9 2.3 .1 2.3-1.6 2.2 2 2.3-.4 2.3-.9 2.2-1.8 2.3 1.5 2.3-4 2.2 3.8 2.3-3.8 2.3 1.9 2.2 1.4 2.3 1.7 2.3-1 2.2-.8 2.3 .3 2.3 1.9 2.2-1.2 2.3-2.9 2.3 1.9 2.2-1.2 2.3-.6" fill="none" stroke="#8a1a8e" stroke-width="0.5" stroke-opacity="0.6"/><path d="M136 671.6l2.3 4.3 2.2-2.9 2.3 2.2 2.3-.2 2.2-1 2.3 3.5 2.3-1.7 2.2-.7 2.3 2 2.3-3.6 2.2 4.9 2.3-3.6 2.3 2 2.2-2.4 2.3 .1 2.3 2.4 2.2-1.3 2.3-1 2.3 .7 2.2 3.5 2.3-3.8 2.3-.8 2.2 1 2.3 .6 2.3 2.6 2.2-1.5 2.3-1.5 2.3 1.1 2.2-.4 2.3 1.3 2.3-3.6 2.2 2.6 2.3 .9 2.3 .6 2.2-.1 2.3-2 2.3 .2 2.2-.5 2.3 4.3" fill="none" stroke="#8a1a8e" stroke-width="0.5" stroke-opacity="0.6"/><path d="M136 676.6l2.3-2.1 2.2-2.6 2.3 0 2.3 5.9 2.2-1.6 2.3-1.3 2.3 .4 2.2 .3 2.3 2 2.3-4.5 2.2 4.6 2.3-3.4 2.3 2.4 2.2-2.8 2.3 1.9 2.3-.4 2.2-2.6 2.3 4.6 2.3 2.9 2.2-5.8 2.3 3.6 2.3-1.3 2.2-2.4 2.3 3.9 2.3-4.1 2.2 1.9 2.3 1.9 2.3-3.1 2.2 2.1 2.3-.2 2.3-.1 2.2 1.3 2.3-1.6 2.3 .6 2.2-3.4 2.3 0 2.3 4.3 2.2-1.9 2.3 .2" fill="none" stroke="#8a1a8e" stroke-width="0.5" stroke-opacity="0.6"/><path d="M136 672.7l2.3 4.3 2.2 3 2.3-5.9 2.3-.9 2.2-.4 2.3 3.1 2.3 1.2 2.2-5.6 2.3 8.7 2.3-3.1 2.2-3.7 2.3 4.2 2.3 .9 2.2-4.3 2.3-.9 2.3 2.5 2.2 1.3 2.3-.9 2.3 3.7 2.2-1.8 2.3 1 2.3 0 2.2-.1 2.3-7 2.3 4.6 2.2 2.9 2.3-2.6 2.3-.5 2.2-3.3 2.3 2.2 2.3 1.7 2.2-.7 2.3-1.8 2.3 2.7 2.2-2.8 2.3-.3 2.3 1.3 2.2 .8 2.3 1" fill="none" stroke="#8a1a8e" stroke-width="0.5" stroke-opacity="0.6"/><path d="M136 677l2.3-.2 2.2 .3 2.3-1.7 2.3-4.3 2.2 5.8 2.3-2.2 2.3-.4 2.2 .2 2.3 .7 2.3 .8 2.2-2.5 2.3 .7 2.3 2.9 2.2-3.4 2.3 3.6 2.3-2.2 2.2-.4 2.3-.2 2.3 4.8 2.2-4 2.3 1.7 2.3-4.2 2.2 1.7 2.3 2.7 2.3-1.8 2.2-1.7 2.3 .7 2.3 .9 2.2 .4 2.3-1.1 2.3 3.6 2.2-1.5 2.3-2.4 2.3 2.7 2.2 .4 2.3 .6 2.3-2.9 2.2-1.2 2.3 3.5" fill="none" stroke="#8a1a8e" stroke-width="0.5" stroke-opacity="0.6"/>
<line x1="136" y1="675.8" x2="224.4" y2="675.8" stroke="#3a3a3a" stroke-width="4.4"/>
<path d="M136 674.4l2.3 1.9 2.2 1.8 2.3-1.7 2.3-1.6 2.2-.9 2.3-.2 2.3 2.5 2.2 1.2 2.3-3 2.3-.3 2.2 4.2 2.3-2.7 2.3 .7 2.2-.5 2.3 1.6 2.3-.8 2.2-1.8 2.3 .4 2.3-.3 2.2 4.7 2.3-3.1 2.3-2.1 2.2 .7 2.3 .4 2.3-.4 2.2 1.6 2.3-1.7 2.3 1.6 2.2-1 2.3-1 2.3 1.5 2.2-.7 2.3 .1 2.3 1.5 2.2-.8 2.3 2 2.3-1.5 2.2 0 2.3-.1" fill="none" stroke="#333" stroke-width="0.8" stroke-opacity="0.7"/><path d="M136 675.1l2.3 .6 2.2 1.2 2.3-1.4 2.3-.6 2.2 .5 2.3 .5 2.3 1.9 2.2-2.7 2.3-1.7 2.3 5.5 2.2-4.1 2.3 .7 2.3 .4 2.2 1.5 2.3 .8 2.3-.7 2.2-2 2.3 1.4 2.3-1 2.2-.2 2.3-.8 2.3 .8 2.2 1.6 2.3-2.1 2.3-1.6 2.2 1.1 2.3 1.9 2.3-2.4 2.2 1.5 2.3 .7 2.3-.7 2.2-.9 2.3 1.8 2.3-3.5 2.2 2.6 2.3 .7 2.3-2.4 2.2 .5 2.3 2.7" fill="none" stroke="#333" stroke-width="0.8" stroke-opacity="0.7"/><path d="M136 676.5l2.3-2.4 2.2 2 2.3-.5 2.3-2.9 2.2 3 2.3-2.2 2.3 1.3 2.2-1.6 2.3 6 2.3-2.8 2.2 1 2.3-1.4 2.3-4.2 2.2 1.8 2.3 3.3 2.3-2.4 2.2-.6 2.3 2.8 2.3-2.1 2.2-.3 2.3 3.4 2.3-2.4 2.2 1.1 2.3-.2 2.3 1.2 2.2-2.5 2.3 .9 2.3 .7 2.2-1 2.3 .6 2.3-1.5 2.2 3 2.3-4 2.3 2.2 2.2 .2 2.3-3 2.3 2.2 2.2 1.5 2.3-2.8" fill="none" stroke="#333" stroke-width="0.8" stroke-opacity="0.7"/><path d="M136 674.8l2.3 6 2.2-6.5 2.3 3.1 2.3-2.3 2.2-.4 2.3 .8 2.3-1.8 2.2 2.9 2.3-1.9 2.3 .8 2.2 1.1 2.3-2.7 2.3 3.6 2.2-1.6 2.3-1 2.3 .6 2.2 .3 2.3-.1 2.3-1.6 2.2 3.5 2.3-3.3 2.3 .6 2.2 2.4 2.3 .7 2.3-1.4 2.2-.5 2.3 .5 2.3 .4 2.2 .6 2.3-1.2 2.3 .6 2.2-2.4 2.3 1 2.3-1.1 2.2-2.7 2.3 4.7 2.3 1.5 2.2-4.7 2.3 4.5" fill="none" stroke="#333" stroke-width="0.8" stroke-opacity="0.7"/><path d="M136 676.5l2.3-2.1 2.2 1.9 2.3-1.5 2.3 2.7 2.2-1.4 2.3 1.9 2.3-1.9 2.2-2.5 2.3 .5 2.3 2.3 2.2 0 2.3-1.9 2.3 1 2.2 .5 2.3 .5 2.3 .7 2.2-.8 2.3-.1 2.3 1.4 2.2-.5 2.3 .6 2.3-2 2.2 .7 2.3-3.1 2.3 .2 2.2 2.3 2.3-.3 2.3 .4 2.2 .8 2.3 0 2.3-2.2 2.2 1.7 2.3-.1 2.3-.1 2.2-3.8 2.3 1.7 2.3-.2 2.2 .1 2.3 3.3" fill="none" stroke="#333" stroke-width="0.8" stroke-opacity="0.7"/><path d="M136 674.2l2.3-.2 2.2 .7 2.3-.7 2.3 2.6 2.2-.5 2.3-.6 2.3-.5 2.2 1.1 2.3-.1 2.3 .3 2.2 .3 2.3-1.4 2.3-1.4 2.2 1.8 2.3 .7 2.3 .6 2.2-1.3 2.3-.4 2.3-1.7 2.2 1.9 2.3-.4 2.3-.2 2.2 2.8 2.3 .6 2.3-.9 2.2-2.4 2.3 4.4 2.3-1.2 2.2-4 2.3 1.9 2.3-.5 2.2 .3 2.3 1.9 2.3-2.9 2.2-1.2 2.3 5.2 2.3-2.8 2.2-1.4 2.3-.2" fill="none" stroke="#333" stroke-width="0.8" stroke-opacity="0.7"/><path d="M136 679l2.3-5.6 2.2 1.3 2.3 1.8 2.3-1 2.2 .3 2.3 1.9 2.3-2.3 2.2 2 2.3-1.5 2.3-.6 2.2 1.6 2.3 .9 2.3-2.1 2.2-1.9 2.3 .9 2.3-.1 2.2 1.2 2.3-.2 2.3 .6 2.2-.2 2.3 .3 2.3 2.2 2.2-2.5 2.3-.8 2.3 1.3 2.2 1.6 2.3-2.5 2.3-.8 2.2 2.1 2.3-.5 2.3-1.3 2.2 1.3 2.3-.6 2.3 1.3 2.2 0 2.3 .3 2.3-1.5 2.2-2 2.3 2.9" fill="none" stroke="#333" stroke-width="0.8" stroke-opacity="0.7"/><path d="M136 676.2l2.3-2.4 2.2 2.3 2.3-1.3 2.3 .3 2.2 1.1 2.3-.1 2.3 3.2 2.2-1.8 2.3-2.2 2.3 2.7 2.2 .9 2.3-2 2.3-3.9 2.2 1.1 2.3 .6 2.3-.8 2.2 1.9 2.3-.3 2.3-.4 2.2 .7 2.3-.8 2.3 .6 2.2-1.6 2.3 2 2.3-.4 2.2-1.6 2.3 4.1 2.3-1.7 2.2-1.1 2.3 .6 2.3 .9 2.2-1.3 2.3 2.3 2.3-2.2 2.2 0 2.3-1.6 2.3 .5 2.2 .8 2.3 1.3" fill="none" stroke="#333" stroke-width="0.8" stroke-opacity="0.7"/><path d="M136 677l2.3-.6 2.2-.4 2.3-1 2.3 2.5 2.2-.5 2.3-2 2.3 1.5 2.2 .1 2.3 .5 2.3 1.3 2.2-2.2 2.3 .1 2.3-.6 2.2-.2 2.3-1.2 2.3 2.2 2.2-2.1 2.3 4.1 2.3 1.4 2.2-4.5 2.3-.6 2.3-.6 2.2 1.9 2.3-2.3 2.3 2 2.2 1.8 2.3 .5 2.3-2.9 2.2 3.4 2.3-4.4 2.3 1.4 2.2 2 2.3-1.4 2.3-1.3 2.2 1.2 2.3 0 2.3-1.3 2.2 1.3 2.3 .9" fill="none" stroke="#333" stroke-width="0.8" stroke-opacity="0.7"/><path d="M136 677.1l2.3-1.3 2.2-2.2 2.3 2.7 2.3-2.4 2.2 5.1 2.3-2.1 2.3-3.4 2.2 1.7 2.3 2.1 2.3-2.3 2.2-.7 2.3 2 2.3-1.7 2.2-.1 2.3 1.6 2.3-1.9 2.2 2.2 2.3-1.5 2.3 2.7 2.2-.8 2.3-.9 2.3 0 2.2-2.3 2.3 .8 2.3 1.2 2.2-.7 2.3 2.2 2.3 1.5 2.2-.7 2.3-2.8 2.3 1.2 2.2 1.3 2.3 .4 2.3-5.5 2.2 4.2 2.3-2.8 2.3 .1 2.2 2.8 2.3-2.8" fill="none" stroke="#333" stroke-width="0.8" stroke-opacity="0.7"/><path d="M136 674.2l2.3 0 2.2 1.4 2.3 .4 2.3 .8 2.2-.1 2.3-.3 2.3-.7 2.2 2.8 2.3-1.1 2.3-.4 2.2-.6 2.3 .3 2.3-1.5 2.2-.4 2.3-1.3 2.3 2.4 2.2-.1 2.3 .3 2.3-.1 2.2-2.5 2.3 3.2 2.3 1 2.2-4 2.3 2.4 2.3 .4 2.2 .7 2.3-3 2.3-.1 2.2 1.2 2.3 1.2 2.3-2.1 2.2 3 2.3-1.3 2.3-.9 2.2 1 2.3 1.1 2.3-3.1 2.2-.3 2.3 1.5" fill="none" stroke="#333" stroke-width="0.8" stroke-opacity="0.7"/><path d="M136 675.4l2.3 .4 2.2 2.4 2.3-.9 2.3-2.8 2.2 3.1 2.3-3.5 2.3 1 2.2 .1 2.3-.3 2.3 2.7 2.2 .1 2.3-2 2.3-.1 2.2 .2 2.3-1 2.3-2.1 2.2 4.6 2.3-2.5 2.3 1 2.2-.1 2.3-1.7 2.3 3.2 2.2-1.2 2.3-1 2.3 .6 2.2 .1 2.3 3.2 2.3-3.7 2.2 1.7 2.3-.4 2.3-.1 2.2-2.6 2.3 5.3 2.3-1.8 2.2-3 2.3 .4 2.3 0 2.2-.4 2.3 3" fill="none" stroke="#333" stroke-width="0.8" stroke-opacity="0.7"/><path d="M136 675.1l2.3 3 2.2-2.6 2.3 1.4 2.3-2.7 2.2 4.1 2.3-3.7 2.3-.7 2.2 .5 2.3 3 2.3-1.2 2.2-2.8 2.3 1.7 2.3 .1 2.2 .4 2.3-1.7 2.3 2.9 2.2-3.2 2.3 4.2 2.3-2.5 2.2 1.2 2.3-2.6 2.3 1.8 2.2-.6 2.3-.1 2.3 2.8 2.2-1.1 2.3 .9 2.3-.4 2.2-1.1 2.3-.2 2.3-.6 2.2-.5 2.3 3 2.3-3.6 2.2 .6 2.3 .8 2.3 1.1 2.2 .7 2.3-2.1" fill="none" stroke="#333" stroke-width="0.8" stroke-opacity="0.7"/><path d="M136 676.4l2.3 .4 2.2-1.1 2.3 1.5 2.3-1.8 2.2-.2 2.3 1.3 2.3-3.3 2.2 2.2 2.3 .9 2.3-.8 2.2 1 2.3-.2 2.3-1.2 2.2-1.2 2.3 3.6 2.3-.8 2.2-2.7 2.3 3 2.3-3 2.2 1.8 2.3 .3 2.3 1.7 2.2-4.2 2.3 4 2.3-2.5 2.2-.1 2.3 2.9 2.3-.7 2.2-.4 2.3-2.2 2.3 1 2.2 3.4 2.3-5.7 2.3 3.1 2.2-4 2.3 3.9 2.3 0 2.2-3.5 2.3 1.6" fill="none" stroke="#333" stroke-width="0.8" stroke-opacity="0.7"/>
<path d="M241.4 673.9l2-1.5 1.9-.5 2 1.6 2 1 2 .5 1.9 .3 2 .9 2 .9 1.9 .4 2-4.6 2 1.7 1.9-1.7 2 3.9 2-2.7 2 .5 1.9-1.2 2-4.1 2-45.1 1.9-6.5 2 20.7 2 18.7 2 6.6 1.9 .7 2 1.1 2 5.2 1.9 2.5 2-1.7 2 2 1.9 .2 2-1.6 2 2.1 2 2.9 1.9-1.6 2-2 2 2.3 1.9-1.9 2 1.5 2-1.8 1.9 1.7 2-2.3 2 2.1 2 1.1 1.9-2.5 2 .2" fill="none" stroke="#505050" stroke-width="0.5" stroke-opacity="0.6" stroke-linejoin="round"/><path d="M241.4 674.3l2-1.4 1.9 1.1 2 2.4 2-3.9 2 1.3 1.9 .7 2 .7 2-.5 1.9-1 2 4.5 2-3.1 1.9 1.4 2-2.7 2 .5 2 .1 1.9-2.2 2-13.6 2-25.3 1.9 4.3 2 6.4 2 10.7 2 8.6 1.9-.8 2 6.3 2 1.7 1.9-1 2 2.8 2 .1 1.9-1.2 2 1.8 2 5.1 2-3.4 1.9 1.6 2 0 2 .1 1.9-2.3 2 .1 2 .6 1.9-2 2 1.5 2 .6 2-2 1.9 .7 2 .5" fill="none" stroke="#505050" stroke-width="0.5" stroke-opacity="0.6" stroke-linejoin="round"/><path d="M241.4 674.2l2 .2 1.9 .8 2 .8 2-5.3 2 3.3 1.9 4.3 2-4 2 1.4 1.9 .4 2-1 2-1.1 1.9-1.2 2 2.1 2-.1 2-1.4 1.9 1.2 2-18.2 2-17.5 1.9 7.2 2 10.4 2 6.9 2 3.6 1.9 3.4 2-.7 2 2 1.9 0 2 .4 2 .2 1.9 1 2 1.7 2-1.3 2 .8 1.9-.2 2-2.1 2 3.5 1.9-2.1 2 .2 2 .6 1.9 1 2-.9 2 .4 2 1.3 1.9 0 2 1" fill="none" stroke="#505050" stroke-width="0.5" stroke-opacity="0.6" stroke-linejoin="round"/><path d="M241.4 675.2l2-2.4 1.9 1.1 2-1.4 2 .2 2 1.5 1.9-.6 2 .6 2 .2 1.9 .2 2-1.2 2 4 1.9-2.5 2-.1 2 1.1 2-1.3 1.9-3 2 2.1 2-8.8 1.9-13.8 2-5.9 2 7.7 2 5.1 1.9 4.6 2-1.1 2 5.7 1.9 2.1 2 2.5 2 .7 1.9 .9 2 .2 2-.5 2-.7 1.9 2 2 2 2-4.7 1.9 2.1 2 .4 2 1.9 1.9-1.9 2 .1 2-.6 2 .9 1.9-.7 2 .6" fill="none" stroke="#505050" stroke-width="0.5" stroke-opacity="0.6" stroke-linejoin="round"/><path d="M241.4 674.2l2 4.1 1.9-4 2 .8 2 1.1 2-3.3 1.9 2.6 2 1.5 2-2.2 1.9 .5 2 2.3 2-5.5 1.9 3 2 .2 2 2.7 2-5.5 1.9 2 2-1.9 2-5.8 1.9-8.9 2-6.4 2 3.6 2 6.2 1.9 .7 2 5.7 2-.7 1.9 1.3 2 4.2 2 .2 1.9-.6 2 1.6 2-.2 2 0 1.9 2.2 2-.3 2-1.6 1.9 1 2 1.2 2-.6 1.9-1.4 2-.1 2 .2 2 .1 1.9-2.3 2 3.1" fill="none" stroke="#505050" stroke-width="0.5" stroke-opacity="0.6" stroke-linejoin="round"/><path d="M241.4 675.4l2-.4 1.9 .6 2-.3 2-1 2-.3 1.9 2.5 2 2.5 2-6.3 1.9 3.1 2-1.2 2 1.5 1.9 2 2-1 2 0 2-1.3 1.9-1.7 2-9.1 2-9 1.9 4.7 2 6.4 2 1.3 2 2.8 1.9 3.7 2 .6 2-3.1 1.9 2.4 2-2.1 2 2.8 1.9 1.8 2-1.4 2-1 2 1.6 1.9-3.5 2 1.3 2 .3 1.9 1.6 2-4.8 2 2.6 1.9 2.2 2-3.7 2 2.9 2-2.1 1.9 2.8 2-.6" fill="none" stroke="#505050" stroke-width="0.5" stroke-opacity="0.6" stroke-linejoin="round"/><path d="M241.4 675.7l2-2.8 1.9 1.6 2 2.6 2-4.5 2 1.7 1.9-1.2 2 2.5 2-1.6 1.9-.2 2 3.5 2-2.2 1.9-.8 2 1.8 2-2.9 2 .8 1.9 2.1 2-.7 2-1.9 1.9-9.4 2-4.3 2 3.7 2 4.2 1.9 2.4 2-1.3 2 .2 1.9 2.3 2 1.8 2 1.3 1.9-.5 2 2.4 2-4.6 2 2.4 1.9 1.7 2-.4 2-1.8 1.9 .2 2 1.9 2-1.4 1.9 4.3 2-3.6 2-2.7 2 1.4 1.9 2.6 2-3" fill="none" stroke="#505050" stroke-width="0.5" stroke-opacity="0.6" stroke-linejoin="round"/><path d="M241.4 675.1l2 .4 1.9-4.9 2 2.5 2 .8 2-.7 1.9 1.4 2 1.5 2 1.3 1.9-3 2-1 2 1.4 1.9 .2 2 2.1 2-.5 2-5 1.9 4.8 2 .3 2-8.9 1.9-7.2 2 7.1 2 2.1 2-1.1 1.9 5.5 2-.9 2-1.2 1.9-.7 2 3 2 .2 1.9-.4 2-.2 2 2.9 2-1.7 1.9-.2 2-1.4 2 2.6 1.9-3.1 2 .8 2 .4 1.9 2 2 1.2 2-2.4 2-.3 1.9 1 2-1.2" fill="none" stroke="#505050" stroke-width="0.5" stroke-opacity="0.6" stroke-linejoin="round"/><path d="M241.4 674.7l2-4.3 1.9 5.2 2-2.4 2-.4 2 1.8 1.9 .5 2-1.7 2-.6 1.9-.8 2 .5 2 2.8 1.9-.2 2-.1 2-1.9 2 .8 1.9-1.7 2 1.1 2-1.7 1.9-4.1 2 1.9 2-.2 2 1.2 1.9 1.9 2 .2 2 2 1.9 1.3 2-.6 2-1 1.9-1.1 2-1.1 2 .6 2-.3 1.9 4.4 2-2.5 2 .5 1.9-1.3 2 .3 2-.7 1.9-.4 2 3.1 2-.3 2-1.2 1.9 .3 2-.2" fill="none" stroke="#505050" stroke-width="0.5" stroke-opacity="0.6" stroke-linejoin="round"/><path d="M241.4 673.5l2 3.2 1.9 1.7 2-2.8 2-.8 2 1.7 1.9-1.8 2-1.2 2-1.2 1.9 .5 2 3.4 2-3.3 1.9 .3 2-1.2 2 3 2 .2 1.9-2 2-2.8 2-2.4 1.9-2.3 2 6.4 2 1.2 2 .4 1.9 1.5 2 0 2-1.6 1.9 .7 2 1.8 2-2 1.9-1.5 2-.1 2 2.8 2 .2 1.9-1.4 2 2.5 2-.6 1.9-3.2 2 1.3 2 0 1.9 1.2 2 .9 2-.6 2-2.4 1.9 1.8 2 .2" fill="none" stroke="#505050" stroke-width="0.5" stroke-opacity="0.6" stroke-linejoin="round"/><path d="M241.4 673.4l2 1.7 1.9 1.1 2-.2 2-2.3 2 .3 1.9-3.4 2 5.8 2-3.8 1.9 4.5 2-3.9 2 2 1.9-1 2-.7 2 1.5 2-1.2 1.9 2.7 2-3.6 2 3.5 1.9 5.5 2-2.6 2-.4 2-2.9 1.9 .1 2-2.2 2 .9 1.9 2.3 2 .4 2-.2 1.9-2 2-2.1 2 .9 2 1.5 1.9-1.5 2-.1 2 .4 1.9-.3 2-.6 2 1.2 1.9-.5 2 2.9 2-1 2-1 1.9 .6 2 1.8" fill="none" stroke="#505050" stroke-width="0.5" stroke-opacity="0.6" stroke-linejoin="round"/><path d="M241.4 674.3l2 .8 1.9-2.1 2 .1 2 3.9 2-4.5 1.9 .7 2 .7 2 2.7 1.9-4.4 2-.2 2 3.7 1.9-2.5 2 2.1 2 .1 2-4.6 1.9 2.1 2 2.1 2 0 1.9-3.3 2 2.3 2-3.8 2 2.9 1.9 3.8 2-3.3 2 3.2 1.9 .7 2-.1 2-4.6 1.9 3.1 2-1.6 2 1.4 2-1.4 1.9 .7 2-2.9 2 1.8 1.9 1.3 2 1.7 2-1.8 1.9 1.7 2-1 2-1 2 1.5 1.9-4.4 2 1.6" fill="none" stroke="#505050" stroke-width="0.5" stroke-opacity="0.6" stroke-linejoin="round"/><path d="M241.4 673.3l2 2.3 1.9 .4 2-1.6 2-.3 2 2.3 1.9-4.9 2 4.5 2-1.7 1.9-2.3 2 4.4 2-1.4 1.9-.8 2-.1 2-.5 2-.7 1.9 4.9 2-2.5 2-.2 1.9 .5 2 2.4 2-5.9 2 1.8 1.9-.2 2 3.6 2-4.8 1.9 2.8 2-3.7 2 3.1 1.9 .2 2-2.4 2 .3 2 2.8 1.9-.7 2 1.7 2-2.8 1.9-.3 2-2.5 2 4.4 1.9-.9 2 0 2-.6 2 1.9 1.9-2.5 2 3.9" fill="none" stroke="#505050" stroke-width="0.5" stroke-opacity="0.6" stroke-linejoin="round"/><path d="M241.4 674.1l2-.5 1.9 .9 2 1.7 2-.9 2-1.7 1.9 1.1 2-1.7 2 1.6 1.9-2.4 2 2.1 2 2.8 1.9-4.7 2-.4 2 3.9 2-2.8 1.9 2.5 2-.5 2-2.4 1.9 1.1 2 1.1 2 .9 2-2 1.9 2.6 2 1.7 2-2.4 1.9-3 2 2.7 2-3.4 1.9 3.2 2-2.4 2 1.6 2 1.2 1.9 .7 2-4.1 2 2.9 1.9 3.3 2-4.8 2 2.4 1.9 0 2-.1 2 .5 2-3.3 1.9 0 2 2.4" fill="none" stroke="#505050" stroke-width="0.5" stroke-opacity="0.6" stroke-linejoin="round"/><path d="M241.4 673.5l2 .8 1.9-.9 2 3 2-2.8 2 1.5 1.9-1.9 2 3.1 2-1.5 1.9 .8 2-2.1 2 2.2 1.9-2.2 2 1.3 2-1.2 2 1.9 1.9-.7 2-.8 2-2.3 1.9 2 2-1.7 2 2.8 2-.1 1.9 .2 2-2.5 2 1.9 1.9 1.7 2-.8 2-3.3 1.9 1 2-.9 2 .1 2 3.4 1.9-1.4 2-2.1 2 2.9 1.9 .1 2 2.1 2-.4 1.9-3 2 1.8 2-2.2 2 .3 1.9-1.4 2 1.6" fill="none" stroke="#505050" stroke-width="0.5" stroke-opacity="0.6" stroke-linejoin="round"/><path d="M241.4 674.2l2 .3 1.9-4.1 2 6.9 2-3.4 2 4.6 1.9-7.1 2 1.6 2-.7 1.9-.8 2 2.4 2 2.1 1.9 .8 2-4.9 2-.1 2 3 1.9-.9 2 1.8 2-3.8 1.9-.1 2-.7 2 .9 2 3.9 1.9-2.4 2 .1 2 1.6 1.9 .2 2 1.3 2-4.2 1.9 .9 2 1.5 2-1 2-1.2 1.9 1.5 2 2.2 2-4.5 1.9 2.3 2-3.1 2 4.1 1.9-1 2 .5 2-.3 2-1.2 1.9 1.3 2 .8" fill="none" stroke="#505050" stroke-width="0.5" stroke-opacity="0.6" stroke-linejoin="round"/><path d="M241.4 672.5l2 4.7 1.9-3.2 2-.2 2 1.3 2-2.5 1.9 3.3 2-2.8 2 .1 1.9 1.6 2 1 2 2.2 1.9-4.4 2-.1 2 .9 2 1.9 1.9-1.9 2-.8 2 .2 1.9 1.5 2 .1 2 .5 2-1.8 1.9 1.1 2-.6 2 1 1.9-1.9 2 1.7 2 .7 1.9-.4 2-2.5 2-.2 2 5.2 1.9-2.2 2-.7 2-.4 1.9 .2 2-.5 2 .3 1.9 2 2-2.4 2 .3 2-.7 1.9-1.1 2 1.2" fill="none" stroke="#505050" stroke-width="0.5" stroke-opacity="0.6" stroke-linejoin="round"/><path d="M241.4 674.7l2 3.9 1.9-5.5 2 2 2-.3 2 1.1 1.9-2.7 2 3.1 2-2.1 1.9-.8 2-.8 2 1.1 1.9-.8 2 .3 2 .2 2 .4 1.9-.1 2-1.4 2 1.5 1.9 0 2 2.7 2-1 2-3 1.9 .1 2 2.1 2-2.3 1.9 2.3 2-1.4 2 1.6 1.9-1.2 2 2.3 2 .4 2-2.2 1.9 4 2-2 2-.5 1.9-1.1 2-1.1 2 4 1.9-2.1 2 0 2-2.2 2 3 1.9-1.9 2-3.9" fill="none" stroke="#505050" stroke-width="0.5" stroke-opacity="0.6" stroke-linejoin="round"/><path d="M241.4 675l2-3.2 1.9 5.4 2-3.5 2 1.7 2-1.2 1.9-2 2 2.7 2-1.3 1.9 2.4 2-2.1 2-.6 1.9 .1 2-.6 2 .7 2 0 1.9-.2 2 1 2-3.7 1.9 .9 2 1.7 2 .6 2 2.8 1.9-1.2 2-1.1 2 2.2 1.9-1.7 2 .6 2-1.7 1.9 1.1 2 .1 2-2 2 5.3 1.9-3 2 1 2-3.8 1.9 1.7 2 2.7 2 1.1 1.9-3.4 2-.5 2-1.4 2 1 1.9 2.7 2-2.3" fill="none" stroke="#505050" stroke-width="0.5" stroke-opacity="0.6" stroke-linejoin="round"/><path d="M241.4 673.6l2 .6 1.9-.3 2 1.8 2-3.7 2-1 1.9 4.3 2 .1 2-2.7 1.9-.9 2 2 2 2.1 1.9-3.4 2-1.1 2 3.3 2-2.5 1.9 2.8 2-.7 2-1 1.9-.8 2-.4 2-.4 2 3.1 1.9-2.1 2 2.6 2-1.2 1.9-.9 2 .1 2 .5 1.9 1.5 2-1 2 0 2 .5 1.9 .6 2-.9 2 .3 1.9 .3 2-.5 2-3.6 1.9 3.8 2-3.1 2 4 2-2.1 1.9 .7 2-1.3" fill="none" stroke="#505050" stroke-width="0.5" stroke-opacity="0.6" stroke-linejoin="round"/><path d="M241.4 670.5l2 .6 1.9 2 2 .9 2 2.7 2-.2 1.9-3.6 2 3 2 .7 1.9-2.9 2-.3 2 .4 1.9 5.3 2-3.3 2-2 2 1.7 1.9 1.2 2-2.5 2-2.2 1.9 1.1 2-1.6 2 3.4 2 .2 1.9-1.8 2 2.2 2 0 1.9-2.7 2 1 2 2.8 1.9-3.3 2 2.2 2-1.7 2 4.3 1.9-.2 2 .2 2-2.8 1.9-.9 2-.6 2 .7 1.9-4.3 2 7.1 2-1.7 2-1.1 1.9-.7 2 2.5" fill="none" stroke="#505050" stroke-width="0.5" stroke-opacity="0.6" stroke-linejoin="round"/><path d="M241.4 675.9l2-3.6 1.9 3.9 2-3.1 2-1.5 2 4.8 1.9-2.9 2 1 2 1.3 1.9 2.1 2-5.5 2 1.1 1.9 3.1 2 .2 2-2.6 2 0 1.9 1.2 2-3.2 2 2.3 1.9-2.6 2 4.2 2-2.8 2 1.9 1.9 0 2-4.6 2 2.7 1.9 .8 2 1.2 2-1.4 1.9 .4 2 1.1 2-1 2 2.3 1.9-1 2-.1 2-1.3 1.9-.1 2 .7 2 .5 1.9-1.1 2 2.1 2 .9 2-1.4 1.9-1 2-.1" fill="none" stroke="#505050" stroke-width="0.5" stroke-opacity="0.6" stroke-linejoin="round"/><path d="M241.4 674.1l2-.1 1.9-.9 2 2.3 2 1.4 2-.8 1.9-1.1 2-2.8 2 1.4 1.9-1 2-1.5 2 3.4 1.9 .7 2-1.5 2-1.6 2 3.5 1.9-1.3 2 .5 2 0 1.9-.3 2-.4 2 2.5 2-1.1 1.9-.2 2-3.6 2 1.3 1.9 1 2-1 2 1.9 1.9-2.2 2-.3 2 1.6 2-.3 1.9 2.8 2 .9 2-4.4 1.9 1.4 2-.7 2 3.5 1.9-5.4 2 5 2-2.5 2 1.3 1.9-1 2-.5" fill="none" stroke="#505050" stroke-width="0.5" stroke-opacity="0.6" stroke-linejoin="round"/><path d="M241.4 673.8l2 .8 1.9-.6 2-1.7 2-.8 2 1.5 1.9 3 2-2.4 2 1.5 1.9-.3 2-.4 2 1.2 1.9-1.6 2 .4 2 2.2 2-2.2 1.9 .6 2-1.1 2 1.1 1.9-.4 2 2.3 2-2.7 2-1.6 1.9 3.5 2-2.9 2 2.8 1.9-1.6 2 .9 2-1.9 1.9 1 2-1.2 2 3.2 2-1 1.9-1.7 2 .5 2-.2 1.9-.1 2 1.5 2 1.2 1.9-2.5 2-1.5 2-1.2 2 .8 1.9 2 2 1" fill="none" stroke="#505050" stroke-width="0.5" stroke-opacity="0.6" stroke-linejoin="round"/><path d="M241.4 677.4l2-.7 1.9-3.9 2 1.1 2-1.1 2 2.8 1.9-3 2 1.5 2-.2 1.9-1 2 .4 2-.3 1.9 4.1 2 0 2-2.3 2-1 1.9-1 2 .5 2-.2 1.9-2.5 2 1.6 2 1.9 2-.7 1.9 1.7 2 1.3 2-1.1 1.9-2.8 2 2.1 2-2.5 1.9 .4 2 .7 2 3.1 2 0 1.9-1.3 2 .2 2-2.2 1.9 3.1 2-2.7 2 1.7 1.9 1.3 2-2.4 2-1.5 2 1.4 1.9 1.6 2 .3" fill="none" stroke="#505050" stroke-width="0.5" stroke-opacity="0.6" stroke-linejoin="round"/><path d="M241.4 676.2l2 .1 1.9-3.4 2 2.5 2-.3 2 1 1.9-2.2 2 3 2-2.3 1.9-.7 2-.1 2-.4 1.9 2 2-.2 2-.8 2 1.6 1.9-1.4 2 1.7 2-5 1.9 .7 2-2 2 2.9 2 3.5 1.9-1.5 2-.8 2 0 1.9 4.2 2 .2 2-2.8 1.9-2.1 2 .9 2-.5 2-1.9 1.9 3.8 2-1.9 2-.4 1.9-1 2 .9 2 1.3 1.9-1.4 2 3.5 2-2.4 2 1.5 1.9-1.2 2-1.7" fill="none" stroke="#505050" stroke-width="0.5" stroke-opacity="0.6" stroke-linejoin="round"/><path d="M241.4 676.3l2-1.4 1.9-.9 2-.7 2 1.3 2 3.1 1.9-3.2 2 .2 2 1.3 1.9 1.1 2-2.2 2-.6 1.9-.1 2-.9 2 1 2-1.9 1.9 1 2 1.6 2-1.6 1.9 .6 2 1.5 2 .4 2-.8 1.9 .8 2-.4 2-.3 1.9-2.6 2 3.1 2 .1 1.9 0 2-1.5 2 .8 2-2.1 1.9 1.9 2 1.9 2-3.8 1.9 1 2 1.3 2 1.8 1.9-3.2 2 .6 2-1.9 2 2.9 1.9-4.5 2 4.9" fill="none" stroke="#505050" stroke-width="0.5" stroke-opacity="0.6" stroke-linejoin="round"/><path d="M241.4 673.2l2 1.2 1.9 1.5 2-2.8 2-.6 2 1.7 1.9-.6 2-1.8 2 .4 1.9 2.8 2 .9 2 1.5 1.9-5.7 2 5.4 2-2.6 2-2.1 1.9 2.8 2 .1 2 .4 1.9 1.2 2-3.9 2 3.4 2-2.1 1.9 2 2-1.7 2 .4 1.9-.8 2-1.2 2 .8 1.9-2 2 3.7 2-2.1 2-1.4 1.9 1 2 2.5 2-.3 1.9-1.9 2 1.8 2 .4 1.9-.7 2-2 2 1 2-2.3 1.9 1.9 2 3" fill="none" stroke="#505050" stroke-width="0.5" stroke-opacity="0.6" stroke-linejoin="round"/><path d="M241.4 674.7l2 .6 1.9 1.1 2-3.6 2 2 2 .6 1.9 .6 2-1.6 2-2.5 1.9 4.2 2 0 2-2.8 1.9 2.9 2 .5 2-4.8 2 5.5 1.9-2.7 2-.9 2 4.4 1.9-6.3 2 1.1 2 1.9 2 .2 1.9-1.1 2 2.3 2-5.1 1.9 3.6 2 .2 2 1.1 1.9-3.3 2 2.4 2 .8 2 0 1.9-5.8 2 6.2 2-3.4 1.9 4.6 2-6 2 2.1 1.9 1.1 2-.8 2 .7 2-1 1.9-.3 2 1.3" fill="none" stroke="#505050" stroke-width="0.5" stroke-opacity="0.6" stroke-linejoin="round"/><path d="M241.4 673l2 .9 1.9 1.6 2-1.7 2 2.7 2-2.7 1.9 1.4 2-3.3 2 4.3 1.9-1.6 2-3.7 2 4.7 1.9-2.8 2 2.9 2-1 2 1.7 1.9-1.9 2 .7 2 1.6 1.9-6.1 2 1.6 2-.2 2 1.4 1.9 2.3 2-1.1 2-.6 1.9 1.1 2-1.8 2 2.3 1.9-2.2 2 1.2 2 .4 2 .6 1.9-1 2-2.2 2 3.1 1.9-1.3 2-1.1 2 3.6 1.9-1.2 2-.5 2 1.7 2-3.4 1.9 1.7 2 .1" fill="none" stroke="#505050" stroke-width="0.5" stroke-opacity="0.6" stroke-linejoin="round"/><path d="M241.4 673.7l2 .4 1.9-1.5 2 .1 2 3.4 2-2.3 1.9-.4 2 1.6 2 .7 1.9 .9 2 .7 2-3 1.9 2.6 2-1.5 2-.9 2-.3 1.9-.5 2 2.8 2-.9 1.9-1 2-2.9 2 .8 2 3 1.9-1.1 2-1.1 2 1.8 1.9 2 2-3.3 2 .4 1.9 1 2 .9 2-3.3 2 1.3 1.9 2.8 2-2.3 2 1.9 1.9-2 2 .8 2-2 1.9 4.2 2-5.2 2 2.5 2 .3 1.9-.2 2-.2" fill="none" stroke="#505050" stroke-width="0.5" stroke-opacity="0.6" stroke-linejoin="round"/><path d="M241.4 676.1l2 1.4 1.9-1.5 2-1.5 2-1.3 2-1.7 1.9 1.8 2 1.6 2-1.2 1.9 .2 2 1.7 2-1.1 1.9-.6 2 1.4 2 .2 2-3.2 1.9 3.1 2-.3 2-2.3 1.9 .9 2-1.1 2 1.5 2-4.5 1.9 5.8 2-2.2 2 3.9 1.9-1.1 2-3.3 2 2.5 1.9-2.4 2 6 2-2.8 2 0 1.9-2.6 2 2.3 2-.9 1.9-1.4 2 3.7 2-1.4 1.9-2.3 2-.1 2 5.1 2-4.3 1.9-.6 2 .4" fill="none" stroke="#505050" stroke-width="0.5" stroke-opacity="0.6" stroke-linejoin="round"/><path d="M241.4 673.4l2 1.5 1.9 .6 2-1.3 2 1.5 2-3.4 1.9 2 2 .6 2 1.4 1.9-.4 2-1.1 2-1.3 1.9 1 2-.3 2 .9 2-.9 1.9-.2 2 1.9 2-3.3 1.9 2.1 2 1.4 2-3.4 2 1.5 1.9 .3 2-.1 2 1 1.9-1.4 2-.5 2 .5 1.9-1.4 2 8.2 2-7.5 2 1 1.9-1.1 2 4.1 2-3.3 1.9 2.5 2-3.5 2-.7 1.9 2.7 2 2.5 2-4 2 .1 1.9 .2 2 2.2" fill="none" stroke="#505050" stroke-width="0.5" stroke-opacity="0.6" stroke-linejoin="round"/><path d="M241.4 671.2l2 2.9 1.9 .4 2 .9 2-.1 2-.1 1.9-.3 2 .5 2-1.9 1.9 2.5 2 .7 2-3.3 1.9-1.8 2 3.2 2 4 2-1.6 1.9-2.6 2-2.5 2 2 1.9 1.5 2 .6 2 .5 2-2.2 1.9 1.1 2-.7 2 1.1 1.9 .1 2-4.1 2 5.2 1.9-.8 2 .2 2-2.5 2 .4 1.9 1.7 2-1.6 2-.9 1.9-2.1 2 2.7 2-2.4 1.9 2.3 2 .5 2-.9 2 1 1.9 2.9 2-1.6" fill="none" stroke="#505050" stroke-width="0.5" stroke-opacity="0.6" stroke-linejoin="round"/><path d="M241.4 677.6l2-3 1.9 .3 2-1.2 2-.5 2 1.2 1.9 .6 2-1.5 2 .7 1.9 .3 2-2.7 2 5.1 1.9-.2 2-4.6 2 .6 2 2.2 1.9-.7 2-6.9 2-22 1.9-21.6 2 14.4 2 11.5 2 5.1 1.9 4.5 2 7.2 2 2.7 1.9 1.9 2-1.2 2 .8 1.9 3.4 2 0 2-1.3 2 2.1 1.9-2.3 2 2.5 2-.8 1.9-2.9 2 .7 2 1.6 1.9-.8 2-1.4 2 5.9 2-.9 1.9-.9 2-.9" fill="none" stroke="#8e2496" stroke-width="0.5" stroke-opacity="0.55" stroke-linejoin="round"/><path d="M241.4 674.9l2 2.8 1.9-4.6 2 .9 2 1.4 2-3.2 1.9 2.2 2 .8 2-1.8 1.9 .6 2 2.1 2-1.8 1.9-2.2 2-1.1 2 1.6 2 1.9 1.9-1.2 2-16.4 2-21.2 1.9 8.2 2 11 2 2.6 2 7.3 1.9 .5 2 5.3 2 1.5 1.9-5.2 2 8.7 2-4.2 1.9 .8 2 4.8 2-1.9 2 1.2 1.9-1.2 2 1.6 2-2.7 1.9 .9 2-.5 2-1.3 1.9 2.1 2 1.5 2-3.2 2 1.7 1.9 .8 2-3.5" fill="none" stroke="#8e2496" stroke-width="0.5" stroke-opacity="0.55" stroke-linejoin="round"/><path d="M241.4 673l2 5 1.9-5 2-.3 2-1.1 2 2.9 1.9-2 2 3.1 2 1.5 1.9-3.2 2 2 2-2.9 1.9 1.9 2-3.1 2 3.3 2 1.1 1.9-1 2-1.6 2-8.6 1.9-20.8 2 8.6 2 9.7 2 5.3 1.9 1.6 2 1.4 2 3.7 1.9-1.7 2 .6 2-2.2 1.9 .6 2 4.1 2-3.4 2 4 1.9-.1 2-1.6 2-3.4 1.9 0 2 3.1 2 .4 1.9-1.5 2 1.4 2 .6 2-1.9 1.9 3 2-2.4" fill="none" stroke="#8e2496" stroke-width="0.5" stroke-opacity="0.55" stroke-linejoin="round"/><path d="M241.4 673.3l2 1.3 1.9-.5 2 1.2 2 .5 2-2.9 1.9 .8 2-.7 2 1.2 1.9 .6 2 2.3 2-2.6 1.9-1.6 2 2.1 2-2.8 2 4.1 1.9-2.5 2-9.7 2-11.8 1.9 .7 2 3.5 2 4.7 2 3.7 1.9 1.6 2 2.8 2 .3 1.9 2.1 2 1.4 2-.6 1.9 .1 2-1.1 2 .1 2 4.5 1.9-.5 2-.3 2-1.9 1.9 1.6 2-1.6 2-.3 1.9-1.4 2 2.1 2 1 2-.1 1.9 1.2 2-1.3" fill="none" stroke="#8e2496" stroke-width="0.5" stroke-opacity="0.55" stroke-linejoin="round"/><path d="M241.4 676l2-.5 1.9-1.3 2-.7 2 .8 2-1 1.9 3 2-1.2 2-1.1 1.9-1.3 2-.1 2 1.7 1.9-.4 2 1.5 2-.8 2-2.2 1.9 2 2-11.6 2-9.6 1.9 6.1 2 5.5 2 7.9 2-2.4 1.9 .6 2-.6 2 1.2 1.9 1.7 2-1.6 2 2.9 1.9-.5 2 2 2 .8 2-2.7 1.9-1.5 2 2.8 2 1 1.9 .4 2-2.5 2 .1 1.9-1.8 2-1.2 2 4.3 2-3.8 1.9 3.4 2-3.3" fill="none" stroke="#8e2496" stroke-width="0.5" stroke-opacity="0.55" stroke-linejoin="round"/><path d="M241.4 676.8l2-4 1.9-2.1 2 5.1 2-1.1 2 1.9 1.9-3.5 2 1.5 2-1.8 1.9 1.3 2-.5 2 2.9 1.9-1.1 2-1.4 2 1.6 2-1.1 1.9 1.4 2-3 2-9.6 1.9-.1 2 1.4 2 3.5 2 3.5 1.9-4.3 2 10 2-6.7 1.9 2.3 2 1.2 2 .9 1.9-3.3 2 2.5 2 2.2 2-.6 1.9-2.7 2 2.7 2-2.7 1.9 2.1 2-.7 2 .7 1.9-.6 2-.1 2 .4 2-.6 1.9 .7 2 .9" fill="none" stroke="#8e2496" stroke-width="0.5" stroke-opacity="0.55" stroke-linejoin="round"/><path d="M241.4 674.3l2 .1 1.9-1.2 2 .8 2 0 2-.3 1.9 .1 2-.5 2 .5 1.9 1.3 2-1.4 2 1.5 1.9 .7 2-1.7 2-1 2 .2 1.9-1.7 2-.9 2-5.6 1.9 .1 2 2.1 2 2.4 2 3.3 1.9-1.1 2 .2 2 3 1.9-2.6 2 2.7 2-1.3 1.9-.1 2-2.5 2 3.4 2 1.1 1.9-2.3 2-.1 2 1.5 1.9-2 2 4.4 2-1.9 1.9-.5 2-1.4 2 1 2 2.6 1.9-2.5 2-1.6" fill="none" stroke="#8e2496" stroke-width="0.5" stroke-opacity="0.55" stroke-linejoin="round"/><path d="M241.4 672.3l2 1 1.9-.1 2 .5 2 1 2-1 1.9 3.7 2-7 2 4.4 1.9-.6 2 .3 2 1.4 1.9 .9 2-5.1 2 1.5 2 .6 1.9-1.8 2 2.9 2-4.6 1.9-5.8 2 4.4 2-.2 2 1.7 1.9 2.1 2 1.3 2-.8 1.9 .3 2 4 2-2.5 1.9-3.1 2 2.2 2 3.7 2-1.9 1.9-.7 2-1.8 2 1.3 1.9 2.1 2-2.9 2 1.9 1.9 .1 2-1.3 2-.9 2 3.1 1.9-4.2 2 .6" fill="none" stroke="#8e2496" stroke-width="0.5" stroke-opacity="0.55" stroke-linejoin="round"/><path d="M241.4 672.7l2 4.3 1.9-.8 2-.2 2-.9 2-1.3 1.9 .6 2-.5 2-1.7 1.9 .3 2 4 2-3.4 1.9 2.5 2 1.6 2-2 2-1.3 1.9 1.5 2 2.3 2 6.4 1.9 2.6 2-.1 2-3.5 2-5.2 1.9 2.5 2-3 2 .5 1.9 .5 2 0 2-3.1 1.9 1.4 2-1.4 2-.9 2 1.8 1.9 1.4 2-5.6 2 3.6 1.9-1.2 2-3.1 2 1.7 1.9 4 2-3.7 2 3.1 2-.2 1.9-2.5 2 1" fill="none" stroke="#8e2496" stroke-width="0.5" stroke-opacity="0.55" stroke-linejoin="round"/><path d="M241.4 674.7l2-1.3 1.9 4.7 2-3.5 2-1.1 2 .5 1.9 .8 2-1.1 2-2 1.9 2.5 2 2.4 2-.2 1.9-.6 2-2.8 2 1.7 2 3.5 1.9-3.8 2 3.9 2 4.5 1.9-2.2 2-2.7 2-4.4 2 1.5 1.9-.2 2-.3 2 .8 1.9-.2 2-1.3 2 2.7 1.9-5.2 2 .3 2 2.8 2 4.5 1.9-4.8 2-.6 2 0 1.9-1 2-.5 2 2.5 1.9 1.4 2-1 2 .8 2-1.1 1.9 .4 2 .4" fill="none" stroke="#8e2496" stroke-width="0.5" stroke-opacity="0.55" stroke-linejoin="round"/><path d="M241.4 673.4l2 1.8 1.9-.5 2-3.3 2 1.9 2 2.1 1.9-2 2-2.4 2 6.1 1.9-.3 2-3.5 2-.5 1.9 1.3 2-1.6 2 3.9 2-1.8 1.9 0 2 .6 2-.5 1.9-2 2 .1 2 .3 2 1.6 1.9-.5 2-.1 2-.5 1.9 .4 2 1.8 2 .2 1.9 .8 2 .8 2-4.5 2-.2 1.9 .2 2 2.9 2-1 1.9-2.6 2 5.3 2-3.2 1.9-1.2 2 2.3 2-.9 2-.2 1.9 1.4 2-.4" fill="none" stroke="#8e2496" stroke-width="0.5" stroke-opacity="0.55" stroke-linejoin="round"/><path d="M241.4 675.4l2-1.1 1.9-2.5 2 1.4 2-.3 2 1.9 1.9-1.1 2 1 2 .5 1.9 2.6 2-4.5 2 3.9 1.9-2.8 2 1 2-.7 2 2 1.9-2.7 2-1.5 2-.1 1.9 1 2 2.7 2-1.9 2-1.8 1.9 1.1 2 2.3 2 0 1.9-4.4 2 2.7 2 1.1 1.9-3.4 2 4.5 2-5.7 2 4.6 1.9-.9 2 1.4 2-.5 1.9-.4 2-.1 2-1.3 1.9 3.1 2-1.8 2-3.1 2 5.4 1.9-3.1 2 .8" fill="none" stroke="#8e2496" stroke-width="0.5" stroke-opacity="0.55" stroke-linejoin="round"/><path d="M241.4 677.7l2-6.3 1.9 1.4 2 1.7 2 1.8 2-3.1 1.9 1.1 2 1.1 2 .5 1.9-4.3 2 3.4 2-.2 1.9 0 2-.7 2-2.8 2-.9 1.9 3.5 2-1.8 2-.5 1.9 4.7 2-.2 2-4.2 2 2.6 1.9 0 2-1 2 3.6 1.9-2.1 2-.7 2 .9 1.9-5.8 2 2.5 2 5.1 2-4.3 1.9 2.3 2 .2 2-2.4 1.9 1.2 2 1 2-.5 1.9 1.8 2-4.3 2-.4 2 5.2 1.9-5.1 2 1.6" fill="none" stroke="#8e2496" stroke-width="0.5" stroke-opacity="0.55" stroke-linejoin="round"/><path d="M241.4 675.4l2-1 1.9 1.4 2-1.3 2-.3 2-.9 1.9 .9 2 1.8 2 1.3 1.9-2.3 2 .2 2 0 1.9-1.3 2 1.1 2 1.4 2-.9 1.9-2.3 2 3.5 2-3.4 1.9 2.6 2-2.6 2-.5 2 3 1.9-1.1 2 .1 2 3.1 1.9-3.1 2-.6 2-.5 1.9-.4 2-.6 2 .4 2 2 1.9 2.3 2 .1 2-2.4 1.9-1.6 2-.4 2 1.5 1.9 .7 2-2.5 2 2.7 2 .9 1.9-1.4 2-.1" fill="none" stroke="#8e2496" stroke-width="0.5" stroke-opacity="0.55" stroke-linejoin="round"/><path d="M241.4 675.7l2-1.1 1.9 .8 2 0 2-3.2 2 .5 1.9 3.6 2 .7 2-4 1.9 1.5 2-2.4 2 3 1.9 0 2 2 2-2.1 2-.6 1.9 .8 2 .7 2-2.3 1.9-3.2 2 3.9 2 .6 2-1.3 1.9 2.6 2-1.7 2-.1 1.9-2.1 2 3.6 2-2.6 1.9 1 2 .4 2 1.1 2-2.1 1.9 2.4 2-2.4 2 1.3 1.9-.8 2 .7 2-.2 1.9 1.9 2-4.6 2 4.9 2-6.2 1.9 4.4 2-5.2" fill="none" stroke="#8e2496" stroke-width="0.5" stroke-opacity="0.55" stroke-linejoin="round"/><path d="M241.4 676.5l2-3 1.9 1.3 2 1.1 2 .2 2-1.7 1.9-3.2 2 2.7 2 .7 1.9 0 2-3.2 2 4 1.9-1.8 2 .7 2-.4 2-1.3 1.9 1.3 2 .4 2-2.8 1.9-4 2 5.4 2 2 2-.2 1.9-.3 2 .4 2-2.4 1.9 2.4 2 .7 2 1.7 1.9-2.9 2 1.1 2 1.8 2-.1 1.9-.3 2-1.6 2-.4 1.9 .5 2-4.2 2 4.2 1.9-1 2 .7 2-2.4 2 4.7 1.9-1.2 2-2.3" fill="none" stroke="#8e2496" stroke-width="0.5" stroke-opacity="0.55" stroke-linejoin="round"/><path d="M241.4 675.5l2 0 1.9-.9 2-3.6 2 4.8 2-.6 1.9-3 2 7.1 2-7 1.9 .3 2 1 2-2.1 1.9 .8 2 1.5 2-1.1 2 1.9 1.9-.5 2 1.6 2 .5 1.9-3.2 2 4.1 2-1.3 2-3.1 1.9-1.4 2 5 2 2.5 1.9-.7 2-4.7 2 2.7 1.9 .9 2-2.1 2 .6 2 .3 1.9-5.5 2 3.8 2 1 1.9-2.1 2 2 2 .9 1.9 .9 2-2.7 2 1.1 2-2 1.9 2.6 2-1.3" fill="none" stroke="#8e2496" stroke-width="0.5" stroke-opacity="0.55" stroke-linejoin="round"/><path d="M241.4 674.7l2 .9 1.9-2.1 2 1.4 2 1.3 2-1.9 1.9-4.1 2 2.8 2 2.1 1.9-.7 2 1.4 2-1.5 1.9 .2 2-1.5 2 2.8 2 .3 1.9-2.3 2-1.6 2 2.5 1.9-5.3 2 2.4 2 2.5 2-.6 1.9 3.6 2-2.6 2-.4 1.9 1 2-2.6 2 2.9 1.9 .2 2-2 2-.3 2 1.7 1.9-.9 2 1.2 2-2.6 1.9 1.6 2 4.1 2-1.1 1.9-4.6 2-1.2 2 1.7 2-1.2 1.9-.1 2 4.2" fill="none" stroke="#8e2496" stroke-width="0.5" stroke-opacity="0.55" stroke-linejoin="round"/><path d="M241.4 674.6l2-5.2 1.9 7.2 2-3.1 2 0 2 1.3 1.9-.8 2 .2 2 .9 1.9 1 2-1.8 2-.3 1.9 2.7 2-4.1 2 2.4 2-1.1 1.9-.1 2 2.4 2-3.8 1.9 2.4 2-1.8 2 2.7 2-5.1 1.9 5.6 2 .6 2-3.4 1.9-1.2 2 .5 2 2.2 1.9-.5 2 .9 2-1.7 2-1.3 1.9 3 2-3.4 2 2.2 1.9 3.6 2-1.7 2-.8 1.9-5.3 2 4 2 .2 2-1.8 1.9 .8 2-.7" fill="none" stroke="#8e2496" stroke-width="0.5" stroke-opacity="0.55" stroke-linejoin="round"/><path d="M241.4 673.7l2 1.6 1.9-.5 2 .7 2 .1 2 1.7 1.9-3.3 2 0 2-2.2 1.9 2.1 2 1.2 2 .2 1.9-1.1 2-.8 2 1.4 2 0 1.9-.9 2 .1 2 .7 1.9-.1 2-1.4 2 2.1 2-2.1 1.9-.5 2 1.9 2-2.1 1.9 3.5 2-3.2 2 1.8 1.9-1.8 2 2.6 2-2.4 2 .9 1.9 1 2 1 2-3.4 1.9 3.2 2-1.2 2-1.5 1.9 2 2-1.8 2 1.9 2 1.3 1.9-3.7 2 3.8" fill="none" stroke="#8e2496" stroke-width="0.5" stroke-opacity="0.55" stroke-linejoin="round"/>
<path d="M241.4 674.6l2.2-.6 2.2 1.4 2.3-2.3 2.2 2.1 2.2-.6 2.2-2.8 2.3 2.7 2.2 1.5 2.2-4.7 2.2 6.2 2.3-.7 2.2 .6 2.2-.9 2.2-4.4 2.2 3 2.3-.5 2.2-1.4 2.2 5 2.2-2.2 2.3-.8 2.2 .7 2.2 .2 2.2-.6 2.3-1.6 2.2 2.7 2.2 0 2.2-2.9 2.2-2.1 2.3 4.3 2.2-1.9 2.2-.7 2.2 3.1 2.3-4.7 2.2 2.7 2.2 2.4 2.2-3.4 2.3-.4 2.2 .3 2.2-1.1" fill="none" stroke="#8a1a8e" stroke-width="0.5" stroke-opacity="0.6"/><path d="M241.4 671.5l2.2 4.3 2.2 .2 2.3 1 2.2-2 2.2-3.3 2.2 5.6 2.3-4.8 2.2 1.4 2.2 .8 2.2 .1 2.3-.1 2.2 1.2 2.2 1.6 2.2 .1 2.2-4.9 2.3 3.8 2.2-3.2 2.2 2.3 2.2-3.6 2.3 3.1 2.2-.7 2.2 .7 2.2-2.2 2.3 1.8 2.2 3.2 2.2-6.7 2.2 3 2.2-.6 2.3 2.5 2.2-2.2 2.2-2.2 2.2 .5 2.3 2 2.2-.2 2.2-2.5 2.2 2 2.3-2.1 2.2 7.4 2.2-3.2" fill="none" stroke="#8a1a8e" stroke-width="0.5" stroke-opacity="0.6"/><path d="M241.4 673.4l2.2 4.5 2.2-4.8 2.3 4.3 2.2-3 2.2 1.9 2.2-1.5 2.3 1.2 2.2-2.2 2.2 2.6 2.2-2.9 2.3 2.7 2.2-.8 2.2-1.7 2.2 5.2 2.2-2.2 2.3-.7 2.2-1.2 2.2 2.8 2.2-2 2.3-5.6 2.2 7.2 2.2-2.7 2.2 2.5 2.3-2.1 2.2 2.1 2.2-2.9 2.2-.5 2.2 3.2 2.3-1.5 2.2-1.9 2.2 1.9 2.2-3.7 2.3 1.4 2.2 1.5 2.2-1.8 2.2-1.6 2.3 6.1 2.2-1.8 2.2-.7" fill="none" stroke="#8a1a8e" stroke-width="0.5" stroke-opacity="0.6"/><path d="M241.4 668l2.2 9.1 2.2-2.7 2.3-2.2 2.2 1.3 2.2 2.1 2.2-.4 2.3 .6 2.2-.3 2.2-3.7 2.2 4 2.3-.6 2.2 2.5 2.2-4.9 2.2 2.6 2.2 .4 2.3-3.3 2.2 .7 2.2 2.3 2.2 0 2.3-2.1 2.2 1.1 2.2-.1 2.2-.9 2.3 2.4 2.2-1.4 2.2-2.9 2.2 2.5 2.2-1.7 2.3 3.7 2.2-.3 2.2 .5 2.2-3.3 2.3 2.4 2.2-1.1 2.2-4.6 2.2 5.3 2.3 .5 2.2-2.3 2.2 2.8" fill="none" stroke="#8a1a8e" stroke-width="0.5" stroke-opacity="0.6"/><path d="M241.4 673.5l2.2-2.8 2.2 5.8 2.3-1 2.2-2.3 2.2 2.7 2.2-.6 2.3-2.1 2.2 1.4 2.2 1.2 2.2-5.1 2.3 3.3 2.2 1 2.2 .4 2.2-4.1 2.2 2.3 2.3 3.4 2.2-2.9 2.2-.7 2.2 2.2 2.3-.4 2.2-1.5 2.2 .8 2.2-1.1 2.3-1.5 2.2 3.4 2.2-2.9 2.2 5.4 2.2-6.5 2.3 3.1 2.2-1.7 2.2 1.6 2.2 1 2.3-1.3 2.2 2.4 2.2-1.5 2.2 1.1 2.3-4.9 2.2 4.1 2.2-2.5" fill="none" stroke="#8a1a8e" stroke-width="0.5" stroke-opacity="0.6"/><path d="M241.4 673l2.2-1.4 2.2 6.3 2.3-6.9 2.2 6.4 2.2-3.4 2.2 1 2.3-1.5 2.2 2 2.2-2.3 2.2 1 2.3 .4 2.2-2.2 2.2 2.4 2.2 2.1 2.2 1 2.3-.4 2.2-4.3 2.2 2.1 2.2-.5 2.3 1.3 2.2-1.6 2.2 2.2 2.2 .6 2.3-.5 2.2-1.1 2.2-1.7 2.2-1.2 2.2 .4 2.3 .7 2.2-.2 2.2-.8 2.2 2.2 2.3-1 2.2 1.7 2.2-3 2.2 1.2 2.3 .3 2.2-1.6 2.2 2.8" fill="none" stroke="#8a1a8e" stroke-width="0.5" stroke-opacity="0.6"/><path d="M241.4 669.9l2.2 5.2 2.2-2.2 2.3 1.6 2.2-2.3 2.2 3.9 2.2-.5 2.3-2.7 2.2 .4 2.2 2.4 2.2-.9 2.3-.7 2.2 0 2.2 3.9 2.2-2.4 2.2 1.1 2.3-2.2 2.2-2.1 2.2 0 2.2 2.1 2.3 2.5 2.2-2.7 2.2-.5 2.2 4.3 2.3-5.4 2.2-.5 2.2 2.9 2.2-.6 2.2 3.8 2.3 .9 2.2-3.1 2.2-1.4 2.2-1.1 2.3 .4 2.2 .3 2.2 .5 2.2 1.1 2.3-3 2.2 1.8 2.2 3.4" fill="none" stroke="#8a1a8e" stroke-width="0.5" stroke-opacity="0.6"/><path d="M241.4 670.4l2.2 4.6 2.2 2.1 2.3-2.4 2.2-2.2 2.2 .5 2.2 1.6 2.3 2.5 2.2-3.1 2.2-1 2.2 2.1 2.3-4.4 2.2 .7 2.2 5.9 2.2-3.5 2.2-1 2.3 2.8 2.2-1.7 2.2-.3 2.2 .1 2.3-1.3 2.2 3.4 2.2 .2 2.2 1.3 2.3-.9 2.2-1.9 2.2-2.3 2.2 4.4 2.2-6.5 2.3 7.6 2.2-2.1 2.2 1.2 2.2 .9 2.3-2.9 2.2 1.6 2.2 1.7 2.2-5.8 2.3 .6 2.2 4.2 2.2 .1" fill="none" stroke="#8a1a8e" stroke-width="0.5" stroke-opacity="0.6"/>
<line x1="241.4" y1="674.5" x2="328.1" y2="674.5" stroke="#3a3a3a" stroke-width="4.4"/>
<path d="M241.4 672.1l2.2 4.9 2.2-2.1 2.3 .7 2.2-2 2.2 1.4 2.2-1.4 2.3 3.4 2.2-3.1 2.2 .6 2.2 .6 2.3-1.4 2.2 .9 2.2-.6 2.2-.5 2.2-.6 2.3-1.5 2.2 .6 2.2 2.4 2.2-1.2 2.3 .8 2.2 .6 2.2-1.1 2.2 0 2.3 2.6 2.2-.4 2.2-1.1 2.2-.7 2.2 .1 2.3-1.6 2.2 3.9 2.2-.4 2.2-1.2 2.3 0 2.2 .8 2.2-3.8 2.2-.9 2.3 3.7 2.2-2.4 2.2 .7" fill="none" stroke="#333" stroke-width="0.8" stroke-opacity="0.7"/><path d="M241.4 673.1l2.2 1.9 2.2 1.1 2.3-2.4 2.2-2.1 2.2 3.3 2.2-.4 2.3-2.4 2.2 .2 2.2 4.8 2.2-3.4 2.3 .5 2.2-1.3 2.2 .6 2.2 1.5 2.2 0 2.3-2 2.2 .3 2.2 2.6 2.2-.5 2.3-2.5 2.2 3.2 2.2-1.7 2.2-.3 2.3 0 2.2 .2 2.2 1.1 2.2-.5 2.2 1.5 2.3-3.5 2.2 .7 2.2 .1 2.2 .8 2.3-.6 2.2 0 2.2 .6 2.2 3.3 2.3-2.2 2.2-1.4 2.2 .9" fill="none" stroke="#333" stroke-width="0.8" stroke-opacity="0.7"/><path d="M241.4 671.7l2.2 4.1 2.2-1.6 2.3-.1 2.2-2.9 2.2 5 2.2-3 2.3 2.2 2.2-3.3 2.2 .2 2.2 2.8 2.3-1.6 2.2-.2 2.2-.1 2.2 1.4 2.2 .6 2.3-.6 2.2 .8 2.2-1.7 2.2 3.2 2.3-1.5 2.2 .5 2.2 1.2 2.2-2.6 2.3-.1 2.2 .1 2.2-2.1 2.2 1.5 2.2-1.2 2.3 .3 2.2 0 2.2 2.2 2.2-1.1 2.3-.5 2.2-.9 2.2 3 2.2-2.7 2.3 2 2.2 1.8 2.2-.1" fill="none" stroke="#333" stroke-width="0.8" stroke-opacity="0.7"/><path d="M241.4 673.8l2.2 2.9 2.2-4.6 2.3 2.4 2.2-.5 2.2-1.1 2.2 4.2 2.3-3.6 2.2 .2 2.2-1 2.2 2 2.3 .3 2.2 .2 2.2-1.5 2.2-.7 2.2 2 2.3-1.7 2.2 3.9 2.2-3.2 2.2-.1 2.3 1.2 2.2-.9 2.2 .4 2.2-.7 2.3 3 2.2-2.7 2.2-1 2.2 .7 2.2 1.4 2.3-1.4 2.2-.1 2.2 .2 2.2 .9 2.3 0 2.2-.4 2.2 .1 2.2-.6 2.3 1.2 2.2-2.4 2.2 2.8" fill="none" stroke="#333" stroke-width="0.8" stroke-opacity="0.7"/><path d="M241.4 674.4l2.2-1.2 2.2-.1 2.3 1.3 2.2-.4 2.2-.1 2.2-1 2.3 1.1 2.2 .6 2.2 1.7 2.2-2.3 2.3-.4 2.2-.4 2.2 .5 2.2-1 2.2 .9 2.3 2.4 2.2-1.9 2.2 .1 2.2 .4 2.3-.4 2.2-1.8 2.2 2.5 2.2 0 2.3-1 2.2 1.6 2.2-.4 2.2-1.2 2.2 1.7 2.3-1.4 2.2-2.6 2.2 5.3 2.2-.4 2.3-3.1 2.2 .3 2.2 1.8 2.2-2.8 2.3 .8 2.2-.1 2.2-.4" fill="none" stroke="#333" stroke-width="0.8" stroke-opacity="0.7"/><path d="M241.4 676.4l2.2 .1 2.2-4.9 2.3 4.3 2.2 .3 2.2-1 2.2-.3 2.3-.2 2.2-.2 2.2-.5 2.2 .3 2.3-.6 2.2-1.1 2.2 2.7 2.2-.7 2.2-1.2 2.3-.6 2.2 2.8 2.2-3 2.2 2.1 2.3-.9 2.2-1.1 2.2 1.1 2.2 .6 2.3-.8 2.2-.7 2.2-.8 2.2 2.2 2.2-.9 2.3 2.4 2.2-1.3 2.2-.4 2.2 3.4 2.3-3.3 2.2 1.2 2.2-3 2.2 2.2 2.3 2.6 2.2-1.6 2.2-2.7" fill="none" stroke="#333" stroke-width="0.8" stroke-opacity="0.7"/><path d="M241.4 671.7l2.2 .4 2.2 4.7 2.3-5.3 2.2 3.7 2.2-1.1 2.2 2.7 2.3-1.8 2.2 1.5 2.2-2.5 2.2 2.6 2.3 1.1 2.2-4.2 2.2 3 2.2-1.9 2.2 .5 2.3-.6 2.2-1.6 2.2 .8 2.2-1 2.3 .3 2.2 2.4 2.2-.8 2.2 2.4 2.3-3.1 2.2 1.7 2.2 0 2.2-2 2.2-.4 2.3 3.5 2.2-4.7 2.2 .3 2.2 3.8 2.3 .4 2.2-3.1 2.2 1.8 2.2-1.7 2.3 .8 2.2 .4 2.2-1.6" fill="none" stroke="#333" stroke-width="0.8" stroke-opacity="0.7"/><path d="M241.4 677.4l2.2-2.4 2.2 .4 2.3 .8 2.2-2.5 2.2 2.8 2.2-.8 2.3-.8 2.2-.3 2.2 1.4 2.2-3.8 2.3 2.5 2.2-1.3 2.2 .6 2.2-1.6 2.2 2.4 2.3-2.1 2.2 2.3 2.2-2.1 2.2 2.1 2.3-2.5 2.2 3.2 2.2 0 2.2-1.3 2.3-.7 2.2 1.7 2.2-1.5 2.2 1.2 2.2 1 2.3-4.6 2.2 3.1 2.2 .1 2.2 .1 2.3-.9 2.2-.6 2.2 1.5 2.2 .3 2.3 .1 2.2 .6 2.2-1.6" fill="none" stroke="#333" stroke-width="0.8" stroke-opacity="0.7"/><path d="M241.4 676.9l2.2-3.7 2.2 1.6 2.3-.7 2.2-.3 2.2-1.1 2.2 2.7 2.3-.9 2.2 1.6 2.2-2.1 2.2 .9 2.3 .1 2.2-.3 2.2-.4 2.2 .7 2.2-3 2.3 6.9 2.2-4.6 2.2-1.9 2.2 .3 2.3 2.6 2.2-2.3 2.2 1.9 2.2-2.6 2.3 1.3 2.2 .9 2.2 .2 2.2 3 2.2-1.7 2.3 .4 2.2 .5 2.2-.8 2.2-1.2 2.3 1 2.2-.8 2.2-1.5 2.2 2.2 2.3-2.5 2.2 .4 2.2-.8" fill="none" stroke="#333" stroke-width="0.8" stroke-opacity="0.7"/><path d="M241.4 675.3l2.2-1.4 2.2 .1 2.3 .4 2.2 .9 2.2-.1 2.2-2.7 2.3 2.4 2.2-.3 2.2 2.9 2.2-3.5 2.3 3.5 2.2-3.4 2.2-1.5 2.2 2.2 2.2 .9 2.3-1.8 2.2-1 2.2 1.8 2.2 1.6 2.3-2.2 2.2-.3 2.2-.2 2.2 2.9 2.3-.7 2.2-1.5 2.2-2 2.2 2.4 2.2 .7 2.3-1.1 2.2 1.1 2.2-2.5 2.2-1 2.3 2.2 2.2 .1 2.2-.2 2.2 .7 2.3 1.7 2.2-3.2 2.2 1" fill="none" stroke="#333" stroke-width="0.8" stroke-opacity="0.7"/><path d="M241.4 672.8l2.2 2 2.2-.1 2.3 2.7 2.2-2.3 2.2-.5 2.2 2.1 2.3-3.1 2.2 2.7 2.2-1.1 2.2-1 2.3 .5 2.2 .3 2.2 .3 2.2-3.3 2.2 .9 2.3 3 2.2 .3 2.2-4.3 2.2 1.8 2.3 3.4 2.2-5.1 2.2 2.5 2.2 .4 2.3-.6 2.2 .4 2.2-2.4 2.2 4.9 2.2-4.1 2.3 1.3 2.2 2.3 2.2 .1 2.2-.7 2.3-3.9 2.2 .6 2.2 2.8 2.2-3.4 2.3 1.6 2.2 .1 2.2-.7" fill="none" stroke="#333" stroke-width="0.8" stroke-opacity="0.7"/><path d="M241.4 676.4l2.2-3.1 2.2 1.7 2.3-2 2.2 2.6 2.2-.4 2.2-.6 2.3 .2 2.2-.7 2.2 1.6 2.2-.7 2.3 .4 2.2 .2 2.2 .4 2.2 .1 2.2-2.6 2.3 .2 2.2 1.3 2.2-2.2 2.2 2.9 2.3-.7 2.2 .8 2.2-1.1 2.2-1.3 2.3 .1 2.2 .8 2.2 .9 2.2 .9 2.2-1.8 2.3 .6 2.2-2.5 2.2 2.8 2.2-3.4 2.3 1.8 2.2 2.1 2.2-1.6 2.2 .8 2.3-.5 2.2-1.8 2.2 3.1" fill="none" stroke="#333" stroke-width="0.8" stroke-opacity="0.7"/><path d="M241.4 675.8l2.2 .7 2.2-3.4 2.3-.2 2.2 .2 2.2 3.8 2.2-1.4 2.3-1.5 2.2-1.6 2.2 3.1 2.2-.4 2.3 .3 2.2-1.1 2.2-1.4 2.2 1.8 2.2-.6 2.3-1.2 2.2 1.8 2.2-1 2.2 1 2.3-1 2.2 .1 2.2 .6 2.2 1.2 2.3-1.9 2.2 .8 2.2-1.2 2.2 .2 2.2 1.3 2.3 0 2.2-2.7 2.2 1.4 2.2 1.3 2.3-.7 2.2-1.8 2.2 2.3 2.2 2.9 2.3-2.3 2.2-.3 2.2-2.2" fill="none" stroke="#333" stroke-width="0.8" stroke-opacity="0.7"/><path d="M241.4 674.1l2.2-1.7 2.2 3.4 2.3-2.1 2.2 1.1 2.2-1.3 2.2 4.2 2.3-4.7 2.2 .9 2.2 5 2.2-4.1 2.3 3.2 2.2-5.7 2.2 1.2 2.2-1.1 2.2 3.8 2.3-.3 2.2-1.2 2.2-.5 2.2-1.8 2.3 2.2 2.2-2 2.2 1.9 2.2 1.4 2.3-1.6 2.2 2 2.2-3.2 2.2-.7 2.2 1.1 2.3 1.2 2.2 .1 2.2-.8 2.2 .9 2.3 2.1 2.2-1.7 2.2-1.9 2.2-1.8 2.3 3.8 2.2-.8 2.2-.9" fill="none" stroke="#333" stroke-width="0.8" stroke-opacity="0.7"/>
<text transform="translate(14.8,566.8) rotate(-90)" font-size="11.2" text-anchor="middle" fill="#111">Phototagged</text>
<text transform="translate(14.8,649.7) rotate(-90)" font-size="11.2" text-anchor="middle" fill="#111">Non-tagged</text>
<text x="297.9" y="567.6" font-size="11.2" fill="#111"><tspan font-style="italic">z</tspan> = 10</text>
<line x1="334.7" y1="555" x2="334.7" y2="572.4" stroke="#888" stroke-width="1"/>
<line x1="297.2" y1="603.5" x2="322.5" y2="603.5" stroke="#111" stroke-width="1"/>
<text x="309.8" y="616.6" font-size="11.1" text-anchor="middle" fill="#111">0.5 s</text>
<text x="69.5" y="706.6" font-size="11.1" text-anchor="middle" fill="#111">E-Ext</text>
<text x="172.5" y="706.6" font-size="11.1" text-anchor="middle" fill="#111">L-Ext</text>
<text x="283.3" y="706.6" font-size="11.1" text-anchor="middle" fill="#111">E-Ret</text>
<defs><pattern id="dotG" width="5.8" height="2.9" patternUnits="userSpaceOnUse"><circle cx="1.45" cy="0.7" r="0.5" fill="#555"/><circle cx="4.35" cy="2.15" r="0.5" fill="#555"/></pattern><pattern id="dotP" width="6.2" height="2.9" patternUnits="userSpaceOnUse"><circle cx="1.5" cy="0.7" r="0.5" fill="#7a3a9a"/><circle cx="4.6" cy="2.15" r="0.5" fill="#7a3a9a"/></pattern></defs>
<text x="377.2" y="469.5" font-size="15.5" font-weight="bold" fill="#111" stroke="#000" stroke-width="0.6">g</text>
<circle cx="409" cy="473.2" r="4.6" fill="#7f7f7f" stroke="#333" stroke-width="0.9"/>
<circle cx="421.4" cy="473.2" r="4.6" fill="#7a1299" stroke="#333" stroke-width="0.9"/>
<circle cx="409" cy="491.2" r="4.6" fill="#fff" stroke="#333" stroke-width="0.9"/>
<circle cx="421.4" cy="491.2" r="4.6" fill="#fff" stroke="#333" stroke-width="0.9"/>
<circle cx="407.5" cy="490.0" r="0.5" fill="#444"/>
<circle cx="419.9" cy="490.0" r="0.5" fill="#8a3a9e"/>
<circle cx="410.3" cy="490.9" r="0.5" fill="#444"/>
<circle cx="422.7" cy="490.9" r="0.5" fill="#8a3a9e"/>
<circle cx="408.6" cy="492.8" r="0.5" fill="#444"/>
<circle cx="421.0" cy="492.8" r="0.5" fill="#8a3a9e"/>
<text x="432.4" y="477.2" font-size="11.3" fill="#111">CS-responsive</text>
<text x="432.4" y="495.2" font-size="11.3" fill="#111">Non-responsive</text>
<text x="429.5" y="524.2" font-size="11.2" text-anchor="middle" fill="#111">Control</text>
<text x="490.3" y="524.2" font-size="11.2" text-anchor="middle" fill="#111">CalEx</text>
<text x="429.5" y="621.9" font-size="11.2" text-anchor="middle" fill="#111">Control</text>
<text x="490.3" y="621.9" font-size="11.2" text-anchor="middle" fill="#111">CalEx</text>
<path d="M429.50,558.00 L416.25,580.95 A26.5,26.5 0 1 1 442.75,580.95 Z" fill="#808080" stroke="#333" stroke-width="1.2" stroke-linejoin="round"/>
<path d="M429.50,565.00 L442.75,587.95 A26.5,26.5 0 0 1 416.25,587.95 Z" fill="#fff" stroke="#333" stroke-width="1.2" stroke-linejoin="round"/>
<path d="M429.50,565.00 L442.75,587.95 A26.5,26.5 0 0 1 416.25,587.95 Z" fill="url(#dotG)"/>
<text x="430.2" y="551.3" font-size="11.3" text-anchor="middle" fill="#e8e8e8">83%</text>
<path d="M490.00,566.00 L511.83,551.16 A26.4,26.4 0 1 1 468.17,551.16 Z" fill="#fff" stroke="#333" stroke-width="1.2" stroke-linejoin="round"/>
<path d="M490.00,566.00 L511.83,551.16 A26.4,26.4 0 1 1 468.17,551.16 Z" fill="url(#dotP)"/>
<path d="M489.80,560.50 L468.63,546.11 A25.6,25.6 0 0 1 510.97,546.11 Z" fill="#7a1299" stroke="#333" stroke-width="1.2" stroke-linejoin="round"/>
<text x="488.7" y="551.6" font-size="11.3" text-anchor="middle" fill="#f0e4f4">31%</text>
<text x="497.5" y="546.6" font-size="7" fill="#f0e4f4">*</text>
<path d="M429.90,657.40 L403.60,657.40 A26.3,26.3 0 0 1 456.20,657.40 Z" fill="#808080" stroke="#333" stroke-width="1.2" stroke-linejoin="round"/>
<path d="M429.90,662.40 L456.20,662.40 A26.3,26.3 0 0 1 403.60,662.40 Z" fill="#fff" stroke="#333" stroke-width="1.2" stroke-linejoin="round"/>
<path d="M429.90,662.40 L456.20,662.40 A26.3,26.3 0 0 1 403.60,662.40 Z" fill="url(#dotG)"/>
<text x="430.7" y="648.6" font-size="11.3" text-anchor="middle" fill="#e8e8e8">50%</text>
<path d="M490.60,656.50 L465.49,664.66 A26.4,26.4 0 1 1 515.71,664.66 Z" fill="#7a1299" stroke="#333" stroke-width="1.2" stroke-linejoin="round"/>
<path d="M490.60,661.30 L514.95,669.21 A25.6,25.6 0 0 1 466.25,669.21 Z" fill="#fff" stroke="#333" stroke-width="1.2" stroke-linejoin="round"/>
<path d="M490.60,661.30 L514.95,669.21 A25.6,25.6 0 0 1 466.25,669.21 Z" fill="url(#dotP)"/>
<text x="491.1" y="648.6" font-size="11.3" text-anchor="middle" fill="#f0e4f4">60%</text>
<text transform="translate(388,562.2) rotate(-90)" font-size="11.2" text-anchor="middle" fill="#111">Phototagged</text>
<text transform="translate(388,660.3) rotate(-90)" font-size="11.2" text-anchor="middle" fill="#111">Non-tagged</text>
<text x="462.1" y="704" font-size="11.1" text-anchor="middle" fill="#111">E-Ext</text>
<defs><pattern id="dotV" width="6" height="3.4" patternUnits="userSpaceOnUse"><circle cx="1.5" cy="0.8" r="0.45" fill="#555"/><circle cx="4.5" cy="2.5" r="0.45" fill="#555"/></pattern><pattern id="dotW" width="6" height="3.4" patternUnits="userSpaceOnUse"><circle cx="1.5" cy="0.8" r="0.5" fill="#fff"/><circle cx="4.5" cy="2.5" r="0.5" fill="#fff"/></pattern></defs>
<text x="544.4" y="469.8" font-size="15.5" font-weight="bold" fill="#111" stroke="#000" stroke-width="0.6">h</text>
<rect x="584.2" y="471" width="7.6" height="7.3" fill="#fff" stroke="#333" stroke-width="0.8"/>
<rect x="596.4" y="471" width="8" height="7.3" fill="#7a1299" stroke="#333" stroke-width="0.8"/>
<rect x="584.2" y="486.6" width="7.6" height="7.4" fill="#fff" stroke="#333" stroke-width="0.8"/>
<rect x="596.4" y="486.6" width="8" height="7.4" fill="#7a1299" stroke="#333" stroke-width="0.8"/>
<circle cx="598.5" cy="488.5" r="0.45" fill="#fff"/><circle cx="586.5" cy="488.8" r="0.4" fill="#555"/>
<text x="610.5" y="478" font-size="11.3" fill="#111">Non-tagged</text>
<text x="610.5" y="494" font-size="11.3" fill="#111">Phototagged</text>
<line x1="607.4" y1="527.2" x2="607.4" y2="672" stroke="#333" stroke-width="0.9"/>
<line x1="604.2" y1="527.6" x2="607.4" y2="527.6" stroke="#333" stroke-width="0.9"/>
<text x="598.9" y="531.5" font-size="11" text-anchor="end" fill="#111">1.0</text>
<line x1="604.2" y1="560.4" x2="607.4" y2="560.4" stroke="#333" stroke-width="0.9"/>
<text x="598.9" y="564.3" font-size="11" text-anchor="end" fill="#111">0.5</text>
<line x1="604.2" y1="593.2" x2="607.4" y2="593.2" stroke="#333" stroke-width="0.9"/>
<text x="598.9" y="597.1" font-size="11" text-anchor="end" fill="#111">0</text>
<line x1="604.2" y1="626.0" x2="607.4" y2="626.0" stroke="#333" stroke-width="0.9"/>
<text x="598.9" y="629.9" font-size="11" text-anchor="end" fill="#111">−0.5</text>
<line x1="604.2" y1="658.8" x2="607.4" y2="658.8" stroke="#333" stroke-width="0.9"/>
<text x="598.9" y="662.7" font-size="11" text-anchor="end" fill="#111">−1.0</text>
<line x1="607.4" y1="593.2" x2="680" y2="593.2" stroke="#444" stroke-width="0.8"/>
<text transform="translate(567.1,599.9) rotate(-90)" font-size="11.2" text-anchor="middle" fill="#111">Freezing-related unit activity</text>
<path d="M619.90,545.20 C620.06,546.96 620.04,551.76 620.20,555.00 C620.36,558.24 620.64,560.14 620.80,563.20 C620.96,566.26 621.01,568.98 621.10,572.00 C621.19,575.02 621.17,578.15 621.30,580.00 C621.43,581.85 621.46,581.31 621.80,582.30 C622.14,583.29 622.66,584.35 623.20,585.50 C623.74,586.65 624.37,587.30 624.80,588.70 C625.23,590.10 625.67,591.59 625.60,593.30 C625.53,595.01 624.94,596.63 624.40,598.20 C623.86,599.77 623.16,600.27 622.60,602.00 C622.04,603.73 621.70,605.24 621.30,607.80 C620.90,610.36 620.60,613.10 620.40,616.20 C620.20,619.30 620.29,620.79 620.20,625.00 C620.11,629.21 620.06,636.97 619.90,639.60 C619.74,642.23 619.46,642.23 619.30,639.60 C619.14,636.97 619.09,629.21 619.00,625.00 C618.91,620.79 619.00,619.30 618.80,616.20 C618.60,613.10 618.30,610.36 617.90,607.80 C617.50,605.24 617.16,603.73 616.60,602.00 C616.04,600.27 615.34,599.77 614.80,598.20 C614.26,596.63 613.67,595.01 613.60,593.30 C613.53,591.59 613.97,590.10 614.40,588.70 C614.83,587.30 615.46,586.65 616.00,585.50 C616.54,584.35 617.06,583.29 617.40,582.30 C617.74,581.31 617.77,581.85 617.90,580.00 C618.03,578.15 618.01,575.02 618.10,572.00 C618.19,568.98 618.24,566.26 618.40,563.20 C618.56,560.14 618.84,558.24 619.00,555.00 C619.16,551.76 619.14,546.96 619.30,545.20 C619.46,543.44 619.74,543.44 619.90,545.20 Z" fill="#fff" stroke="#222" stroke-width="0.8" stroke-linejoin="round"/>
<line x1="613.8" y1="592.9" x2="625.4" y2="592.9" stroke="#111" stroke-width="1.3"/>
<line x1="615" y1="598.2" x2="624.2" y2="598.2" stroke="#111" stroke-width="0.6"/>
<line x1="618.2" y1="582.3" x2="621" y2="582.3" stroke="#111" stroke-width="0.6"/>
<path d="M632.90,546.20 C633.22,547.24 633.69,550.09 634.10,552.00 C634.51,553.91 634.70,555.00 635.20,556.80 C635.70,558.60 636.40,560.09 636.90,562.00 C637.40,563.91 637.75,565.96 638.00,567.40 C638.25,568.84 638.32,568.99 638.30,570.00 C638.28,571.01 638.10,571.94 637.90,573.00 C637.70,574.06 637.54,574.82 637.20,575.90 C636.86,576.98 636.45,577.85 636.00,579.00 C635.55,580.15 634.86,580.95 634.70,582.30 C634.54,583.65 634.83,585.20 635.10,586.50 C635.37,587.80 635.82,588.35 636.20,589.50 C636.58,590.65 637.16,591.73 637.20,592.90 C637.24,594.07 636.80,594.81 636.40,596.00 C636.00,597.19 635.49,598.15 635.00,599.50 C634.51,600.85 634.01,601.25 633.70,603.50 C633.39,605.75 633.41,609.03 633.30,612.00 C633.19,614.97 633.17,616.94 633.10,620.00 C633.03,623.06 633.04,627.38 632.90,629.00 C632.76,630.62 632.44,630.62 632.30,629.00 C632.16,627.38 632.17,623.06 632.10,620.00 C632.03,616.94 632.01,614.97 631.90,612.00 C631.79,609.03 631.81,605.75 631.50,603.50 C631.19,601.25 630.69,600.85 630.20,599.50 C629.71,598.15 629.20,597.19 628.80,596.00 C628.40,594.81 627.96,594.07 628.00,592.90 C628.04,591.73 628.62,590.65 629.00,589.50 C629.38,588.35 629.83,587.80 630.10,586.50 C630.37,585.20 630.66,583.65 630.50,582.30 C630.34,580.95 629.65,580.15 629.20,579.00 C628.75,577.85 628.34,576.98 628.00,575.90 C627.66,574.82 627.50,574.06 627.30,573.00 C627.10,571.94 626.92,571.01 626.90,570.00 C626.88,568.99 626.95,568.84 627.20,567.40 C627.45,565.96 627.80,563.91 628.30,562.00 C628.80,560.09 629.50,558.60 630.00,556.80 C630.50,555.00 630.69,553.91 631.10,552.00 C631.51,550.09 631.98,547.24 632.30,546.20 C632.62,545.16 632.58,545.16 632.90,546.20 Z" fill="#fff" stroke="#222" stroke-width="0.8" stroke-linejoin="round"/><path d="M632.90,546.20 C633.22,547.24 633.69,550.09 634.10,552.00 C634.51,553.91 634.70,555.00 635.20,556.80 C635.70,558.60 636.40,560.09 636.90,562.00 C637.40,563.91 637.75,565.96 638.00,567.40 C638.25,568.84 638.32,568.99 638.30,570.00 C638.28,571.01 638.10,571.94 637.90,573.00 C637.70,574.06 637.54,574.82 637.20,575.90 C636.86,576.98 636.45,577.85 636.00,579.00 C635.55,580.15 634.86,580.95 634.70,582.30 C634.54,583.65 634.83,585.20 635.10,586.50 C635.37,587.80 635.82,588.35 636.20,589.50 C636.58,590.65 637.16,591.73 637.20,592.90 C637.24,594.07 636.80,594.81 636.40,596.00 C636.00,597.19 635.49,598.15 635.00,599.50 C634.51,600.85 634.01,601.25 633.70,603.50 C633.39,605.75 633.41,609.03 633.30,612.00 C633.19,614.97 633.17,616.94 633.10,620.00 C633.03,623.06 633.04,627.38 632.90,629.00 C632.76,630.62 632.44,630.62 632.30,629.00 C632.16,627.38 632.17,623.06 632.10,620.00 C632.03,616.94 632.01,614.97 631.90,612.00 C631.79,609.03 631.81,605.75 631.50,603.50 C631.19,601.25 630.69,600.85 630.20,599.50 C629.71,598.15 629.20,597.19 628.80,596.00 C628.40,594.81 627.96,594.07 628.00,592.90 C628.04,591.73 628.62,590.65 629.00,589.50 C629.38,588.35 629.83,587.80 630.10,586.50 C630.37,585.20 630.66,583.65 630.50,582.30 C630.34,580.95 629.65,580.15 629.20,579.00 C628.75,577.85 628.34,576.98 628.00,575.90 C627.66,574.82 627.50,574.06 627.30,573.00 C627.10,571.94 626.92,571.01 626.90,570.00 C626.88,568.99 626.95,568.84 627.20,567.40 C627.45,565.96 627.80,563.91 628.30,562.00 C628.80,560.09 629.50,558.60 630.00,556.80 C630.50,555.00 630.69,553.91 631.10,552.00 C631.51,550.09 631.98,547.24 632.30,546.20 C632.62,545.16 632.58,545.16 632.90,546.20 Z" fill="url(#dotV)"/>
<line x1="628" y1="575.9" x2="637.2" y2="575.9" stroke="#111" stroke-width="1.3"/>
<line x1="627.5" y1="565" x2="637.7" y2="565" stroke="#111" stroke-width="0.4" stroke-dasharray="0.8,0.8"/>
<line x1="630.3" y1="588.9" x2="634.9" y2="588.9" stroke="#111" stroke-width="0.4" stroke-dasharray="0.8,0.8"/>
<path d="M653.00,538.80 C653.20,539.92 653.37,542.52 653.50,545.00 C653.63,547.48 653.54,550.26 653.70,552.60 C653.86,554.94 654.17,556.09 654.40,558.00 C654.63,559.91 654.77,561.49 655.00,563.20 C655.23,564.91 655.47,565.97 655.70,567.50 C655.93,569.03 656.10,569.81 656.30,571.70 C656.50,573.59 656.67,575.71 656.80,578.00 C656.93,580.29 656.96,582.10 657.00,584.40 C657.04,586.70 657.16,589.07 657.00,590.80 C656.84,592.53 656.48,592.87 656.10,594.00 C655.72,595.13 655.28,595.93 654.90,597.10 C654.52,598.27 654.25,599.35 654.00,600.50 C653.75,601.65 653.63,600.89 653.50,603.50 C653.37,606.11 653.35,608.43 653.30,615.00 C653.25,621.57 653.20,631.90 653.20,640.00 C653.20,648.10 653.23,655.68 653.30,660.00 C653.37,664.32 653.62,662.56 653.60,664.00 C653.58,665.44 653.32,666.67 653.20,668.00 C653.08,669.33 653.09,670.79 652.95,671.40 C652.82,672.01 652.59,672.01 652.45,671.40 C652.32,670.79 652.32,669.33 652.20,668.00 C652.08,666.67 651.82,665.44 651.80,664.00 C651.78,662.56 652.03,664.32 652.10,660.00 C652.17,655.68 652.20,648.10 652.20,640.00 C652.20,631.90 652.15,621.57 652.10,615.00 C652.05,608.43 652.03,606.11 651.90,603.50 C651.77,600.89 651.65,601.65 651.40,600.50 C651.15,599.35 650.88,598.27 650.50,597.10 C650.12,595.93 649.68,595.13 649.30,594.00 C648.92,592.87 648.56,592.53 648.40,590.80 C648.24,589.07 648.36,586.70 648.40,584.40 C648.44,582.10 648.47,580.29 648.60,578.00 C648.73,575.71 648.90,573.59 649.10,571.70 C649.30,569.81 649.47,569.03 649.70,567.50 C649.93,565.97 650.17,564.91 650.40,563.20 C650.63,561.49 650.77,559.91 651.00,558.00 C651.23,556.09 651.54,554.94 651.70,552.60 C651.86,550.26 651.77,547.48 651.90,545.00 C652.03,542.52 652.20,539.92 652.40,538.80 C652.60,537.68 652.80,537.68 653.00,538.80 Z" fill="#7a1299" stroke="#3a0a48" stroke-width="0.6" stroke-linejoin="round"/>
<line x1="649.4" y1="572.1" x2="656.0" y2="572.1" stroke="#fff" stroke-width="0.9"/>
<line x1="649.4" y1="584.8" x2="656.0" y2="584.8" stroke="#fff" stroke-width="0.9"/>
<line x1="649.4" y1="591.2" x2="656.0" y2="591.2" stroke="#fff" stroke-width="0.9"/>
<path d="M666.80,559.00 C667.07,559.90 667.38,562.09 667.70,564.00 C668.02,565.91 668.20,567.80 668.60,569.60 C669.00,571.40 669.50,572.49 669.90,574.00 C670.30,575.51 670.48,576.65 670.80,578.00 C671.12,579.35 671.47,580.35 671.70,581.50 C671.93,582.65 672.15,583.32 672.10,584.40 C672.05,585.48 671.72,586.40 671.40,587.50 C671.08,588.60 670.73,589.15 670.30,590.50 C669.87,591.85 669.40,593.56 669.00,595.00 C668.60,596.44 668.39,597.35 668.10,598.50 C667.81,599.65 667.58,598.43 667.40,601.40 C667.22,604.37 667.17,609.85 667.10,615.00 C667.03,620.15 666.93,626.76 667.00,630.00 C667.07,633.24 667.37,632.05 667.50,633.00 C667.63,633.95 667.74,634.49 667.70,635.30 C667.66,636.11 667.43,636.65 667.30,637.50 C667.17,638.35 667.10,637.71 667.00,640.00 C666.90,642.29 666.88,648.36 666.75,650.20 C666.62,652.04 666.38,652.04 666.25,650.20 C666.12,648.36 666.10,642.29 666.00,640.00 C665.90,637.71 665.83,638.35 665.70,637.50 C665.57,636.65 665.34,636.11 665.30,635.30 C665.26,634.49 665.37,633.95 665.50,633.00 C665.63,632.05 665.93,633.24 666.00,630.00 C666.07,626.76 665.97,620.15 665.90,615.00 C665.83,609.85 665.78,604.37 665.60,601.40 C665.42,598.43 665.19,599.65 664.90,598.50 C664.61,597.35 664.40,596.44 664.00,595.00 C663.60,593.56 663.13,591.85 662.70,590.50 C662.27,589.15 661.92,588.60 661.60,587.50 C661.28,586.40 660.95,585.48 660.90,584.40 C660.85,583.32 661.07,582.65 661.30,581.50 C661.53,580.35 661.88,579.35 662.20,578.00 C662.52,576.65 662.70,575.51 663.10,574.00 C663.50,572.49 664.00,571.40 664.40,569.60 C664.80,567.80 664.98,565.91 665.30,564.00 C665.62,562.09 665.93,559.90 666.20,559.00 C666.47,558.10 666.53,558.10 666.80,559.00 Z" fill="#7a1299" stroke="#3a0a48" stroke-width="0.6" stroke-linejoin="round"/><path d="M666.80,559.00 C667.07,559.90 667.38,562.09 667.70,564.00 C668.02,565.91 668.20,567.80 668.60,569.60 C669.00,571.40 669.50,572.49 669.90,574.00 C670.30,575.51 670.48,576.65 670.80,578.00 C671.12,579.35 671.47,580.35 671.70,581.50 C671.93,582.65 672.15,583.32 672.10,584.40 C672.05,585.48 671.72,586.40 671.40,587.50 C671.08,588.60 670.73,589.15 670.30,590.50 C669.87,591.85 669.40,593.56 669.00,595.00 C668.60,596.44 668.39,597.35 668.10,598.50 C667.81,599.65 667.58,598.43 667.40,601.40 C667.22,604.37 667.17,609.85 667.10,615.00 C667.03,620.15 666.93,626.76 667.00,630.00 C667.07,633.24 667.37,632.05 667.50,633.00 C667.63,633.95 667.74,634.49 667.70,635.30 C667.66,636.11 667.43,636.65 667.30,637.50 C667.17,638.35 667.10,637.71 667.00,640.00 C666.90,642.29 666.88,648.36 666.75,650.20 C666.62,652.04 666.38,652.04 666.25,650.20 C666.12,648.36 666.10,642.29 666.00,640.00 C665.90,637.71 665.83,638.35 665.70,637.50 C665.57,636.65 665.34,636.11 665.30,635.30 C665.26,634.49 665.37,633.95 665.50,633.00 C665.63,632.05 665.93,633.24 666.00,630.00 C666.07,626.76 665.97,620.15 665.90,615.00 C665.83,609.85 665.78,604.37 665.60,601.40 C665.42,598.43 665.19,599.65 664.90,598.50 C664.61,597.35 664.40,596.44 664.00,595.00 C663.60,593.56 663.13,591.85 662.70,590.50 C662.27,589.15 661.92,588.60 661.60,587.50 C661.28,586.40 660.95,585.48 660.90,584.40 C660.85,583.32 661.07,582.65 661.30,581.50 C661.53,580.35 661.88,579.35 662.20,578.00 C662.52,576.65 662.70,575.51 663.10,574.00 C663.50,572.49 664.00,571.40 664.40,569.60 C664.80,567.80 664.98,565.91 665.30,564.00 C665.62,562.09 665.93,559.90 666.20,559.00 C666.47,558.10 666.53,558.10 666.80,559.00 Z" fill="url(#dotW)"/>
<line x1="661.5" y1="584.8" x2="671.5" y2="584.8" stroke="#fff" stroke-width="0.8"/>
<line x1="661.5" y1="587" x2="671.5" y2="587" stroke="#fff" stroke-width="0.8"/>
<line x1="619.9" y1="535.2" x2="633.6" y2="535.2" stroke="#111" stroke-width="0.9"/>
<text x="626.9" y="536" font-size="12" text-anchor="middle" fill="#111">*</text>
<text x="624.7" y="690.2" font-size="11.2" text-anchor="middle" fill="#111">Control</text>
<text x="663.9" y="690.2" font-size="11.2" text-anchor="middle" fill="#111">CalEx</text>
</svg>
</body></html>
